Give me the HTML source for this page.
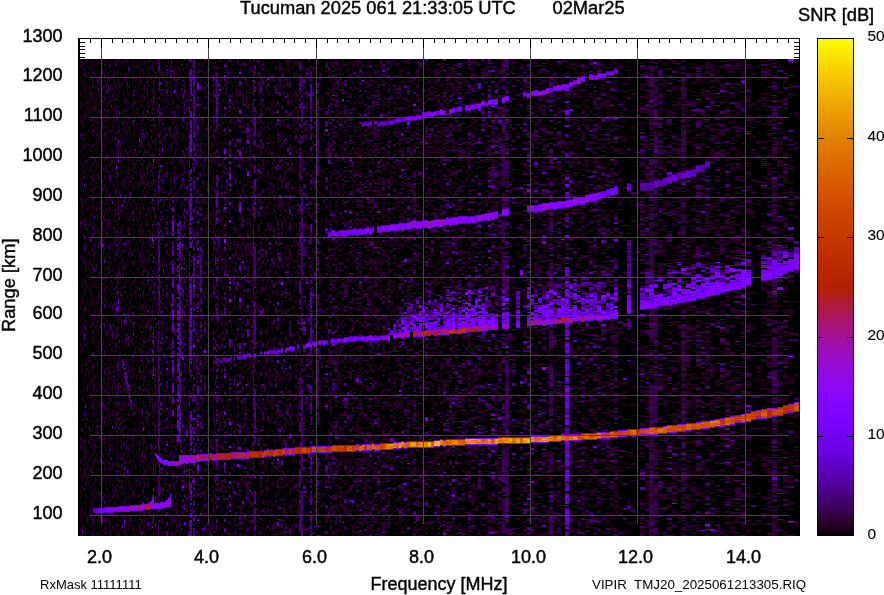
<!DOCTYPE html>
<html><head><meta charset="utf-8"><title>Ionogram</title>
<style>
html,body{margin:0;padding:0;background:#fff;width:884px;height:595px;overflow:hidden}
svg{display:block}
text{font-family:'Liberation Sans', Arial, Helvetica, sans-serif;fill:#000;stroke:#000;stroke-width:0.3px}
.t{font-size:18px;stroke-width:0.45px}
.b{font-size:18.3px;stroke-width:0.4px}
.s{font-size:13.5px;white-space:pre;stroke-width:0}
.c{font-size:15.5px;stroke-width:0.1px}
</style></head><body>
<svg width="884" height="595" viewBox="0 0 884 595" shape-rendering="crispEdges">
<rect x="78" y="59" width="722" height="477" fill="#000"/>
<g fill="none"><path stroke="#1f0018" stroke-width="1" d="M78.5 67v2m0 2v3m0 2v1m0 22v5m0 10v1m0 18v3m0 18v1m0 15v2m0 28v2m0 6v1m0 93v2m0 5v2m0 29v3m0 27v1m0 4v3m0 7v3m0 30v3m0 2v2m0 6v2m0 6v1m0 18v3m0 36v2m0 18v4M79.5 73v1m0 7v5m0 29v3m0 15v3m0 2v2m0 13v3m0 23v1m0 10v2m0 4v3m0 5v2m0 10v3m0 7v1m0 4v1m0 31v4m0 19v1m0 11v2m0 57v2m0 3v3m0 7v1m0 6v2m0 15v6m0 46v1m0 3v2m0 3v1m0 6v1m0 7v3m0 13v2m0 36v5m0 4v1M80.5 64v4m0 8v5m0 26v1m0 6v4m0 5v1m0 9v1m0 27v4m0 10v1m0 2v3m0 4v1m0 43v4m0 4v1m0 28v2m0 30v1m0 3v7m0 7v3m0 15v1m0 22v3m0 11v1m0 17v4m0 44v1m0 30v1m0 22v9m0 12v6m0 10v3M81.5 65v2m0 13v4m0 14v2m0 40v4m0 19v3m0 7v2m0 11v6m0 1v2m0 12v3m0 45v2m0 14v1m0 21v3m0 12v1m0 3v2m0 4v3m0 4v3m0 37v3m0 1v1m0 19v1m0 13v1m0 20v1m0 3v4m0 26v3m0 13v2m0 5v1m0 1v4m0 3v3m0 3v1m0 15v1m0 4v1M82.5 69v2m0 10v3m0 5v4m0 3v2m0 14v1m0 2v1m0 3v2m0 6v1m0 35v4m0 2v5m0 28v9m0 2v2m0 13v2m0 4v3m0 18v2m0 13v1m0 12v1m0 17v2m0 20v1m0 18v4m0 2v4m0 8v1m0 8v1m0 12v2m0 13v2m0 1v2m0 15v4m0 28v2m0 16v3m0 6v2m0 7v4m0 14v1m0 3v3m0 4v3m0 4v2M83.5 60v1m0 9v2m0 5v3m0 7v3m0 6v3m0 4v2m0 8v2m0 6v1m0 33v2m0 8v1m0 28v1m0 7v6m0 5v2m0 7v2m0 34v2m0 17v4m0 13v3m0 14v3m0 1v5m0 43v1m0 26v1m0 61v1m0 11v1m0 22v2m0 27v1M84.5 61v2m0 23v6m0 18v2m0 46v1m0 56v1m0 5v3m0 8v3m0 17v3m0 18v1m0 8v1m0 24v4m0 1v1m0 66v4m0 75v2m0 14v3m0 55v2M85.5 72v2m0 7v1m0 43v2m0 15v2m0 86v2m0 15v4m0 31v3m0 25v2m0 3v1m0 9v3m0 5v5m0 12v3m0 7v1m0 5v4m0 1v3m0 2v1m0 12v1m0 7v2m0 11v10m0 11v3m0 20v2m0 18v2m0 23v1m0 29v2M86.5 67v1m0 16v1m0 1v4m0 9v4m0 4v5m0 23v2m0 33v1m0 3v3m0 8v2m0 3v2m0 16v1m0 10v3m0 21v2m0 14v4m0 2v4m0 10v2m0 4v3m0 1v3m0 9v3m0 4v3m0 10v4m0 15v2m0 2v3m0 6v1m0 10v2m0 2v3m0 18v2m0 2v1m0 17v1m0 4v3m0 33v3m0 25v1m0 2v3m0 42v3M87.5 95v3m0 2v2m0 5v1m0 54v1m0 14v3m0 6v2m0 11v1m0 8v3m0 31v1m0 22v3m0 6v2m0 22v3m0 46v2m0 47v3m0 27v2m0 1v2m0 27v2m0 5v3m0 6v1m0 2v2m0 17v7m0 14v2M88.5 72v3m0 23v2m0 15v2m0 27v2m0 25v2m0 23v3m0 5v3m0 9v1m0 8v2m0 23v3m0 25v1m0 25v3m0 2v3m0 33v1m0 14v3m0 15v2m0 24v1m0 25v1m0 20v3m0 5v5m0 1v3m0 17v1m0 3v1m0 29v1m0 4v1m0 6v4M89.5 65v3m0 15v2m0 4v2m0 36v3m0 19v2m0 24v2m0 5v3m0 4v4m0 25v2m0 13v1m0 5v4m0 46v3m0 4v1m0 10v1m0 5v1m0 22v1m0 12v3m0 6v2m0 4v1m0 6v5m0 17v2m0 11v4m0 2v5m0 20v5m0 2v1m0 10v2m0 51v4m0 3v1m0 6v3m0 7v1m0 2v1M90.5 66v6m0 4v2m0 9v2m0 7v3m0 5v1m0 10v1m0 9v2m0 12v1m0 4v1m0 24v3m0 4v1m0 13v2m0 14v1m0 6v2m0 5v8m0 26v1m0 8v1m0 15v1m0 4v8m0 53v2m0 4v2m0 5v3m0 21v2m0 4v2m0 6v3m0 4v2m0 22v1m0 10v3m0 6v2m0 19v2m0 24v7m0 3v3m0 7v2m0 19v1M91.5 78v3m0 2v7m0 6v2m0 8v2m0 1v2m0 2v1m0 5v1m0 13v1m0 80v2m0 6v1m0 28v1m0 9v5m0 4v3m0 6v2m0 3v1m0 12v5m0 2v1m0 2v2m0 10v1m0 11v1m0 20v2m0 6v3m0 4v2m0 2v2m0 19v1m0 7v1m0 18v1m0 4v1m0 7v2m0 19v8m0 5v2m0 36v2M92.5 63v2m0 6v2m0 8v4m0 4v2m0 3v3m0 2v2m0 10v1m0 8v1m0 5v1m0 8v2m0 18v4m0 2v6m0 10v2m0 17v2m0 3v4m0 1v2m0 2v3m0 10v4m0 17v2m0 23v3m0 5v2m0 3v1m0 2v3m0 1v1m0 3v3m0 16v4m0 8v4m0 2v1m0 3v1m0 1v2m0 29v2m0 7v4m0 1v10m0 7v2m0 4v2m0 70v2m0 14v5m0 9v2m0 20v2M93.5 74v1m0 9v2m0 8v1m0 12v2m0 1v4m0 4v3m0 32v3m0 18v1m0 46v2m0 4v1m0 6v2m0 7v2m0 2v2m0 9v3m0 100v1m0 19v4m0 34v3m0 19v3m0 7v2m0 15v3m0 4v1m0 11v2m0 4v2m0 12v1m0 5v1m0 21v1M94.5 93v2m0 11v5m0 5v4m0 23v3m0 8v1m0 20v4m0 29v1m0 5v1m0 8v2m0 1v7m0 15v1m0 13v1m0 1v2m0 1v1m0 14v2m0 12v2m0 15v3m0 8v4m0 35v4m0 9v4m0 4v2m0 12v3m0 10v3m0 3v2m0 8v1m0 22v3m0 11v1m0 2v2m0 19v1m0 1v1m0 1v2m0 2v2m0 18v1m0 3v1m0 7v3M95.5 64v1m0 24v1m0 14v3m0 11v3m0 5v3m0 3v2m0 15v2m0 21v2m0 15v1m0 19v1m0 5v1m0 23v2m0 17v1m0 28v1m0 17v2m0 2v2m0 2v1m0 6v2m0 22v1m0 17v3m0 10v2m0 15v2m0 17v1m0 10v2m0 11v3m0 29v2m0 16v7m0 3v4m0 18v1m0 17v1M96.5 81v1m0 35v7m0 5v2m0 1v2m0 6v4m0 19v4m0 118v3m0 24v2m0 10v1m0 5v1m0 15v2m0 8v1m0 16v2m0 14v3m0 5v3m0 9v2m0 8v2m0 3v7m0 3v1m0 5v1m0 17v3m0 28v1m0 7v3m0 2v1m0 17v1M97.5 59v2m0 3v2m0 4v5m0 8v5m0 1v3m0 3v4m0 9v4m0 9v4m0 25v3m0 2v1m0 30v2m0 18v3m0 25v2m0 2v1m0 14v1m0 3v8m0 14v1m0 21v1m0 11v4m0 4v1m0 12v1m0 38v4m0 3v2m0 11v3m0 8v3m0 2v3m0 42v3m0 16v1m0 4v1m0 10v4m0 6v4m0 1v2m0 11v3m0 3v4M98.5 60v4m0 10v5m0 12v3m0 9v2m0 3v3m0 5v2m0 1v1m0 1v1m0 10v5m0 20v2m0 1v2m0 3v2m0 5v3m0 12v1m0 5v2m0 17v3m0 22v1m0 5v2m0 1v3m0 4v2m0 11v1m0 17v1m0 2v1m0 14v2m0 13v2m0 4v1m0 6v2m0 8v5m0 23v2m0 5v3m0 7v2m0 14v2m0 2v3m0 12v1m0 14v2m0 1v1m0 4v1m0 5v4m0 38v3m0 3v1m0 15v3M99.5 79v4m0 24v1m0 18v1m0 9v3m0 31v1m0 11v3m0 13v2m0 6v4m0 28v1m0 8v2m0 6v1m0 15v1m0 4v1m0 52v2m0 4v2m0 5v1m0 60v2m0 3v2m0 1v2m0 3v5m0 23v4m0 8v1m0 18v2m0 17v1m0 31v2M100.5 78v3m0 2v4m0 9v2m0 2v4m0 14v2m0 8v2m0 3v2m0 3v3m0 26v1m0 32v4m0 12v4m0 18v3m0 3v1m0 12v1m0 6v1m0 18v1m0 2v1m0 8v3m0 9v3m0 1v2m0 24v1m0 2v3m0 25v1m0 7v2m0 3v3m0 13v2m0 1v1m0 6v3m0 3v2m0 9v2m0 12v1m0 14v1m0 29v2m0 44v3m0 2v2M101.5 71v3m0 13v3m0 5v4m0 18v3m0 1v1m0 9v4m0 4v2m0 50v4m0 37v1m0 10v2m0 13v2m0 15v4m0 9v1m0 35v2m0 7v1m0 8v3m0 2v1m0 9v2m0 4v2m0 13v1m0 3v2m0 1v3m0 22v5m0 15v1m0 2v3m0 9v2m0 24v2m0 11v2m0 1v1m0 19v1m0 11v1m0 13v2M102.5 60v4m0 2v1m0 13v2m0 4v2m0 40v3m0 17v2m0 47v1m0 10v3m0 25v2m0 48v3m0 3v1m0 20v2m0 8v2m0 17v1m0 17v2m0 3v1m0 33v1m0 7v2m0 54v2m0 15v1m0 12v1M103.5 94v2m0 5v4m0 7v1m0 8v1m0 1v4m0 7v1m0 7v3m0 5v2m0 5v4m0 5v2m0 13v1m0 61v3m0 10v3m0 2v2m0 2v2m0 20v2m0 7v1m0 65v1m0 4v2m0 1v1m0 10v2m0 42v2m0 58v2m0 4v2m0 20v1m0 7v1m0 11v1M104.5 59v4m0 17v2m0 18v2m0 1v1m0 2v2m0 3v3m0 5v4m0 16v1m0 10v2m0 9v2m0 5v1m0 17v4m0 13v1m0 12v1m0 7v7m0 9v3m0 20v2m0 3v4m0 1v2m0 20v4m0 17v4m0 7v3m0 16v2m0 15v1m0 13v4m0 26v4m0 4v4m0 23v6m0 23v3m0 3v2m0 11v1m0 26v1M105.5 59v4m0 13v4m0 5v2m0 2v1m0 1v2m0 4v2m0 23v2m0 23v3m0 3v3m0 19v4m0 1v1m0 3v1m0 13v3m0 7v2m0 34v4m0 3v1m0 40v2m0 57v1m0 10v4m0 2v6m0 9v5m0 2v3m0 3v1m0 12v2m0 1v1m0 17v4m0 25v4m0 3v4m0 14v2m0 3v2m0 3v2m0 7v1m0 23v3M106.5 103v2m0 4v6m0 43v1m0 1v1m0 4v3m0 5v1m0 16v2m0 2v1m0 4v3m0 10v3m0 11v1m0 7v2m0 63v4m0 3v1m0 3v3m0 11v1m0 13v2m0 1v2m0 4v2m0 6v4m0 6v1m0 21v6m0 15v4m0 10v1m0 15v2m0 9v2m0 27v3m0 22v2m0 23v2m0 4v2M107.5 65v3m0 7v1m0 13v2m0 12v1m0 11v3m0 20v3m0 5v2m0 4v4m0 7v5m0 2v3m0 16v5m0 5v7m0 20v2m0 3v2m0 28v2m0 7v3m0 12v2m0 5v2m0 10v2m0 3v3m0 4v3m0 7v1m0 4v3m0 6v2m0 10v3m0 27v4m0 3v1m0 5v2m0 27v2m0 29v1m0 2v1m0 4v1m0 3v1m0 7v2m0 14v1m0 3v1m0 4v1m0 3v3m0 6v2m0 16v2M108.5 76v2m0 5v4m0 15v3m0 4v2m0 1v2m0 4v2m0 10v2m0 17v1m0 3v2m0 21v4m0 1v2m0 17v2m0 5v2m0 12v4m0 3v3m0 24v2m0 11v6m0 27v2m0 2v3m0 12v1m0 12v2m0 9v2m0 11v6m0 3v1m0 9v3m0 4v3m0 24v1m0 4v3m0 12v1m0 3v4m0 3v2m0 2v2m0 16v4m0 5v4m0 3v3m0 13v2m0 2v2m0 12v1m0 4v3m0 2v3m0 7v2M109.5 68v4m0 23v4m0 25v1m0 4v4m0 48v2m0 45v1m0 18v1m0 1v1m0 6v1m0 4v3m0 27v1m0 9v2m0 3v3m0 1v4m0 22v2m0 16v4m0 7v1m0 7v1m0 18v1m0 11v2m0 13v2m0 4v2m0 12v1m0 38v3m0 37v1m0 9v8M110.5 61v1m0 16v2m0 24v1m0 36v1m0 1v2m0 36v2m0 6v1m0 2v4m0 13v3m0 7v1m0 1v9m0 4v3m0 7v3m0 4v3m0 7v6m0 4v1m0 4v1m0 9v1m0 33v2m0 8v4m0 10v2m0 4v2m0 11v1m0 8v6m0 19v2m0 13v2m0 8v2m0 38v1m0 3v1m0 14v1m0 4v2M111.5 128v1m0 1v2m0 16v7m0 7v4m0 6v1m0 58v5m0 17v1m0 15v2m0 12v1m0 1v3m0 13v3m0 6v2m0 7v1m0 5v2m0 21v4m0 5v1m0 16v4m0 3v1m0 16v1m0 24v2m0 5v2m0 4v1m0 6v1m0 19v3m0 6v1m0 61v2M112.5 63v2m0 9v3m0 7v1m0 30v2m0 5v3m0 1v2m0 41v3m0 24v3m0 9v3m0 32v3m0 2v4m0 13v4m0 12v2m0 9v1m0 29v2m0 23v4m0 4v3m0 8v2m0 2v4m0 28v2m0 5v1m0 27v3m0 2v9m0 47v1m0 2v1m0 4v1m0 10v2M113.5 75v4m0 5v1m0 11v6m0 9v2m0 9v1m0 7v2m0 3v1m0 13v2m0 43v1m0 23v1m0 6v1m0 4v2m0 10v1m0 14v1m0 7v1m0 22v2m0 43v3m0 3v2m0 14v2m0 10v2m0 27v3m0 28v3m0 2v2m0 5v1m0 22v3m0 4v2m0 6v1m0 20v1m0 16v2m0 15v1M114.5 59v1m0 10v1m0 4v3m0 10v3m0 2v3m0 2v2m0 7v2m0 2v2m0 9v3m0 3v2m0 1v2m0 5v2m0 15v3m0 8v3m0 2v3m0 1v1m0 12v2m0 13v2m0 7v6m0 5v4m0 6v1m0 10v4m0 3v3m0 8v1m0 43v3m0 3v3m0 28v1m0 2v2m0 8v1m0 3v4m0 6v3m0 4v2m0 3v5m0 32v2m0 10v1m0 6v2m0 24v2m0 5v1m0 18v2m0 21v1m0 20v2M115.5 82v2m0 11v1m0 14v4m0 11v2m0 41v3m0 18v1m0 3v3m0 14v1m0 1v1m0 28v2m0 2v2m0 6v2m0 17v2m0 17v1m0 18v3m0 2v1m0 6v1m0 2v2m0 6v2m0 18v1m0 29v1m0 2v2m0 18v1m0 5v5m0 2v2m0 3v3m0 16v1m0 27v1m0 6v4m0 15v2m0 14v4m0 4v2M116.5 99v3m0 4v4m0 78v2m0 3v3m0 7v2m0 9v3m0 6v1m0 10v3m0 2v2m0 15v2m0 2v2m0 14v1m0 11v2m0 11v1m0 48v1m0 15v2m0 15v3m0 29v2m0 3v2m0 5v1m0 4v1m0 18v4m0 61v2m0 5v7m0 3v2M117.5 59v3m0 17v2m0 24v1m0 5v1m0 26v3m0 22v2m0 18v4m0 2v2m0 3v3m0 6v2m0 19v2m0 12v2m0 38v3m0 3v1m0 30v1m0 16v1m0 1v2m0 32v3m0 11v2m0 18v3m0 6v1m0 6v4m0 17v3m0 4v1m0 2v1m0 5v7m0 7v3m0 6v1m0 11v3m0 2v2m0 16v2m0 5v1M118.5 70v2m0 21v1m0 2v2m0 13v5m0 22v2m0 34v1m0 27v3m0 14v5m0 60v1m0 4v4m0 22v1m0 10v1m0 12v3m0 5v1m0 60v3m0 8v1m0 13v2m0 42v2m0 19v3m0 2v4m0 13v1m0 12v3M119.5 62v1m0 5v2m0 12v3m0 15v4m0 18v2m0 17v3m0 5v2m0 16v1m0 5v2m0 8v2m0 5v1m0 13v3m0 5v2m0 13v2m0 15v2m0 10v2m0 7v2m0 3v3m0 10v1m0 3v4m0 5v5m0 1v2m0 3v1m0 3v2m0 43v2m0 11v2m0 6v2m0 22v2m0 20v1m0 8v2m0 79v3m0 17v2M120.5 65v1m0 6v4m0 28v2m0 28v4m0 3v5m0 1v3m0 14v2m0 38v3m0 2v5m0 24v4m0 3v3m0 31v2m0 11v2m0 14v3m0 10v3m0 27v8m0 11v4m0 10v5m0 3v2m0 8v2m0 1v4m0 5v5m0 12v2m0 1v3m0 2v1m0 4v4m0 6v2m0 23v3m0 2v4m0 10v2m0 21v1M121.5 68v1m0 2v2m0 13v3m0 30v3m0 9v2m0 28v2m0 21v2m0 5v5m0 30v4m0 24v2m0 33v1m0 7v4m0 12v4m0 1v1m0 16v2m0 5v2m0 7v2m0 7v3m0 21v1m0 25v5m0 2v1m0 14v1m0 51v1m0 4v2m0 4v1m0 5v5m0 10v4m0 13v3M122.5 124v2m0 10v3m0 9v3m0 5v2m0 12v2m0 6v2m0 11v2m0 19v4m0 11v1m0 22v3m0 5v2m0 2v2m0 2v2m0 1v2m0 28v1m0 5v5m0 18v1m0 36v1m0 9v5m0 3v1m0 59v2m0 8v2m0 25v6m0 26v1m0 17v3M123.5 61v3m0 15v2m0 15v1m0 15v2m0 6v1m0 31v1m0 2v5m0 24v4m0 6v1m0 7v1m0 25v1m0 18v2m0 45v1m0 5v1m0 19v1m0 8v3m0 16v2m0 21v1m0 7v3m0 60v2m0 10v3m0 13v3m0 12v4m0 28v4M124.5 101v4m0 22v3m0 27v3m0 25v3m0 58v3m0 44v1m0 30v1m0 3v2m0 13v4m0 39v1m0 9v2m0 7v4m0 9v2m0 21v2m0 48v4m0 28v3M125.5 59v3m0 5v3m0 2v2m0 6v3m0 18v4m0 1v2m0 7v1m0 5v4m0 13v1m0 15v1m0 14v1m0 1v2m0 21v3m0 10v1m0 6v2m0 16v1m0 6v2m0 3v2m0 14v3m0 17v3m0 9v1m0 3v1m0 6v7m0 2v5m0 3v1m0 9v3m0 5v4m0 3v4m0 3v3m0 5v3m0 12v1m0 14v3m0 13v3m0 5v2m0 23v1m0 24v3m0 3v1m0 5v3m0 3v7m0 3v2m0 7v4m0 24v2M126.5 72v1m0 1v2m0 14v2m0 24v2m0 10v3m0 17v3m0 8v3m0 22v1m0 20v3m0 8v5m0 44v2m0 12v4m0 4v1m0 4v2m0 15v2m0 33v3m0 27v1m0 22v1m0 7v2m0 55v2m0 12v2m0 4v2m0 5v2m0 12v2m0 18v3M127.5 61v3m0 6v1m0 52v1m0 9v4m0 2v1m0 15v2m0 8v3m0 1v6m0 26v2m0 1v3m0 6v10m0 12v2m0 18v1m0 11v1m0 30v1m0 11v3m0 27v2m0 23v1m0 8v2m0 8v1m0 5v2m0 21v2m0 20v1m0 17v2m0 10v1m0 8v2m0 21v3m0 16v2m0 7v2m0 3v3M128.5 79v1m0 13v3m0 4v2m0 14v2m0 6v1m0 2v4m0 6v3m0 12v4m0 2v3m0 3v3m0 17v4m0 11v1m0 27v3m0 24v2m0 6v1m0 43v5m0 72v1m0 7v2m0 8v1m0 30v3m0 2v2m0 5v4m0 5v3m0 25v2m0 2v2m0 15v2m0 8v2m0 6v5m0 4v3M129.5 62v1m0 4v3m0 2v1m0 30v3m0 15v5m0 11v1m0 2v3m0 17v2m0 13v8m0 2v2m0 7v2m0 24v2m0 8v3m0 9v1m0 4v1m0 8v4m0 17v3m0 5v1m0 15v3m0 46v2m0 3v1m0 3v4m0 22v2m0 30v4m0 12v1m0 1v2m0 23v3m0 6v2m0 7v2m0 5v1m0 12v2m0 20v3m0 1v2M130.5 113v1m0 1v3m0 21v2m0 8v4m0 14v1m0 2v1m0 4v2m0 42v1m0 30v5m0 16v1m0 39v2m0 10v3m0 5v4m0 2v4m0 30v2m0 1v3m0 10v3m0 6v1m0 1v1m0 15v3m0 19v2m0 38v1m0 7v3m0 6v3m0 19v1m0 9v4M131.5 63v4m0 10v3m0 26v3m0 28v1m0 22v3m0 30v1m0 6v4m0 24v2m0 31v3m0 23v3m0 1v1m0 6v3m0 13v2m0 7v1m0 6v2m0 6v3m0 14v2m0 8v3m0 2v2m0 1v1m0 2v3m0 7v3m0 5v2m0 5v1m0 13v1m0 5v2m0 8v1m0 2v5m0 7v1m0 11v2m0 5v2m0 4v2m0 23v1m0 7v1m0 6v2m0 10v1M132.5 64v3m0 2v3m0 22v3m0 26v3m0 15v2m0 3v6m0 12v1m0 10v7m0 3v4m0 18v3m0 1v1m0 4v1m0 9v2m0 24v1m0 6v1m0 7v1m0 16v1m0 9v4m0 21v2m0 17v6m0 27v1m0 2v2m0 8v1m0 3v2m0 3v5m0 1v2m0 7v4m0 11v1m0 4v2m0 3v4m0 29v3m0 6v3m0 9v1m0 14v1m0 17v2M133.5 109v1m0 15v2m0 5v1m0 5v2m0 23v4m0 22v4m0 14v2m0 5v1m0 16v2m0 2v2m0 6v1m0 8v2m0 82v2m0 64v5m0 9v1m0 1v4m0 30v5m0 4v2m0 31v4M134.5 71v1m0 5v2m0 18v1m0 3v3m0 11v2m0 8v10m0 15v2m0 7v1m0 3v5m0 4v1m0 4v1m0 5v3m0 13v2m0 17v4m0 17v3m0 9v1m0 12v2m0 8v2m0 6v3m0 7v2m0 19v2m0 4v6m0 26v4m0 2v4m0 6v1m0 9v1m0 4v1m0 3v3m0 2v2m0 10v2m0 25v4m0 4v1m0 8v1m0 8v1m0 2v4m0 4v1m0 8v3m0 2v1m0 7v2m0 7v1m0 29v5M135.5 66v2m0 23v4m0 9v3m0 11v4m0 12v3m0 9v2m0 8v3m0 7v1m0 4v3m0 14v2m0 13v2m0 4v1m0 2v1m0 37v2m0 5v2m0 7v2m0 23v1m0 1v1m0 2v2m0 2v1m0 28v2m0 5v1m0 4v2m0 16v2m0 21v2m0 4v2m0 4v2m0 1v2m0 6v4m0 5v3m0 4v3m0 1v1m0 2v1m0 25v2m0 7v3m0 9v3m0 1v3m0 7v1m0 21v1m0 6v1m0 9v1m0 5v1M136.5 59v2m0 4v3m0 8v1m0 24v4m0 7v1m0 24v2m0 2v3m0 7v3m0 3v3m0 2v2m0 11v1m0 28v3m0 11v3m0 13v1m0 51v7m0 1v1m0 8v1m0 1v4m0 8v2m0 34v2m0 4v1m0 3v3m0 6v4m0 31v4m0 32v2m0 30v1m0 3v2m0 2v1M137.5 64v2m0 14v1m0 5v3m0 4v1m0 6v2m0 3v4m0 4v3m0 7v3m0 24v3m0 7v1m0 2v1m0 15v1m0 1v1m0 5v3m0 2v1m0 1v3m0 5v4m0 55v1m0 7v3m0 13v2m0 25v4m0 7v2m0 18v1m0 8v2m0 23v1m0 12v6m0 8v2m0 3v5m0 3v1m0 4v3m0 2v2m0 60v1M138.5 67v2m0 1v2m0 10v1m0 17v2m0 13v3m0 3v1m0 7v2m0 10v2m0 2v3m0 8v1m0 38v1m0 11v2m0 2v2m0 4v4m0 2v2m0 4v3m0 2v3m0 8v2m0 6v2m0 38v3m0 19v4m0 5v3m0 10v1m0 3v4m0 2v3m0 21v4m0 2v1m0 13v4m0 15v3m0 10v4m0 25v2m0 3v3m0 11v1m0 12v4m0 3v3m0 2v2m0 26v2M139.5 84v2m0 28v2m0 93v2m0 7v2m0 14v3m0 2v2m0 60v1m0 50v4m0 4v2m0 36v2m0 32v1m0 14v2m0 62v1m0 4v1m0 14v2M140.5 68v3m0 3v1m0 4v2m0 19v3m0 22v5m0 10v1m0 36v1m0 2v5m0 12v2m0 4v2m0 5v2m0 2v3m0 5v3m0 12v2m0 1v2m0 4v1m0 3v2m0 19v2m0 25v2m0 14v3m0 1v2m0 6v2m0 18v3m0 27v1m0 12v2m0 3v4m0 3v2m0 2v2m0 15v4m0 4v2m0 38v3m0 2v3m0 6v2m0 26v1m0 9v7m0 5v1M141.5 64v6m0 3v1m0 18v1m0 7v4m0 43v4m0 9v1m0 21v1m0 6v2m0 3v5m0 13v2m0 5v7m0 2v1m0 2v2m0 16v2m0 5v2m0 2v3m0 1v3m0 7v2m0 31v2m0 7v4m0 3v1m0 19v4m0 6v1m0 23v1m0 53v6m0 12v1m0 5v1m0 37v2m0 3v3m0 17v2m0 4v3M142.5 69v2m0 33v1m0 6v5m0 3v4m0 4v3m0 25v4m0 5v2m0 3v2m0 3v2m0 15v2m0 10v3m0 21v2m0 7v2m0 1v4m0 9v2m0 5v1m0 12v2m0 5v2m0 6v1m0 17v1m0 7v1m0 17v2m0 2v4m0 32v2m0 3v1m0 18v1m0 23v3m0 1v1m0 51v3m0 7v1m0 4v4m0 5v3m0 18v1m0 13v2M143.5 70v1m0 2v2m0 9v1m0 11v1m0 5v2m0 2v4m0 5v2m0 4v1m0 42v3m0 26v4m0 2v2m0 27v3m0 3v2m0 38v1m0 3v1m0 27v3m0 3v5m0 29v2m0 1v3m0 14v4m0 33v2m0 40v4m0 2v5m0 2v1m0 2v1m0 19v2m0 9v1m0 4v2m0 26v2M144.5 59v6m0 25v2m0 23v3m0 7v2m0 16v1m0 5v8m0 15v4m0 2v4m0 12v2m0 5v2m0 12v2m0 37v3m0 2v1m0 6v1m0 11v3m0 5v3m0 5v3m0 7v2m0 4v9m0 5v1m0 11v3m0 12v4m0 6v2m0 9v1m0 21v2m0 14v2m0 12v1m0 1v5m0 8v5m0 14v3m0 13v3m0 5v2m0 11v1m0 14v1m0 5v2m0 13v5M145.5 64v2m0 10v1m0 13v4m0 121v1m0 5v4m0 10v4m0 4v2m0 15v2m0 5v1m0 19v1m0 9v2m0 14v2m0 7v1m0 6v2m0 2v2m0 7v1m0 13v1m0 26v2m0 4v1m0 6v3m0 45v3m0 6v1m0 4v2m0 5v3m0 14v1m0 1v1m0 9v5m0 11v1m0 16v4M146.5 81v3m0 7v3m0 21v1m0 15v3m0 40v2m0 2v2m0 3v3m0 4v3m0 1v4m0 10v2m0 10v2m0 2v2m0 3v3m0 2v2m0 36v1m0 3v2m0 24v3m0 4v2m0 3v1m0 7v3m0 17v1m0 20v2m0 22v2m0 15v2m0 14v4m0 18v1m0 2v1m0 11v4m0 11v2m0 2v1m0 37v1m0 3v5m0 3v2m0 2v1M147.5 61v1m0 3v6m0 2v2m0 1v3m0 25v2m0 41v1m0 6v3m0 1v1m0 5v2m0 4v1m0 15v2m0 31v2m0 5v1m0 13v2m0 4v4m0 82v1m0 4v1m0 19v3m0 12v2m0 15v2m0 67v6m0 2v4m0 4v1m0 6v1m0 20v2M148.5 97v4m0 6v4m0 32v3m0 5v4m0 9v5m0 17v1m0 22v3m0 11v2m0 37v2m0 29v3m0 24v1m0 25v3m0 21v1m0 20v2m0 1v1m0 1v1m0 16v2m0 3v3m0 3v1m0 21v1m0 10v1m0 8v4m0 29v2m0 9v1m0 7v3m0 5v2M149.5 84v3m0 15v2m0 55v3m0 37v1m0 11v4m0 22v1m0 27v1m0 2v4m0 3v5m0 3v1m0 9v1m0 15v3m0 21v3m0 18v1m0 3v2m0 10v7m0 2v1m0 9v4m0 68v2m0 10v8m0 9v1m0 2v1m0 16v1m0 18v2M152.5 75v1m0 4v2m0 20v2m0 3v4m0 4v5m0 8v4m0 2v4m0 13v2m0 1v1m0 6v1m0 3v4m0 14v2m0 19v2m0 21v2m0 3v1m0 20v1m0 36v2m0 14v4m0 3v3m0 17v3m0 11v2m0 66v3m0 11v1m0 22v2m0 55v1m0 14v2M153.5 62v2m0 3v2m0 19v3m0 48v3m0 30v3m0 9v4m0 5v2m0 8v1m0 9v1m0 37v2m0 53v2m0 15v2m0 79v1m0 4v3m0 38v4m0 16v2m0 20v2M154.5 63v1m0 7v2m0 5v1m0 16v6m0 2v1m0 19v2m0 7v2m0 27v1m0 18v2m0 23v3m0 10v1m0 12v3m0 4v3m0 7v3m0 53v3m0 36v4m0 4v1m0 7v1m0 12v4m0 26v3m0 8v1m0 29v1m0 15v3m0 10v1m0 4v4m0 1v1m0 7v4m0 4v3m0 8v4m0 5v1m0 9v3m0 2v2M155.5 112v2m0 48v2m0 49v2m0 3v6m0 9v2m0 42v4m0 51v4m0 33v4m0 3v1m0 14v2m0 25v1m0 75v2M156.5 74v3m0 4v1m0 16v1m0 5v4m0 3v2m0 7v2m0 5v2m0 1v3m0 14v1m0 10v1m0 72v1m0 11v2m0 7v4m0 8v1m0 8v4m0 16v2m0 40v2m0 26v3m0 1v2m0 7v2m0 11v4m0 4v4m0 10v1m0 27v5m0 15v1m0 19v4m0 4v5m0 4v1m0 15v4m0 15v4M157.5 65v1m0 6v2m0 1v1m0 15v1m0 9v2m0 21v1m0 6v2m0 10v4m0 10v2m0 7v4m0 7v2m0 27v2m0 7v1m0 2v4m0 6v3m0 4v2m0 4v1m0 1v3m0 14v1m0 8v2m0 1v1m0 17v2m0 7v3m0 3v1m0 3v1m0 4v1m0 3v1m0 3v2m0 3v2m0 13v4m0 3v3m0 4v1m0 4v3m0 37v4m0 16v2m0 25v6m0 20v3m0 16v1m0 7v1m0 11v2m0 8v1m0 4v3M158.5 64v1m0 11v1m0 20v1m0 38v5m0 12v2m0 7v2m0 9v1m0 7v1m0 25v1m0 6v3m0 89v1m0 17v1m0 175v3M159.5 118v1m0 2v1m0 1v4m0 40v3m0 19v2m0 3v2m0 5v2m0 14v2m0 2v1m0 67v2m0 70v4m0 42v2m0 53v2m0 34v1m0 29v1M162.5 87v3m0 3v4m0 11v1m0 4v1m0 5v4m0 6v1m0 6v2m0 5v3m0 8v3m0 7v2m0 5v6m0 6v3m0 8v2m0 79v2m0 12v4m0 16v3m0 7v1m0 1v2m0 17v2m0 6v1m0 5v1m0 7v2m0 3v3m0 10v2m0 14v1m0 13v1m0 16v1m0 1v1m0 105v1M163.5 83v1m0 11v2m0 5v1m0 33v5m0 6v1m0 4v1m0 6v1m0 1v1m0 3v1m0 14v4m0 3v1m0 13v1m0 5v1m0 7v2m0 9v2m0 5v1m0 2v4m0 9v1m0 25v1m0 5v2m0 13v4m0 6v2m0 7v1m0 3v7m0 12v2m0 21v1m0 22v1m0 12v4m0 11v2m0 5v3m0 4v5m0 11v3m0 24v2M164.5 68v2m0 10v4m0 9v2m0 37v3m0 32v2m0 4v1m0 20v2m0 6v1m0 9v5m0 2v2m0 7v1m0 35v2m0 5v1m0 11v2m0 3v4m0 3v4m0 16v5m0 25v1m0 6v1m0 38v2m0 12v3m0 18v4m0 8v1m0 12v3m0 12v3m0 2v1m0 12v1m0 1v2m0 7v1m0 28v1M165.5 66v2m0 2v3m0 7v4m0 40v1m0 11v3m0 8v2m0 3v2m0 11v5m0 49v7m0 7v4m0 18v1m0 8v2m0 10v3m0 12v6m0 6v2m0 18v3m0 5v1m0 7v2m0 32v8m0 5v1m0 8v2m0 1v5m0 14v2m0 9v1m0 2v4m0 1v2m0 32v2m0 10v1m0 30v1m0 8v1M168.5 67v2m0 4v1m0 15v2m0 3v2m0 32v4m0 6v1m0 20v1m0 9v1m0 61v5m0 9v1m0 7v3m0 18v6m0 13v2m0 2v4m0 1v2m0 24v1m0 37v3m0 4v1m0 11v1m0 6v3m0 5v3m0 20v2m0 3v4m0 5v3m0 43v2m0 3v4m0 5v1m0 34v3M169.5 85v3m0 2v3m0 42v3m0 9v1m0 10v4m0 9v3m0 5v2m0 1v1m0 16v6m0 57v3m0 3v1m0 3v1m0 6v3m0 6v3m0 8v3m0 26v1m0 32v3m0 5v3m0 27v4m0 4v2m0 17v3m0 9v1m0 29v2m0 26v1m0 26v2m0 8v2M170.5 86v3m0 4v3m0 8v2m0 5v4m0 6v2m0 22v2m0 12v2m0 17v2m0 7v4m0 29v2m0 9v3m0 7v2m0 9v1m0 2v4m0 9v2m0 3v2m0 2v1m0 6v3m0 18v4m0 20v2m0 7v3m0 4v2m0 9v2m0 2v3m0 26v3m0 6v3m0 3v4m0 13v1m0 9v2m0 5v1m0 12v2m0 35v1m0 21v3m0 14v1M171.5 63v1m0 7v1m0 7v2m0 4v3m0 9v2m0 10v8m0 18v4m0 16v3m0 14v2m0 1v1m0 6v2m0 12v1m0 16v1m0 4v1m0 3v3m0 22v2m0 5v3m0 8v1m0 28v4m0 37v3m0 34v3m0 12v2m0 8v3m0 5v3m0 3v1m0 2v2m0 3v3m0 22v2m0 47v2m0 33v2M174.5 59v1m0 4v1m0 13v3m0 50v4m0 10v1m0 10v2m0 10v3m0 13v3m0 20v6m0 8v1m0 1v4m0 9v2m0 8v2m0 40v2m0 8v2m0 7v1m0 7v3m0 40v2m0 39v3m0 14v2m0 5v2m0 1v2m0 54v1m0 5v1m0 36v1M175.5 75v2m0 20v2m0 20v2m0 6v3m0 1v1m0 24v1m0 4v1m0 4v4m0 15v1m0 6v2m0 17v3m0 27v1m0 2v2m0 23v4m0 1v2m0 26v2m0 6v5m0 19v1m0 24v1m0 13v1m0 4v1m0 11v3m0 15v3m0 27v4m0 11v2m0 26v1m0 1v1m0 4v1m0 12v3m0 4v3m0 8v2m0 9v4m0 1v1M176.5 61v3m0 4v5m0 30v3m0 1v2m0 9v3m0 37v2m0 15v1m0 14v4m0 4v1m0 16v1m0 19v2m0 11v4m0 7v1m0 4v2m0 9v4m0 5v3m0 1v3m0 18v5m0 13v3m0 10v4m0 17v2m0 13v4m0 24v3m0 9v3m0 15v5m0 39v1m0 13v3m0 1v2m0 7v4m0 9v7m0 4v4M179.5 76v4m0 12v3m0 10v3m0 11v2m0 29v3m0 6v1m0 2v4m0 9v6m0 14v1m0 2v1m0 18v1m0 13v3m0 24v4m0 1v1m0 102v3m0 33v2m0 75v2m0 4v3m0 22v2m0 1v4m0 13v3m0 1v2M180.5 69v4m0 15v2m0 1v4m0 12v1m0 14v3m0 8v2m0 22v1m0 1v4m0 6v4m0 67v2m0 24v4m0 51v2m0 43v3m0 16v1m0 22v2m0 35v4m0 22v1m0 12v1m0 21v1m0 13v4M181.5 89v3m0 5v4m0 2v1m0 44v2m0 13v3m0 38v3m0 1v1m0 16v1m0 14v2m0 27v3m0 62v3m0 33v1m0 26v1m0 4v2m0 29v1m0 5v1m0 1v1m0 2v4m0 32v3m0 19v1m0 1v2m0 3v2m0 2v3m0 1v3m0 3v1M184.5 78v5m0 51v2m0 9v2m0 19v1m0 48v1m0 44v3m0 1v1m0 7v2m0 36v1m0 19v1m0 18v2m0 40v1m0 1v4m0 1v2m0 4v7m0 1v2m0 1v1m0 1v2m0 60v3m0 8v3M185.5 65v5m0 1v4m0 2v6m0 4v2m0 3v2m0 22v2m0 18v6m0 1v2m0 2v2m0 3v3m0 3v4m0 28v4m0 4v2m0 16v2m0 4v1m0 37v6m0 3v1m0 10v1m0 4v7m0 12v2m0 8v3m0 6v2m0 9v2m0 9v2m0 20v2m0 4v2m0 8v1m0 53v3m0 37v4m0 8v3m0 11v2m0 4v4m0 6v2m0 4v2M188.5 59v1m0 34v4m0 3v2m0 4v4m0 27v2m0 41v1m0 4v2m0 1v3m0 17v1m0 2v4m0 8v3m0 4v3m0 39v2m0 2v4m0 9v3m0 1v2m0 4v2m0 1v3m0 6v2m0 9v2m0 28v3m0 13v3m0 18v5m0 14v4m0 6v2m0 13v2m0 13v2m0 24v2m0 16v3m0 5v1m0 2v1M189.5 101v2m0 20v1m0 86v3m0 23v2m0 69v3m0 69v6m0 1v2m0 1v1m0 7v1m0 11v4m0 28v4m0 1v4m0 3v2m0 13v1m0 37v1m0 6v2M192.5 62v3m0 7v2m0 1v1m0 53v2m0 31v2m0 3v1m0 29v1m0 27v2m0 12v1m0 7v1m0 12v3m0 16v1m0 8v4m0 7v1m0 3v3m0 1v2m0 13v1m0 3v1m0 15v4m0 28v1m0 17v2m0 7v3m0 129v3M195.5 72v3m0 31v2m0 3v2m0 8v1m0 5v1m0 32v2m0 21v1m0 4v2m0 1v1m0 5v2m0 28v6m0 1v2m0 15v1m0 12v1m0 8v3m0 13v1m0 2v3m0 7v1m0 3v4m0 12v2m0 17v1m0 26v7m0 10v2m0 11v3m0 9v4m0 2v2m0 5v4m0 2v1m0 13v1m0 5v1m0 15v3m0 5v2m0 12v8m0 23v1m0 2v3M196.5 63v1m0 10v1m0 3v3m0 5v4m0 3v1m0 31v1m0 26v2m0 12v2m0 40v2m0 7v4m0 25v2m0 5v2m0 27v4m0 9v3m0 29v2m0 16v2m0 3v3m0 23v3m0 45v2m0 41v1m0 22v3m0 17v1m0 11v3m0 2v2M199.5 71v2m0 3v2m0 9v3m0 29v2m0 10v3m0 6v1m0 5v3m0 5v2m0 2v2m0 9v1m0 9v2m0 8v2m0 4v2m0 2v6m0 1v1m0 28v4m0 6v3m0 17v2m0 1v5m0 2v4m0 53v1m0 3v1m0 5v4m0 2v2m0 7v4m0 17v1m0 2v1m0 1v1m0 3v3m0 3v2m0 3v2m0 5v6m0 4v1m0 10v5m0 2v3m0 8v3m0 6v2m0 11v2m0 3v3m0 6v2m0 33v2m0 2v2m0 1v3M202.5 96v2m0 3v2m0 21v4m0 23v1m0 30v1m0 2v2m0 6v1m0 20v3m0 6v3m0 4v2m0 3v2m0 23v1m0 28v2m0 3v2m0 6v1m0 4v3m0 37v2m0 6v1m0 2v1m0 5v4m0 2v2m0 9v3m0 16v2m0 9v3m0 19v3m0 30v2m0 33v4m0 5v3M203.5 61v2m0 18v8m0 11v7m0 10v2m0 32v1m0 19v3m0 2v2m0 20v2m0 1v1m0 16v3m0 1v1m0 12v2m0 12v1m0 9v1m0 3v5m0 2v4m0 33v4m0 9v4m0 3v1m0 4v2m0 8v2m0 7v2m0 14v3m0 4v5m0 19v1m0 26v4m0 5v1m0 11v4m0 14v2m0 3v3m0 3v3m0 12v1m0 18v2m0 15v3M206.5 59v4m0 8v6m0 1v1m0 9v1m0 5v5m0 4v6m0 43v2m0 3v3m0 11v4m0 5v4m0 7v6m0 6v1m0 21v2m0 3v1m0 10v3m0 18v4m0 2v1m0 5v3m0 8v4m0 16v1m0 7v4m0 13v2m0 16v2m0 8v2m0 1v2m0 13v2m0 22v1m0 13v2m0 68v1m0 2v2m0 1v2m0 13v4m0 11v3m0 10v3M209.5 61v4m0 3v4m0 15v1m0 5v1m0 26v1m0 8v3m0 5v3m0 7v1m0 9v5m0 5v2m0 3v1m0 16v1m0 25v2m0 11v4m0 22v2m0 10v2m0 22v1m0 3v4m0 1v1m0 14v3m0 26v1m0 31v1m0 8v2m0 27v1m0 3v1m0 8v2m0 23v3m0 19v1m0 3v3m0 6v1m0 31v4m0 10v2M212.5 67v1m0 31v1m0 16v2m0 38v1m0 8v2m0 4v2m0 14v1m0 15v3m0 18v4m0 43v2m0 15v1m0 26v1m0 16v3m0 3v4m0 1v3m0 5v2m0 47v2m0 1v2m0 26v2m0 12v2m0 6v1m0 9v4m0 4v1m0 5v2m0 18v1m0 13v1M215.5 73v2m0 25v3m0 12v2m0 29v3m0 31v1m0 13v2m0 2v2m0 4v1m0 20v1m0 21v4m0 30v1m0 27v1m0 20v3m0 25v2m0 30v2m0 21v1m0 8v2m0 40v2M218.5 86v2m0 19v3m0 2v1m0 34v3m0 16v3m0 2v2m0 1v2m0 16v3m0 7v6m0 37v3m0 1v4m0 1v5m0 3v1m0 3v1m0 21v2m0 3v3m0 11v4m0 11v1m0 14v3m0 60v2m0 9v1m0 12v1m0 36v2m0 5v1m0 16v5m0 15v3m0 26v1M223.5 101v1m0 3v1m0 5v2m0 48v3m0 26v1m0 24v1m0 2v2m0 24v2m0 2v1m0 2v3m0 2v4m0 12v2m0 18v1m0 4v4m0 13v4m0 2v2m0 10v1m0 16v1m0 11v2m0 11v3m0 17v2m0 4v1m0 14v2m0 24v5m0 41v1m0 3v2m0 9v1m0 14v1m0 2v4m0 4v1M226.5 84v4m0 31v1m0 23v2m0 3v6m0 24v2m0 26v6m0 3v3m0 3v2m0 1v2m0 5v2m0 10v2m0 4v3m0 9v1m0 18v3m0 3v3m0 1v3m0 5v3m0 24v2m0 19v2m0 31v4m0 7v1m0 25v1m0 2v2m0 9v3m0 15v3m0 9v1m0 17v2m0 6v4m0 12v1m0 14v2M231.5 59v5m0 5v3m0 5v4m0 16v3m0 12v1m0 16v2m0 4v2m0 4v3m0 21v2m0 4v3m0 13v2m0 27v3m0 9v3m0 16v4m0 3v5m0 46v2m0 4v3m0 14v3m0 38v1m0 51v4m0 7v2m0 2v3m0 7v1m0 20v2m0 27v1m0 16v2m0 6v1M234.5 126v2m0 14v2m0 3v4m0 66v1m0 5v2m0 14v2m0 2v2m0 22v4m0 6v1m0 12v2m0 9v4m0 12v1m0 8v1m0 8v2m0 25v2m0 6v1m0 14v3m0 2v2m0 29v4m0 44v3m0 2v1M241.5 65v2m0 7v3m0 37v2m0 11v2m0 11v4m0 15v1m0 9v3m0 1v5m0 17v4m0 2v2m0 2v1m0 13v2m0 60v1m0 78v3m0 23v1m0 21v8m0 31v3m0 27v1m0 13v1M246.5 60v3m0 4v1m0 16v1m0 18v1m0 9v3m0 6v2m0 12v2m0 4v2m0 4v2m0 8v3m0 3v2m0 25v4m0 26v3m0 17v2m0 15v4m0 6v2m0 2v3m0 14v3m0 19v3m0 7v2m0 3v3m0 47v2m0 11v7m0 10v3m0 13v2m0 27v1m0 14v1m0 6v2m0 1v3m0 2v2m0 30v2m0 10v2M253.5 87v2m0 31v1m0 8v5m0 50v2m0 19v1m0 146v1m0 67v1m0 3v1m0 65v1m0 31v2m0 7v1M264.5 62v1m0 1v2m0 3v2m0 12v1m0 11v2m0 5v4m0 14v3m0 67v1m0 6v4m0 7v2m0 3v4m0 33v2m0 14v2m0 18v2m0 2v4m0 16v3m0 5v2m0 8v1m0 26v2m0 10v3m0 17v1m0 17v2m0 10v2m0 46v2m0 2v1m0 2v1m0 10v2m0 26v3m0 5v1m0 14v2M799.5 72v3m0 8v2m0 16v2m0 16v1m0 30v1m0 76v2m0 1v1m0 78v1m0 10v1m0 7v2m0 9v3m0 13v1m0 9v2m0 59v2m0 8v1m0 10v2m0 39v2m0 28v1"/>
<path stroke="#1f0018" stroke-width="2" d="M151 59v2m0 21v2m0 5v3m0 1v1m0 7v2m0 9v3m0 4v3m0 10v1m0 5v4m0 3v3m0 32v7m0 8v3m0 9v4m0 2v1m0 2v4m0 12v6m0 9v1m0 19v3m0 7v5m0 5v3m0 8v4m0 7v2m0 1v2m0 4v3m0 2v3m0 4v8m0 2v2m0 11v4m0 4v3m0 5v2m0 2v2m0 11v1m0 1v2m0 39v1m0 3v3m0 7v1m0 5v2m0 8v3m0 6v2m0 23v2m0 16v7m0 8v5m0 3v2M161 61v2m0 6v3m0 20v3m0 45v1m0 7v6m0 2v3m0 1v3m0 25v3m0 11v1m0 15v1m0 1v2m0 4v3m0 7v3m0 8v1m0 28v1m0 4v1m0 12v3m0 8v3m0 44v1m0 17v2m0 9v2m0 44v5m0 5v4m0 37v2m0 39v2m0 4v2M167 75v1m0 7v4m0 6v3m0 2v5m0 2v2m0 32v1m0 8v3m0 18v3m0 37v1m0 1v1m0 3v3m0 17v1m0 17v3m0 8v4m0 1v1m0 36v6m0 4v1m0 5v2m0 46v3m0 12v1m0 3v2m0 5v2m0 8v2m0 7v1m0 53v1m0 13v3m0 21v2M173 72v1m0 4v4m0 11v2m0 9v1m0 12v4m0 1v4m0 35v4m0 4v1m0 151v1m0 15v3m0 15v1m0 23v2m0 54v3m0 8v2m0 11v2m0 10v3m0 4v5m0 6v1m0 16v7m0 3v2m0 8v3m0 7v1M178 65v4m0 14v1m0 3v1m0 1v2m0 5v1m0 13v1m0 1v1m0 14v1m0 3v2m0 3v1m0 13v1m0 12v2m0 18v1m0 5v2m0 4v7m0 11v1m0 17v1m0 15v1m0 8v2m0 10v2m0 23v2m0 12v3m0 10v1m0 35v2m0 30v2m0 7v1m0 4v3m0 37v1m0 12v2m0 9v1m0 2v1m0 6v2m0 17v1m0 10v1m0 20v4M183 59v3m0 1v3m0 25v2m0 8v4m0 1v4m0 6v1m0 8v2m0 13v1m0 19v1m0 3v4m0 27v3m0 13v3m0 1v3m0 22v1m0 10v2m0 27v4m0 14v2m0 14v3m0 5v2m0 38v1m0 34v1m0 4v2m0 20v1m0 26v4m0 12v4m0 38v1m0 5v4m0 16v1M187 74v2m0 10v1m0 4v2m0 16v3m0 12v3m0 23v1m0 2v2m0 4v1m0 1v5m0 7v2m0 18v2m0 29v2m0 23v2m0 1v2m0 12v3m0 33v5m0 11v1m0 11v2m0 23v4m0 6v3m0 4v3m0 7v1m0 13v3m0 2v3m0 12v5m0 14v3m0 11v3m0 24v3m0 5v4m0 6v1m0 21v7m0 3v2M191 106v4m0 7v1m0 39v2m0 22v2m0 51v2m0 20v2m0 102v1m0 5v1m0 4v3m0 4v3m0 5v1m0 59v2m0 15v2m0 46v2m0 4v3M194 173v3m0 3v1m0 32v1m0 22v1m0 76v2m0 98v2m0 10v2m0 17v1m0 24v3m0 19v1m0 17v2M198 134v2m0 7v1m0 22v2m0 4v3m0 50v3m0 110v1m0 3v3m0 22v1m0 31v2m0 3v3m0 15v2m0 9v4m0 1v1m0 7v2m0 3v2m0 80v3M201 157v2m0 4v1m0 8v2m0 12v2m0 2v1m0 8v4m0 4v1m0 96v1m0 7v3m0 16v4m0 9v2m0 36v2m0 19v2m0 16v1m0 6v3m0 5v1m0 35v1m0 34v3m0 1v2m0 22v1M205 84v1m0 26v1m0 16v3m0 13v3m0 15v3m0 8v3m0 12v2m0 6v1m0 128v1m0 7v3m0 9v4m0 32v1m0 12v4m0 9v1m0 10v2m0 4v1m0 17v3m0 34v1m0 2v1m0 9v4m0 1v2m0 30v3M208 66v3m0 8v3m0 11v3m0 22v3m0 6v4m0 3v1m0 32v5m0 11v3m0 27v2m0 22v2m0 3v4m0 10v1m0 7v1m0 2v1m0 15v2m0 8v4m0 2v1m0 8v4m0 9v3m0 3v1m0 1v1m0 17v2m0 8v2m0 7v1m0 13v2m0 10v3m0 5v5m0 7v3m0 8v1m0 1v3m0 1v1m0 23v3m0 14v2m0 13v1m0 22v4m0 3v3m0 19v1M211 59v4m0 12v3m0 16v3m0 37v4m0 1v1m0 19v3m0 5v2m0 3v6m0 7v5m0 7v1m0 1v1m0 12v2m0 5v2m0 39v4m0 10v1m0 9v3m0 21v2m0 2v2m0 18v3m0 62v1m0 2v2m0 14v2m0 13v3m0 61v1m0 1v3m0 13v2m0 4v1m0 5v4m0 1v3M214 59v2m0 35v2m0 20v1m0 4v4m0 55v1m0 22v1m0 3v4m0 4v2m0 38v1m0 3v2m0 12v1m0 3v2m0 2v2m0 3v4m0 20v2m0 8v2m0 4v1m0 5v1m0 9v2m0 9v4m0 29v2m0 1v4m0 14v4m0 2v2m0 6v2m0 4v1m0 6v2m0 46v1m0 7v3m0 1v4m0 5v3m0 4v3m0 9v3M217 129v4m0 9v3m0 2v3m0 29v1m0 7v3m0 25v2m0 7v1m0 20v1m0 5v3m0 75v2m0 74v3M220 59v3m0 5v3m0 17v2m0 20v1m0 18v2m0 2v3m0 27v1m0 38v1m0 14v4m0 11v1m0 2v1m0 2v2m0 2v2m0 7v1m0 11v1m0 57v1m0 52v1m0 12v1m0 9v2m0 8v2m0 1v4m0 2v4m0 9v2m0 6v1m0 14v1m0 30v4m0 10v2m0 26v8M222 61v1m0 6v1m0 9v2m0 30v1m0 5v2m0 1v2m0 25v7m0 2v2m0 4v5m0 5v2m0 1v4m0 10v1m0 7v1m0 8v3m0 9v2m0 4v4m0 8v2m0 13v2m0 8v7m0 2v5m0 6v3m0 3v2m0 11v1m0 2v3m0 5v2m0 18v5m0 3v6m0 33v2m0 5v3m0 21v5m0 9v1m0 5v2m0 15v1m0 2v3m0 14v4m0 13v6m0 17v4m0 2v2m0 19v4M225 93v3m0 23v1m0 13v1m0 3v3m0 2v2m0 46v1m0 75v4m0 16v1m0 50v1m0 50v4m0 41v2m0 43v1m0 7v2m0 1v1m0 7v2m0 15v1M228 73v1m0 7v3m0 13v1m0 31v2m0 18v2m0 28v2m0 16v2m0 26v2m0 12v3m0 23v1m0 3v4m0 20v2m0 4v4m0 11v4m0 6v1m0 18v3m0 3v1m0 4v3m0 34v1m0 12v7m0 2v2m0 13v1m0 10v3m0 39v1m0 21v3M230 81v3m0 14v1m0 15v4m0 20v2m0 127v1m0 16v2m0 4v2m0 10v2m0 14v1m0 148v3m0 17v3M233 59v3m0 2v2m0 3v3m0 11v1m0 1v2m0 14v2m0 8v3m0 7v2m0 24v1m0 7v1m0 16v2m0 9v4m0 13v2m0 1v2m0 1v3m0 7v3m0 19v1m0 9v2m0 4v4m0 2v4m0 3v6m0 3v4m0 1v2m0 8v1m0 19v2m0 19v2m0 8v1m0 72v4m0 2v3m0 3v1m0 17v1m0 2v3m0 14v5m0 11v2m0 6v4m0 3v2m0 5v2m0 2v2m0 6v2m0 1v2M236 80v2m0 4v6m0 3v2m0 5v1m0 5v4m0 3v2m0 4v3m0 16v5m0 6v4m0 9v1m0 20v1m0 7v2m0 1v3m0 27v1m0 15v4m0 19v1m0 13v1m0 2v1m0 7v1m0 4v3m0 11v2m0 41v2m0 19v8m0 3v1m0 2v3m0 6v4m0 10v1m0 16v1m0 1v2m0 3v4m0 10v2m0 9v1m0 7v1m0 3v1m0 8v4m0 35v2M238 63v2m0 9v1m0 2v2m0 6v2m0 72v3m0 73v2m0 35v1m0 36v1m0 5v1m0 29v4m0 5v1m0 19v3m0 4v2m0 29v3m0 83v3m0 4v2m0 5v1M240 62v2m0 21v2m0 59v4m0 6v1m0 2v5m0 60v2m0 12v1m0 15v2m0 6v3m0 10v2m0 10v3m0 3v3m0 13v3m0 23v1m0 27v1m0 29v3m0 48v3m0 20v1m0 34v1m0 7v3m0 21v2M243 59v1m0 17v2m0 16v3m0 3v1m0 19v4m0 8v1m0 15v3m0 33v3m0 27v3m0 18v4m0 12v5m0 33v2m0 2v5m0 4v2m0 6v2m0 17v2m0 19v1m0 10v1m0 6v3m0 9v4m0 4v2m0 5v3m0 2v2m0 14v1m0 6v1m0 9v1m0 41v1m0 4v2m0 21v1m0 7v3m0 13v2M245 95v2m0 13v2m0 2v4m0 25v1m0 15v3m0 9v1m0 4v2m0 5v4m0 9v1m0 3v1m0 36v4m0 67v3m0 22v2m0 15v4m0 8v4m0 53v1m0 2v3m0 6v1m0 10v2m0 4v4m0 24v1m0 20v2m0 1v2m0 17v2M248 70v3m0 6v2m0 5v1m0 51v1m0 28v1m0 12v2m0 1v1m0 6v2m0 20v1m0 5v3m0 8v6m0 10v4m0 11v4m0 7v1m0 6v2m0 37v2m0 21v2m0 2v2m0 44v2m0 39v3m0 1v2m0 44v1m0 13v3m0 19v2m0 16v1M250 70v1m0 3v2m0 7v1m0 6v4m0 3v2m0 11v3m0 15v2m0 4v4m0 23v1m0 6v4m0 13v5m0 2v3m0 9v1m0 3v1m0 10v4m0 20v2m0 13v7m0 11v2m0 2v1m0 15v3m0 13v3m0 4v1m0 15v2m0 3v1m0 3v3m0 2v2m0 8v3m0 1v2m0 2v2m0 7v4m0 51v1m0 13v2m0 2v1m0 8v2m0 2v3m0 35v1m0 1v7m0 13v4m0 1v2m0 4v1M252 70v2m0 2v1m0 2v1m0 1v1m0 5v6m0 1v2m0 5v1m0 2v5m0 23v2m0 13v2m0 6v2m0 9v1m0 2v1m0 15v1m0 1v2m0 4v3m0 7v3m0 5v4m0 11v1m0 3v5m0 10v1m0 12v1m0 2v2m0 5v2m0 3v2m0 1v2m0 2v2m0 2v1m0 14v1m0 20v4m0 8v7m0 8v1m0 14v6m0 12v1m0 26v2m0 15v2m0 38v2m0 35v1m0 15v3m0 8v2M255 61v1m0 27v1m0 4v1m0 26v1m0 23v3m0 4v2m0 64v3m0 56v1m0 13v6m0 1v4m0 38v1m0 18v1m0 84v3m0 23v3m0 5v1m0 28v1m0 23v3M257 66v1m0 2v1m0 3v2m0 2v2m0 3v2m0 2v3m0 16v2m0 2v2m0 6v2m0 2v2m0 29v3m0 30v2m0 1v2m0 4v1m0 2v1m0 4v1m0 8v3m0 45v4m0 9v2m0 4v2m0 2v4m0 4v4m0 10v1m0 5v2m0 10v4m0 20v3m0 3v1m0 18v2m0 1v3m0 12v4m0 15v1m0 61v4m0 18v4m0 4v1m0 19v1m0 1v1M259 59v1m0 5v2m0 8v2m0 7v2m0 4v3m0 37v3m0 23v2m0 14v1m0 1v3m0 42v1m0 8v2m0 38v2m0 5v1m0 4v1m0 24v2m0 32v4m0 63v2m0 10v5m0 36v3m0 36v2m0 12v2m0 7v2m0 4v4M261 63v4m0 7v1m0 6v2m0 25v1m0 3v1m0 9v1m0 3v3m0 18v1m0 12v1m0 6v2m0 1v2m0 4v3m0 8v1m0 26v2m0 3v5m0 19v4m0 15v4m0 1v1m0 6v3m0 9v5m0 12v2m0 42v1m0 47v3m0 35v4m0 21v3m0 11v2m0 5v4m0 6v2m0 1v2m0 16v3m0 21v2M263 61v3m0 8v2m0 4v2m0 31v2m0 15v2m0 2v2m0 4v2m0 17v3m0 15v1m0 3v1m0 16v2m0 4v1m0 29v1m0 11v1m0 3v1m0 22v3m0 4v2m0 27v2m0 22v2m0 41v1m0 28v2m0 32v2m0 40v1m0 20v1m0 23v1m0 1v1M266 59v1m0 8v3m0 14v2m0 89v1m0 3v2m0 17v1m0 6v9m0 39v1m0 2v3m0 13v6m0 3v2m0 2v2m0 17v1m0 38v2m0 16v3m0 9v2m0 19v1m0 1v4m0 3v2m0 22v1m0 3v2m0 9v2m0 1v1m0 10v2m0 3v1m0 1v8m0 27v3m0 9v1m0 5v2m0 9v2M268 62v2m0 8v2m0 16v4m0 1v2m0 26v1m0 1v4m0 7v4m0 12v2m0 6v3m0 12v3m0 5v1m0 5v1m0 8v2m0 8v1m0 19v3m0 22v2m0 38v3m0 3v1m0 9v3m0 6v2m0 6v2m0 1v4m0 12v3m0 19v1m0 6v4m0 4v2m0 8v2m0 6v6m0 1v2m0 11v3m0 4v1m0 9v1m0 9v2m0 7v5m0 10v1m0 3v1m0 4v5m0 5v2m0 4v1m0 6v3m0 2v1m0 1v2m0 1v1M270 72v3m0 3v3m0 9v1m0 19v3m0 9v2m0 13v4m0 24v1m0 1v1m0 9v2m0 8v2m0 5v2m0 2v1m0 12v2m0 5v1m0 6v3m0 4v2m0 45v1m0 6v3m0 5v3m0 23v1m0 17v3m0 15v2m0 10v4m0 1v2m0 1v2m0 1v4m0 3v2m0 11v5m0 23v4m0 5v1m0 21v2m0 40v4m0 9v2m0 2v1m0 3v3m0 4v3M272 62v3m0 14v3m0 18v2m0 2v1m0 5v7m0 2v1m0 3v1m0 18v2m0 1v2m0 20v4m0 4v3m0 44v1m0 2v2m0 1v2m0 16v1m0 5v2m0 8v5m0 2v2m0 19v1m0 11v1m0 14v3m0 4v8m0 7v6m0 12v4m0 5v2m0 3v1m0 2v4m0 28v1m0 6v4m0 13v2m0 26v2m0 8v5m0 10v2m0 17v5m0 7v4m0 5v2M274 67v1m0 9v2m0 21v4m0 37v4m0 10v3m0 8v2m0 20v4m0 12v1m0 3v4m0 15v3m0 16v2m0 9v2m0 2v1m0 2v3m0 24v4m0 8v1m0 14v2m0 23v5m0 16v2m0 7v4m0 34v1m0 5v1m0 3v3m0 10v2m0 10v2m0 23v1m0 7v1m0 24v3m0 13v3m0 7v2M276 104v3m0 3v2m0 62v4m0 26v1m0 14v3m0 14v2m0 12v2m0 12v3m0 24v4m0 25v2m0 14v1m0 24v2m0 4v2m0 5v3m0 36v3m0 10v2m0 7v1m0 3v2m0 33v3m0 6v4m0 7v3m0 28v3M278 183v2m0 13v3m0 6v2m0 26v3m0 18v1m0 7v2m0 1v1m0 9v3m0 9v7m0 14v2m0 2v4m0 3v3m0 19v3m0 27v2m0 14v4m0 5v3m0 3v1m0 2v1m0 4v3m0 43v1m0 11v3m0 18v5m0 30v5m0 3v2M280 59v1m0 1v2m0 2v1m0 4v1m0 6v1m0 3v1m0 8v3m0 22v1m0 36v1m0 6v1m0 38v4m0 8v2m0 6v2m0 44v1m0 29v1m0 26v4m0 14v1m0 13v1m0 22v3m0 35v4m0 14v2m0 4v1m0 1v2m0 28v2m0 10v2m0 3v3M282 112v1m0 6v2m0 12v1m0 32v1m0 16v1m0 11v2m0 1v3m0 4v2m0 1v1m0 3v4m0 2v1m0 14v1m0 1v2m0 20v4m0 1v4m0 19v3m0 7v3m0 2v6m0 70v5m0 19v3m0 12v3m0 8v2m0 10v3m0 39v3m0 3v2m0 23v3m0 17v4M284 69v2m0 2v3m0 3v2m0 19v1m0 11v1m0 6v6m0 10v3m0 7v1m0 27v6m0 1v2m0 15v1m0 9v6m0 7v4m0 37v4m0 1v1m0 23v2m0 17v2m0 4v4m0 26v4m0 18v1m0 35v3m0 2v2m0 4v4m0 6v3m0 3v4m0 4v2m0 5v1m0 10v4m0 13v5m0 1v2m0 5v3m0 6v2m0 6v1m0 7v4m0 5v2M286 62v2m0 3v2m0 11v7m0 28v2m0 8v2m0 8v1m0 39v8m0 36v2m0 11v5m0 7v7m0 8v4m0 18v6m0 46v4m0 51v4m0 11v4m0 4v1m0 10v6m0 28v2m0 19v4m0 3v4m0 3v2m0 21v1m0 18v3M288 66v5m0 10v3m0 12v2m0 13v2m0 8v1m0 18v2m0 26v2m0 16v6m0 14v1m0 9v2m0 8v2m0 10v2m0 6v3m0 2v2m0 4v4m0 9v1m0 3v4m0 62v3m0 2v1m0 8v3m0 21v3m0 11v2m0 4v1m0 22v2m0 6v2m0 8v2m0 62v4m0 2v1m0 16v2m0 7v1M290 66v1m0 8v1m0 60v2m0 17v1m0 26v2m0 7v2m0 29v1m0 9v1m0 2v1m0 13v1m0 6v4m0 1v4m0 26v2m0 2v1m0 3v2m0 12v2m0 25v1m0 10v1m0 11v3m0 7v3m0 4v2m0 42v2m0 21v1m0 33v2m0 5v3m0 17v1M292 67v2m0 5v1m0 6v2m0 10v1m0 7v3m0 5v2m0 4v4m0 20v1m0 8v3m0 5v1m0 3v3m0 6v1m0 2v1m0 5v2m0 5v2m0 3v1m0 14v3m0 8v3m0 14v2m0 24v2m0 36v1m0 1v2m0 4v4m0 7v1m0 14v3m0 17v3m0 21v3m0 27v1m0 8v3m0 12v2m0 3v5m0 16v2m0 4v1m0 3v1m0 6v1m0 4v3m0 24v4m0 2v5m0 9v3M294 59v1m0 2v6m0 8v2m0 15v4m0 13v2m0 9v2m0 1v3m0 4v2m0 2v2m0 8v3m0 6v4m0 9v6m0 8v2m0 2v4m0 1v2m0 3v3m0 8v2m0 4v1m0 28v6m0 12v3m0 1v4m0 4v2m0 15v4m0 3v2m0 9v1m0 9v1m0 7v2m0 16v1m0 10v2m0 5v1m0 10v4m0 19v3m0 2v3m0 2v3m0 6v3m0 7v1m0 20v1m0 10v1m0 2v5m0 13v1m0 1v2m0 2v4m0 13v3m0 4v1m0 15v3M296 63v3m0 7v4m0 2v2m0 14v4m0 6v2m0 5v4m0 11v4m0 2v3m0 3v2m0 5v3m0 2v3m0 5v2m0 5v1m0 16v1m0 2v4m0 20v1m0 11v7m0 11v7m0 7v3m0 19v4m0 4v4m0 8v1m0 2v4m0 9v1m0 28v2m0 23v5m0 7v3m0 2v2m0 7v4m0 8v2m0 8v1m0 6v2m0 11v1m0 20v3m0 3v2m0 37v3m0 4v1m0 3v2M298 61v5m0 8v1m0 4v2m0 2v3m0 3v2m0 4v3m0 8v1m0 4v4m0 7v3m0 24v5m0 18v4m0 4v3m0 72v3m0 2v1m0 2v2m0 17v2m0 16v1m0 13v3m0 62v3m0 5v5m0 2v2m0 12v1m0 2v7m0 7v2m0 40v1m0 3v2m0 14v3m0 18v3M300 69v2m0 66v3m0 64v1m0 65v1m0 78v2m0 13v3m0 49v3m0 15v3m0 19v4m0 15v1M302 61v3m0 60v5m0 12v2m0 12v3m0 20v4m0 19v1m0 92v3m0 8v3m0 4v1m0 12v1m0 1v1m0 12v5m0 30v4m0 75v1m0 23v1M307 65v1m0 2v3m0 6v1m0 29v4m0 14v1m0 8v3m0 18v2m0 7v1m0 6v1m0 12v1m0 4v1m0 2v2m0 23v2m0 9v3m0 1v2m0 19v4m0 4v2m0 13v1m0 18v1m0 10v3m0 5v1m0 14v1m0 2v1m0 25v1m0 40v3m0 26v4m0 6v1m0 58v2m0 32v2M309 76v1m0 8v1m0 15v1m0 50v2m0 4v3m0 13v1m0 18v3m0 10v2m0 38v1m0 20v5m0 10v6m0 6v1m0 18v1m0 10v1m0 27v2m0 7v1m0 21v1m0 7v3m0 11v4m0 6v3m0 54v1m0 2v3m0 2v1m0 13v1m0 24v1M311 69v2m0 6v2m0 51v4m0 22v2m0 9v1m0 2v2m0 21v2m0 17v1m0 42v4m0 2v3m0 15v1m0 10v2m0 108v1m0 34v1m0 4v1M313 68v4m0 27v1m0 2v8m0 9v3m0 6v1m0 5v4m0 5v2m0 3v3m0 11v2m0 7v3m0 2v2m0 12v1m0 5v2m0 12v1m0 2v5m0 10v2m0 18v2m0 7v6m0 7v7m0 2v5m0 4v2m0 7v2m0 11v4m0 1v2m0 2v2m0 8v1m0 16v2m0 5v4m0 17v5m0 18v4m0 4v4m0 7v2m0 14v1m0 3v3m0 30v1m0 37v3m0 4v9M315 63v1m0 9v2m0 28v2m0 4v3m0 14v2m0 2v2m0 3v3m0 8v1m0 2v1m0 23v4m0 6v1m0 11v2m0 32v3m0 16v2m0 1v2m0 24v1m0 18v3m0 23v3m0 9v3m0 11v2m0 27v3m0 11v8m0 24v2m0 2v1m0 10v2m0 14v2m0 28v1m0 3v1m0 12v2m0 11v3M320 95v2m0 29v2m0 3v2m0 43v2m0 6v3m0 37v3m0 49v4m0 7v1m0 15v2m0 7v3m0 70v2m0 17v1m0 48v2m0 6v4m0 16v2M322 61v1m0 5v5m0 22v1m0 41v2m0 1v1m0 67v3m0 9v4m0 67v2m0 12v1m0 21v1m0 2v1m0 47v3m0 42v1m0 57v2m0 12v2m0 5v1M324 101v3m0 12v3m0 11v1m0 8v1m0 29v4m0 11v1m0 10v2m0 58v2m0 18v4m0 44v1m0 45v1m0 104v3m0 19v1M329 72v4m0 16v1m0 9v1m0 5v2m0 61v1m0 25v1m0 21v4m0 15v1m0 7v3m0 13v7m0 7v1m0 10v3m0 16v5m0 23v3m0 6v4m0 44v4m0 22v1m0 26v1m0 12v4m0 1v1m0 4v2m0 41v2M331 63v3m0 3v2m0 5v1m0 3v3m0 14v2m0 7v1m0 9v2m0 56v3m0 4v1m0 2v1m0 2v1m0 49v1m0 2v2m0 17v1m0 9v2m0 1v1m0 4v1m0 12v1m0 2v1m0 5v2m0 2v2m0 2v1m0 4v2m0 21v1m0 17v1m0 4v2m0 1v3m0 30v1m0 10v2m0 1v1m0 4v2m0 8v1m0 3v1m0 2v1m0 8v2m0 25v1m0 12v1m0 19v1m0 14v2m0 8v1M336 81v1m0 6v1m0 24v3m0 14v3m0 10v1m0 12v3m0 18v5m0 16v1m0 5v1m0 2v1m0 7v3m0 4v2m0 17v1m0 6v2m0 1v1m0 9v1m0 3v2m0 2v1m0 9v3m0 2v1m0 3v2m0 5v2m0 3v1m0 1v1m0 7v3m0 9v1m0 6v1m0 5v3m0 13v1m0 2v1m0 47v1m0 11v1m0 8v2m0 10v1m0 28v4m0 24v3m0 6v1m0 1v2m0 19v1m0 3v1M338 62v1m0 23v4m0 2v2m0 6v6m0 3v4m0 1v2m0 2v2m0 2v2m0 2v1m0 9v2m0 6v2m0 12v1m0 2v2m0 8v1m0 4v3m0 2v1m0 2v2m0 1v1m0 4v2m0 7v1m0 9v1m0 10v1m0 6v2m0 7v3m0 8v3m0 2v1m0 4v1m0 7v1m0 25v2m0 12v1m0 10v1m0 6v1m0 8v1m0 13v2m0 4v1m0 2v4m0 2v2m0 5v6m0 5v5m0 9v1m0 1v1m0 21v2m0 4v1m0 7v4m0 5v1m0 9v2m0 16v4m0 4v1m0 5v3m0 21v3m0 6v1m0 8v1m0 3v2m0 2v1M343 66v1m0 4v2m0 1v1m0 6v2m0 14v1m0 4v1m0 4v1m0 9v2m0 5v1m0 6v1m0 14v1m0 3v2m0 18v2m0 11v1m0 1v2m0 1v1m0 7v4m0 37v1m0 23v3m0 1v1m0 8v1m0 14v6m0 13v2m0 3v1m0 19v1m0 15v2m0 8v1m0 7v1m0 8v1m0 15v2m0 11v1m0 6v4m0 2v1m0 2v1m0 3v1m0 4v2m0 4v1m0 2v2m0 12v1m0 4v1m0 17v1m0 3v2m0 12v1m0 1v2m0 2v2m0 1v7m0 15v1m0 5v1m0 2v2M348 62v3m0 2v1m0 2v3m0 16v2m0 4v3m0 22v2m0 7v1m0 31v2m0 51v1m0 11v2m0 12v1m0 1v1m0 14v3m0 6v1m0 15v3m0 9v3m0 17v1m0 4v1m0 41v1m0 14v1m0 9v1m0 17v1m0 3v1m0 13v1m0 6v1m0 12v1m0 16v1m0 2v1m0 4v4m0 9v2m0 18v2m0 10v1m0 3v1m0 11v1M353 70v1m0 2v2m0 3v1m0 10v1m0 14v2m0 4v1m0 6v1m0 17v2m0 29v2m0 1v3m0 6v4m0 4v1m0 3v2m0 8v2m0 1v1m0 3v1m0 11v2m0 17v1m0 14v4m0 2v1m0 1v1m0 1v2m0 11v3m0 12v2m0 13v2m0 6v4m0 4v1m0 1v4m0 14v3m0 4v2m0 1v2m0 5v1m0 1v3m0 5v3m0 5v1m0 3v1m0 1v1m0 4v2m0 4v1m0 8v2m0 12v1m0 4v1m0 12v1m0 16v3m0 41v2m0 7v1m0 1v2m0 19v3m0 4v1M355 63v1m0 21v2m0 9v1m0 4v1m0 1v1m0 18v1m0 5v1m0 3v2m0 6v3m0 6v2m0 1v1m0 6v1m0 8v1m0 1v5m0 16v1m0 5v3m0 10v5m0 1v3m0 4v1m0 16v2m0 6v4m0 4v2m0 3v3m0 12v6m0 8v1m0 16v1m0 26v2m0 6v1m0 5v2m0 3v1m0 4v1m0 8v1m0 5v2m0 2v1m0 1v1m0 9v2m0 2v1m0 5v2m0 32v2m0 1v3m0 20v2m0 23v2m0 1v2m0 8v1m0 16v2m0 7v6m0 2v1M363 64v1m0 7v2m0 25v1m0 1v3m0 11v1m0 3v1m0 12v3m0 5v3m0 3v5m0 3v2m0 2v2m0 2v1m0 6v1m0 2v1m0 27v3m0 16v2m0 1v1m0 2v3m0 12v1m0 17v2m0 22v1m0 3v1m0 3v3m0 1v3m0 9v2m0 5v2m0 9v1m0 20v1m0 3v1m0 5v2m0 2v1m0 7v2m0 2v3m0 2v1m0 6v1m0 6v1m0 16v4m0 28v1m0 3v1m0 10v1m0 2v3m0 1v2m0 30v2m0 17v1m0 5v3m0 11v1M368 66v2m0 4v2m0 2v1m0 7v1m0 13v2m0 15v2m0 13v1m0 7v1m0 3v1m0 2v7m0 4v1m0 7v2m0 1v3m0 11v1m0 14v1m0 9v5m0 24v1m0 2v1m0 10v3m0 3v1m0 16v2m0 5v2m0 8v2m0 4v2m0 17v3m0 1v1m0 13v2m0 15v1m0 9v2m0 25v2m0 12v1m0 6v2m0 18v1m0 3v2m0 3v4m0 16v1m0 5v5m0 28v1m0 5v1m0 10v3m0 2v1m0 3v3m0 4v1m0 5v2M373 74v1m0 7v1m0 25v3m0 1v2m0 1v1m0 4v1m0 4v3m0 2v1m0 9v1m0 6v1m0 3v2m0 4v2m0 5v1m0 10v5m0 22v1m0 3v1m0 4v1m0 3v1m0 4v1m0 3v1m0 10v1m0 2v2m0 5v2m0 3v2m0 2v2m0 9v3m0 6v1m0 9v1m0 13v1m0 2v1m0 1v5m0 2v1m0 2v2m0 4v2m0 2v4m0 6v3m0 22v3m0 11v2m0 3v2m0 1v2m0 26v1m0 17v1m0 10v2m0 3v1m0 8v3m0 13v2m0 3v2m0 5v3m0 11v1m0 6v3m0 9v1m0 1v1m0 6v1m0 5v1M381 93v2m0 25v1m0 7v1m0 7v2m0 4v1m0 34v2m0 2v1m0 2v1m0 5v1m0 7v1m0 19v4m0 3v1m0 9v2m0 2v1m0 5v3m0 1v1m0 13v2m0 6v2m0 2v4m0 7v1m0 4v1m0 2v1m0 1v1m0 1v1m0 10v1m0 13v3m0 18v1m0 18v4m0 4v1m0 16v1m0 5v1m0 3v1m0 18v1m0 4v2m0 32v1m0 12v2m0 3v3m0 4v5m0 4v1m0 1v2m0 1v1m0 11v2m0 13v2m0 5v2M389 60v1m0 26v1m0 16v5m0 4v4m0 8v2m0 6v1m0 4v1m0 14v2m0 1v2m0 2v1m0 14v1m0 29v1m0 10v1m0 1v2m0 3v1m0 29v1m0 32v3m0 3v1m0 9v2m0 1v2m0 12v3m0 3v2m0 4v1m0 20v3m0 1v1m0 1v1m0 1v1m0 2v1m0 18v1m0 5v1m0 5v1m0 9v3m0 29v1m0 3v1m0 9v1m0 26v3m0 41v1m0 3v1m0 5v2M400 63v1m0 3v1m0 7v3m0 4v1m0 10v1m0 1v1m0 5v1m0 1v1m0 8v1m0 18v1m0 1v2m0 9v1m0 3v1m0 5v1m0 27v1m0 2v1m0 13v3m0 3v2m0 3v2m0 25v2m0 6v1m0 3v2m0 16v1m0 72v2m0 26v2m0 14v3m0 9v1m0 24v3m0 2v2m0 1v1m0 8v1m0 10v1m0 40v2m0 4v1m0 8v2m0 7v2m0 11v2"/>
<path stroke="#1f0018" stroke-width="3" d="M304.5 67v1m0 43v3m0 11v2m0 6v2m0 17v1m0 8v2m0 9v1m0 43v2m0 23v2m0 28v2m0 4v3m0 20v3m0 15v4m0 2v1m0 41v3m0 10v1m0 2v2m0 4v4m0 24v3m0 23v1m0 58v4m0 7v2m0 7v1m0 6v8M317.5 61v3m0 3v4m0 6v1m0 33v2m0 66v2m0 8v2m0 31v1m0 2v8m0 16v2m0 20v1m0 2v3m0 28v5m0 7v1m0 2v2m0 34v4m0 82v4m0 9v3m0 2v2m0 11v3m0 21v4m0 7v4M326.5 87v1m0 6v1m0 59v3m0 50v2m0 8v4m0 1v1m0 36v2m0 7v1m0 51v2m0 4v3m0 6v2m0 24v2m0 7v1m0 110v1m0 19v1m0 6v3M333.5 60v1m0 3v4m0 11v1m0 3v5m0 15v2m0 7v2m0 16v1m0 2v1m0 1v1m0 4v1m0 7v1m0 6v2m0 6v2m0 5v1m0 1v3m0 9v2m0 5v2m0 5v1m0 12v3m0 2v3m0 18v1m0 2v3m0 13v1m0 1v2m0 3v1m0 7v1m0 2v1m0 15v2m0 15v1m0 3v1m0 1v1m0 12v2m0 5v3m0 9v3m0 21v3m0 6v2m0 12v5m0 24v3m0 4v1m0 25v3m0 8v1m0 3v4m0 8v4m0 14v2m0 9v1m0 9v1m0 13v2M340.5 71v1m0 1v2m0 7v2m0 1v1m0 1v1m0 3v1m0 14v3m0 6v1m0 2v2m0 8v3m0 6v3m0 7v3m0 4v2m0 20v2m0 13v2m0 23v1m0 20v1m0 5v4m0 3v1m0 3v1m0 17v1m0 6v2m0 4v3m0 21v1m0 12v2m0 1v2m0 24v2m0 19v4m0 1v2m0 4v3m0 7v2m0 6v1m0 5v1m0 4v1m0 4v2m0 7v1m0 6v5m0 3v3m0 13v1m0 2v2m0 3v1m0 1v3m0 7v2m0 3v1m0 16v5m0 1v2m0 6v2m0 3v3m0 4v1m0 4v2M345.5 90v2m0 5v1m0 21v2m0 2v1m0 3v1m0 13v1m0 2v1m0 5v3m0 3v1m0 1v2m0 31v2m0 10v3m0 14v3m0 6v1m0 12v1m0 1v1m0 14v1m0 12v2m0 14v1m0 4v2m0 16v1m0 11v1m0 41v3m0 3v1m0 13v2m0 56v1m0 8v1m0 1v2m0 2v1m0 1v3m0 7v1m0 4v1m0 4v1m0 2v2m0 5v1M350.5 79v1m0 8v2m0 2v1m0 10v1m0 5v3m0 3v1m0 1v2m0 15v2m0 2v2m0 11v1m0 1v2m0 10v2m0 2v2m0 2v1m0 11v1m0 19v1m0 4v1m0 37v2m0 3v1m0 9v1m0 15v1m0 20v1m0 2v1m0 5v1m0 15v1m0 6v4m0 9v2m0 3v1m0 2v2m0 1v1m0 1v2m0 3v1m0 2v1m0 17v1m0 18v3m0 8v1m0 2v5m0 10v2m0 24v3m0 1v3m0 1v5m0 7v1m0 34v1m0 5v2m0 3v2m0 2v1M357.5 59v2m0 2v3m0 7v1m0 3v1m0 3v1m0 5v1m0 14v1m0 2v1m0 49v2m0 8v1m0 1v1m0 1v2m0 1v2m0 4v2m0 4v2m0 20v2m0 4v1m0 9v2m0 2v3m0 7v1m0 2v2m0 1v1m0 25v1m0 2v1m0 4v1m0 1v2m0 43v1m0 1v1m0 20v1m0 1v2m0 7v1m0 25v2m0 14v1m0 23v1m0 1v1m0 1v2m0 5v1m0 6v1m0 1v1m0 7v1m0 3v1m0 13v2m0 2v3m0 5v2m0 4v1m0 1v1m0 5v1m0 2v1m0 4v2m0 15v2M360.5 78v2m0 7v1m0 9v1m0 18v1m0 3v1m0 4v3m0 2v2m0 7v1m0 1v1m0 2v2m0 4v3m0 5v1m0 1v2m0 3v1m0 2v2m0 3v1m0 3v1m0 5v3m0 1v4m0 10v1m0 8v2m0 7v4m0 15v4m0 1v3m0 3v1m0 3v2m0 4v2m0 5v2m0 5v2m0 14v1m0 3v2m0 15v2m0 6v1m0 3v1m0 7v2m0 9v1m0 3v2m0 7v2m0 11v2m0 3v1m0 34v1m0 10v3m0 7v4m0 21v3m0 6v4m0 6v1m0 5v1m0 3v1m0 6v1m0 9v2m0 6v2m0 7v3m0 14v2M365.5 65v2m0 12v1m0 6v1m0 23v2m0 16v1m0 12v3m0 20v1m0 28v2m0 3v1m0 21v1m0 15v1m0 3v3m0 12v2m0 7v1m0 25v2m0 4v2m0 11v2m0 5v2m0 1v2m0 36v1m0 28v3m0 19v1m0 7v1m0 4v1m0 15v2m0 3v2m0 11v5m0 1v2m0 13v1m0 4v9m0 4v3m0 6v2m0 2v1m0 12v1m0 14v1M370.5 67v1m0 6v2m0 4v2m0 2v1m0 3v1m0 2v2m0 1v2m0 11v1m0 23v1m0 2v1m0 8v3m0 10v2m0 11v1m0 30v1m0 21v2m0 16v1m0 8v2m0 7v2m0 2v1m0 22v1m0 2v1m0 5v2m0 13v2m0 4v3m0 5v3m0 4v3m0 33v2m0 1v3m0 3v1m0 18v2m0 1v1m0 2v1m0 6v2m0 8v2m0 1v3m0 3v2m0 6v4m0 2v2m0 1v1m0 16v2m0 1v2m0 1v2m0 2v1m0 18v1m0 1v2m0 2v2m0 3v1m0 4v3m0 14v1m0 3v2M375.5 61v1m0 14v2m0 2v1m0 10v2m0 20v1m0 4v1m0 7v1m0 24v2m0 11v1m0 5v3m0 6v3m0 4v2m0 4v1m0 1v1m0 16v1m0 14v1m0 4v2m0 7v2m0 2v1m0 12v4m0 3v1m0 5v1m0 2v3m0 1v2m0 11v1m0 6v1m0 10v5m0 7v1m0 7v2m0 36v1m0 4v2m0 7v2m0 4v2m0 8v1m0 24v1m0 15v1m0 16v4m0 6v1m0 3v1m0 2v1m0 29v1m0 6v3m0 12v1m0 7v1M378.5 63v1m0 9v3m0 3v1m0 2v1m0 1v3m0 2v2m0 6v2m0 1v2m0 29v1m0 2v3m0 11v3m0 6v1m0 13v2m0 3v1m0 1v3m0 6v1m0 11v1m0 2v1m0 15v2m0 3v3m0 7v1m0 3v1m0 5v1m0 5v1m0 7v4m0 6v3m0 19v1m0 1v4m0 27v2m0 1v1m0 1v4m0 4v1m0 10v3m0 20v1m0 19v1m0 8v1m0 2v3m0 9v1m0 6v2m0 5v1m0 2v1m0 5v1m0 1v2m0 24v2m0 23v2m0 17v3M383.5 66v4m0 10v1m0 1v1m0 5v1m0 8v2m0 4v1m0 16v1m0 12v1m0 26v1m0 7v1m0 1v1m0 9v1m0 9v1m0 2v3m0 1v1m0 4v3m0 10v1m0 1v1m0 2v1m0 2v1m0 8v3m0 14v1m0 1v2m0 5v4m0 9v1m0 2v6m0 5v2m0 33v1m0 10v2m0 13v4m0 1v1m0 2v3m0 2v3m0 1v2m0 18v2m0 12v2m0 9v2m0 5v3m0 4v1m0 2v2m0 12v3m0 15v2m0 1v1m0 1v3m0 9v1m0 2v1m0 3v2m0 23v1m0 26v2M386.5 61v3m0 6v4m0 13v1m0 10v1m0 1v1m0 4v2m0 6v4m0 10v1m0 5v3m0 8v1m0 6v4m0 6v1m0 5v2m0 1v1m0 8v2m0 12v3m0 14v2m0 3v2m0 6v2m0 10v1m0 6v2m0 7v2m0 21v1m0 8v1m0 3v2m0 2v2m0 2v1m0 1v2m0 14v1m0 2v2m0 3v2m0 1v1m0 1v5m0 3v1m0 17v1m0 4v3m0 1v2m0 23v1m0 1v2m0 3v2m0 29v2m0 24v1m0 1v2m0 3v1m0 2v2m0 9v3m0 15v2m0 2v1m0 6v1m0 7v1m0 1v1m0 3v1m0 7v1m0 1v3m0 4v2M391.5 65v2m0 13v2m0 6v1m0 6v1m0 17v2m0 1v2m0 34v2m0 11v3m0 3v3m0 5v3m0 1v3m0 29v1m0 20v1m0 3v2m0 1v2m0 1v1m0 10v1m0 11v1m0 3v1m0 5v3m0 4v1m0 3v3m0 3v1m0 3v1m0 2v3m0 3v1m0 2v2m0 29v2m0 2v2m0 3v1m0 29v1m0 3v1m0 9v2m0 3v2m0 1v3m0 10v1m0 7v1m0 6v1m0 8v2m0 14v1m0 3v1m0 8v2m0 4v1m0 11v2m0 1v1m0 4v2m0 10v2m0 3v2m0 3v2m0 3v1M394.5 62v3m0 10v3m0 11v2m0 1v1m0 4v1m0 3v3m0 4v4m0 16v1m0 2v1m0 27v1m0 11v3m0 5v2m0 6v2m0 14v3m0 12v2m0 3v1m0 12v1m0 3v1m0 15v4m0 9v1m0 2v3m0 2v1m0 3v3m0 5v2m0 16v7m0 9v1m0 22v1m0 30v2m0 5v4m0 3v2m0 4v1m0 3v4m0 3v1m0 7v3m0 8v1m0 10v1m0 21v3m0 3v4m0 7v2m0 4v1m0 3v1m0 11v1m0 5v3m0 7v1m0 7v2m0 3v1M397.5 81v1m0 4v1m0 3v1m0 2v2m0 33v2m0 19v2m0 12v3m0 6v1m0 7v2m0 9v4m0 7v2m0 6v1m0 33v2m0 32v1m0 4v1m0 1v1m0 9v3m0 12v1m0 2v2m0 27v1m0 2v2m0 6v2m0 1v4m0 4v1m0 12v1m0 22v1m0 9v1m0 11v1m0 2v1m0 6v1m0 25v1m0 12v4m0 4v2m0 4v2m0 8v1m0 1v1m0 25v2m0 8v2M402.5 70v1m0 3v2m0 23v1m0 2v2m0 4v2m0 21v1m0 5v2m0 3v1m0 9v2m0 2v2m0 2v3m0 3v1m0 5v1m0 5v1m0 13v1m0 4v4m0 2v1m0 3v1m0 1v1m0 7v2m0 1v1m0 22v2m0 15v1m0 1v2m0 4v2m0 19v3m0 1v1m0 7v2m0 6v3m0 13v1m0 14v2m0 11v1m0 3v1m0 7v2m0 5v3m0 1v3m0 3v1m0 6v2m0 9v5m0 6v2m0 7v2m0 14v1m0 11v1m0 18v2m0 10v1m0 5v1m0 3v1m0 1v3m0 1v4m0 18v4m0 6v1M405.5 77v2m0 2v1m0 7v1m0 9v2m0 8v1m0 32v1m0 20v3m0 13v2m0 3v1m0 24v3m0 22v3m0 38v1m0 30v1m0 2v1m0 4v1m0 28v1m0 24v1m0 1v1m0 17v2m0 1v1m0 37v1m0 9v3m0 18v2m0 6v1m0 16v2m0 18v3m0 2v1m0 8v1m0 3v1m0 2v1m0 4v2M408.5 61v1m0 7v2m0 8v4m0 16v1m0 54v2m0 7v1m0 4v2m0 19v4m0 11v2m0 8v1m0 22v1m0 20v1m0 10v2m0 3v3m0 2v1m0 7v2m0 2v1m0 4v1m0 55v1m0 12v3m0 2v1m0 8v2m0 16v1m0 2v1m0 5v3m0 19v1m0 1v1m0 5v2m0 16v2m0 1v1m0 42v1m0 1v2m0 7v1m0 7v3M411.5 59v2m0 20v3m0 2v1m0 3v1m0 2v1m0 10v2m0 8v1m0 20v1m0 4v1m0 3v1m0 1v2m0 2v2m0 12v1m0 21v1m0 6v1m0 3v4m0 7v3m0 3v3m0 12v1m0 7v2m0 10v1m0 7v4m0 1v1m0 4v1m0 2v1m0 3v2m0 1v1m0 6v1m0 1v2m0 1v1m0 3v1m0 65v2m0 6v2m0 3v1m0 22v1m0 6v4m0 8v1m0 23v3m0 9v1m0 1v3m0 16v1m0 1v5m0 6v1m0 11v2m0 35v1M414.5 59v1m0 19v1m0 29v1m0 1v4m0 7v2m0 8v4m0 7v3m0 1v2m0 10v2m0 4v1m0 11v1m0 7v2m0 3v1m0 15v1m0 4v1m0 17v1m0 2v1m0 10v2m0 5v3m0 3v2m0 11v1m0 4v1m0 10v1m0 16v1m0 20v1m0 20v2m0 5v3m0 19v4m0 13v1m0 6v3m0 16v1m0 6v1m0 1v1m0 6v1m0 6v2m0 14v2m0 4v1m0 4v2m0 3v3m0 17v6m0 22v1m0 11v1M417.5 72v3m0 21v1m0 1v1m0 9v2m0 10v1m0 6v3m0 31v1m0 3v1m0 12v2m0 33v1m0 16v2m0 44v1m0 3v2m0 15v1m0 25v2m0 18v3m0 8v2m0 1v3m0 14v1m0 37v5m0 8v1m0 13v1m0 20v1m0 12v1m0 17v1m0 1v1m0 6v1m0 11v4m0 8v1m0 6v2m0 2v1M420.5 61v2m0 3v2m0 6v2m0 16v1m0 13v1m0 22v1m0 17v1m0 8v2m0 2v1m0 3v1m0 1v1m0 4v1m0 34v1m0 9v3m0 13v1m0 1v1m0 17v3m0 8v1m0 5v1m0 14v1m0 2v2m0 9v4m0 38v4m0 2v1m0 6v2m0 12v1m0 2v1m0 9v2m0 8v1m0 27v2m0 32v1m0 1v2m0 7v1m0 6v1m0 11v2m0 4v1m0 28v3m0 3v1m0 3v2m0 6v1M423.5 81v1m0 14v1m0 10v2m0 26v2m0 2v4m0 9v2m0 3v1m0 12v1m0 14v3m0 15v1m0 6v2m0 3v1m0 2v2m0 8v1m0 2v1m0 7v2m0 8v1m0 8v1m0 2v1m0 3v1m0 1v1m0 4v2m0 2v1m0 17v1m0 18v2m0 24v1m0 2v2m0 6v2m0 12v1m0 12v1m0 2v1m0 1v3m0 2v4m0 5v2m0 10v1m0 2v1m0 8v1m0 4v2m0 8v1m0 4v1m0 15v2m0 1v1m0 7v2m0 9v1m0 2v2m0 9v4m0 15v1m0 1v2m0 11v1M426.5 63v2m0 3v3m0 15v1m0 24v1m0 13v2m0 10v3m0 5v3m0 9v1m0 17v2m0 3v1m0 6v3m0 8v2m0 5v1m0 7v4m0 21v1m0 29v2m0 24v1m0 2v3m0 12v1m0 35v1m0 18v3m0 19v1m0 3v2m0 2v4m0 7v1m0 16v1m0 9v3m0 12v1m0 18v6m0 4v1m0 9v5m0 5v2m0 22v2m0 3v2M429.5 64v1m0 2v1m0 2v1m0 9v2m0 6v3m0 1v4m0 9v2m0 16v2m0 13v2m0 2v1m0 2v1m0 4v2m0 4v1m0 4v1m0 20v1m0 1v2m0 3v1m0 4v2m0 3v2m0 2v2m0 3v2m0 21v1m0 9v2m0 11v2m0 19v3m0 5v1m0 21v1m0 31v1m0 13v2m0 2v1m0 2v1m0 5v1m0 4v1m0 3v2m0 25v1m0 17v2m0 13v1m0 23v1m0 7v3m0 10v1m0 6v3m0 5v3m0 9v1m0 11v1m0 6v2m0 1v1M432.5 59v2m0 1v1m0 6v1m0 1v3m0 5v1m0 6v1m0 6v2m0 16v1m0 8v3m0 4v1m0 5v3m0 6v2m0 2v4m0 24v2m0 29v3m0 9v1m0 11v1m0 1v1m0 1v1m0 20v2m0 5v1m0 3v3m0 11v3m0 1v1m0 3v2m0 5v1m0 8v1m0 1v1m0 33v1m0 5v1m0 6v3m0 14v1m0 8v1m0 5v1m0 11v1m0 1v2m0 1v2m0 2v1m0 7v1m0 10v3m0 21v1m0 8v1m0 4v2m0 1v2m0 1v1m0 6v2m0 1v2m0 16v2m0 2v1m0 4v1m0 5v1m0 14v2M435.5 68v2m0 5v2m0 3v2m0 15v2m0 2v1m0 2v1m0 3v1m0 9v1m0 5v1m0 12v2m0 6v2m0 2v1m0 6v2m0 25v1m0 22v1m0 1v2m0 4v1m0 2v2m0 8v1m0 4v1m0 9v2m0 3v1m0 5v1m0 6v1m0 2v2m0 2v3m0 3v1m0 7v6m0 6v3m0 10v1m0 4v1m0 24v2m0 2v1m0 8v1m0 8v2m0 15v1m0 1v2m0 6v1m0 1v1m0 15v3m0 4v1m0 22v1m0 2v3m0 11v1m0 1v2m0 2v2m0 5v1m0 3v3m0 21v2m0 8v1m0 8v1m0 23v2M438.5 77v2m0 19v1m0 7v1m0 15v2m0 12v3m0 1v3m0 7v1m0 10v2m0 7v2m0 13v1m0 11v2m0 2v1m0 7v1m0 29v1m0 5v2m0 2v2m0 10v1m0 1v1m0 1v1m0 3v2m0 6v2m0 32v1m0 14v1m0 45v1m0 6v3m0 4v2m0 5v2m0 2v2m0 20v1m0 4v1m0 3v3m0 18v7m0 9v3m0 3v2m0 2v2m0 1v1m0 5v1m0 18v1m0 4v4m0 11v1m0 1v1M441.5 68v1m0 6v2m0 4v1m0 1v1m0 1v4m0 7v3m0 16v1m0 7v3m0 1v2m0 2v6m0 12v4m0 2v1m0 4v2m0 20v1m0 1v5m0 1v1m0 2v2m0 12v6m0 5v1m0 13v1m0 9v2m0 1v1m0 1v1m0 6v2m0 4v3m0 3v3m0 4v3m0 14v2m0 44v2m0 8v2m0 2v3m0 9v4m0 7v2m0 5v2m0 4v1m0 1v3m0 3v1m0 1v1m0 13v2m0 1v1m0 4v1m0 2v2m0 37v1m0 2v1m0 3v4m0 2v1m0 4v1m0 4v1m0 10v2m0 2v2m0 11v2m0 5v3m0 2v1M444.5 64v1m0 37v1m0 2v1m0 12v1m0 5v1m0 6v4m0 7v2m0 2v2m0 3v3m0 4v1m0 7v2m0 14v2m0 11v1m0 5v2m0 7v1m0 4v1m0 24v2m0 6v2m0 10v2m0 2v1m0 2v3m0 20v4m0 9v2m0 1v1m0 30v1m0 1v1m0 2v1m0 1v2m0 11v1m0 6v1m0 7v1m0 15v2m0 31v2m0 14v3m0 10v3m0 1v6m0 5v2m0 6v2m0 23v1m0 8v2m0 6v2m0 3v3m0 6v1M447.5 72v3m0 12v3m0 14v2m0 5v1m0 4v1m0 9v3m0 32v1m0 8v2m0 13v1m0 9v2m0 6v1m0 3v1m0 5v1m0 34v2m0 1v3m0 10v1m0 19v1m0 22v2m0 26v1m0 4v1m0 12v3m0 7v3m0 6v2m0 8v1m0 17v3m0 43v1m0 7v2m0 9v2m0 18v1m0 5v1m0 4v2m0 29v2m0 2v1m0 3v1M450.5 61v1m0 1v1m0 6v1m0 2v4m0 2v1m0 17v1m0 19v2m0 11v1m0 1v1m0 5v1m0 2v1m0 5v1m0 22v1m0 6v2m0 8v6m0 9v2m0 13v1m0 9v2m0 2v1m0 5v1m0 11v3m0 4v2m0 22v5m0 11v1m0 8v1m0 8v1m0 19v1m0 12v1m0 2v1m0 13v1m0 18v1m0 12v1m0 7v1m0 19v1m0 7v1m0 5v1m0 11v1m0 2v3m0 13v2m0 17v2m0 3v3m0 4v2m0 2v2m0 3v2m0 5v1m0 4v5m0 2v2m0 3v2M453.5 64v4m0 7v2m0 6v2m0 5v2m0 14v1m0 17v2m0 3v2m0 18v1m0 7v2m0 11v1m0 10v3m0 1v1m0 5v1m0 3v3m0 3v1m0 52v2m0 4v1m0 15v3m0 7v1m0 55v3m0 1v1m0 3v1m0 16v1m0 2v1m0 7v1m0 12v4m0 5v2m0 10v3m0 15v3m0 2v2m0 38v2m0 12v1m0 8v1m0 24v1m0 10v1M456.5 63v2m0 16v3m0 4v1m0 3v2m0 18v1m0 2v3m0 23v4m0 9v2m0 20v3m0 4v2m0 2v2m0 3v2m0 8v1m0 6v1m0 2v1m0 14v2m0 1v1m0 1v2m0 4v1m0 10v1m0 8v1m0 12v3m0 2v1m0 4v2m0 5v1m0 8v2m0 41v2m0 11v2m0 3v1m0 11v1m0 3v3m0 8v3m0 6v1m0 2v2m0 7v2m0 3v2m0 1v2m0 2v1m0 15v1m0 2v1m0 9v1m0 8v4m0 5v1m0 3v3m0 1v6m0 2v1m0 11v1m0 3v1m0 2v2m0 3v2m0 19v1m0 5v3M463.5 71v1m0 6v2m0 1v3m0 10v3m0 12v1m0 9v1m0 40v1m0 4v3m0 13v2m0 23v2m0 18v3m0 22v3m0 5v1m0 5v2m0 1v2m0 27v1m0 1v1m0 33v2m0 3v2m0 1v1m0 25v1m0 14v2m0 19v2m0 20v5m0 21v3m0 15v3m0 17v2m0 9v2m0 6v2m0 4v3m0 8v1m0 2v1m0 1v3M466.5 60v2m0 11v2m0 7v2m0 5v5m0 20v1m0 3v1m0 14v1m0 8v4m0 2v1m0 3v1m0 5v3m0 7v5m0 4v4m0 14v1m0 29v1m0 3v2m0 20v3m0 2v1m0 5v3m0 9v1m0 7v2m0 54v2m0 15v2m0 4v3m0 6v3m0 3v4m0 10v4m0 18v1m0 8v1m0 23v1m0 6v2m0 7v3m0 7v1m0 20v2m0 5v1m0 8v2m0 13v1m0 9v2M469.5 73v1m0 2v1m0 6v1m0 13v1m0 20v1m0 7v1m0 3v1m0 13v1m0 4v2m0 5v6m0 12v4m0 7v1m0 38v3m0 2v2m0 20v5m0 5v2m0 2v3m0 20v1m0 17v1m0 4v1m0 10v1m0 10v1m0 2v1m0 1v1m0 12v3m0 2v2m0 15v2m0 2v1m0 9v2m0 1v1m0 13v1m0 9v1m0 3v2m0 5v1m0 19v1m0 8v2m0 4v3m0 7v2m0 9v3m0 9v2m0 5v2m0 8v2m0 3v1M476.5 59v6m0 7v1m0 1v3m0 2v3m0 8v2m0 19v2m0 6v1m0 7v3m0 23v3m0 9v1m0 2v2m0 15v1m0 4v1m0 4v1m0 9v1m0 21v2m0 37v1m0 10v1m0 15v1m0 15v2m0 41v1m0 1v1m0 21v2m0 26v1m0 3v2m0 1v1m0 19v3m0 15v1m0 1v2m0 36v1m0 4v1m0 2v1m0 10v1m0 1v3m0 16v1m0 4v1M479.5 119v1m0 19v1m0 74v1m0 32v1m0 3v2m0 7v1m0 10v1m0 13v2m0 59v1m0 9v1m0 27v2m0 6v1m0 6v2m0 3v1m0 3v1m0 22v1m0 44v2m0 24v1m0 12v1m0 14v3M486.5 66v1m0 5v2m0 15v2m0 22v1m0 2v1m0 8v1m0 15v3m0 5v1m0 4v1m0 19v1m0 3v1m0 1v1m0 16v6m0 31v2m0 6v1m0 5v2m0 11v2m0 4v3m0 38v1m0 30v2m0 3v1m0 1v3m0 7v1m0 5v1m0 2v1m0 2v1m0 44v2m0 4v2m0 5v2m0 7v2m0 8v1m0 2v1m0 8v1m0 3v3m0 20v2m0 8v1m0 11v2m0 7v1m0 3v3m0 12v2M489.5 74v1m0 2v2m0 9v1m0 4v1m0 20v1m0 19v1m0 11v1m0 4v1m0 22v1m0 16v5m0 5v1m0 25v3m0 1v1m0 1v1m0 13v1m0 22v1m0 3v1m0 3v2m0 50v1m0 6v1m0 3v2m0 15v1m0 3v4m0 10v2m0 2v1m0 8v1m0 20v1m0 8v1m0 38v3m0 3v1m0 1v3m0 4v1m0 7v2m0 2v1m0 1v1m0 8v3m0 5v2m0 3v2m0 7v3m0 5v1M496.5 72v2m0 10v1m0 4v1m0 15v1m0 11v2m0 16v3m0 30v1m0 12v1m0 9v2m0 15v2m0 36v1m0 35v2m0 9v2m0 5v1m0 7v2m0 20v2m0 2v2m0 8v1m0 7v1m0 5v1m0 4v1m0 5v4m0 10v3m0 12v2m0 3v2m0 8v1m0 2v2m0 36v1m0 10v2m0 11v1m0 35v2m0 10v1m0 6v3M503.5 112v1m0 62v2m0 6v1m0 47v1m0 75v1m0 2v2m0 46v1m0 138v1m0 9v1m0 27v1M510.5 105v2m0 12v1m0 15v1m0 5v1m0 20v3m0 35v1m0 14v1m0 15v1m0 11v1m0 38v1m0 19v4m0 23v1m0 8v3m0 28v2m0 11v1m0 32v1m0 28v3m0 16v1m0 22v1m0 3v2m0 10v2m0 18v1M521.5 63v2m0 18v1m0 16v1m0 6v1m0 7v3m0 35v1m0 121v2m0 26v2m0 52v1m0 40v3m0 10v2m0 3v1m0 71v1m0 45v1M532.5 59v1m0 6v1m0 5v2m0 2v2m0 33v1m0 21v1m0 5v3m0 1v1m0 3v2m0 6v2m0 8v2m0 19v2m0 2v1m0 6v1m0 25v4m0 3v3m0 30v2m0 5v1m0 9v1m0 2v1m0 9v1m0 3v2m0 29v1m0 14v1m0 1v2m0 6v2m0 5v1m0 8v1m0 2v2m0 3v4m0 2v1m0 10v2m0 2v1m0 1v2m0 5v1m0 1v3m0 4v3m0 13v1m0 30v5m0 5v1m0 5v2m0 7v4m0 3v5m0 4v3m0 6v1m0 4v1m0 13v1M547.5 74v3m0 18v5m0 3v1m0 29v3m0 10v2m0 3v8m0 3v1m0 2v1m0 11v3m0 8v2m0 6v2m0 14v3m0 2v2m0 4v3m0 1v2m0 9v2m0 2v1m0 1v8m0 5v2m0 9v2m0 7v1m0 8v3m0 10v1m0 31v1m0 6v1m0 14v3m0 10v1m0 8v3m0 5v2m0 1v1m0 5v2m0 13v2m0 1v1m0 48v1m0 1v2m0 6v2m0 2v1m0 2v1m0 8v1m0 36v1m0 3v3m0 6v1"/>
<path stroke="#1f0018" stroke-width="4" d="M460 78v1m0 15v2m0 7v1m0 24v4m0 6v3m0 11v3m0 4v1m0 6v1m0 12v1m0 1v2m0 2v1m0 1v1m0 4v1m0 5v1m0 26v1m0 13v4m0 6v2m0 16v1m0 6v1m0 23v1m0 35v1m0 22v1m0 16v1m0 14v1m0 3v2m0 15v1m0 26v1m0 10v3m0 1v1m0 13v2m0 17v1m0 22v2m0 13v4M473 59v3m0 5v5m0 13v3m0 7v1m0 26v4m0 1v2m0 3v2m0 3v1m0 43v1m0 9v1m0 3v1m0 10v1m0 2v5m0 9v1m0 4v1m0 6v2m0 13v1m0 2v1m0 1v2m0 2v2m0 5v3m0 1v2m0 11v1m0 1v1m0 30v1m0 17v2m0 2v2m0 15v1m0 8v1m0 6v1m0 4v1m0 9v8m0 23v1m0 3v2m0 1v1m0 23v1m0 1v5m0 1v1m0 9v1m0 16v1m0 2v3m0 1v1m0 8v1m0 4v1m0 5v1m0 3v3m0 2v3m0 6v2M483 61v2m0 5v2m0 27v2m0 12v1m0 5v1m0 29v1m0 13v1m0 5v1m0 12v1m0 2v1m0 9v1m0 8v1m0 6v1m0 66v1m0 4v1m0 1v2m0 1v2m0 4v1m0 6v1m0 35v2m0 8v2m0 10v1m0 43v3m0 4v1m0 9v3m0 10v1m0 1v1m0 2v1m0 11v2m0 3v1m0 17v1m0 8v1m0 35v1m0 12v2M493 91v1m0 3v3m0 7v1m0 16v2m0 5v1m0 3v3m0 6v3m0 9v1m0 2v3m0 28v3m0 3v2m0 4v3m0 7v2m0 15v1m0 3v1m0 9v3m0 11v1m0 4v1m0 41v1m0 45v2m0 5v1m0 13v1m0 6v2m0 11v3m0 14v1m0 11v1m0 8v1m0 27v1m0 15v1m0 24v1m0 1v3m0 3v1m0 4v3m0 10v2m0 1v1m0 4v1M500 62v1m0 5v1m0 11v3m0 6v1m0 3v1m0 7v1m0 8v2m0 2v3m0 6v2m0 9v1m0 23v2m0 14v3m0 3v4m0 11v1m0 1v1m0 2v6m0 23v1m0 4v1m0 4v1m0 4v2m0 3v4m0 4v1m0 8v5m0 1v1m0 6v1m0 1v5m0 2v3m0 9v3m0 7v1m0 12v2m0 3v3m0 8v1m0 23v3m0 1v4m0 17v1m0 12v1m0 12v3m0 10v1m0 4v3m0 11v1m0 14v3m0 3v2m0 1v2m0 9v2m0 7v2m0 14v1m0 20v4M507 77v1m0 40v1m0 7v2m0 18v2m0 35v1m0 10v3m0 37v2m0 10v1m0 28v1m0 14v3M514 78v1m0 10v2m0 88v2m0 22v1m0 68v1m0 7v3m0 3v1m0 72v2m0 12v4m0 54v1m0 1v1m0 42v1m0 34v1M518 96v1m0 7v1m0 7v2m0 17v1m0 1v2m0 47v1m0 6v1m0 6v2m0 4v3m0 1v1m0 5v3m0 29v2m0 5v3m0 1v2m0 72v1m0 27v1m0 36v4m0 3v1m0 8v2m0 6v1m0 17v1m0 22v2m0 8v2m0 12v2m0 1v2m0 4v1m0 13v3m0 8v2m0 14v3M525 68v1m0 2v1m0 1v1m0 11v3m0 1v1m0 7v3m0 17v2m0 2v1m0 6v1m0 50v3m0 6v1m0 9v2m0 4v1m0 15v1m0 8v4m0 30v1m0 8v1m0 8v1m0 16v1m0 21v1m0 7v2m0 1v2m0 1v1m0 10v1m0 7v1m0 11v1m0 9v2m0 29v3m0 9v2m0 5v1m0 31v2m0 18v1m0 7v2m0 34v1m0 4v1m0 3v3m0 1v1M529 78v2m0 9v1m0 12v3m0 9v2m0 27v2m0 23v1m0 23v2m0 3v2m0 31v1m0 23v1m0 103v1m0 87v2m0 6v1m0 9v3m0 12v1m0 3v1m0 2v1m0 2v3m0 11v2m0 13v1m0 4v1M536 59v2m0 4v1m0 16v1m0 4v1m0 1v1m0 20v2m0 21v2m0 12v2m0 9v1m0 1v2m0 17v2m0 2v1m0 32v1m0 24v2m0 13v3m0 3v1m0 3v4m0 12v5m0 2v1m0 22v1m0 15v5m0 15v2m0 1v3m0 10v3m0 7v1m0 23v1m0 4v2m0 8v5m0 10v1m0 14v2m0 15v1m0 3v3m0 13v3m0 8v2m0 10v1m0 26v1M540 60v1m0 26v1m0 1v1m0 11v2m0 1v3m0 2v3m0 7v1m0 2v1m0 33v1m0 12v1m0 16v1m0 5v3m0 3v1m0 13v2m0 2v1m0 12v3m0 13v3m0 17v2m0 14v2m0 21v1m0 10v1m0 13v1m0 6v1m0 20v1m0 7v1m0 92v1m0 11v2m0 12v1m0 8v2m0 4v1m0 12v2m0 6v3m0 3v2M544 65v4m0 12v2m0 4v1m0 8v3m0 5v1m0 6v2m0 3v1m0 7v3m0 6v2m0 9v1m0 14v1m0 7v2m0 5v1m0 22v1m0 4v1m0 8v2m0 12v1m0 11v1m0 2v1m0 4v3m0 2v1m0 3v1m0 1v2m0 1v1m0 6v2m0 4v1m0 6v1m0 9v1m0 13v1m0 27v2m0 17v1m0 8v1m0 53v2m0 3v1m0 8v2m0 19v1m0 11v1m0 4v1m0 6v1m0 5v1m0 16v2m0 13v1m0 13v1M551 64v2m0 5v1m0 8v2m0 29v1m0 13v1m0 41v3m0 5v1m0 2v1m0 1v1m0 20v1m0 19v1m0 27v2m0 10v2m0 96v1m0 116v1m0 29v1M555 76v1m0 2v2m0 1v2m0 1v1m0 8v3m0 7v2m0 4v1m0 42v1m0 2v1m0 21v3m0 9v2m0 47v2m0 13v2m0 7v1m0 1v1m0 16v2m0 11v1m0 14v1m0 20v1m0 4v3m0 3v1m0 18v2m0 24v1m0 10v1m0 6v4m0 1v1m0 2v2m0 4v1m0 55v2m0 44v1m0 3v2m0 4v1m0 1v2M559 82v1m0 11v2m0 14v3m0 4v2m0 3v1m0 12v7m0 4v3m0 6v1m0 8v4m0 22v1m0 5v3m0 14v1m0 2v3m0 12v1m0 6v3m0 7v3m0 3v1m0 21v1m0 13v1m0 49v1m0 10v1m0 2v2m0 2v3m0 2v1m0 2v2m0 2v2m0 2v1m0 9v1m0 10v3m0 7v1m0 4v1m0 19v1m0 23v1m0 7v2m0 5v1m0 8v1m0 3v1m0 4v1m0 16v2M563 75v1m0 2v1m0 4v1m0 12v1m0 46v2m0 1v2m0 21v1m0 8v2m0 6v4m0 5v4m0 12v2m0 9v1m0 14v1m0 2v3m0 15v2m0 2v2m0 10v1m0 1v2m0 15v1m0 3v1m0 25v3m0 5v1m0 1v3m0 5v3m0 1v3m0 9v1m0 9v1m0 6v1m0 10v2m0 1v1m0 6v3m0 3v1m0 12v1m0 10v2m0 1v3m0 17v1m0 15v1m0 11v1m0 31v3m0 5v1m0 4v1m0 1v3M567 107v1m0 8v2m0 24v3m0 28v1m0 6v2m0 26v1m0 71v1m0 55v1m0 170v1M571 62v1m0 25v1m0 3v2m0 3v1m0 30v1m0 3v1m0 6v1m0 4v2m0 63v1m0 1v1m0 6v1m0 4v1m0 5v1m0 14v1m0 30v1m0 2v1m0 25v1m0 3v1m0 22v1m0 12v1m0 1v4m0 5v3m0 38v1m0 5v2m0 6v1m0 1v1m0 2v1m0 4v3m0 1v2m0 7v1m0 11v2m0 3v4m0 17v1m0 2v1m0 5v3m0 5v2m0 6v1m0 14v4m0 3v1m0 2v2M575 67v3m0 1v2m0 21v4m0 16v2m0 3v2m0 2v1m0 7v3m0 3v2m0 3v1m0 1v1m0 2v2m0 35v2m0 4v1m0 32v1m0 6v1m0 5v2m0 6v1m0 8v3m0 1v1m0 6v3m0 10v2m0 3v1m0 4v2m0 40v2m0 19v1m0 8v1m0 8v1m0 4v1m0 3v2m0 19v4m0 4v1m0 14v2m0 6v1m0 22v1m0 2v2m0 6v2m0 1v2m0 7v2m0 9v1m0 3v2m0 3v1m0 3v2m0 4v1m0 9v2m0 1v1m0 9v3M579 59v1m0 2v1m0 10v5m0 14v2m0 1v1m0 17v1m0 21v1m0 5v2m0 2v2m0 9v2m0 14v2m0 9v2m0 2v2m0 6v1m0 13v3m0 1v1m0 3v2m0 2v2m0 13v2m0 35v1m0 3v1m0 28v3m0 16v3m0 26v1m0 6v1m0 47v3m0 10v1m0 18v2m0 19v3m0 12v2m0 3v1m0 20v3m0 14v1m0 8v3M583 67v2m0 5v2m0 15v1m0 4v1m0 4v1m0 2v1m0 4v3m0 12v1m0 8v1m0 2v1m0 10v1m0 15v3m0 3v1m0 10v1m0 14v2m0 8v1m0 3v1m0 2v1m0 2v1m0 2v4m0 5v3m0 3v4m0 26v1m0 3v1m0 12v1m0 8v1m0 43v2m0 5v4m0 3v3m0 3v1m0 7v3m0 11v3m0 10v3m0 2v1m0 21v1m0 9v2m0 38v2m0 5v2m0 7v1m0 30v3M587 65v3m0 19v1m0 11v3m0 3v3m0 2v1m0 3v1m0 4v2m0 2v2m0 2v2m0 12v3m0 2v1m0 14v6m0 2v2m0 5v1m0 7v1m0 1v5m0 23v1m0 10v1m0 12v1m0 9v1m0 17v1m0 5v2m0 17v2m0 28v1m0 5v2m0 10v4m0 7v2m0 1v3m0 4v4m0 6v1m0 3v3m0 16v1m0 7v1m0 8v2m0 6v2m0 5v5m0 14v1m0 1v4m0 7v2m0 5v1m0 24v2m0 8v1m0 3v3m0 6v4m0 4v1M591 112v1m0 4v1m0 1v2m0 22v1m0 17v1m0 8v3m0 2v1m0 9v1m0 21v3m0 10v2m0 36v3m0 15v2m0 28v1m0 60v1m0 9v1m0 11v1m0 2v2m0 10v1m0 8v2m0 8v1m0 35v2m0 4v1m0 4v1m0 2v1m0 4v4m0 8v2m0 6v2m0 24v1m0 2v1M595 65v5m0 11v1m0 25v1m0 12v1m0 10v3m0 4v1m0 8v2m0 3v3m0 3v3m0 4v3m0 17v2m0 2v1m0 2v1m0 15v1m0 6v1m0 11v2m0 20v2m0 27v2m0 46v1m0 1v1m0 7v2m0 16v1m0 2v2m0 6v2m0 7v1m0 3v1m0 11v1m0 8v3m0 2v1m0 9v2m0 14v1m0 14v1m0 42v1m0 1v2m0 2v1m0 9v4m0 14v1m0 9v1M599 67v3m0 17v1m0 15v3m0 17v2m0 6v1m0 16v2m0 5v1m0 6v1m0 1v2m0 3v2m0 11v1m0 4v5m0 8v2m0 7v1m0 4v1m0 1v1m0 2v2m0 2v1m0 11v1m0 17v1m0 15v6m0 2v2m0 13v1m0 3v1m0 28v2m0 10v2m0 5v1m0 7v2m0 3v2m0 22v4m0 13v1m0 2v3m0 2v2m0 20v1m0 11v2m0 11v1m0 15v1m0 2v1m0 5v2m0 3v3m0 9v2m0 2v2m0 2v2m0 8v1m0 4v3M608 67v2m0 10v2m0 13v1m0 10v3m0 4v3m0 1v1m0 3v3m0 5v2m0 7v1m0 3v2m0 9v1m0 10v2m0 33v2m0 16v4m0 3v2m0 8v2m0 2v2m0 6v2m0 17v2m0 9v2m0 1v2m0 5v1m0 2v1m0 57v2m0 5v1m0 18v1m0 1v1m0 6v6m0 10v3m0 1v1m0 12v2m0 29v1m0 3v3m0 5v2m0 1v2m0 4v4m0 3v2m0 4v2m0 10v1m0 15v1m0 4v1m0 8v2m0 8v2M612 60v1m0 36v2m0 7v1m0 34v2m0 27v1m0 9v2m0 5v1m0 46v1m0 8v3m0 17v2m0 3v2m0 6v1m0 6v1m0 37v3m0 5v4m0 7v1m0 1v1m0 7v3m0 14v3m0 4v2m0 6v1m0 7v5m0 6v1m0 12v3m0 11v1m0 10v1m0 9v1m0 2v1m0 12v2m0 1v3m0 13v2m0 14v1m0 2v2m0 7v2m0 11v2m0 4v1m0 3v1M616 64v1m0 15v2m0 6v1m0 8v1m0 12v1m0 31v2m0 14v1m0 2v2m0 9v1m0 7v1m0 28v1m0 2v2m0 21v4m0 2v1m0 8v2m0 11v1m0 13v1m0 42v2m0 21v1m0 3v3m0 5v1m0 9v3m0 2v2m0 23v2m0 19v1m0 31v1m0 19v1m0 1v3m0 13v3m0 1v1m0 1v3m0 1v2m0 9v2m0 1v3M625 82v3m0 11v1m0 22v3m0 12v1m0 3v2m0 5v1m0 7v2m0 41v1m0 42v2m0 22v1m0 44v1m0 17v1m0 55v4m0 4v3m0 11v2m0 36v1m0 19v1m0 12v1m0 29v1M629 61v2m0 15v3m0 2v1m0 6v2m0 106v1m0 140v3m0 32v1m0 61v3m0 15v3m0 43v3M638 72v3m0 31v1m0 1v2m0 13v1m0 52v1m0 14v1m0 15v1m0 16v3m0 32v2m0 21v1m0 25v1m0 34v1m0 62v1m0 48v2M647 66v2m0 6v1m0 5v3m0 8v1m0 4v3m0 7v3m0 10v1m0 23v2m0 4v1m0 19v5m0 18v1m0 1v1m0 8v1m0 2v4m0 8v1m0 13v1m0 1v2m0 5v2m0 2v3m0 35v3m0 23v1m0 7v1m0 9v1m0 17v3m0 2v3m0 8v5m0 11v2m0 16v2m0 1v1m0 1v5m0 2v1m0 4v1m0 6v2m0 1v1m0 19v1m0 25v1m0 7v1m0 6v5m0 1v1m0 4v3m0 1v2m0 2v3m0 10v2m0 15v1M656 148v1m0 18v4m0 3v1m0 13v1m0 33v1m0 31v1m0 8v1m0 1v2m0 14v1m0 1v1m0 76v2m0 20v1m0 27v1m0 14v2m0 17v3m0 13v1m0 23v1m0 36v3m0 1v2M665 62v3m0 16v3m0 2v1m0 8v2m0 8v2m0 1v1m0 7v1m0 5v1m0 6v2m0 12v1m0 2v1m0 5v2m0 4v2m0 6v1m0 4v3m0 13v1m0 12v10m0 8v1m0 1v1m0 10v1m0 3v2m0 14v1m0 2v3m0 6v1m0 10v2m0 17v1m0 13v1m0 29v2m0 8v3m0 13v2m0 6v2m0 2v1m0 7v2m0 1v2m0 4v2m0 5v5m0 3v1m0 30v2m0 1v1m0 6v1m0 12v4m0 2v5m0 2v1m0 5v1m0 14v2m0 2v1m0 27v1M679 64v1m0 2v1m0 4v1m0 13v3m0 9v2m0 2v3m0 2v2m0 18v1m0 16v2m0 8v5m0 9v1m0 1v1m0 9v4m0 5v3m0 1v1m0 18v5m0 33v4m0 1v2m0 13v2m0 1v1m0 9v2m0 6v1m0 12v3m0 11v1m0 2v2m0 9v2m0 13v1m0 7v2m0 1v5m0 12v1m0 6v2m0 3v2m0 5v1m0 3v1m0 4v1m0 7v3m0 8v1m0 24v2m0 3v2m0 11v4m0 1v1m0 3v2m0 7v1m0 5v1m0 15v1m0 5v3m0 3v1m0 4v1M703 61v1m0 32v3m0 21v1m0 1v3m0 2v1m0 15v1m0 1v1m0 29v2m0 10v4m0 3v2m0 7v1m0 6v1m0 30v1m0 4v1m0 37v1m0 22v3m0 15v1m0 4v1m0 7v2m0 4v2m0 28v1m0 7v1m0 8v1m0 2v2m0 36v3m0 20v1m0 13v1m0 5v1m0 3v3m0 9v1m0 2v5m0 17v6"/>
<path stroke="#1f0018" stroke-width="5" d="M603.5 64v4m0 16v4m0 10v2m0 1v2m0 3v2m0 15v1m0 5v1m0 13v2m0 24v1m0 1v2m0 7v1m0 4v3m0 18v1m0 10v1m0 17v4m0 4v3m0 3v1m0 19v2m0 5v1m0 27v1m0 23v1m0 19v3m0 10v1m0 15v1m0 6v3m0 5v1m0 7v1m0 2v2m0 14v3m0 9v1m0 21v2m0 7v2m0 23v2m0 4v2m0 6v1m0 12v2m0 5v1m0 9v3M620.5 64v1m0 1v3m0 33v1m0 9v2m0 24v1m0 9v1m0 1v2m0 18v1m0 7v2m0 2v1m0 21v2m0 78v3m0 10v2m0 9v3m0 2v1m0 17v4m0 24v1m0 22v3m0 9v2m0 2v1m0 26v1m0 3v1m0 9v1m0 26v1m0 10v2m0 2v2m0 14v2m0 8v2M633.5 97v1m0 28v3m0 8v2m0 8v2m0 24v2m0 20v1m0 4v2m0 3v1m0 3v1m0 6v1m0 12v1m0 9v2m0 17v3m0 15v1m0 4v2m0 9v2m0 31v1m0 31v2m0 3v1m0 10v1m0 12v1m0 17v2m0 9v1m0 3v1m0 87v1m0 16v1M642.5 68v2m0 13v1m0 1v5m0 13v1m0 2v2m0 2v3m0 4v1m0 4v2m0 15v2m0 6v2m0 17v1m0 7v1m0 28v1m0 1v3m0 4v2m0 6v2m0 13v1m0 34v2m0 10v2m0 35v1m0 3v1m0 5v7m0 10v1m0 2v3m0 2v3m0 11v1m0 16v1m0 4v2m0 23v2m0 26v1m0 33v1m0 22v3m0 5v2m0 3v3m0 3v2m0 3v1m0 7v2M651.5 59v3m0 42v2m0 3v1m0 7v1m0 7v2m0 19v2m0 3v1m0 79v1m0 1v1m0 34v1m0 81v3m0 15v1m0 6v3m0 5v2M660.5 60v2m0 39v1m0 1v1m0 3v2m0 2v2m0 9v1m0 3v1m0 4v2m0 4v1m0 18v1m0 1v2m0 3v4m0 9v2m0 23v1m0 3v1m0 14v2m0 6v3m0 22v2m0 30v2m0 21v2m0 4v1m0 7v1m0 5v1m0 14v2m0 8v1m0 26v4m0 6v2m0 7v1m0 4v1m0 11v1m0 22v2m0 5v1m0 4v2m0 9v1m0 5v2m0 17v2m0 7v1m0 1v1m0 8v1m0 21v1m0 1v3M669.5 75v1m0 13v1m0 4v1m0 15v1m0 1v1m0 3v1m0 7v1m0 5v3m0 11v2m0 14v1m0 49v2m0 1v2m0 17v2m0 10v1m0 29v1m0 13v1m0 26v3m0 13v3m0 40v3m0 13v1m0 1v1m0 7v2m0 15v1m0 19v3m0 1v5m0 21v1m0 49v1m0 8v1M674.5 62v1m0 7v1m0 4v1m0 3v1m0 10v2m0 9v1m0 3v2m0 2v1m0 3v1m0 2v2m0 16v1m0 3v1m0 12v1m0 1v1m0 5v4m0 3v1m0 6v1m0 8v1m0 2v1m0 11v3m0 5v1m0 2v2m0 5v1m0 1v4m0 2v4m0 19v3m0 5v2m0 1v1m0 2v2m0 24v1m0 35v1m0 1v1m0 10v1m0 15v2m0 2v2m0 8v1m0 5v2m0 11v2m0 3v3m0 25v1m0 3v2m0 11v1m0 5v1m0 14v2m0 2v1m0 3v2m0 1v4m0 2v1m0 1v2m0 6v4m0 1v2m0 7v1m0 10v1m0 1v1m0 2v5m0 6v3m0 8v2M683.5 82v1m0 16v3m0 4v2m0 4v1m0 5v1m0 68v1m0 8v2m0 9v4m0 16v1m0 33v2m0 3v1m0 8v1m0 27v3m0 2v2m0 67v1m0 82v2m0 70v2M688.5 81v1m0 7v2m0 15v1m0 3v1m0 1v1m0 3v1m0 1v1m0 7v1m0 6v1m0 3v1m0 3v2m0 19v2m0 4v1m0 13v1m0 6v3m0 14v1m0 8v1m0 22v2m0 1v2m0 7v2m0 2v1m0 7v2m0 1v1m0 3v3m0 8v4m0 18v7m0 5v1m0 9v2m0 4v4m0 13v2m0 5v1m0 1v1m0 17v2m0 4v2m0 5v2m0 1v4m0 12v2m0 1v1m0 12v1m0 8v5m0 5v3m0 5v1m0 4v3m0 3v3m0 3v4m0 6v3m0 5v4m0 1v1m0 4v2m0 2v3m0 1v2m0 3v4m0 11v2m0 5v3m0 3v1M693.5 63v2m0 8v2m0 8v1m0 7v2m0 2v1m0 4v1m0 8v1m0 13v2m0 6v1m0 10v1m0 12v3m0 8v3m0 8v3m0 2v1m0 3v2m0 7v2m0 5v1m0 5v1m0 9v1m0 1v2m0 3v2m0 1v1m0 1v1m0 3v4m0 1v3m0 8v1m0 2v2m0 2v2m0 30v1m0 15v1m0 3v1m0 3v2m0 1v1m0 9v2m0 11v2m0 8v1m0 1v1m0 5v1m0 9v1m0 5v2m0 9v2m0 1v3m0 3v1m0 4v1m0 1v3m0 1v1m0 3v1m0 7v1m0 5v1m0 16v2m0 8v3m0 4v2m0 3v1m0 5v1m0 3v4m0 7v2m0 1v2m0 4v2m0 6v1m0 3v2m0 1v1m0 10v2m0 1v2m0 3v2m0 2v1M698.5 66v2m0 12v3m0 18v2m0 8v2m0 4v2m0 1v2m0 11v2m0 8v2m0 4v1m0 5v1m0 17v1m0 1v3m0 1v1m0 4v1m0 9v1m0 2v2m0 15v3m0 8v2m0 8v2m0 20v2m0 56v1m0 3v1m0 3v1m0 9v2m0 1v3m0 6v2m0 4v2m0 1v2m0 10v1m0 10v2m0 7v2m0 5v3m0 1v1m0 4v3m0 15v2m0 9v1m0 5v1m0 7v2m0 5v2m0 11v2m0 7v1m0 12v2m0 1v4m0 7v1m0 22v2M707.5 59v1m0 6v1m0 9v2m0 3v2m0 10v5m0 1v2m0 26v2m0 9v2m0 6v1m0 7v1m0 3v3m0 7v1m0 6v1m0 7v3m0 3v1m0 1v1m0 8v2m0 8v2m0 4v2m0 1v2m0 8v4m0 12v1m0 10v1m0 5v1m0 34v1m0 1v3m0 10v1m0 1v2m0 17v1m0 10v3m0 4v2m0 5v1m0 2v3m0 8v1m0 4v1m0 5v1m0 30v1m0 19v3m0 10v1m0 1v2m0 16v1m0 1v2m0 1v1m0 6v1m0 1v2m0 7v2m0 16v2m0 4v2m0 18v2M712.5 60v1m0 4v1m0 2v4m0 5v1m0 14v3m0 9v2m0 2v1m0 18v1m0 15v1m0 8v3m0 3v1m0 2v1m0 25v3m0 13v2m0 2v3m0 11v1m0 7v1m0 7v3m0 7v2m0 2v1m0 2v3m0 5v1m0 35v1m0 3v1m0 15v1m0 13v1m0 3v1m0 18v2m0 2v1m0 13v2m0 1v2m0 15v1m0 14v3m0 3v1m0 13v1m0 22v2m0 3v2m0 2v1m0 6v1m0 9v1m0 2v2m0 10v1m0 21v1m0 7v2m0 4v1m0 3v1m0 2v1M717.5 66v1m0 3v3m0 15v1m0 7v2m0 3v1m0 4v1m0 7v1m0 2v1m0 12v1m0 1v1m0 1v1m0 1v3m0 7v2m0 12v1m0 16v1m0 21v3m0 4v1m0 2v2m0 3v1m0 9v1m0 2v2m0 1v3m0 7v2m0 13v1m0 67v1m0 9v1m0 36v1m0 9v5m0 13v2m0 15v1m0 2v1m0 11v1m0 4v1m0 35v1m0 2v1m0 11v2m0 22v1m0 2v1m0 1v3m0 16v2M722.5 75v1m0 1v2m0 8v3m0 2v1m0 2v2m0 2v1m0 3v1m0 6v1m0 4v1m0 2v2m0 14v2m0 20v1m0 11v1m0 18v1m0 14v1m0 12v1m0 18v2m0 1v3m0 6v1m0 12v1m0 4v1m0 6v1m0 29v3m0 7v3m0 7v2m0 7v3m0 10v2m0 24v1m0 8v2m0 18v2m0 12v1m0 16v2m0 1v1m0 69v1m0 14v1m0 1v1m0 8v1m0 5v1M727.5 70v3m0 17v2m0 7v3m0 10v2m0 4v1m0 4v1m0 22v1m0 11v3m0 9v1m0 26v2m0 21v1m0 3v2m0 5v3m0 7v3m0 13v3m0 34v2m0 10v1m0 19v3m0 18v1m0 4v2m0 1v1m0 6v2m0 3v1m0 2v2m0 8v2m0 1v2m0 9v2m0 4v4m0 1v1m0 6v3m0 18v1m0 7v1m0 6v2m0 8v1m0 17v1m0 16v1m0 4v3m0 2v1m0 4v1m0 10v1m0 3v2m0 6v1m0 2v2M732.5 67v4m0 4v1m0 7v2m0 9v3m0 18v3m0 15v1m0 3v3m0 8v2m0 13v2m0 4v1m0 13v1m0 4v1m0 7v1m0 4v1m0 1v1m0 7v1m0 9v2m0 1v2m0 3v2m0 4v1m0 3v2m0 1v2m0 6v1m0 1v1m0 2v2m0 4v1m0 5v1m0 27v3m0 13v2m0 4v1m0 37v1m0 4v1m0 9v2m0 5v1m0 5v1m0 7v2m0 32v1m0 9v3m0 7v1m0 4v1m0 3v1m0 9v2m0 7v3m0 2v3m0 2v1m0 6v1m0 11v2m0 1v2m0 15v2m0 3v4M743.5 61v4m0 3v1m0 1v2m0 12v1m0 2v2m0 7v2m0 2v2m0 2v1m0 47v1m0 2v1m0 6v1m0 6v1m0 43v1m0 6v4m0 3v1m0 8v2m0 3v1m0 6v1m0 7v1m0 41v1m0 3v2m0 15v1m0 8v1m0 1v2m0 15v1m0 18v2m0 21v1m0 4v1m0 3v1m0 1v1m0 36v3m0 4v2m0 10v1m0 23v1m0 29v3m0 2v2m0 9v3M748.5 65v2m0 15v1m0 4v1m0 4v1m0 2v1m0 1v2m0 5v4m0 7v4m0 7v1m0 28v1m0 4v1m0 10v4m0 2v1m0 9v1m0 1v2m0 14v1m0 11v1m0 7v1m0 15v5m0 10v1m0 14v1m0 14v2m0 5v2m0 4v1m0 6v1m0 5v2m0 1v2m0 38v1m0 3v1m0 6v1m0 3v1m0 1v1m0 9v1m0 2v2m0 17v1m0 6v1m0 29v1m0 7v2m0 3v1m0 2v2m0 2v1m0 5v1m0 16v1m0 6v6m0 6v3m0 5v1m0 2v1m0 9v1m0 5v3M753.5 135v3m0 14v2m0 3v1m0 31v1m0 13v1m0 7v3m0 53v2m0 2v2m0 19v2m0 29v1m0 78v1m0 32v2m0 23v1m0 62v3M758.5 66v2m0 11v1m0 19v2m0 8v1m0 5v2m0 6v1m0 29v1m0 13v1m0 12v1m0 22v2m0 30v2m0 10v3m0 25v1m0 95v2m0 5v1m0 9v2m0 33v1m0 4v2m0 24v2m0 21v1m0 52v2M769.5 59v1m0 15v1m0 17v3m0 4v1m0 4v1m0 3v2m0 13v2m0 4v1m0 9v2m0 13v1m0 14v4m0 8v2m0 18v1m0 21v3m0 3v2m0 1v1m0 18v1m0 31v2m0 4v2m0 1v3m0 4v2m0 11v3m0 14v2m0 2v2m0 5v3m0 5v2m0 1v1m0 3v1m0 1v5m0 1v2m0 1v1m0 10v2m0 1v2m0 7v2m0 5v1m0 2v1m0 29v1m0 11v1m0 13v2m0 3v2m0 5v2m0 9v2m0 26v2m0 2v2m0 19v1M774.5 77v2m0 20v2m0 37v3m0 19v1m0 15v1m0 2v2m0 3v1m0 2v2m0 3v1m0 14v2m0 9v1m0 85v1m0 6v2m0 117v3m0 18v1m0 11v2m0 41v1m0 13v3M785.5 68v1m0 11v1m0 2v1m0 5v2m0 16v2m0 2v1m0 3v1m0 1v2m0 12v1m0 22v5m0 8v1m0 5v2m0 1v2m0 5v1m0 6v1m0 26v1m0 1v4m0 7v1m0 7v1m0 1v1m0 3v1m0 1v1m0 2v1m0 24v1m0 10v8m0 3v1m0 5v1m0 7v3m0 6v1m0 12v1m0 1v3m0 4v2m0 3v2m0 24v1m0 1v1m0 7v2m0 5v1m0 8v4m0 27v2m0 20v4m0 7v2m0 1v1m0 4v1m0 10v2m0 8v1m0 5v1m0 14v2m0 5v3m0 10v2M796.5 68v1m0 26v1m0 19v2m0 25v2m0 48v1m0 109v1m0 38v1m0 25v1m0 46v3m0 15v1m0 3v3m0 10v2m0 3v2m0 3v2m0 63v3"/>
<path stroke="#1f0018" stroke-width="6" d="M738 91v1m0 5v1m0 10v1m0 3v1m0 1v2m0 18v4m0 10v1m0 1v1m0 16v2m0 30v3m0 2v2m0 2v1m0 4v2m0 9v2m0 9v1m0 12v1m0 48v1m0 7v1m0 6v6m0 3v1m0 28v1m0 29v1m0 5v3m0 4v1m0 4v1m0 8v3m0 22v1m0 4v1m0 1v1m0 3v1m0 1v1m0 6v1m0 17v4m0 22v3m0 4v1m0 3v1m0 8v2M764 60v2m0 1v1m0 4v3m0 7v2m0 3v1m0 9v2m0 9v3m0 8v1m0 7v2m0 17v1m0 21v1m0 2v1m0 8v2m0 20v1m0 14v2m0 7v2m0 6v1m0 12v2m0 15v1m0 3v1m0 25v1m0 13v1m0 4v4m0 2v3m0 17v1m0 2v4m0 14v1m0 22v2m0 2v3m0 3v1m0 4v1m0 2v2m0 7v2m0 39v1m0 5v1m0 1v3m0 12v1m0 27v2m0 5v1m0 2v2m0 14v1M780 67v1m0 31v3m0 17v1m0 1v2m0 6v1m0 13v2m0 2v3m0 1v2m0 11v1m0 1v1m0 7v2m0 7v1m0 12v4m0 5v2m0 6v1m0 8v1m0 5v5m0 9v1m0 12v1m0 35v1m0 3v1m0 9v2m0 22v2m0 29v1m0 19v2m0 8v1m0 7v1m0 3v1m0 13v2m0 16v1m0 3v2m0 1v4m0 5v1m0 4v1m0 4v2m0 10v3m0 25v1m0 4v1m0 14v2M791 63v1m0 4v1m0 15v1m0 1v1m0 10v1m0 15v1m0 34v2m0 10v1m0 5v3m0 13v2m0 10v2m0 8v1m0 10v1m0 100v2m0 10v1m0 18v1m0 14v2m0 13v7m0 6v3m0 29v2m0 14v2m0 1v2m0 20v1m0 16v2"/>
<path stroke="#280028" stroke-width="1" d="M78.5 98v1m0 10v2m0 11v1m0 21v3m0 13v2m0 52v2m0 102v2m0 28v2m0 58v4m0 21v2m0 47v3m0 9v1m0 6v1m0 29v1M79.5 68v2m0 1v2m0 57v2m0 48v3m0 55v3m0 7v3m0 4v4m0 17v2m0 70v4m0 2v2m0 14v1m0 49v1m0 33v2m0 37v1m0 16v3m0 21v1M80.5 71v2m0 13v1m0 32v3m0 29v2m0 63v2m0 2v3m0 33v4m0 70v4m0 8v2m0 5v4m0 91v2m0 24v2m0 36v4M81.5 108v1m0 126v1m0 49v2m0 111v2m0 44v4m0 9v1m0 46v2M82.5 134v2m0 19v1m0 11v2m0 8v5m0 16v4m0 14v2m0 2v1m0 36v3m0 24v4m0 42v4m0 31v4m0 1v4m0 63v3m0 34v2m0 2v2m0 39v1m0 4v5m0 5v2M83.5 72v1m0 52v2m0 10v4m0 59v2m0 17v1m0 126v2m0 2v2m0 93v1m0 82v3m0 1v4M84.5 103v2m0 28v3m0 4v1m0 3v3m0 20v2m0 147v1m0 66v3m0 33v2m0 25v3M85.5 71v1m0 17v1m0 1v2m0 80v2m0 7v2m0 20v2m0 35v3m0 12v2m0 5v1m0 3v4m0 50v1m0 52v2m0 4v1m0 55v1m0 10v2m0 20v1m0 30v3m0 3v1m0 24v5M86.5 114v4m0 39v4m0 22v2m0 11v3m0 113v1m0 21v2m0 22v1m0 92v1m0 3v2m0 4v2m0 12v3m0 38v3M87.5 63v5m0 229v1m0 70v1m0 10v1m0 43v1m0 26v3m0 9v3m0 10v2m0 2v3M88.5 59v2m0 47v3m0 18v3m0 29v3m0 103v1m0 21v1m0 184v4m0 5v2M89.5 68v3m0 14v4m0 2v4m0 6v3m0 63v3m0 105v3m0 5v2m0 80v2m0 18v1m0 33v3m0 38v1m0 19v3m0 23v2M90.5 62v2m0 56v2m0 23v2m0 3v2m0 12v3m0 21v2m0 43v2m0 25v2m0 129v2m0 1v1m0 42v1m0 19v2m0 13v1m0 7v1m0 6v2m0 27v3M91.5 155v4m0 17v3m0 75v3m0 45v1m0 17v1m0 57v4m0 23v2m0 27v2m0 36v1m0 54v1M92.5 62v1m0 2v3m0 29v1m0 27v1m0 4v5m0 38v1m0 15v2m0 2v3m0 9v1m0 9v2m0 19v3m0 4v1m0 4v1m0 24v2m0 17v1m0 5v8m0 14v4m0 5v1m0 8v4m0 4v1m0 53v3m0 59v3m0 49v3M93.5 76v3m0 2v1m0 4v2m0 46v3m0 25v3m0 50v2m0 2v1m0 3v1m0 18v1m0 111v2m0 3v2m0 7v1m0 16v7m0 10v1m0 50v4m0 10v1m0 27v1m0 19v2M94.5 120v4m0 33v2m0 11v1m0 15v4m0 55v3m0 1v2m0 2v1m0 12v1m0 9v2m0 6v3m0 19v1m0 2v4m0 4v4m0 46v1m0 25v2m0 10v4m0 5v3m0 16v3m0 46v3m0 37v1M95.5 85v4m0 2v1m0 9v3m0 77v4m0 67v3m0 101v4m0 85v2m0 2v4m0 71v1M96.5 87v2m0 9v4m0 3v3m0 26v2m0 15v2m0 22v1m0 6v2m0 22v1m0 1v3m0 16v2m0 130v3m0 73v2m0 16v1M97.5 115v4m0 27v4m0 23v3m0 18v4m0 18v4m0 6v1m0 4v2m0 11v4m0 1v1m0 24v2m0 41v2m0 3v3m0 6v1m0 19v3m0 18v1m0 46v3m0 31v1m0 15v2m0 8v2m0 2v1m0 51v1M98.5 79v1m0 59v2m0 61v3m0 24v5m0 62v3m0 17v1m0 50v1m0 3v1m0 31v2m0 24v1m0 57v2M99.5 91v2m0 32v1m0 68v1m0 2v1m0 30v3m0 41v4m0 35v1m0 8v3m0 16v1m0 11v3m0 152v2m0 25v2M100.5 95v1m0 29v3m0 2v3m0 37v1m0 8v1m0 16v2m0 10v2m0 25v3m0 7v2m0 7v3m0 1v6m0 79v2m0 33v3m0 5v2m0 15v4m0 78v1m0 7v3m0 24v4M101.5 59v1m0 18v1m0 49v2m0 43v2m0 35v3m0 3v1m0 14v1m0 5v3m0 39v3m0 9v4m0 12v3m0 8v2m0 20v2m0 85v3m0 25v3m0 10v2m0 3v1m0 48v6m0 7v1M102.5 90v1m0 25v2m0 1v3m0 28v1m0 14v2m0 112v1m0 16v2m0 4v1m0 5v1m0 120v2m0 5v2m0 76v2m0 14v2M103.5 105v2m0 62v2m0 22v2m0 45v1m0 5v2m0 19v1m0 15v2m0 14v4m0 20v1m0 64v1m0 9v2m0 11v3m0 42v2m0 35v2m0 24v2M104.5 72v3m0 10v3m0 7v2m0 17v3m0 14v4m0 5v1m0 2v5m0 10v3m0 8v2m0 4v2m0 3v1m0 2v3m0 18v2m0 5v2m0 2v1m0 15v1m0 15v4m0 32v2m0 5v3m0 39v1m0 37v2m0 16v6m0 10v3m0 97v4m0 10v1m0 7v3M105.5 80v5m0 5v1m0 34v4m0 7v2m0 5v2m0 11v2m0 32v5m0 20v1m0 17v1m0 7v3m0 22v4m0 8v1m0 1v2m0 31v1m0 79v1m0 43v2m0 8v4m0 35v3m0 12v2m0 16v3M106.5 87v2m0 6v2m0 18v1m0 10v3m0 3v1m0 6v2m0 13v4m0 78v2m0 37v4m0 38v4m0 43v1m0 18v3m0 10v1m0 122v4M107.5 93v1m0 7v2m0 1v6m0 8v4m0 64v3m0 26v5m0 48v2m0 4v1m0 54v2m0 17v4m0 50v2m0 3v4m0 30v1m0 46v2M108.5 61v1m0 20v1m0 28v1m0 24v2m0 3v2m0 17v2m0 48v2m0 7v2m0 152v3m0 3v4m0 7v1m0 1v7m0 3v3m0 6v2m0 1v1m0 6v4m0 63v1m0 4v2m0 2v1m0 7v2M109.5 75v1m0 90v1m0 4v2m0 13v2m0 29v4m0 1v2m0 135v2m0 41v2m0 43v3m0 4v1m0 46v1M110.5 62v5m0 24v1m0 4v1m0 20v3m0 44v2m0 41v2m0 24v1m0 6v4m0 80v2m0 12v3m0 11v4m0 8v2m0 21v2m0 11v1m0 9v2m0 2v2m0 24v2m0 2v3m0 10v2m0 40v3m0 4v1m0 6v4m0 1v2m0 15v1M111.5 77v2m0 5v1m0 22v2m0 29v1m0 20v3m0 38v1m0 2v1m0 41v1m0 1v2m0 106v2m0 9v2m0 31v2m0 14v1m0 4v2m0 22v1m0 82v4M112.5 88v3m0 3v1m0 11v3m0 27v1m0 2v3m0 8v3m0 4v2m0 8v2m0 135v1m0 24v3m0 53v4m0 2v3m0 35v1m0 36v2m0 17v2m0 9v2m0 16v3m0 10v1M113.5 79v3m0 31v3m0 23v2m0 12v4m0 12v2m0 3v1m0 5v3m0 12v2m0 42v2m0 6v2m0 33v2m0 13v1m0 5v6m0 4v1m0 51v2m0 48v3m0 13v1m0 21v2m0 25v3m0 11v4m0 27v2M114.5 60v5m0 38v4m0 2v2m0 7v1m0 110v1m0 75v1m0 9v2m0 62v3m0 33v1m0 2v1m0 31v2m0 49v4m0 23v2M115.5 64v2m0 18v1m0 5v3m0 11v4m0 35v4m0 50v1m0 6v2m0 3v1m0 1v1m0 1v2m0 11v1m0 117v3m0 3v3m0 4v2m0 29v1m0 21v2m0 22v4m0 25v2m0 38v2m0 12v1m0 7v1M116.5 72v1m0 77v4m0 6v3m0 16v5m0 16v3m0 10v1m0 4v3m0 16v2m0 63v1m0 8v3m0 12v3m0 5v1m0 10v1m0 1v3m0 9v3m0 24v1m0 24v2m0 1v1m0 47v3m0 14v2M117.5 63v4m0 2v4m0 23v4m0 1v2m0 65v3m0 9v3m0 57v2m0 39v2m0 11v2m0 7v4m0 5v3m0 4v4m0 29v1m0 8v2m0 14v3m0 29v2m0 31v1m0 34v1m0 1v3m0 35v1M118.5 83v3m0 19v4m0 14v1m0 23v4m0 2v2m0 2v3m0 24v1m0 15v2m0 3v2m0 20v1m0 4v1m0 3v4m0 6v3m0 1v3m0 13v2m0 25v2m0 17v3m0 3v2m0 64v2m0 6v2m0 3v1m0 52v4m0 25v1m0 15v3M119.5 90v2m0 18v2m0 12v4m0 32v1m0 4v2m0 43v1m0 30v3m0 34v3m0 23v3m0 9v4m0 7v1m0 15v1m0 2v3m0 2v5m0 40v3m0 7v3m0 35v1m0 21v1m0 27v1m0 17v1m0 22v1M120.5 85v4m0 32v1m0 7v1m0 22v1m0 78v2m0 29v2m0 9v4m0 14v1m0 13v3m0 82v2m0 30v3m0 15v1m0 17v2m0 10v3m0 1v1m0 53v2M121.5 60v3m0 65v1m0 41v3m0 26v2m0 22v3m0 11v2m0 8v3m0 18v3m0 50v2m0 17v1m0 12v4m0 9v1m0 62v2m0 6v4m0 8v2m0 6v6m0 5v2m0 23v1m0 21v1m0 6v1M122.5 64v1m0 33v1m0 43v1m0 82v2m0 16v2m0 52v2m0 16v1m0 13v3m0 30v2m0 16v1m0 9v3m0 8v2m0 1v5m0 6v3m0 37v1m0 1v3m0 4v3m0 48v4M123.5 89v2m0 1v4m0 12v4m0 66v2m0 1v1m0 27v2m0 16v1m0 47v2m0 32v2m0 23v1m0 41v3m0 4v1m0 5v2m0 28v3m0 8v2m0 69v4M124.5 78v4m0 16v3m0 8v3m0 2v2m0 25v3m0 35v2m0 22v1m0 32v3m0 59v1m0 62v3m0 36v5m0 30v3m0 35v1m0 27v2m0 1v2m0 20v4M125.5 110v2m0 5v4m0 52v1m0 3v1m0 8v4m0 7v1m0 81v1m0 54v4m0 11v2m0 6v2m0 93v3m0 7v2m0 56v4m0 7v3M126.5 62v2m0 16v4m0 17v3m0 6v1m0 7v1m0 15v1m0 43v2m0 48v1m0 8v1m0 5v3m0 4v2m0 39v1m0 33v2m0 8v2m0 20v4m0 9v1m0 21v2m0 39v2m0 80v1M127.5 88v2m0 2v3m0 92v2m0 14v1m0 30v1m0 8v1m0 2v1m0 11v3m0 34v3m0 22v2m0 11v3m0 22v1m0 50v2m0 7v2m0 20v2m0 36v2m0 16v1m0 24v3M128.5 59v1m0 1v1m0 2v2m0 7v2m0 16v2m0 14v3m0 52v2m0 26v1m0 4v3m0 2v2m0 28v3m0 1v2m0 8v2m0 15v1m0 29v1m0 19v2m0 16v3m0 49v1m0 48v1m0 64v4m0 29v1M129.5 77v2m0 49v4m0 40v3m0 22v4m0 92v3m0 12v3m0 12v2m0 11v2m0 72v2m0 22v1m0 20v1M130.5 135v2m0 47v1m0 6v1m0 11v4m0 94v1m0 15v1m0 41v2m0 56v3m0 39v4M131.5 111v1m0 2v1m0 130v1m0 6v4m0 27v4m0 8v3m0 61v3m0 91v1m0 6v1m0 30v1m0 8v1M132.5 83v2m0 29v2m0 5v2m0 29v3m0 7v2m0 4v2m0 35v2m0 17v2m0 13v2m0 19v3m0 43v2m0 54v2m0 5v2m0 1v2m0 2v4m0 23v5m0 36v3M133.5 71v2m0 13v3m0 44v5m0 16v1m0 12v3m0 17v2m0 84v2m0 40v2m0 33v2m0 10v1m0 5v4m0 2v3m0 7v2m0 52v8m0 14v1m0 50v3M134.5 61v3m0 3v2m0 43v2m0 133v4m0 28v3m0 51v2m0 70v4m0 13v1m0 45v2m0 15v2m0 4v1M135.5 80v3m0 34v1m0 21v4m0 20v3m0 16v2m0 18v1m0 33v1m0 12v1m0 5v2m0 3v3m0 13v4m0 5v2m0 34v4m0 25v3m0 31v2m0 4v4m0 5v2m0 11v2m0 15v2m0 63v2m0 23v3m0 11v1M136.5 123v2m0 46v4m0 32v3m0 6v2m0 42v2m0 78v2m0 34v3m0 21v4m0 27v2m0 18v4m0 11v2m0 5v1M137.5 81v2m0 6v4m0 16v4m0 48v1m0 20v2m0 36v3m0 25v4m0 24v1m0 4v2m0 4v4m0 116v1m0 25v2m0 7v3m0 89v2M138.5 83v4m0 70v1m0 195v1m0 2v2m0 57v3m0 97v1m0 7v1m0 6v2M139.5 106v1m0 37v2m0 27v2m0 23v2m0 12v1m0 28v2m0 85v4m0 53v1m0 47v4M140.5 75v4m0 44v2m0 6v4m0 6v2m0 3v2m0 22v7m0 19v1m0 34v4m0 4v1m0 130v3m0 67v1m0 15v4m0 18v1m0 21v3m0 11v1m0 15v4M141.5 84v2m0 2v2m0 39v6m0 8v4m0 4v1m0 6v2m0 39v3m0 8v2m0 34v2m0 38v3m0 15v3m0 17v3m0 37v2m0 7v4m0 8v3m0 49v3m0 62v1m0 8v2M142.5 89v2m0 3v4m0 35v3m0 7v4m0 16v1m0 3v2m0 3v2m0 2v2m0 2v4m0 25v1m0 13v1m0 19v4m0 11v1m0 7v2m0 6v2m0 6v1m0 23v4m0 12v1m0 30v1m0 2v8m0 3v1m0 40v2m0 4v3m0 5v1m0 31v3m0 37v2m0 7v1M143.5 71v2m0 2v5m0 7v3m0 39v2m0 22v2m0 14v2m0 5v2m0 63v4m0 8v4m0 8v2m0 8v1m0 5v5m0 13v1m0 10v1m0 8v4m0 3v2m0 14v2m0 35v1m0 9v4m0 13v2m0 31v5m0 49v1m0 23v1m0 3v4m0 6v4M144.5 65v2m0 79v1m0 39v1m0 59v2m0 1v1m0 17v2m0 15v2m0 102v3m0 30v1m0 48v4m0 50v3M145.5 61v3m0 4v4m0 58v2m0 28v1m0 10v1m0 4v2m0 6v1m0 8v4m0 2v2m0 2v2m0 13v3m0 78v2m0 65v1m0 38v1m0 26v1m0 42v3m0 7v2m0 31v1m0 6v1M146.5 156v1m0 81v2m0 19v2m0 45v2m0 57v2m0 3v3m0 16v2m0 28v1m0 63v2m0 50v1M147.5 91v3m0 6v4m0 2v4m0 12v2m0 66v3m0 3v1m0 37v1m0 2v2m0 3v2m0 14v1m0 12v3m0 4v3m0 34v1m0 24v2m0 8v1m0 46v1m0 34v3m0 42v4M148.5 85v2m0 25v3m0 91v3m0 49v4m0 4v1m0 5v2m0 10v1m0 33v2m0 32v1m0 1v2m0 33v2m0 6v1m0 66v2m0 15v5M149.5 93v3m0 17v3m0 69v2m0 28v2m0 42v3m0 25v2m0 47v3m0 21v2m0 18v3m0 15v1m0 6v2m0 56v4M152.5 61v1m0 27v4m0 108v3m0 2v2m0 74v1m0 34v4m0 45v3m0 1v2m0 50v1m0 35v1m0 13v3m0 56v1M153.5 130v3m0 20v1m0 1v1m0 141v3m0 21v2m0 22v6m0 9v2m0 1v4m0 6v1m0 31v4m0 40v1m0 9v2m0 48v2m0 16v1M154.5 86v1m0 1v2m0 2v2m0 7v1m0 92v1m0 13v7m0 21v2m0 35v2m0 59v3m0 30v1m0 8v1m0 10v2m0 21v3m0 15v4m0 16v1M155.5 153v2m0 25v2m0 11v3m0 3v2m0 219v6m0 4v1m0 42v1m0 58v3M156.5 60v5m0 69v3m0 11v4m0 8v3m0 28v3m0 1v2m0 26v3m0 77v2m0 17v4m0 5v2m0 119v1m0 9v3m0 10v3M157.5 66v1m0 23v1m0 21v2m0 108v2m0 55v1m0 59v3m0 26v7m0 23v1m0 6v2m0 4v3m0 9v3m0 9v4m0 15v1m0 42v3M158.5 98v1m0 221v1m0 23v1m0 102v2m0 74v3M159.5 127v3m0 3v2m0 45v1m0 10v3m0 115v3m0 203v3m0 11v1M162.5 59v2m0 85v2m0 3v1m0 7v1m0 48v2m0 53v4m0 45v2m0 11v2m0 2v3m0 13v2m0 10v2m0 18v3m0 7v1m0 13v4m0 38v3m0 2v1m0 5v4m0 14v1m0 46v5m0 8v2M163.5 89v2m0 8v2m0 25v2m0 60v3m0 8v2m0 40v1m0 60v2m0 51v3m0 4v3m0 68v4m0 2v3m0 26v1m0 39v1M164.5 79v1m0 32v1m0 15v4m0 8v3m0 42v1m0 15v1m0 70v3m0 29v3m0 14v4m0 46v1m0 26v3m0 7v2m0 10v2m0 26v1m0 73v1m0 5v1M165.5 90v3m0 24v3m0 29v3m0 10v1m0 46v2m0 68v1m0 55v4m0 55v1m0 15v3m0 17v1m0 38v1m0 10v1m0 2v2m0 27v1m0 4v1M168.5 61v2m0 16v1m0 18v3m0 15v2m0 81v1m0 73v1m0 38v2m0 32v2m0 16v2m0 8v2m0 7v1m0 146v2M169.5 69v4m0 58v4m0 33v1m0 155v1m0 17v1m0 8v1m0 84v2m0 72v4m0 3v3M170.5 63v4m0 60v2m0 14v2m0 20v1m0 82v2m0 11v4m0 37v3m0 14v3m0 30v4m0 16v2m0 34v3m0 11v1m0 14v1m0 7v3m0 21v3m0 17v1m0 27v4m0 1v3m0 10v1M171.5 66v3m0 12v3m0 4v2m0 3v4m0 2v2m0 3v2m0 38v1m0 18v1m0 46v3m0 28v2m0 8v3m0 16v2m0 70v2m0 16v1m0 19v5m0 54v4m0 3v1m0 87v1M174.5 89v1m0 15v2m0 12v2m0 14v4m0 23v1m0 11v3m0 10v1m0 4v4m0 36v2m0 19v4m0 43v5m0 74v2m0 1v2m0 18v4m0 39v2m0 27v3m0 7v1m0 29v2m0 1v2M175.5 78v4m0 29v2m0 12v2m0 8v1m0 18v2m0 30v3m0 10v2m0 17v4m0 16v3m0 7v1m0 10v1m0 62v3m0 74v1m0 46v2m0 42v1m0 2v2m0 9v4m0 6v3M176.5 79v5m0 8v5m0 18v1m0 9v1m0 4v4m0 5v2m0 10v2m0 2v1m0 13v1m0 14v1m0 38v2m0 92v6m0 7v3m0 37v1m0 9v4m0 18v2m0 7v1m0 31v3m0 33v4m0 15v2m0 1v4m0 20v2M179.5 83v2m0 12v4m0 72v1m0 296v1m0 26v1m0 1v1M180.5 132v1m0 66v1m0 6v1m0 10v1m0 39v1m0 61v2m0 50v3m0 79v2m0 28v1m0 27v2M181.5 151v1m0 2v3m0 2v4m0 7v2m0 29v3m0 3v1m0 16v1m0 14v1m0 15v2m0 6v4m0 5v3m0 18v3m0 95v4m0 3v1m0 35v1m0 5v1m0 11v3m0 69v2M184.5 67v1m0 29v1m0 3v3m0 12v1m0 35v1m0 14v1m0 1v1m0 9v1m0 25v3m0 37v2m0 27v1m0 17v2m0 22v2m0 18v3m0 26v3m0 24v1m0 23v1m0 65v3m0 45v3M185.5 102v1m0 27v1m0 66v1m0 35v1m0 12v1m0 1v4m0 47v3m0 28v1m0 1v2m0 57v4m0 121v2M188.5 81v1m0 7v3m0 12v3m0 8v3m0 28v2m0 4v4m0 36v2m0 44v1m0 77v1m0 11v3m0 7v4m0 53v1m0 7v2m0 12v2m0 3v1m0 40v2m0 9v1m0 7v4m0 11v4m0 30v1M189.5 104v2m0 6v3m0 19v2m0 164v2m0 3v2m0 5v1m0 93v3m0 7v1m0 79v2m0 3v2m0 4v2M192.5 66v5m0 78v2m0 65v1m0 139v3m0 39v1m0 21v2M195.5 59v1m0 40v5m0 27v2m0 3v2m0 10v1m0 28v1m0 5v4m0 70v1m0 27v3m0 40v2m0 27v2m0 70v4m0 20v1m0 20v1m0 59v1M196.5 94v1m0 14v2m0 39v2m0 12v2m0 31v1m0 14v5m0 25v2m0 13v2m0 97v2m0 28v3m0 4v7m0 7v4m0 37v2m0 30v4m0 9v1M199.5 62v4m0 3v1m0 36v1m0 31v2m0 80v3m0 77v4m0 10v2m0 4v3m0 23v2m0 65v2m0 3v2m0 23v1m0 24v3m0 3v3m0 11v3m0 26v2m0 13v3M202.5 65v2m0 3v4m0 12v3m0 41v3m0 10v1m0 30v2m0 42v2m0 17v1m0 16v4m0 7v2m0 3v3m0 3v6m0 14v2m0 26v3m0 57v1m0 10v3m0 110v2m0 6v2m0 4v1m0 12v1M203.5 72v5m0 39v1m0 5v3m0 15v1m0 18v2m0 13v1m0 25v1m0 27v2m0 20v2m0 78v2m0 33v2m0 33v4m0 8v3m0 28v3m0 26v1m0 5v7m0 20v4m0 9v2m0 3v3m0 8v2M206.5 89v2m0 23v2m0 8v2m0 13v1m0 3v3m0 2v1m0 35v3m0 34v2m0 29v1m0 3v1m0 72v1m0 63v4m0 36v2m0 13v4m0 40v1m0 30v2M209.5 82v3m0 9v1m0 16v1m0 20v2m0 7v2m0 5v2m0 42v1m0 4v2m0 124v3m0 27v2m0 7v1m0 18v2m0 3v2m0 34v4m0 15v3M212.5 65v2m0 14v1m0 3v2m0 59v1m0 13v4m0 17v2m0 5v1m0 80v2m0 2v2m0 10v3m0 9v2m0 168v2m0 15v2m0 6v2m0 34v3M215.5 84v1m0 24v3m0 19v2m0 84v4m0 5v2m0 5v1m0 38v2m0 15v1m0 24v3m0 53v1m0 67v4m0 35v3m0 8v4m0 16v1m0 5v1M218.5 99v1m0 37v2m0 24v3m0 14v2m0 5v1m0 21v1m0 43v1m0 36v3m0 7v7m0 4v2m0 7v2m0 2v3m0 36v2m0 2v4m0 4v3m0 5v6m0 25v3m0 1v1m0 7v1m0 16v1m0 7v2m0 29v1m0 7v2M223.5 119v1m0 25v2m0 3v3m0 11v3m0 2v2m0 9v1m0 11v2m0 8v2m0 3v2m0 75v2m0 18v3m0 20v2m0 4v1m0 4v2m0 13v2m0 28v4m0 24v4m0 15v1m0 33v3m0 30v4m0 30v1M226.5 60v2m0 3v2m0 12v4m0 25v2m0 2v2m0 27v2m0 41v5m0 2v2m0 7v1m0 22v1m0 81v2m0 12v1m0 81v2m0 3v1m0 26v2m0 62v3m0 4v2m0 13v1M231.5 73v1m0 7v2m0 5v3m0 9v3m0 77v3m0 44v1m0 95v5m0 6v1m0 31v1m0 3v1m0 54v7m0 32v3m0 39v2M234.5 123v3m0 2v2m0 36v2m0 3v4m0 81v3m0 36v2m0 8v1m0 39v3m0 27v2m0 105v2m0 3v2M241.5 64v1m0 14v4m0 3v2m0 3v2m0 18v1m0 48v1m0 63v3m0 16v1m0 4v6m0 28v4m0 47v4m0 45v1m0 4v2m0 61v2m0 22v1m0 58v2M246.5 63v2m0 24v3m0 14v2m0 17v1m0 2v1m0 23v3m0 15v2m0 12v3m0 8v2m0 27v2m0 5v3m0 15v2m0 67v1m0 10v2m0 30v4m0 51v4m0 5v1m0 3v4m0 9v1m0 4v1m0 17v1m0 23v2m0 1v2m0 39v1M253.5 112v1m0 68v1m0 6v3m0 89v4m0 65v1m0 88v1m0 21v1M264.5 150v2m0 82v2m0 29v1m0 8v1m0 4v1m0 8v2m0 67v2m0 6v2m0 15v5m0 2v3m0 21v2m0 28v4M799.5 256v1m0 27v1m0 21v2m0 68v1m0 56v2m0 11v1m0 79v2"/>
<path stroke="#280028" stroke-width="2" d="M151 68v1m0 7v4m0 44v2m0 3v3m0 4v1m0 19v1m0 6v2m0 37v2m0 34v3m0 5v1m0 3v1m0 34v2m0 34v1m0 22v1m0 3v3m0 20v2m0 24v3m0 1v2m0 8v3m0 38v3m0 15v1M161 72v3m0 14v2m0 9v1m0 7v2m0 9v3m0 5v1m0 10v2m0 14v1m0 80v1m0 8v1m0 40v3m0 28v1m0 40v4m0 60v4m0 52v1m0 36v3m0 10v2M167 66v1m0 14v1m0 25v1m0 54v3m0 10v3m0 13v1m0 31v2m0 2v2m0 49v2m0 6v4m0 6v2m0 29v5m0 85v1m0 6v1m0 3v1m0 21v3m0 72v1M173 74v1m0 24v4m0 31v4m0 20v2m0 59v1m0 86v3m0 130v4m0 8v3m0 6v1m0 22v3m0 28v1M178 148v2m0 6v2m0 20v1m0 266v2m0 66v2m0 9v3M183 85v2m0 46v3m0 37v3m0 5v4m0 124v3m0 18v3m0 52v1m0 1v3m0 11v1m0 69v2m0 3v4m0 33v2M187 64v2m0 2v1m0 29v1m0 61v1m0 17v2m0 40v2m0 49v3m0 70v1m0 15v2m0 42v1m0 21v4m0 75v3m0 2v2M191 66v1m0 28v4m0 48v1m0 327v2M194 156v2m0 3v4m0 28v3m0 106v2m0 13v2m0 38v1m0 3v1m0 2v2m0 125v2m0 22v3m0 2v2M198 63v3m0 3v3m0 10v1m0 23v2m0 14v1m0 16v1m0 16v3m0 112v1m0 6v1m0 37v4m0 14v4m0 9v1m0 6v1m0 3v2m0 11v2m0 12v1m0 64v1m0 37v1M201 97v1m0 21v1m0 22v4m0 18v2m0 67v2m0 136v1m0 6v2m0 73v1m0 32v3m0 7v2m0 29v2M205 82v2m0 12v2m0 35v3m0 17v3m0 41v3m0 20v2m0 3v1m0 36v3m0 27v1m0 27v5m0 31v4m0 4v2m0 2v2m0 20v4m0 96v2M208 69v2m0 50v2m0 6v1m0 5v4m0 45v4m0 13v4m0 20v1m0 7v1m0 18v2m0 9v2m0 33v2m0 16v2m0 8v1m0 4v4m0 30v4m0 7v1m0 16v3m0 11v1m0 29v2m0 10v2m0 54v1m0 22v3M211 73v2m0 25v3m0 17v2m0 3v6m0 22v4m0 57v3m0 4v4m0 6v2m0 44v2m0 16v2m0 21v4m0 7v2m0 21v1m0 15v4m0 33v3m0 36v3m0 5v1m0 16v4m0 34v1M214 65v4m0 5v3m0 13v2m0 9v1m0 50v4m0 2v1m0 4v1m0 25v2m0 33v1m0 6v4m0 25v1m0 33v3m0 34v3m0 32v2m0 27v4m0 18v2m0 11v1m0 38v1m0 4v4m0 11v3m0 16v4M217 124v1m0 104v3m0 18v1m0 31v2m0 6v2m0 27v2m0 1v2m0 22v5m0 6v1m0 34v4m0 104v4m0 24v3M220 85v2m0 5v2m0 29v3m0 83v2m0 9v3m0 22v3m0 30v4m0 17v1m0 11v1m0 43v4m0 39v2m0 13v2m0 7v6m0 9v2m0 7v2m0 20v3m0 17v4m0 30v1M222 80v1m0 20v1m0 12v2m0 8v2m0 16v2m0 41v3m0 42v3m0 62v4m0 19v1m0 3v4m0 43v4m0 3v1m0 83v2M225 134v2m0 50v2m0 3v1m0 7v1m0 23v2m0 1v3m0 14v2m0 20v1m0 16v1m0 9v1m0 33v1m0 7v3m0 1v2m0 121v2M228 59v2m0 10v1m0 29v2m0 23v2m0 15v2m0 6v2m0 8v2m0 29v2m0 5v2m0 41v2m0 10v2m0 41v2m0 21v2m0 12v1m0 39v3m0 41v1m0 30v1m0 72v2M230 103v3m0 64v3m0 40v1m0 22v4m0 2v2m0 2v4m0 114v2m0 25v3m0 6v2m0 7v2m0 49v2m0 59v4m0 10v1M233 103v3m0 32v3m0 103v2m0 62v2m0 24v1m0 4v3m0 77v2m0 22v2m0 40v4m0 43v2M236 99v3m0 31v1m0 31v2m0 11v3m0 47v5m0 15v4m0 86v3m0 22v4m0 4v1m0 152v1m0 8v2M238 60v3m0 12v2m0 13v3m0 1v3m0 9v3m0 9v2m0 37v2m0 32v3m0 10v2m0 35v2m0 3v3m0 26v2m0 10v2m0 16v3m0 113v3m0 67v4m0 12v1M240 68v4m0 46v2m0 30v1m0 93v2m0 1v2m0 7v3m0 6v1m0 30v1m0 26v1m0 25v1m0 39v2m0 36v3m0 21v1m0 22v1m0 7v4m0 9v1m0 24v2M243 94v1m0 7v4m0 12v2m0 10v3m0 55v3m0 1v1m0 6v3m0 20v2m0 3v1m0 14v2m0 19v2m0 50v3m0 11v1m0 10v4m0 4v3m0 170v4M245 68v2m0 72v1m0 77v1m0 23v7m0 1v1m0 38v1m0 3v1m0 33v3m0 67v2m0 11v1m0 25v4m0 24v2m0 3v2m0 6v1m0 1v4m0 48v2M248 63v3m0 51v3m0 3v3m0 6v2m0 43v3m0 42v2m0 11v1m0 18v2m0 21v1m0 64v2m0 14v1m0 9v3m0 91v2m0 23v4m0 20v3m0 5v3m0 12v1M250 104v2m0 24v4m0 11v4m0 7v2m0 4v5m0 8v3m0 3v2m0 40v4m0 20v2m0 4v2m0 40v1m0 9v3m0 21v3m0 33v2m0 20v3m0 7v2m0 5v1m0 27v1m0 32v2m0 14v3m0 1v3m0 27v2m0 3v2M252 63v2m0 15v2m0 28v2m0 6v2m0 8v2m0 45v1m0 24v1m0 3v4m0 5v3m0 26v1m0 5v4m0 31v2m0 11v1m0 3v4m0 13v1m0 5v1m0 24v4m0 24v1m0 10v2m0 35v4m0 5v4m0 9v2m0 1v2m0 23v2m0 6v2m0 44v2M255 74v1m0 126v1m0 40v3m0 37v3m0 75v2m0 1v3m0 5v2m0 86v1m0 6v2m0 55v1M257 59v3m0 49v2m0 20v3m0 74v1m0 52v3m0 8v4m0 18v2m0 47v1m0 7v1m0 19v1m0 11v3m0 32v2m0 9v3m0 5v1m0 68v3m0 14v2M259 86v4m0 32v2m0 24v1m0 10v1m0 8v2m0 3v1m0 14v1m0 18v2m0 27v1m0 12v3m0 24v2m0 36v3m0 38v2m0 16v1m0 3v3m0 18v2m0 8v2m0 3v1m0 22v4m0 35v2m0 5v1m0 50v2M261 75v2m0 2v2m0 2v3m0 23v3m0 22v3m0 14v3m0 38v4m0 2v1m0 34v1m0 57v3m0 11v3m0 20v2m0 7v1m0 8v1m0 37v7m0 2v2m0 14v3m0 49v4m0 21v2m0 3v1m0 2v2m0 34v4M263 67v4m0 30v1m0 20v2m0 23v2m0 11v1m0 3v3m0 4v2m0 16v1m0 16v2m0 30v2m0 50v2m0 81v1m0 14v1m0 2v1m0 8v3m0 23v2m0 61v4m0 27v1M266 79v3m0 56v2m0 9v2m0 112v3m0 3v4m0 15v2m0 56v2m0 7v3m0 10v1m0 4v1m0 13v4m0 17v3m0 20v1m0 53v3m0 6v1m0 13v2m0 13v2M268 71v1m0 10v3m0 61v3m0 5v2m0 15v4m0 13v1m0 1v1m0 14v3m0 30v2m0 12v1m0 18v5m0 1v4m0 36v1m0 4v1m0 18v4m0 13v5m0 6v3m0 72v1m0 31v4m0 8v2M270 83v1m0 8v1m0 9v2m0 30v2m0 5v3m0 6v3m0 29v2m0 17v4m0 18v2m0 39v2m0 4v2m0 74v2m0 10v1m0 16v1m0 2v1m0 130v2M272 132v1m0 40v2m0 8v2m0 17v1m0 10v2m0 59v1m0 9v1m0 76v2m0 35v3m0 3v2m0 16v1m0 62v1m0 23v2m0 21v1M274 59v2m0 13v3m0 20v1m0 13v2m0 46v2m0 3v1m0 12v3m0 4v4m0 4v1m0 12v2m0 8v1m0 16v3m0 4v1m0 60v1m0 36v4m0 15v1m0 23v1m0 14v2m0 42v2m0 18v3m0 5v2m0 45v1m0 19v1M276 195v1m0 16v2m0 14v1m0 12v2m0 1v1m0 32v2m0 3v3m0 42v3m0 25v1m0 13v2m0 39v3M278 65v2m0 6v1m0 5v2m0 8v1m0 14v2m0 23v2m0 1v2m0 7v2m0 10v1m0 16v1m0 7v2m0 8v2m0 29v2m0 7v2m0 2v1m0 9v1m0 6v2m0 29v3m0 41v3m0 11v2m0 36v2m0 4v1m0 19v2m0 25v1m0 34v3m0 6v1m0 7v3M280 63v2m0 58v3m0 8v4m0 13v1m0 22v1m0 2v5m0 20v4m0 26v2m0 3v1m0 16v2m0 123v1m0 31v2m0 8v2m0 11v1m0 42v3m0 44v4m0 3v3M282 67v4m0 34v2m0 6v2m0 48v3m0 13v4m0 38v2m0 3v4m0 2v1m0 1v1m0 7v1m0 49v1m0 101v2m0 46v3m0 11v5m0 29v1m0 16v2M284 59v1m0 83v2m0 10v3m0 13v2m0 31v2m0 10v4m0 33v1m0 13v1m0 24v2m0 25v2m0 51v2m0 19v2m0 2v2m0 19v2m0 65v1m0 18v1m0 27v1M286 69v2m0 85v1m0 5v2m0 2v2m0 2v4m0 9v2m0 3v3m0 79v2m0 3v2m0 18v2m0 66v1m0 53v3m0 63v1M288 62v4m0 19v1m0 12v4m0 68v2m0 5v1m0 18v2m0 5v3m0 58v2m0 1v1m0 41v3m0 46v2m0 1v1m0 43v1m0 31v2m0 39v1m0 2v1m0 33v1m0 13v4M290 59v3m0 9v3m0 7v1m0 20v2m0 39v4m0 59v3m0 14v3m0 24v2m0 46v1m0 25v2m0 3v2m0 4v2m0 39v4m0 11v8m0 11v1m0 80v3m0 6v1M292 95v3m0 14v2m0 51v4m0 15v1m0 89v2m0 38v2m0 18v4m0 18v4m0 48v1m0 2v1m0 9v5m0 49v2m0 51v6M294 72v2m0 25v2m0 136v4m0 38v2m0 26v2m0 25v2m0 4v2m0 144v3m0 16v1M296 60v3m0 44v4m0 10v3m0 25v2m0 108v3m0 8v3m0 46v2m0 37v2m0 14v2m0 11v2m0 17v1m0 61v2M298 73v1m0 41v2m0 12v3m0 8v2m0 24v1m0 41v6m0 19v2m0 15v4m0 7v2m0 68v4m0 83v4m0 64v1m0 3v1m0 13v2m0 11v1m0 6v1M300 108v2m0 50v2m0 30v4m0 47v1m0 54v2m0 59v2m0 132v2M302 153v1m0 10v3m0 9v1m0 18v3m0 84v2m0 8v2m0 23v2m0 2v1m0 4v1m0 45v1m0 106v3M307 95v4m0 3v4m0 47v2m0 7v2m0 9v3m0 23v2m0 7v2m0 1v2m0 10v5m0 126v3m0 51v4m0 8v2m0 14v2m0 20v4m0 17v4m0 8v1m0 41v1M309 173v1m0 5v2m0 31v4m0 154v1m0 54v3m0 14v2m0 37v1m0 29v2M311 158v3m0 47v1m0 55v2m0 166v2M313 141v2m0 37v4m0 14v1m0 28v1m0 22v3m0 10v2m0 27v2m0 2v1m0 51v1m0 10v3m0 8v3m0 19v3m0 8v1m0 49v1m0 51v2M315 89v1m0 75v4m0 1v3m0 11v2m0 2v2m0 14v2m0 2v1m0 29v4m0 8v1m0 33v2m0 24v2m0 25v1m0 12v1m0 22v1m0 6v4m0 17v1m0 28v1m0 40v4m0 3v2m0 31v1m0 20v2M320 80v1m0 70v2m0 39v3m0 56v3m0 6v2m0 11v3m0 6v3m0 20v1m0 84v1m0 35v2m0 37v2m0 2v2m0 22v1m0 3v2M322 98v4m0 5v3m0 71v1m0 117v2m0 34v4m0 23v3m0 15v3m0 26v1m0 47v2m0 46v2M324 253v2m0 36v4m0 36v1m0 24v2m0 60v1m0 26v1m0 12v3m0 41v3M329 98v1m0 12v2m0 2v1m0 3v3m0 18v1m0 16v3m0 69v2m0 8v2m0 14v4m0 36v4m0 50v4m0 5v3m0 2v1m0 17v2m0 4v4m0 9v2m0 20v2m0 11v6m0 24v2m0 15v1m0 46v2M331 74v1m0 21v1m0 42v1m0 4v1m0 6v2m0 42v1m0 6v1m0 1v1m0 5v2m0 8v1m0 4v1m0 27v3m0 2v1m0 1v1m0 17v2m0 9v1m0 35v2m0 2v4m0 18v1m0 15v1m0 7v1m0 27v1m0 38v2m0 13v2m0 28v2m0 13v2m0 18v1m0 2v1M336 59v3m0 6v3m0 8v2m0 1v1m0 2v1m0 3v1m0 36v1m0 55v2m0 7v2m0 8v3m0 16v2m0 16v2m0 6v2m0 10v1m0 8v2m0 5v2m0 40v2m0 12v1m0 16v3m0 5v2m0 2v3m0 3v3m0 10v3m0 2v2m0 6v2m0 6v2m0 32v2m0 23v3m0 2v1m0 8v1m0 11v2m0 9v3m0 13v1m0 20v2M338 64v2m0 17v3m0 31v1m0 15v2m0 21v2m0 2v1m0 21v2m0 2v1m0 1v2m0 9v1m0 108v1m0 14v2m0 10v2m0 13v2m0 3v2m0 22v2m0 6v2m0 7v1m0 3v3m0 27v1m0 6v3m0 55v1m0 18v1m0 14v1M343 59v2m0 1v1m0 1v2m0 7v1m0 13v6m0 32v1m0 7v1m0 14v1m0 4v1m0 6v1m0 23v1m0 2v1m0 5v3m0 20v3m0 22v2m0 5v1m0 9v1m0 12v1m0 10v2m0 2v2m0 29v1m0 2v2m0 9v2m0 27v2m0 13v1m0 26v3m0 23v2m0 2v2m0 1v1m0 16v1m0 11v1m0 2v1m0 30v2M348 107v1m0 7v1m0 1v1m0 29v1m0 5v2m0 99v1m0 14v2m0 4v2m0 83v1m0 10v2m0 22v1m0 10v2m0 36v1m0 8v1m0 6v1m0 13v1m0 15v4m0 15v1m0 1v1M353 61v6m0 5v1m0 8v3m0 6v1m0 24v1m0 68v2m0 6v4m0 13v1m0 13v2m0 18v1m0 2v2m0 2v2m0 5v1m0 9v1m0 32v1m0 1v1m0 5v1m0 84v1m0 2v1m0 5v1m0 6v2m0 7v1m0 46v5m0 9v2M355 64v1m0 18v1m0 3v1m0 19v3m0 14v1m0 4v3m0 12v2m0 7v1m0 26v1m0 1v3m0 5v1m0 11v1m0 17v3m0 16v1m0 43v1m0 77v1m0 8v2m0 6v1m0 1v2m0 80v2m0 18v1m0 26v2m0 21v1M363 94v1m0 22v1m0 69v1m0 54v2m0 25v1m0 30v1m0 30v1m0 49v2m0 1v3m0 25v3m0 1v2m0 19v2m0 12v3m0 9v2m0 2v1m0 7v1m0 2v1m0 26v2m0 6v2m0 10v1M368 87v1m0 17v3m0 26v1m0 18v3m0 16v1m0 3v1m0 6v3m0 5v1m0 5v1m0 2v2m0 17v1m0 1v1m0 3v1m0 8v1m0 6v2m0 11v1m0 19v1m0 1v1m0 10v2m0 4v2m0 46v1m0 2v2m0 5v1m0 12v2m0 7v1m0 11v1m0 10v2m0 4v1m0 82v2m0 20v2m0 17v2m0 4v1M373 69v1m0 24v2m0 9v3m0 8v2m0 10v2m0 1v1m0 1v2m0 4v1m0 6v1m0 15v2m0 16v2m0 34v3m0 40v2m0 1v3m0 13v1m0 7v1m0 10v1m0 17v2m0 14v2m0 10v1m0 4v2m0 2v1m0 3v1m0 12v3m0 11v1m0 35v1m0 1v1m0 5v1m0 12v2m0 32v2m0 29v2m0 18v2M381 77v1m0 21v1m0 12v2m0 24v1m0 27v2m0 3v2m0 7v1m0 63v1m0 3v1m0 12v2m0 2v1m0 7v2m0 5v2m0 26v1m0 44v2m0 25v1m0 3v1m0 56v2m0 11v2m0 11v2m0 2v2m0 5v1m0 17v2m0 2v2m0 17v1m0 14v2M389 88v2m0 37v1m0 3v1m0 23v1m0 2v2m0 2v3m0 1v1m0 6v1m0 4v2m0 37v1m0 22v2m0 8v1m0 20v3m0 5v5m0 9v3m0 71v2m0 20v1m0 11v1m0 21v1m0 2v1m0 7v2m0 2v2m0 11v2m0 3v2m0 1v2m0 4v2m0 27v1m0 32v1M400 71v3m0 40v2m0 9v1m0 14v2m0 8v1m0 16v2m0 15v1m0 4v1m0 27v1m0 1v2m0 10v2m0 11v1m0 2v1m0 21v1m0 8v2m0 82v3m0 5v2m0 30v3m0 12v1m0 23v1m0 12v1m0 33v2m0 7v1m0 21v1m0 5v1"/>
<path stroke="#280028" stroke-width="3" d="M304.5 68v1m0 23v3m0 13v1m0 18v5m0 74v3m0 19v1m0 17v2m0 77v2m0 26v4m0 7v2m0 21v1m0 46v1m0 3v4M317.5 59v2m0 3v1m0 51v2m0 88v1m0 27v2m0 87v2m0 98v2M326.5 89v1m0 44v2m0 97v1m0 65v3m0 13v1m0 29v1m0 39v2m0 47v2m0 22v2m0 59v4M333.5 125v2m0 2v1m0 12v1m0 1v2m0 69v1m0 3v2m0 27v2m0 23v1m0 1v1m0 5v1m0 76v1m0 1v2m0 2v1m0 33v1m0 26v1m0 3v1m0 33v2m0 31v1m0 9v3m0 2v2m0 19v2M340.5 67v3m0 8v1m0 5v1m0 26v3m0 7v2m0 48v1m0 1v3m0 20v1m0 39v1m0 18v1m0 25v1m0 2v1m0 7v2m0 9v2m0 19v1m0 20v2m0 1v3m0 2v3m0 23v2m0 1v1m0 31v2m0 11v3m0 8v1m0 23v3m0 28v2m0 9v1M345.5 81v2m0 51v1m0 12v2m0 12v2m0 13v2m0 28v1m0 5v2m0 9v1m0 37v1m0 14v1m0 1v1m0 2v1m0 7v2m0 27v1m0 5v2m0 9v1m0 21v3m0 18v1m0 15v3m0 14v2m0 53v1m0 15v1m0 8v2m0 13v8m0 12v2M350.5 62v1m0 30v2m0 41v1m0 24v2m0 13v2m0 41v2m0 3v1m0 3v1m0 8v3m0 15v2m0 19v2m0 30v1m0 3v2m0 3v5m0 6v2m0 25v1m0 12v1m0 2v2m0 14v1m0 2v2m0 21v1m0 26v3m0 10v2m0 19v4m0 12v1m0 7v2m0 9v3M357.5 66v1m0 32v2m0 46v3m0 3v2m0 2v1m0 41v2m0 3v1m0 8v1m0 6v1m0 3v1m0 24v1m0 11v3m0 1v1m0 19v1m0 3v1m0 1v1m0 16v3m0 7v2m0 38v5m0 19v1m0 23v4m0 8v1m0 5v1m0 1v1m0 3v2m0 1v1m0 24v2m0 1v5m0 18v2m0 22v1m0 4v1m0 8v1m0 9v1M360.5 60v1m0 11v2m0 1v2m0 5v1m0 23v1m0 10v1m0 10v1m0 5v3m0 19v2m0 4v1m0 11v1m0 20v1m0 11v1m0 4v1m0 10v1m0 18v1m0 65v2m0 13v3m0 25v1m0 1v1m0 3v2m0 15v2m0 3v1m0 3v2m0 6v1m0 10v1m0 24v1m0 8v2m0 28v1m0 1v1m0 2v1m0 29v1m0 2v1m0 27v1m0 2v1M365.5 72v1m0 3v1m0 53v2m0 4v2m0 20v1m0 17v1m0 5v2m0 6v2m0 26v1m0 5v2m0 17v1m0 16v3m0 5v1m0 38v2m0 17v3m0 13v1m0 7v1m0 19v2m0 13v1m0 47v2m0 32v2m0 3v3m0 23v2m0 5v2m0 4v3m0 8v1M370.5 63v3m0 10v3m0 30v1m0 9v2m0 5v2m0 26v2m0 33v2m0 8v1m0 15v1m0 5v1m0 35v1m0 42v5m0 41v1m0 5v4m0 7v2m0 14v1m0 8v1m0 12v1m0 8v2m0 7v1m0 12v2m0 31v1m0 20v3m0 13v1m0 16v1m0 4v2m0 4v1M375.5 70v2m0 45v1m0 20v1m0 5v3m0 1v1m0 18v1m0 17v1m0 13v1m0 15v1m0 7v1m0 43v3m0 9v5m0 23v1m0 14v4m0 1v1m0 24v1m0 12v1m0 31v2m0 3v1m0 2v2m0 31v2m0 12v2m0 15v2m0 12v2m0 33v2M378.5 64v1m0 30v2m0 5v1m0 102v1m0 1v3m0 7v1m0 17v2m0 2v1m0 1v2m0 2v1m0 2v1m0 23v1m0 8v1m0 86v1m0 7v1m0 9v1m0 18v1m0 8v1m0 2v2m0 4v4m0 31v2m0 10v1m0 7v1m0 12v1m0 36v4m0 1v2M383.5 81v1m0 22v2m0 2v1m0 17v2m0 1v2m0 21v1m0 11v3m0 6v1m0 10v3m0 12v1m0 5v1m0 10v1m0 33v1m0 63v1m0 13v3m0 9v1m0 4v1m0 4v1m0 1v2m0 16v1m0 6v1m0 16v1m0 25v1m0 7v1m0 9v1m0 3v1m0 49v5m0 18v3m0 1v1m0 2v3M386.5 83v1m0 36v1m0 24v1m0 35v1m0 50v1m0 3v1m0 8v1m0 15v1m0 27v2m0 8v2m0 17v3m0 46v1m0 34v2m0 34v3m0 15v1m0 1v1m0 15v2m0 1v3m0 1v2m0 2v1m0 2v1m0 22v3M391.5 73v1m0 66v2m0 40v1m0 25v2m0 3v1m0 19v1m0 36v2m0 29v2m0 14v3m0 31v1m0 22v1m0 36v1m0 3v2m0 47v3m0 28v1m0 19v1M394.5 59v2m0 46v1m0 25v3m0 15v1m0 14v3m0 25v2m0 21v1m0 67v2m0 1v1m0 29v1m0 21v1m0 1v1m0 4v1m0 24v2m0 5v1m0 14v3m0 16v1m0 40v1m0 2v3m0 5v1m0 67v1M397.5 63v1m0 33v2m0 5v1m0 3v2m0 25v1m0 6v2m0 76v1m0 13v2m0 2v4m0 6v1m0 3v1m0 11v3m0 20v1m0 4v1m0 14v2m0 29v1m0 26v1m0 5v3m0 4v1m0 17v2m0 3v1m0 2v4m0 25v2m0 30v1m0 4v1m0 16v1m0 11v2M402.5 60v2m0 7v1m0 28v1m0 11v1m0 16v2m0 10v2m0 40v2m0 10v1m0 1v1m0 26v1m0 8v1m0 3v4m0 48v1m0 165v1m0 36v1m0 17v3m0 20v3M405.5 61v3m0 4v1m0 39v1m0 7v1m0 10v1m0 7v1m0 1v4m0 13v2m0 6v1m0 5v1m0 14v1m0 21v1m0 34v1m0 3v1m0 13v1m0 5v1m0 45v1m0 36v2m0 63v1m0 65v1M408.5 59v2m0 24v1m0 7v2m0 5v3m0 2v2m0 4v2m0 8v1m0 15v1m0 22v2m0 21v4m0 6v1m0 21v1m0 5v1m0 8v1m0 2v1m0 2v1m0 10v1m0 9v1m0 1v1m0 30v1m0 2v3m0 2v2m0 37v1m0 7v1m0 27v1m0 29v2m0 22v1m0 4v2m0 14v1m0 15v1m0 4v2m0 3v3m0 1v2m0 2v2m0 10v1m0 4v1M411.5 77v2m0 1v1m0 10v1m0 5v2m0 1v1m0 33v1m0 2v1m0 19v1m0 16v1m0 12v3m0 1v2m0 41v3m0 11v1m0 19v2m0 42v1m0 35v3m0 4v4m0 2v1m0 4v1m0 2v1m0 10v2m0 17v2m0 23v2m0 25v1m0 12v1m0 3v1m0 24v2m0 19v2M414.5 61v2m0 17v1m0 12v1m0 37v1m0 4v2m0 15v1m0 59v1m0 44v3m0 26v1m0 13v1m0 1v2m0 38v1m0 12v2m0 11v1m0 7v1m0 3v1m0 6v1m0 11v3m0 5v2m0 14v1m0 3v1m0 39v3m0 10v1m0 45v2M417.5 76v1m0 7v3m0 13v2m0 4v2m0 15v2m0 32v1m0 15v3m0 21v2m0 5v3m0 3v1m0 3v2m0 3v2m0 8v1m0 7v1m0 15v1m0 5v3m0 21v2m0 23v1m0 3v1m0 25v1m0 33v2m0 13v1m0 33v1m0 5v1m0 7v2m0 31v1m0 1v1m0 10v1m0 14v2m0 3v3m0 26v1M420.5 79v2m0 18v2m0 1v1m0 2v1m0 28v1m0 16v3m0 29v1m0 10v1m0 49v1m0 1v3m0 12v1m0 48v1m0 38v2m0 9v1m0 10v1m0 12v2m0 5v1m0 31v3m0 13v2M423.5 65v1m0 36v3m0 16v2m0 15v1m0 5v1m0 9v2m0 18v4m0 35v2m0 42v1m0 35v1m0 28v1m0 2v1m0 1v2m0 85v1m0 56v2m0 12v3m0 2v2m0 11v2m0 30v1M426.5 79v1m0 3v1m0 13v1m0 2v1m0 26v4m0 9v2m0 2v1m0 4v4m0 25v1m0 15v3m0 9v1m0 25v2m0 9v2m0 28v1m0 4v1m0 8v1m0 8v1m0 41v1m0 8v1m0 11v3m0 19v3m0 3v1m0 7v2m0 51v2m0 16v1m0 9v1m0 24v1m0 13v1m0 16v2M429.5 128v3m0 12v1m0 2v2m0 29v2m0 11v4m0 53v2m0 16v2m0 6v2m0 7v1m0 59v2m0 4v1m0 7v2m0 13v2m0 2v1m0 12v1m0 28v1m0 5v1m0 44v1m0 37v2M432.5 98v3m0 30v1m0 20v1m0 10v2m0 18v1m0 16v2m0 30v1m0 107v1m0 34v3m0 7v2m0 3v1m0 46v3m0 31v2m0 7v2m0 46v1M435.5 70v4m0 14v1m0 45v3m0 4v2m0 7v3m0 5v1m0 15v2m0 1v6m0 6v3m0 43v1m0 19v1m0 16v1m0 5v3m0 26v2m0 37v3m0 11v3m0 39v1m0 28v1m0 19v1m0 3v1m0 2v3m0 1v1m0 20v2m0 29v2M438.5 59v1m0 9v2m0 2v2m0 19v1m0 4v1m0 7v1m0 17v1m0 21v3m0 2v1m0 1v1m0 26v1m0 31v1m0 17v2m0 2v1m0 73v2m0 25v1m0 5v4m0 6v1m0 23v1m0 7v1m0 72v2m0 10v2m0 12v1m0 5v1m0 6v1m0 7v2m0 10v2M441.5 63v2m0 6v1m0 31v2m0 25v1m0 25v3m0 3v1m0 7v1m0 1v1m0 22v1m0 2v2m0 56v1m0 19v4m0 2v1m0 29v1m0 64v1m0 24v2m0 8v1m0 38v2m0 18v1m0 7v1m0 28v1M444.5 60v1m0 28v2m0 39v1m0 4v1m0 3v2m0 3v1m0 109v2m0 16v5m0 5v2m0 62v2m0 7v1m0 23v4m0 2v3m0 11v2m0 52v1m0 8v3m0 15v2m0 3v1m0 28v1m0 2v1M447.5 64v1m0 2v1m0 10v1m0 4v2m0 33v1m0 27v1m0 2v2m0 7v2m0 51v1m0 28v1m0 6v1m0 37v1m0 24v1m0 3v2m0 43v1m0 6v1m0 4v1m0 19v3m0 16v2m0 3v1m0 21v2m0 42v2m0 18v1m0 4v3M450.5 67v3m0 13v2m0 5v1m0 59v1m0 20v2m0 73v3m0 18v1m0 1v2m0 35v1m0 30v4m0 1v1m0 14v3m0 14v3m0 20v1m0 4v1m0 6v1m0 5v3m0 5v1m0 6v2m0 16v2m0 2v1m0 45v2m0 3v1m0 3v2m0 6v1m0 14v2m0 3v1M453.5 72v2m0 40v1m0 13v1m0 17v3m0 64v2m0 10v2m0 2v3m0 4v1m0 26v3m0 5v1m0 8v2m0 29v1m0 36v1m0 2v2m0 9v1m0 1v3m0 10v1m0 17v1m0 3v1m0 17v3m0 30v2m0 2v2m0 37v1m0 31v2m0 8v1M456.5 87v1m0 1v2m0 8v1m0 13v1m0 34v2m0 58v1m0 2v1m0 31v2m0 3v1m0 18v1m0 17v1m0 20v1m0 3v1m0 17v1m0 20v1m0 5v2m0 8v1m0 72v1m0 41v1m0 2v1m0 3v1m0 4v1m0 9v2m0 7v2m0 2v2m0 10v3M463.5 77v1m0 20v2m0 13v1m0 3v1m0 11v2m0 7v1m0 46v3m0 47v3m0 12v1m0 6v2m0 8v1m0 28v1m0 62v2m0 16v2m0 1v1m0 13v5m0 15v1m0 72v1m0 9v3m0 17v1m0 15v3M466.5 80v1m0 3v2m0 29v3m0 9v1m0 27v2m0 52v2m0 34v1m0 15v1m0 23v2m0 78v1m0 64v2m0 14v2m0 24v1M469.5 81v1m0 5v3m0 13v2m0 26v2m0 4v1m0 9v2m0 13v2m0 34v1m0 9v1m0 1v2m0 19v1m0 36v1m0 72v7m0 22v3m0 2v2m0 1v1m0 3v1m0 12v1m0 2v4m0 5v1m0 9v1m0 6v1m0 21v1m0 2v3m0 12v1m0 7v1m0 5v1m0 12v1m0 15v1m0 4v1m0 7v1m0 14v1M476.5 65v1m0 36v1m0 17v3m0 11v1m0 6v1m0 15v1m0 3v2m0 38v2m0 21v1m0 20v3m0 39v1m0 45v1m0 2v1m0 25v1m0 3v1m0 1v1m0 11v1m0 24v3m0 17v1m0 20v1m0 8v1m0 18v1m0 18v1m0 12v2m0 10v1M479.5 75v1m0 86v2m0 66v2m0 16v1m0 26v1m0 4v1m0 13v1m0 53v1m0 14v2m0 3v2m0 33v1m0 6v2m0 33v1m0 29v1m0 5v4m0 11v1m0 6v1m0 12v1m0 2v1m0 2v1M486.5 67v2m0 8v2m0 21v2m0 20v3m0 10v2m0 11v1m0 1v2m0 19v1m0 18v2m0 13v2m0 3v2m0 14v1m0 16v1m0 28v2m0 10v3m0 8v1m0 77v2m0 7v3m0 10v1m0 13v3m0 104v3M489.5 97v3m0 7v1m0 27v2m0 3v1m0 4v1m0 9v1m0 4v1m0 8v1m0 5v1m0 3v1m0 2v2m0 40v1m0 5v1m0 5v1m0 30v3m0 7v1m0 33v1m0 95v3m0 27v1m0 33v2m0 3v1m0 15v2m0 9v1m0 24v3m0 4v1M496.5 60v1m0 7v2m0 6v2m0 56v1m0 45v1m0 4v2m0 14v1m0 3v2m0 26v4m0 17v3m0 9v2m0 13v1m0 8v1m0 49v1m0 18v2m0 12v2m0 11v4m0 1v2m0 18v1m0 7v1m0 5v2m0 19v1m0 3v2m0 3v1m0 4v2m0 10v1m0 22v2m0 33v1M503.5 68v1m0 4v1m0 93v1m0 28v1m0 22v1m0 10v1m0 32v2m0 29v1m0 74v2m0 47v3m0 27v2m0 22v4M510.5 71v2m0 6v2m0 21v1m0 17v2m0 22v2m0 60v1m0 19v2m0 105v2m0 1v2m0 12v1m0 4v2m0 63v3m0 30v1m0 77v1m0 3v1M521.5 75v3m0 70v1m0 53v2m0 51v1m0 34v3m0 34v2m0 80v2m0 35v1m0 16v2m0 17v1m0 4v1m0 21v2m0 22v1M532.5 96v1m0 4v2m0 31v5m0 3v1m0 10v2m0 4v1m0 21v1m0 7v1m0 1v1m0 3v2m0 4v1m0 10v3m0 21v2m0 11v1m0 21v1m0 35v2m0 10v1m0 17v3m0 12v1m0 37v2m0 7v1m0 5v2m0 17v4m0 48v1m0 15v3m0 6v3m0 10v1m0 16v1M547.5 59v3m0 15v1m0 28v3m0 28v1m0 1v1m0 26v1m0 16v2m0 44v2m0 12v1m0 34v1m0 78v2m0 9v2m0 11v2m0 19v2m0 7v1m0 12v1m0 8v3m0 16v3m0 1v2m0 14v1m0 4v1m0 8v1m0 23v6m0 3v3m0 10v3"/>
<path stroke="#280028" stroke-width="4" d="M460 81v1m0 2v1m0 38v2m0 2v1m0 9v1m0 10v2m0 7v1m0 2v1m0 28v1m0 16v2m0 81v2m0 5v1m0 5v1m0 3v1m0 72v1m0 18v2m0 4v4m0 23v1m0 4v1M473 77v3m0 19v3m0 56v2m0 5v1m0 7v1m0 8v1m0 2v1m0 3v2m0 5v4m0 14v1m0 17v1m0 8v3m0 13v1m0 22v2m0 7v1m0 82v1m0 7v2m0 12v2m0 4v2m0 43v3m0 1v1m0 5v1m0 11v3m0 3v1m0 18v1m0 4v2m0 3v2m0 5v1m0 21v1M483 72v3m0 24v1m0 8v1m0 1v1m0 14v2m0 25v2m0 19v1m0 24v1m0 43v3m0 21v2m0 79v1m0 16v1m0 6v2m0 39v2m0 12v3m0 6v1m0 50v4m0 16v1m0 5v2M493 66v2m0 43v1m0 5v2m0 33v1m0 7v2m0 2v3m0 12v2m0 11v1m0 6v1m0 6v1m0 1v1m0 26v3m0 20v2m0 31v1m0 15v1m0 25v1m0 4v1m0 19v1m0 2v1m0 22v1m0 20v1m0 39v4m0 3v1m0 26v2m0 3v1m0 21v1m0 1v1m0 4v2m0 5v2m0 5v2M500 69v3m0 6v1m0 8v2m0 51v1m0 43v2m0 30v1m0 29v1m0 68v2m0 2v3m0 18v1m0 7v1m0 13v1m0 8v1m0 9v3m0 2v2m0 8v1m0 12v2m0 17v2m0 5v2m0 35v1m0 7v1m0 3v3m0 16v2m0 12v3m0 12v1M507 67v1m0 21v3m0 22v2m0 29v1m0 13v2m0 8v2m0 5v3m0 49v1m0 29v2m0 24v1m0 44v2m0 4v2m0 6v2m0 16v3m0 16v1m0 65v2m0 31v1m0 35v1M514 139v2m0 36v1m0 87v1m0 21v3m0 4v1m0 55v1m0 133v1M518 351v1m0 3v2m0 28v1m0 34v1m0 69v1M525 75v1m0 43v2m0 31v1m0 9v2m0 2v1m0 4v2m0 20v2m0 5v1m0 13v2m0 1v1m0 18v3m0 15v1m0 1v1m0 28v1m0 15v2m0 12v1m0 10v2m0 7v3m0 5v2m0 11v1m0 9v3m0 5v1m0 45v3m0 31v2m0 25v2m0 5v2m0 45v1M529 85v3m0 2v2m0 6v2m0 58v2m0 9v3m0 61v3m0 3v1m0 60v3m0 28v1m0 58v1m0 6v1m0 36v3m0 35v2m0 60v1M536 62v2m0 2v1m0 8v1m0 10v1m0 9v2m0 5v1m0 11v3m0 11v2m0 7v4m0 27v1m0 6v2m0 14v1m0 36v4m0 4v2m0 24v3m0 4v1m0 1v2m0 18v2m0 53v1m0 6v3m0 1v1m0 11v2m0 33v2m0 18v1m0 24v2m0 7v1m0 1v1m0 31v2m0 2v1m0 6v2m0 2v1m0 2v2m0 10v5M540 70v2m0 6v2m0 16v2m0 9v2m0 19v2m0 12v2m0 97v1m0 13v4m0 9v2m0 18v1m0 74v2m0 2v2m0 15v1m0 31v1m0 11v1m0 33v1m0 11v1m0 3v1M544 84v1m0 68v1m0 11v2m0 2v3m0 23v2m0 88v1m0 77v3m0 59v2m0 5v2m0 41v1m0 37v1m0 19v3M551 133v2m0 23v1m0 27v2m0 49v3m0 5v3m0 77v1m0 22v1m0 4v1m0 10v2m0 13v3m0 44v1m0 1v1m0 16v1m0 18v2m0 12v2m0 25v1m0 17v3m0 9v1M555 123v1m0 21v1m0 16v2m0 25v1m0 9v2m0 18v1m0 1v1m0 1v3m0 10v1m0 4v1m0 5v1m0 87v1m0 36v2m0 1v2m0 3v2m0 9v3m0 7v1m0 7v1m0 12v1m0 39v1m0 41v1m0 30v1M559 63v2m0 16v1m0 27v1m0 6v1m0 46v1m0 4v2m0 21v1m0 36v3m0 5v2m0 3v1m0 16v1m0 20v2m0 92v1m0 1v1m0 7v1m0 5v2m0 9v1m0 17v2m0 28v2m0 5v1m0 27v1m0 11v2m0 3v3m0 15v3m0 3v1M563 59v3m0 12v1m0 2v1m0 2v1m0 59v1m0 12v1m0 29v2m0 33v2m0 4v2m0 34v2m0 8v1m0 8v1m0 68v2m0 41v2m0 1v1m0 7v1m0 48v2m0 10v1m0 34v1m0 4v1m0 18v1M567 60v2m0 4v1m0 26v1m0 1v2m0 8v2m0 1v1m0 28v1m0 36v2m0 33v2m0 5v1m0 60v2m0 49v1M571 78v4m0 19v1m0 54v2m0 4v2m0 10v1m0 12v4m0 33v1m0 10v1m0 4v1m0 76v1m0 8v1m0 14v1m0 10v3m0 18v1m0 52v1m0 40v2m0 24v1m0 34v1m0 1v2M575 63v2m0 20v3m0 2v2m0 13v1m0 16v1m0 30v2m0 6v2m0 1v1m0 30v3m0 12v2m0 26v1m0 37v1m0 60v2m0 10v1m0 1v2m0 21v1m0 32v2m0 9v1m0 8v1m0 15v2m0 5v1m0 46v2m0 7v2m0 3v2m0 18v1m0 3v1M579 65v2m0 23v1m0 5v2m0 22v1m0 4v3m0 1v2m0 30v1m0 7v1m0 38v1m0 39v2m0 8v3m0 3v2m0 80v1m0 2v1m0 104v1m0 5v1m0 9v1m0 21v2m0 3v1m0 11v1m0 9v1m0 1v3M583 73v1m0 42v1m0 8v1m0 5v2m0 1v1m0 2v2m0 14v2m0 3v1m0 23v1m0 23v1m0 30v3m0 51v1m0 18v2m0 10v1m0 4v2m0 1v1m0 39v2m0 6v1m0 7v1m0 18v1m0 45v2m0 37v2m0 8v1m0 1v3m0 26v2M587 68v1m0 10v1m0 49v2m0 13v1m0 14v2m0 16v1m0 5v1m0 10v1m0 29v1m0 8v1m0 5v3m0 13v3m0 29v1m0 38v1m0 39v3m0 25v1m0 5v1m0 53v2m0 10v1m0 3v2m0 10v1m0 2v1m0 36v3m0 1v2M591 72v1m0 10v2m0 8v2m0 115v2m0 18v2m0 32v1m0 20v1m0 52v1m0 12v2m0 22v2m0 7v1m0 12v1m0 51v2m0 11v2m0 10v1m0 19v2M595 72v1m0 13v1m0 3v1m0 8v3m0 1v3m0 2v2m0 25v1m0 25v1m0 19v1m0 21v2m0 16v1m0 26v1m0 9v1m0 14v1m0 51v1m0 49v3m0 2v2m0 6v1m0 9v1m0 12v3m0 3v3m0 28v1m0 3v1m0 22v3m0 14v1m0 2v1m0 37v1M599 62v1m0 9v1m0 16v1m0 16v4m0 16v3m0 10v2m0 16v2m0 2v1m0 45v1m0 20v1m0 7v2m0 28v1m0 12v1m0 18v2m0 22v2m0 12v1m0 2v2m0 23v1m0 5v1m0 5v1m0 2v2m0 27v3m0 11v3m0 25v1m0 8v3m0 3v1m0 14v2m0 28v3m0 9v2m0 6v2M608 97v1m0 5v2m0 26v3m0 9v1m0 42v1m0 27v2m0 27v1m0 3v1m0 24v2m0 6v3m0 45v1m0 2v1m0 25v1m0 11v2m0 21v1m0 1v1m0 14v1m0 1v3m0 12v1m0 16v2m0 10v2m0 7v1m0 48v2m0 5v1m0 2v1M612 59v1m0 3v2m0 2v1m0 18v1m0 8v2m0 7v1m0 11v1m0 12v3m0 14v2m0 13v1m0 12v3m0 22v1m0 10v2m0 27v1m0 6v2m0 33v2m0 10v1m0 30v3m0 8v1m0 2v2m0 7v2m0 4v5m0 21v2m0 18v2m0 9v2m0 38v1m0 44v1m0 2v2m0 2v1m0 14v2m0 9v1M616 62v2m0 12v2m0 6v1m0 2v1m0 13v1m0 49v1m0 31v1m0 11v1m0 20v1m0 13v1m0 30v2m0 9v1m0 8v1m0 27v1m0 22v2m0 4v2m0 23v1m0 11v1m0 1v1m0 3v1m0 18v3m0 12v1m0 14v1m0 18v1m0 3v2m0 8v1m0 2v2m0 27v1m0 5v1m0 3v2m0 6v1m0 4v1m0 9v3m0 4v1M625 108v3m0 29v2m0 51v1m0 203v2m0 30v1m0 100v1M629 116v2m0 107v1m0 277v3m0 26v1M638 77v1m0 83v1m0 4v1m0 25v2m0 72v1m0 106v3m0 29v1m0 41v2m0 18v1m0 15v1M647 72v1m0 10v3m0 3v2m0 3v1m0 42v1m0 8v1m0 1v1m0 15v1m0 40v1m0 33v1m0 11v1m0 103v3m0 21v1m0 12v3m0 26v1m0 15v2m0 24v1m0 7v2m0 7v1m0 7v1m0 1v1m0 17v2m0 12v1m0 4v1M656 89v3m0 13v2m0 2v1m0 20v5m0 36v1m0 35v3m0 3v1m0 9v1m0 11v3m0 33v1m0 22v1m0 2v1m0 41v1m0 7v1m0 3v2m0 25v2m0 11v3m0 1v1m0 18v1m0 46v2m0 5v1m0 24v1m0 12v1m0 9v1M665 69v1m0 5v1m0 4v1m0 3v1m0 8v1m0 74v3m0 15v1m0 41v2m0 11v1m0 2v1m0 5v1m0 13v1m0 13v1m0 51v1m0 10v2m0 42v1m0 24v1m0 76v1m0 6v1m0 39v1M679 73v1m0 27v1m0 18v1m0 31v2m0 9v1m0 5v1m0 17v2m0 8v4m0 6v1m0 12v1m0 24v4m0 10v2m0 32v1m0 34v1m0 15v1m0 56v2m0 7v1m0 6v1m0 19v2m0 20v2m0 29v2m0 22v1m0 3v1m0 2v1M703 66v1m0 9v2m0 34v4m0 13v1m0 2v3m0 2v1m0 11v1m0 25v1m0 18v2m0 9v2m0 10v1m0 5v1m0 1v1m0 6v1m0 3v1m0 8v2m0 9v2m0 17v2m0 25v2m0 27v3m0 6v1m0 36v1m0 23v3m0 9v3m0 52v3"/>
<path stroke="#280028" stroke-width="5" d="M603.5 81v1m0 21v3m0 72v1m0 5v1m0 17v2m0 9v1m0 47v1m0 29v1m0 90v1m0 41v2m0 18v1m0 14v1m0 1v1m0 7v1m0 10v2m0 37v1M620.5 73v1m0 41v2m0 9v1m0 9v2m0 14v2m0 26v1m0 4v1m0 12v1m0 2v3m0 28v2m0 2v1m0 54v1m0 124v2m0 38v2m0 12v1m0 42v3M633.5 89v1m0 3v2m0 15v1m0 108v1m0 43v1m0 39v1m0 34v1m0 25v1m0 147v1m0 9v2M642.5 63v1m0 10v3m0 7v1m0 12v1m0 17v1m0 10v1m0 17v2m0 9v3m0 3v3m0 34v2m0 2v1m0 5v3m0 4v2m0 15v2m0 13v2m0 5v2m0 66v1m0 25v1m0 4v1m0 15v3m0 4v1m0 15v1m0 51v2m0 1v2m0 3v2m0 2v1m0 12v3m0 56v3m0 4v1M651.5 62v1m0 12v3m0 19v2m0 4v1m0 14v1m0 30v1m0 17v3m0 5v2m0 18v1m0 13v2m0 105v2m0 2v3m0 17v3m0 14v3m0 5v2m0 5v3m0 19v1m0 3v1m0 15v2m0 2v2m0 21v1m0 8v3m0 7v1m0 1v4m0 6v1m0 25v2m0 8v1m0 18v3M660.5 79v1m0 8v1m0 11v1m0 38v2m0 16v1m0 16v2m0 18v2m0 27v1m0 16v3m0 7v3m0 12v1m0 1v2m0 1v3m0 18v2m0 22v3m0 6v2m0 31v1m0 19v3m0 4v1m0 13v1m0 4v1m0 14v2m0 6v1m0 28v3m0 36v2m0 12v1m0 3v1M669.5 59v2m0 7v1m0 46v1m0 19v1m0 1v1m0 23v1m0 29v3m0 8v4m0 11v1m0 13v1m0 33v2m0 39v1m0 2v1m0 8v2m0 47v2m0 46v1m0 32v2m0 23v3m0 22v1m0 7v2m0 14v2M674.5 60v2m0 24v3m0 34v1m0 19v1m0 12v1m0 53v2m0 50v1m0 15v1m0 44v1m0 6v1m0 29v2m0 5v4m0 25v1m0 5v1m0 10v3m0 3v2m0 15v1m0 10v2m0 21v2m0 4v3m0 15v1m0 3v3m0 9v1M683.5 83v4m0 3v1m0 5v2m0 13v1m0 15v4m0 5v2m0 8v1m0 2v1m0 2v2m0 9v2m0 33v3m0 20v1m0 7v2m0 2v1m0 5v2m0 11v1m0 5v1m0 17v2m0 8v3m0 54v2m0 5v2m0 2v1m0 7v3m0 1v1m0 3v2m0 6v3m0 2v1m0 12v1m0 4v2m0 5v1m0 7v1m0 6v1m0 9v2m0 1v1m0 10v2m0 2v2m0 28v2m0 7v1m0 3v1m0 3v2m0 2v2m0 11v1m0 1v2m0 4v1m0 1v1m0 4v1M688.5 73v1m0 37v1m0 7v2m0 4v1m0 4v2m0 23v1m0 41v2m0 22v2m0 43v1m0 42v1m0 16v3m0 17v1m0 17v3m0 16v2m0 9v2m0 4v3m0 9v2m0 4v1m0 32v1m0 18v1m0 3v1m0 4v1m0 16v2m0 7v2M693.5 75v1m0 29v2m0 7v2m0 28v2m0 59v1m0 3v2m0 8v1m0 18v1m0 35v1m0 54v2m0 4v2m0 6v1m0 35v1m0 50v1m0 10v2m0 11v1m0 3v1m0 28v3m0 42v2m0 1v1M698.5 69v2m0 6v1m0 74v3m0 25v1m0 18v1m0 5v1m0 24v2m0 47v1m0 33v1m0 33v1m0 8v2m0 47v2m0 9v2m0 16v1m0 8v2m0 25v2m0 5v1m0 21v1m0 13v1m0 12v1m0 1v1M707.5 62v4m0 1v2m0 3v2m0 16v1m0 29v2m0 50v1m0 17v1m0 3v1m0 10v1m0 1v2m0 5v2m0 2v1m0 2v3m0 2v1m0 1v1m0 34v2m0 20v1m0 23v3m0 10v2m0 6v1m0 6v2m0 1v3m0 7v1m0 2v3m0 3v2m0 9v2m0 6v3m0 32v1m0 1v1m0 4v1m0 16v4m0 30v1m0 13v2m0 24v1M712.5 64v1m0 8v1m0 6v1m0 5v2m0 10v2m0 24v1m0 3v4m0 18v2m0 53v2m0 9v1m0 5v1m0 3v3m0 29v1m0 105v3m0 1v2m0 5v1m0 19v2m0 3v1m0 1v3m0 27v1m0 26v1m0 23v1m0 23v1m0 7v1M717.5 79v3m0 33v1m0 13v1m0 37v1m0 8v1m0 2v1m0 25v1m0 13v3m0 20v2m0 4v1m0 5v1m0 65v1m0 13v1m0 13v1m0 36v1m0 6v1m0 7v1m0 33v1m0 10v2m0 15v2m0 26v1m0 17v1m0 2v1m0 9v1M722.5 65v3m0 16v3m0 15v1m0 29v1m0 16v3m0 17v1m0 3v1m0 54v1m0 16v1m0 64v1m0 12v1m0 11v1m0 6v1m0 8v2m0 2v1m0 36v2m0 6v2m0 32v3m0 6v2m0 24v3m0 7v1m0 9v3m0 38v1M727.5 66v3m0 13v1m0 24v1m0 55v1m0 15v1m0 7v1m0 2v1m0 3v2m0 3v1m0 26v1m0 17v1m0 31v1m0 3v3m0 10v1m0 3v1m0 1v2m0 16v1m0 13v1m0 10v1m0 11v1m0 21v1m0 9v3m0 38v1m0 14v3m0 2v1m0 29v3m0 12v1m0 18v2m0 2v1m0 5v2M732.5 59v2m0 10v2m0 37v1m0 11v1m0 3v1m0 20v1m0 2v1m0 7v1m0 48v1m0 19v2m0 29v1m0 42v1m0 6v3m0 41v3m0 30v6m0 15v1m0 4v1m0 45v2m0 7v1m0 34v1m0 10v1m0 2v2m0 9v1m0 4v2M743.5 76v1m0 79v2m0 21v3m0 68v3m0 8v1m0 31v1m0 16v1m0 11v3m0 29v3m0 4v3m0 10v2m0 7v2m0 42v4m0 24v1m0 36v1m0 7v1m0 23v2M748.5 59v1m0 7v2m0 27v1m0 2v3m0 17v1m0 14v1m0 31v1m0 30v2m0 9v2m0 2v2m0 18v1m0 34v1m0 1v1m0 28v1m0 4v1m0 20v4m0 53v1m0 5v1m0 3v2m0 19v1m0 17v1m0 4v1m0 61v1m0 22v1m0 8v1M753.5 73v2m0 28v2m0 13v3m0 224v2m0 2v1m0 146v1M758.5 101v1m0 31v1m0 7v3m0 37v2m0 17v1m0 53v1m0 7v3m0 12v1m0 37v1m0 50v3m0 11v1m0 142v1M769.5 64v1m0 9v1m0 11v2m0 27v1m0 4v3m0 33v1m0 6v2m0 3v1m0 9v1m0 9v1m0 6v1m0 9v3m0 4v2m0 23v2m0 63v1m0 17v2m0 22v2m0 5v1m0 14v1m0 6v3m0 12v2m0 2v1m0 8v1m0 33v2m0 44v1m0 8v1m0 3v1M774.5 83v1m0 5v1m0 25v2m0 2v2m0 5v1m0 14v2m0 12v5m0 11v2m0 8v1m0 1v1m0 59v1m0 55v4m0 2v2m0 6v2m0 5v1m0 22v1m0 4v1m0 13v2m0 24v2m0 9v2m0 24v2m0 18v1m0 37v1m0 2v2m0 5v1m0 13v1m0 6v1m0 14v1m0 1v5M785.5 74v1m0 3v2m0 18v1m0 10v1m0 58v1m0 1v1m0 7v2m0 12v2m0 15v1m0 13v3m0 13v1m0 5v1m0 32v1m0 45v1m0 34v3m0 13v3m0 25v1m0 19v1m0 7v1m0 39v2m0 3v4m0 10v1m0 43v2M796.5 112v2m0 102v2m0 71v1m0 11v1m0 72v2m0 41v1m0 52v1m0 50v3"/>
<path stroke="#280028" stroke-width="6" d="M738 60v1m0 2v2m0 89v1m0 11v1m0 9v5m0 7v1m0 22v2m0 25v1m0 4v1m0 3v1m0 4v2m0 18v2m0 44v1m0 25v1m0 24v1m0 7v2m0 26v2m0 41v1m0 13v2m0 3v2m0 18v2m0 4v2m0 7v1m0 9v2m0 4v1m0 2v2m0 9v2m0 1v1M764 74v3m0 20v2m0 1v1m0 2v1m0 43v2m0 6v1m0 37v2m0 43v2m0 41v3m0 3v2m0 33v1m0 11v1m0 7v1m0 2v3m0 11v3m0 26v1m0 38v3m0 6v1m0 2v1m0 20v1m0 3v3m0 29v2m0 15v2m0 1v2M780 64v1m0 26v2m0 9v1m0 25v1m0 31v4m0 12v1m0 60v1m0 3v1m0 11v1m0 80v1m0 1v3m0 6v2m0 5v3m0 27v6m0 9v1m0 1v2m0 19v2m0 37v1m0 7v1M791 169v1m0 21v2m0 16v2m0 23v1m0 5v2m0 9v1m0 28v3m0 18v1m0 3v1m0 3v3m0 20v3m0 11v1m0 46v1m0 22v1m0 13v1m0 25v1m0 4v2m0 2v1m0 16v1m0 19v3"/>
<path stroke="#31003b" stroke-width="1" d="M78.5 108v1m0 195v1m0 6v3m0 54v1m0 29v3m0 54v1m0 13v3m0 30v1m0 27v1M79.5 67v1m0 2v1m0 5v2m0 24v3m0 16v1m0 86v2m0 49v2m0 20v2m0 2v1m0 103v1m0 17v2m0 87v2m0 17v1m0 5v5M80.5 93v2m0 7v1m0 3v1m0 79v2m0 15v1m0 19v4m0 117v2m0 100v3m0 11v4m0 12v1M81.5 103v4m0 41v3m0 128v3M82.5 146v2m0 10v1m0 24v2m0 64v2m0 46v4m0 23v1m0 74v1m0 21v1m0 18v3M83.5 262v2m0 45v2M84.5 83v3m0 31v2m0 44v2m0 53v3m0 40v3m0 12v1m0 3v2m0 7v2m0 24v1m0 3v3m0 52v3m0 23v2m0 3v1m0 45v1m0 19v3m0 38v2M85.5 112v3m0 22v2m0 87v4m0 44v1m0 6v1m0 5v2m0 74v3m0 43v1m0 42v2m0 22v3m0 15v4m0 9v3M86.5 75v4m0 85v1m0 37v3m0 19v2m0 37v2m0 4v3m0 142v2M87.5 132v2m0 17v2m0 8v1m0 91v1m0 29v2m0 98v9m0 142v1M88.5 106v2m0 263v3m0 66v4M89.5 111v3m0 3v3m0 20v3m0 14v3m0 10v1m0 52v3m0 26v3m0 13v3m0 29v3m0 3v1m0 60v3m0 16v3m0 54v1m0 82v2M90.5 92v1m0 220v2m0 10v3m0 67v1m0 32v4m0 38v2M91.5 108v1m0 41v2m0 18v1m0 68v3m0 34v1m0 11v1m0 5v2m0 26v4m0 81v2m0 77v1m0 25v4M92.5 61v1m0 11v1m0 24v1m0 7v2m0 11v1m0 54v3m0 2v2m0 1v2m0 7v2m0 15v2m0 54v4m0 49v3m0 12v2m0 8v2m0 20v3m0 13v1m0 10v1m0 14v2m0 3v4m0 8v4m0 10v4m0 5v3m0 41v2m0 11v2m0 3v3m0 12v3M93.5 133v1m0 92v1m0 24v3m0 8v1m0 13v2m0 52v3m0 3v2m0 19v1m0 22v1m0 25v4m0 39v2m0 12v4M94.5 128v3m0 94v1m0 42v2m0 46v1m0 69v2m0 50v1m0 87v1M95.5 107v3m0 49v3m0 44v1m0 36v1m0 27v1m0 46v1m0 30v1m0 127v5M96.5 189v1m0 74v4m0 33v2m0 22v2M97.5 67v1m0 10v1m0 33v3m0 13v3m0 176v3m0 32v1m0 45v2m0 42v4m0 38v3m0 43v3M98.5 122v2m0 53v2m0 66v1m0 75v2m0 27v2m0 39v1m0 33v4m0 39v2m0 28v2M99.5 76v3m0 16v1m0 14v3m0 196v2m0 1v4m0 30v1m0 136v2M100.5 61v3m0 46v4m0 2v2m0 102v1m0 20v3m0 28v1m0 37v1m0 27v2m0 44v2m0 40v2M101.5 151v2m0 4v4m0 18v2m0 84v2m0 23v1m0 12v2m0 117v2m0 25v1M102.5 74v1m0 26v2m0 35v1m0 12v1m0 28v1m0 40v2m0 15v3m0 48v2m0 76v4m0 29v4m0 11v1m0 27v1m0 37v3m0 32v1m0 4v3M103.5 86v2m0 8v2m0 42v2m0 68v2m0 43v1m0 22v2m0 34v3m0 7v1m0 16v4m0 33v3m0 21v3M104.5 76v2m0 59v2m0 74v2m0 2v4m0 67v2m0 36v1m0 25v6m0 10v1m0 14v1m0 83v3m0 24v2m0 33v4M105.5 116v3m0 13v2m0 24v2m0 53v1m0 5v2m0 17v1m0 18v2m0 43v2m0 29v2m0 39v2m0 25v2m0 4v2m0 32v2m0 83v1M106.5 76v2m0 12v3m0 26v2m0 87v4m0 74v2m0 33v1m0 10v4m0 23v1M107.5 72v3m0 17v1m0 17v3m0 108v2m0 43v2m0 23v1m0 11v1m0 63v3m0 81v4m0 62v2M108.5 88v4m0 63v4m0 35v3m0 28v3m0 102v2m0 128v3M109.5 92v3m0 7v2m0 5v2m0 9v1m0 4v1m0 36v4m0 11v2m0 15v3m0 69v4m0 64v2m0 3v2m0 30v2m0 14v1m0 9v1m0 10v2m0 6v3m0 16v4m0 16v1m0 38v1m0 18v2m0 9v2M110.5 72v1m0 58v3m0 8v1m0 53v1m0 2v2m0 88v3m0 13v2m0 125v3m0 32v4m0 2v3m0 1v2m0 43v4M111.5 71v1m0 143v2m0 45v1m0 29v2m0 40v2m0 53v1m0 124v2M112.5 95v2m0 40v1m0 23v2m0 56v1m0 49v3m0 35v3m0 69v2m0 30v5m0 44v1m0 2v3m0 2v1m0 57v1m0 2v2M113.5 85v1m0 34v2m0 4v1m0 56v2m0 52v1m0 88v4m0 27v4m0 3v1m0 10v4m0 24v2m0 5v3m0 1v1m0 112v1M114.5 71v3m0 8v3m0 52v1m0 23v1m0 22v4m0 3v2m0 65v3m0 32v2m0 7v2m0 181v2m0 6v4m0 15v1M115.5 85v3m0 20v1m0 27v1m0 34v3m0 2v3m0 11v3m0 27v3m0 8v2m0 6v2m0 17v3m0 124v1m0 41v3m0 103v1M116.5 81v1m0 3v3m0 28v2m0 25v4m0 7v6m0 88v3m0 28v2m0 22v1m0 66v1m0 8v1m0 12v3m0 10v2m0 10v2m0 14v1m0 54v4m0 13v2M117.5 94v2m0 19v2m0 30v3m0 68v2m0 35v2m0 2v1m0 7v2m0 14v1m0 12v2m0 9v2m0 54v2m0 11v1m0 36v3m0 14v2m0 21v2m0 7v3m0 47v1M118.5 73v3m0 3v2m0 39v2m0 21v1m0 51v1m0 72v4m0 1v2m0 22v2m0 5v2m0 4v2m0 9v2m0 19v1m0 18v3m0 1v3m0 43v3m0 6v2m0 43v1m0 4v4m0 44v2M119.5 129v2m0 60v4m0 24v1m0 202v1m0 39v4m0 20v3M120.5 153v4m0 40v2m0 18v2M121.5 65v2m0 44v4m0 62v1m0 53v3m0 5v2m0 1v1m0 34v1m0 10v1m0 52v1m0 6v1m0 59v2m0 31v3m0 36v4m0 7v2m0 27v2M122.5 62v2m0 57v3m0 4v1m0 10v2m0 6v1m0 25v1m0 54v1m0 31v2m0 165v3M123.5 74v1m0 40v1m0 14v3m0 32v3m0 37v1m0 79v3m0 25v2m0 10v1m0 46v1m0 31v2m0 3v2m0 57v2m0 22v2M124.5 151v1m0 19v2m0 43v2m0 39v2m0 4v2m0 26v2m0 6v1m0 40v3m0 10v2m0 65v2m0 95v3m0 11v1M125.5 65v1m0 11v3m0 54v2m0 65v2m0 9v2m0 189v1m0 9v1m0 65v3m0 15v4M126.5 98v3m0 10v1m0 12v3m0 11v3m0 23v1m0 11v2m0 36v1m0 18v1m0 6v3m0 74v3m0 117v2m0 16v5m0 45v1m0 22v2M127.5 85v3m0 44v1m0 104v1M128.5 118v1m0 53v2m0 3v2m0 19v1m0 143v2m0 22v2m0 34v4m0 57v2m0 10v1m0 28v1m0 20v1M129.5 116v4m0 6v2m0 23v1m0 15v3m0 128v3m0 16v4m0 53v4m0 95v4m0 3v2m0 34v3M130.5 127v1m0 19v2m0 28v1m0 2v3m0 15v2m0 47v3m0 52v2m0 16v2m0 5v4m0 39v1m0 20v3m0 63v1M131.5 138v2m0 178v3m0 213v2M132.5 219v3m0 90v2m0 1v2m0 4v3M133.5 59v2m0 5v2m0 5v4m0 1v1m0 19v2m0 17v2m0 36v6m0 9v3m0 2v1m0 53v2m0 74v3m0 9v2m0 7v5m0 1v1m0 5v1m0 4v1m0 19v1m0 43v1m0 41v3m0 73v7m0 3v1M134.5 315v3m0 110v2M135.5 85v4m0 11v4m0 9v2m0 52v2m0 61v1m0 116v3m0 116v2M136.5 77v3m0 28v2m0 17v2m0 25v3m0 3v2m0 139v1m0 179v2m0 45v1M137.5 185v2m0 291v4M138.5 268v2M139.5 207v2m0 17v1m0 4v2m0 75v2m0 6v3m0 18v1m0 188v5M140.5 81v2m0 52v4m0 4v3m0 59v2m0 45v2m0 27v2m0 22v3m0 69v3m0 40v2m0 20v4m0 36v2m0 27v1m0 6v2M141.5 76v5m0 148v2m0 129v2m0 9v2m0 19v4m0 57v2m0 19v1m0 60v1M142.5 62v2m0 191v1m0 4v4m0 164v3m0 18v5m0 6v3m0 15v2M143.5 64v1m0 45v4m0 20v3m0 8v1m0 9v1m0 25v1m0 9v2m0 4v2m0 70v5m0 16v7m0 7v2m0 25v1m0 12v2m0 24v3m0 4v2m0 34v1m0 22v3m0 5v1m0 4v1m0 15v4m0 17v4m0 20v2M144.5 84v3m0 9v4m0 8v2m0 14v1m0 57v1m0 4v2m0 7v3m0 10v1m0 59v3m0 11v1m0 39v1m0 53v4m0 56v2m0 10v1m0 34v1m0 35v2M145.5 104v2m0 7v1m0 34v3m0 15v2m0 158v3m0 10v1m0 7v1m0 55v1m0 2v2m0 4v2m0 12v1m0 23v3m0 15v4m0 6v2M146.5 261v2m0 6v3m0 22v2m0 59v4m0 53v1M147.5 79v2m0 37v2m0 12v1m0 17v4m0 3v1m0 24v4m0 35v3m0 9v1m0 126v3m0 58v3m0 7v1m0 50v3M148.5 74v2m0 5v1m0 22v2m0 74v4m0 46v2m0 89v6m0 81v1m0 22v3m0 61v1m0 5v2M149.5 73v1m0 32v2m0 8v5m0 23v5m0 17v1m0 43v1m0 21v4m0 36v2m0 15v3m0 36v1m0 10v2m0 54v1m0 17v1M152.5 64v1m0 36v1m0 2v3m0 72v1m0 55v1m0 10v2m0 33v1m0 34v1m0 19v3m0 10v1m0 2v2m0 35v1m0 12v7m0 32v1m0 76v3M153.5 84v4m0 12v2m0 7v2m0 32v1m0 35v2m0 52v6m0 27v2m0 35v1m0 50v1m0 7v1m0 5v1m0 22v4m0 28v4m0 45v1m0 4v2m0 40v2m0 8v1m0 5v1M154.5 80v3m0 11v1m0 7v1m0 92v2m0 86v4m0 11v4m0 82v1m0 22v1m0 8v1m0 37v1M155.5 93v2m0 14v2m0 18v1m0 11v3m0 98v1m0 111v3m0 78v3m0 6v1m0 57v1m0 13v2M157.5 108v4m0 119v1m0 123v1M158.5 61v2m0 44v2m0 24v2m0 30v1m0 8v2m0 16v2m0 2v1m0 20v2m0 6v5m0 13v2m0 12v2m0 31v1m0 5v1m0 14v1m0 9v1m0 11v4m0 17v2m0 7v2m0 13v1m0 3v1m0 24v5m0 3v3m0 16v1m0 27v4m0 12v4m0 15v3m0 19v4M159.5 73v3m0 46v1m0 25v2m0 13v4m0 14v1m0 62v1m0 35v1m0 26v2m0 45v3m0 10v2m0 3v1m0 16v2m0 47v7m0 7v3m0 18v5m0 2v2M162.5 72v3m0 2v3m0 34v5m0 71v1m0 26v4m0 19v1m0 16v4m0 1v1m0 30v1m0 4v2m0 23v2m0 17v1m0 51v1m0 12v3m0 32v1m0 30v2m0 7v1m0 25v3m0 1v2m0 3v2M163.5 71v1m0 2v4m0 124v4m0 84v2m0 2v2m0 20v3m0 24v3m0 7v2m0 28v1m0 24v4m0 79v3M164.5 98v3m0 6v4m0 2v2m0 74v2m0 69v1m0 78v3m0 7v1m0 128v1m0 4v1M165.5 64v2m0 7v2m0 101v1m0 3v1m0 46v4m0 101v2m0 51v1m0 4v3m0 28v2m0 71v2M168.5 60v1m0 120v1m0 48v1m0 61v1m0 44v1m0 74v2m0 7v2m0 90v3M169.5 83v2m0 30v1m0 10v1m0 91v1m0 128v1m0 6v3m0 8v1m0 11v2m0 7v2m0 8v2m0 23v1M170.5 67v1m0 9v1m0 22v1m0 33v2m0 25v3m0 11v1m0 21v3m0 3v4m0 59v1m0 3v3m0 5v3m0 8v3m0 20v7m0 93v3m0 66v1M171.5 65v1m0 11v2m0 109v4m0 39v1m0 75v1m0 55v2m0 24v1m0 4v1m0 42v2m0 4v1m0 6v3m0 46v1M174.5 74v2m0 33v4m0 27v4m0 23v1m0 4v2m0 22v3m0 60v1m0 14v2m0 11v1m0 2v2m0 33v4m0 38v3m0 1v2m0 110v1m0 1v3m0 18v1m0 12v1M175.5 68v2m0 15v4m0 1v4m0 42v1m0 125v1m0 1v3m0 11v1m0 56v2m0 42v2m0 43v4m0 6v1m0 13v3m0 1v1m0 36v1m0 5v1M176.5 74v2m0 9v2m0 39v4m0 46v2m0 21v3m0 95v1m0 74v2m0 51v2M179.5 95v2m0 63v2m0 355v2M180.5 173v4m0 55v1m0 234v1m0 10v1m0 45v4m0 3v3M181.5 94v2m0 88v2m0 44v1m0 48v1m0 9v1m0 55v3m0 4v3m0 49v2m0 58v1m0 30v2m0 15v1M184.5 73v1m0 84v1m0 9v1m0 15v5m0 8v1m0 26v1m0 22v3m0 49v1m0 14v2m0 15v2m0 44v1m0 24v2m0 24v1m0 36v2m0 1v3m0 14v3m0 27v2M185.5 89v1M188.5 179v2m0 19v3m0 7v2m0 15v2m0 25v2m0 50v4m0 11v2m0 29v1m0 43v4m0 115v2M189.5 163v2m0 21v2m0 29v3m0 36v3m0 35v1m0 20v4m0 72v3m0 2v1m0 4v1m0 15v2m0 45v2m0 49v4M192.5 103v2m0 79v3m0 4v1m0 4v1m0 35v1m0 43v1m0 56v2m0 4v3m0 52v4m0 32v2m0 43v4m0 17v1m0 13v4M195.5 61v4m0 11v3m0 34v1m0 36v2m0 28v3m0 7v1m0 42v1m0 119v2m0 146v1M196.5 91v2m0 30v2m0 6v2m0 11v3m0 10v1m0 19v4m0 10v3m0 99v2m0 21v3m0 3v4m0 8v3m0 26v4m0 7v2m0 3v4m0 20v4m0 15v2m0 2v2m0 2v2m0 15v1m0 22v1m0 3v1m0 19v2m0 19v3M199.5 82v2m0 20v1m0 16v1m0 72v1m0 121v2m0 54v3M202.5 63v2m0 20v1m0 3v1m0 26v3m0 3v2m0 15v1m0 24v4m0 15v1m0 15v4m0 23v4m0 14v2m0 94v2m0 7v3m0 16v2m0 4v1m0 23v2m0 19v3m0 55v3M203.5 89v3m0 43v2m0 31v3m0 14v2m0 105v3m0 22v2m0 100v2m0 70v4M206.5 102v1m0 25v3m0 77v2m0 3v6m0 8v3m0 1v4m0 71v2m0 52v1m0 14v1m0 33v3m0 19v2m0 2v3m0 65v1m0 10v1m0 16v2M209.5 92v1m0 50v1m0 40v1m0 5v2m0 154v1m0 146v3m0 38v1M212.5 75v4m0 14v2m0 20v1m0 31v1m0 29v2m0 15v1m0 101v1m0 53v1m0 41v3m0 54v1m0 59v2M215.5 83v1m0 43v2m0 11v3m0 7v4m0 33v1m0 25v4m0 4v4m0 29v2m0 40v2m0 6v3m0 10v3m0 69v1m0 21v1m0 12v4m0 17v2m0 20v2m0 14v1m0 8v3m0 6v3m0 13v1M218.5 102v1m0 21v2m0 28v1m0 36v1m0 18v4m0 21v1m0 23v3m0 5v1m0 10v2m0 16v4m0 46v2m0 91v3m0 2v4m0 15v5m0 1v1m0 60v1M223.5 67v1m0 1v1m0 101v1m0 26v1m0 11v2m0 5v1m0 9v1m0 6v3m0 100v1m0 8v3m0 14v3m0 51v3m0 40v2m0 23v2m0 7v3m0 18v2M226.5 62v3m0 2v4m0 2v1m0 16v5m0 37v2m0 67v2m0 31v3m0 27v6m0 31v3m0 18v3m0 6v3m0 40v1m0 3v1m0 58v2m0 52v1M231.5 152v1m0 2v3m0 25v3m0 112v4m0 111v1m0 84v2M234.5 105v4m0 36v2m0 8v1m0 4v1m0 46v3m0 44v2m0 22v1m0 98v1m0 47v1m0 39v2m0 48v2m0 3v2m0 9v3M241.5 109v2m0 18v2m0 91v2m0 54v3m0 29v4m0 15v1m0 29v1m0 8v1m0 140v2M246.5 79v2m0 15v7m0 35v4m0 56v2m0 1v1m0 17v1m0 33v3m0 49v2m0 64v2m0 14v1m0 25v3m0 8v1m0 14v2m0 21v1m0 17v1m0 28v2m0 13v1M253.5 78v2m0 2v3m0 52v1m0 7v1m0 12v2m0 101v1m0 1v1m0 8v3m0 23v4m0 105v3m0 19v2m0 77v2m0 8v2M264.5 75v3m0 298v2m0 30v1m0 10v2m0 54v1m0 27v2M799.5 89v1m0 139v1m0 66v2m0 79v1"/>
<path stroke="#31003b" stroke-width="2" d="M151 99v2m0 36v1m0 16v2m0 88v2m0 7v3m0 55v1m0 45v1m0 89v2m0 18v1M161 131v3m0 7v3m0 34v2m0 59v1m0 60v3m0 45v3m0 62v2m0 71v7M167 72v3m0 58v1m0 76v1m0 18v1m0 20v3m0 32v1m0 62v2m0 90v4m0 11v2m0 32v2m0 23v2M173 111v2m0 15v1m0 14v1m0 28v2m0 41v1m0 208v4m0 89v4m0 11v3M178 78v2m0 25v4m0 24v2m0 80v2m0 298v2m0 14v1M183 151v2m0 8v3m0 50v1m0 10v4m0 20v1m0 5v3m0 9v1m0 9v3m0 9v1m0 30v1m0 23v5m0 3v5m0 22v3m0 27v2m0 2v1m0 70v2m0 2v3m0 20v2M187 122v2m0 3v3m0 79v3m0 35v2m0 16v1m0 10v2m0 16v3m0 2v3m0 17v2m0 16v1m0 21v1m0 25v1m0 67v2m0 42v4m0 30v2M191 260v2m0 43v1m0 87v3m0 54v1m0 14v1M194 85v3m0 5v2m0 14v1m0 7v1m0 12v1m0 35v1m0 9v3m0 75v2m0 1v1m0 34v1m0 3v2m0 6v3m0 45v1m0 13v4m0 59v3m0 13v4m0 22v3M198 98v3m0 2v1m0 40v3m0 1v4m0 36v5m0 5v1m0 33v4m0 37v1m0 12v4m0 76v1m0 26v2m0 13v3m0 20v2m0 39v4m0 17v3m0 7v2m0 13v2M201 71v1m0 7v3m0 57v1m0 6v2m0 6v3m0 17v2m0 184v3m0 80v2m0 6v1M205 59v1m0 105v1m0 34v4m0 13v3m0 41v1m0 22v1m0 47v1m0 43v3m0 5v3m0 80v4m0 41v3m0 3v1m0 6v3M208 59v1m0 153v1m0 3v1m0 58v2m0 22v2m0 21v2m0 11v2m0 84v1m0 5v2m0 40v1m0 11v1m0 3v3m0 21v1m0 11v3M211 200v1m0 68v3m0 167v4m0 4v1m0 67v3M214 83v4m0 5v4m0 23v4m0 7v3m0 4v3m0 19v2m0 124v3m0 72v1m0 2v1m0 4v3m0 48v3m0 46v1m0 9v3m0 34v1M217 170v2m0 75v3m0 18v3m0 13v3m0 29v1m0 94v3m0 82v3m0 27v1M220 73v1m0 104v1m0 32v1m0 43v3m0 102v1m0 2v1m0 80v1m0 30v2M222 267v2m0 43v4m0 28v4m0 50v3m0 1v1m0 43v2m0 40v4m0 18v1M225 77v2m0 87v3m0 40v4m0 36v3m0 5v4m0 18v2m0 85v1m0 25v1m0 15v1m0 82v2M228 74v3m0 95v3m0 98v4m0 9v2m0 111v2m0 97v2m0 6v3m0 23v3M230 266v1m0 4v2m0 38v2m0 83v1m0 21v4m0 79v3m0 29v2M233 93v4m0 183v1m0 63v3M236 125v1m0 55v3m0 68v4m0 6v2m0 51v1m0 38v2m0 37v3m0 132v1m0 3v1M238 203v1m0 2v2m0 24v1m0 10v3m0 73v2m0 12v2m0 70v4m0 20v3m0 7v4m0 42v3m0 36v2M240 64v2m0 24v3m0 20v1m0 11v3m0 10v1m0 2v2m0 37v4m0 10v1m0 17v3m0 14v1m0 6v2m0 46v3m0 15v7m0 52v1m0 97v1m0 46v4m0 13v2m0 3v2M243 89v1m0 8v1m0 26v3m0 63v1m0 16v1m0 76v3m0 13v2m0 33v2m0 14v3m0 12v1m0 31v2m0 22v1m0 1v4m0 14v1m0 15v2m0 16v1m0 27v2M245 62v4m0 61v3m0 151v1m0 43v1m0 40v1m0 110v2m0 56v1M248 104v5m0 30v1m0 30v2m0 35v4m0 4v1m0 41v1m0 8v3m0 39v5m0 6v2m0 30v2m0 27v6m0 48v1m0 26v1m0 9v6m0 5v4M250 59v3m0 4v4m0 1v2m0 76v4m0 6v2m0 48v2m0 39v3m0 28v1m0 8v1m0 56v2m0 111v2m0 6v2m0 7v2M252 135v2m0 28v2m0 77v1m0 35v2m0 29v3m0 57v4m0 93v1m0 7v3m0 23v4m0 7v2m0 5v1m0 1v2M255 116v1m0 22v2m0 19v1m0 201v1m0 5v3m0 153v2M257 145v3m0 1v1m0 19v2m0 2v1m0 5v2m0 63v2m0 60v3m0 8v1m0 9v3m0 32v1m0 40v3m0 22v2m0 74v1M259 93v2m0 38v4m0 7v4m0 6v2m0 8v3m0 11v1m0 14v4m0 2v4m0 11v3m0 7v4m0 2v2m0 168v2m0 28v1m0 83v3m0 15v1M261 67v1m0 30v7m0 12v1m0 28v1m0 55v2m0 43v4m0 2v4m0 9v1m0 83v1m0 20v3m0 29v1m0 33v3m0 75v1m0 2v1M263 83v2m0 30v1m0 45v3m0 27v2m0 30v1m0 30v3m0 4v3m0 16v2m0 5v3m0 26v2m0 49v2m0 17v2m0 18v1m0 7v7m0 24v1m0 56v2M266 87v3m0 18v2m0 17v1m0 101v2m0 7v2m0 15v2m0 52v1m0 20v3m0 25v4m0 83v1m0 34v1m0 7v2m0 22v2M268 107v3m0 103v1m0 9v4m0 33v2m0 44v2m0 20v1m0 109v1m0 70v1M270 108v2m0 18v2m0 54v1m0 7v2m0 75v1m0 19v1m0 93v3m0 34v4M272 76v3m0 26v2m0 41v1m0 13v2m0 26v3m0 87v3m0 8v2m0 29v2m0 59v3m0 21v2m0 73v1m0 28v1m0 14v3M274 80v2m0 153v2m0 67v2m0 42v2m0 18v2m0 93v1m0 1v2m0 16v1m0 51v1M276 84v5m0 182v3m0 33v2m0 47v1m0 14v2m0 5v3m0 38v4m0 99v1M278 121v4m0 12v3m0 8v1m0 6v2m0 47v2m0 32v2m0 4v2m0 12v2m0 115v1m0 48v1m0 5v1m0 2v1m0 45v2m0 25v3M280 66v4m0 12v7m0 57v2m0 8v3m0 7v3m0 37v2m0 6v2m0 18v1m0 17v2m0 2v1m0 52v3m0 28v4m0 47v2m0 7v3m0 6v2m0 51v1m0 2v3m0 52v1M282 143v3m0 55v4m0 19v2m0 55v1m0 9v1m0 20v4m0 16v2m0 94v3m0 17v1m0 21v3m0 25v2m0 19v3M284 93v2m0 44v4m0 36v1m0 174v2m0 9v2m0 11v2m0 60v5m0 26v2m0 26v2m0 6v4m0 17v4m0 1v2M286 60v2m0 30v2m0 30v1m0 21v1m0 106v1m0 2v3m0 55v1m0 23v3m0 16v2m0 16v2m0 33v1m0 28v2m0 52v1m0 15v1m0 13v3M288 60v2m0 32v2m0 17v4m0 7v2m0 1v1m0 19v2m0 4v1m0 8v4m0 17v3m0 80v1m0 26v1m0 1v1m0 34v1m0 79v3m0 57v2m0 12v2M290 82v2m0 2v2m0 4v1m0 35v1m0 5v2m0 11v3m0 8v3m0 6v4m0 31v2m0 48v4m0 23v2m0 39v4m0 92v3m0 68v1m0 6v1m0 34v1M292 60v1m0 53v1m0 10v1m0 37v2m0 80v2m0 10v2m0 153v1m0 67v2M294 118v3m0 146v2m0 171v4M296 91v4m0 5v2m0 98v1m0 14v1m0 22v1m0 113v6m0 5v3m0 10v2m0 7v2m0 9v4m0 15v2m0 98v3M298 110v1m0 16v2m0 13v1m0 13v2m0 85v2m0 20v2m0 5v3m0 64v2m0 8v3m0 123v3m0 4v4m0 25v3M300 78v3m0 10v2m0 5v1m0 60v1m0 8v3m0 14v4m0 22v3m0 11v1m0 4v4m0 3v1m0 31v1m0 54v1m0 11v3m0 34v2m0 9v2m0 9v1m0 100v4m0 7v1m0 1v4M302 131v2m0 5v3m0 26v2m0 23v3m0 19v5m0 48v2m0 5v5m0 9v2m0 26v1m0 14v1m0 54v4m0 27v1m0 4v1m0 4v3m0 32v2m0 35v4M307 90v2m0 31v1m0 3v4m0 28v1m0 12v1m0 18v1m0 55v2m0 38v2m0 27v3m0 40v2m0 13v3m0 92v1m0 22v2m0 2v1m0 31v3M309 67v4m0 2v1m0 134v2m0 26v2m0 17v3m0 6v1m0 97v4m0 18v2m0 1v4m0 140v1M311 187v3m0 11v4m0 10v4m0 141v2m0 6v2m0 123v3M313 84v2m0 24v1m0 22v1m0 20v2m0 112v2m0 17v1m0 2v1m0 41v7m0 159v2M315 67v2m0 14v2m0 101v2m0 15v1m0 19v1m0 12v2m0 15v2m0 2v1m0 36v2m0 22v2m0 165v1m0 9v3m0 5v2m0 4v2M320 73v7m0 89v2m0 70v4m0 35v2m0 44v4m0 58v2m0 135v2m0 7v2M324 105v1m0 34v1m0 59v3m0 107v4m0 72v1m0 106v2m0 36v3M329 93v2m0 27v1m0 11v2m0 8v3m0 35v1m0 66v3m0 19v1m0 43v3m0 43v2m0 3v2m0 62v3m0 12v1m0 32v4m0 13v1m0 18v4M331 104v2m0 2v2m0 12v1m0 5v2m0 7v2m0 14v2m0 17v1m0 12v1m0 4v2m0 14v1m0 5v2m0 43v1m0 22v2m0 6v1m0 5v3m0 19v1m0 3v1m0 12v1m0 4v1m0 7v1m0 7v1m0 1v1m0 14v1m0 27v2m0 1v1m0 21v2m0 30v1m0 10v2m0 3v1m0 33v1m0 2v2M336 63v2m0 9v2m0 2v1m0 15v3m0 4v4m0 5v1m0 5v2m0 17v3m0 31v1m0 23v1m0 11v2m0 3v1m0 29v1m0 18v1m0 4v1m0 11v1m0 1v1m0 6v1m0 15v1m0 24v1m0 11v1m0 13v2m0 18v1m0 13v2m0 13v1m0 15v2m0 2v1m0 5v2m0 7v1m0 15v1m0 15v1M338 113v1m0 6v2m0 57v1m0 29v1m0 62v2m0 35v2m0 8v3m0 54v2m0 12v1m0 30v2m0 36v2m0 4v2m0 8v1m0 39v2M343 101v1m0 9v1m0 14v2m0 26v4m0 32v1m0 9v2m0 96v3m0 3v1m0 40v3m0 14v1m0 7v1m0 27v1m0 35v1m0 58v1M348 75v3m0 40v1m0 6v2m0 53v2m0 13v2m0 3v2m0 20v2m0 36v1m0 16v5m0 4v1m0 4v1m0 13v2m0 91v2m0 72v2m0 5v1m0 40v1M353 108v2m0 2v1m0 34v3m0 13v1m0 1v1m0 23v1m0 22v2m0 67v1m0 11v1m0 26v1m0 9v1m0 66v2m0 12v1m0 27v1m0 16v1m0 27v4m0 38v2M355 102v1m0 23v2m0 48v2m0 3v1m0 44v1m0 32v2m0 30v1m0 29v2m0 24v1m0 8v1m0 54v1m0 17v2m0 64v2m0 8v1M363 65v2m0 51v1m0 72v3m0 2v1m0 8v3m0 10v1m0 60v1m0 29v1m0 36v2m0 10v1m0 36v1m0 36v1m0 1v1m0 25v1m0 26v2m0 33v3M368 62v1m0 19v2m0 1v1m0 6v1m0 3v2m0 29v2m0 10v3m0 20v1m0 14v1m0 2v1m0 8v2m0 23v1m0 5v1m0 5v1m0 18v2m0 15v3m0 10v1m0 23v4m0 23v1m0 34v1m0 9v2m0 15v1m0 16v2m0 74v1m0 34v1M373 77v1m0 2v1m0 22v2m0 54v1m0 1v1m0 28v2m0 6v2m0 3v1m0 4v3m0 8v1m0 27v2m0 3v2m0 92v2m0 36v2m0 12v1m0 24v3m0 51v2m0 3v1m0 28v1m0 12v1M381 59v5m0 2v1m0 7v1m0 1v1m0 7v1m0 13v1m0 6v2m0 10v1m0 25v1m0 2v1m0 12v3m0 31v3m0 7v1m0 7v1m0 1v2m0 28v1m0 45v2m0 28v1m0 76v1M389 63v2m0 19v2m0 33v1m0 20v1m0 10v2m0 27v2m0 6v1m0 13v1m0 7v3m0 7v2m0 13v2m0 7v1m0 11v4m0 1v5m0 3v1m0 27v3m0 22v3m0 17v2m0 7v1m0 5v1m0 20v2m0 17v2m0 32v1m0 55v1m0 15v1m0 14v2M400 86v3m0 7v2m0 34v1m0 5v2m0 24v2m0 50v1m0 42v1m0 50v2m0 30v2m0 35v1m0 57v1m0 20v1m0 28v1m0 21v1m0 11v1"/>
<path stroke="#31003b" stroke-width="3" d="M304.5 138v3m0 95v1m0 11v2m0 13v4m0 9v1m0 6v1m0 15v1m0 5v1m0 44v1m0 18v2m0 31v3m0 23v2m0 29v3m0 9v1m0 53v2M317.5 78v1m0 14v1m0 3v1m0 4v1m0 2v2m0 11v2m0 10v10m0 21v2m0 1v2m0 25v1m0 19v2m0 20v1m0 22v4m0 1v2m0 24v2m0 33v1m0 31v2m0 17v4m0 5v5m0 3v2m0 1v3m0 70v3m0 7v1m0 14v3m0 8v1M326.5 62v2m0 7v1m0 35v2m0 17v1m0 21v5m0 15v1m0 95v2m0 7v2m0 33v2m0 2v1m0 12v1m0 40v2m0 10v4m0 11v2m0 12v3m0 62v1m0 4v1m0 2v1m0 1v1m0 6v1m0 17v1m0 6v5M333.5 88v2m0 8v3m0 35v1m0 13v1m0 103v2m0 8v2m0 14v1m0 3v1m0 1v2m0 1v1m0 18v1m0 3v1m0 37v3m0 14v1m0 12v2m0 48v2m0 21v1m0 19v2m0 22v2m0 6v1m0 7v2M340.5 89v2m0 54v1m0 51v1m0 14v3m0 34v1m0 12v3m0 26v1m0 162v1m0 24v1m0 7v2m0 2v2m0 3v2M345.5 64v2m0 26v2m0 11v3m0 4v3m0 6v2m0 47v2m0 12v1m0 39v3m0 39v2m0 16v3m0 19v2m0 36v1m0 8v1m0 23v1m0 24v3m0 8v2m0 5v1m0 5v2m0 40v2m0 29v1m0 29v1M350.5 74v4m0 9v1m0 8v2m0 25v1m0 2v1m0 64v3m0 4v1m0 75v1m0 5v1m0 76v1m0 15v6m0 20v1m0 15v2m0 14v1m0 53v3m0 17v1m0 8v3M357.5 61v2m0 12v2m0 11v1m0 36v1m0 1v1m0 8v1m0 15v1m0 9v1m0 11v2m0 15v1m0 22v2m0 2v2m0 46v2m0 5v1m0 23v3m0 3v1m0 72v1m0 34v1m0 9v1m0 15v1m0 30v1m0 3v1m0 32v2m0 19v2m0 5v1M360.5 83v2m0 10v2m0 4v1m0 1v1m0 9v3m0 47v1m0 8v1m0 2v1m0 6v1m0 17v1m0 1v1m0 44v1m0 7v2m0 6v2m0 10v1m0 8v5m0 13v2m0 1v2m0 20v1m0 19v2m0 32v1m0 11v1m0 5v2m0 11v3m0 17v2m0 24v2m0 7v1m0 6v1m0 10v1m0 28v2m0 5v3M365.5 82v1m0 10v1m0 19v1m0 38v1m0 24v1m0 18v1m0 29v1m0 51v3m0 37v1m0 2v2m0 37v1m0 17v2m0 17v2m0 19v1m0 8v1m0 32v1m0 14v1m0 17v1m0 27v1M370.5 85v1m0 19v1m0 57v1m0 10v2m0 10v2m0 14v1m0 4v1m0 3v2m0 13v2m0 8v1m0 23v2m0 6v2m0 16v1m0 3v1m0 8v1m0 11v2m0 37v2m0 4v3m0 18v2m0 8v1m0 18v1m0 32v1m0 13v2m0 54v2m0 10v1m0 6v1M375.5 65v2m0 15v1m0 21v1m0 26v2m0 2v3m0 5v1m0 38v2m0 11v1m0 6v3m0 43v2m0 1v1m0 9v3m0 2v1m0 17v3m0 5v4m0 18v1m0 33v1m0 5v1m0 57v4m0 60v3m0 14v2m0 10v1m0 14v3M378.5 76v1m0 16v2m0 12v2m0 20v1m0 9v1m0 3v1m0 21v2m0 27v2m0 82v2m0 15v2m0 13v2m0 9v1m0 20v1m0 91v2m0 6v1m0 9v1m0 31v2m0 25v3M383.5 101v1m0 54v1m0 24v3m0 23v2m0 32v1m0 83v2m0 15v1m0 26v1m0 36v1m0 23v5m0 15v2m0 73v5m0 5v1M386.5 75v2m0 143v1m0 34v2m0 3v1m0 45v1m0 18v1m0 78v1m0 28v2m0 29v2m0 39v2m0 12v1M391.5 78v2m0 16v3m0 77v2m0 34v1m0 18v1m0 177v2m0 18v3m0 20v2m0 4v1M394.5 84v3m0 25v2m0 18v1m0 56v3m0 15v3m0 21v3m0 8v1m0 19v2m0 51v1m0 32v4m0 54v1m0 42v2m0 60v1M397.5 64v2m0 9v2m0 11v2m0 2v1m0 34v1m0 69v2m0 7v1m0 50v1m0 16v2m0 30v1m0 10v1m0 76v1m0 54v1m0 58v3m0 11v1M402.5 71v1m0 9v2m0 8v1m0 23v1m0 32v1m0 1v2m0 11v1m0 10v2m0 1v1m0 7v1m0 29v2m0 2v1m0 25v2m0 30v4m0 11v1m0 74v1m0 11v3m0 16v1m0 18v1m0 6v1m0 36v3m0 64v1M405.5 59v1m0 38v1m0 31v2m0 41v1m0 38v1m0 28v1m0 28v1m0 1v1m0 23v1m0 41v2m0 15v1m0 13v1m0 5v1m0 37v3m0 9v1m0 5v1m0 24v1m0 19v2m0 4v1m0 6v3m0 8v2M408.5 62v2m0 10v1m0 11v5m0 40v2m0 5v1m0 2v2m0 4v1m0 91v2m0 45v1m0 13v1m0 3v1m0 1v1m0 46v1m0 4v2m0 11v1m0 22v1m0 6v2m0 6v4m0 4v2m0 3v3m0 6v1m0 6v1m0 21v1m0 31v2m0 10v1m0 3v3M411.5 127v1m0 24v3m0 8v1m0 12v1m0 7v2m0 15v2m0 17v1m0 60v2m0 12v2m0 4v3m0 114v1m0 53v1m0 43v1M414.5 103v1m0 48v1m0 22v2m0 3v1m0 2v1m0 3v1m0 4v1m0 7v5m0 3v3m0 62v1m0 25v2m0 21v1m0 16v3m0 29v2m0 11v1m0 4v1m0 4v1m0 17v3m0 2v5m0 5v1m0 8v2m0 15v1m0 20v2m0 39v2m0 13v1M417.5 87v1m0 6v2m0 17v2m0 18v2m0 8v1m0 27v1m0 11v1m0 50v1m0 12v1m0 6v3m0 48v3m0 3v1m0 51v1m0 5v3m0 23v2m0 7v1m0 27v2m0 15v2m0 28v2m0 7v3m0 13v2m0 23v1M420.5 68v1m0 61v1m0 4v1m0 8v1m0 35v1m0 29v2m0 50v1m0 4v1m0 28v1m0 65v1m0 65v2m0 44v2m0 18v2m0 6v2m0 1v2M423.5 89v1m0 1v1m0 26v1m0 151v1m0 69v2m0 57v1m0 110v1m0 18v1M426.5 95v2m0 39v1m0 18v1m0 6v2m0 2v1m0 26v1m0 10v1m0 29v2m0 1v1m0 1v1m0 11v2m0 3v1m0 8v2m0 13v2m0 10v1m0 51v3m0 8v3m0 8v1m0 9v1m0 15v1m0 28v2m0 28v1m0 42v1m0 1v1m0 14v1M429.5 75v1m0 6v1m0 8v1m0 60v1m0 35v1m0 69v3m0 121v1m0 6v1m0 41v2m0 1v1m0 5v1m0 81v2M432.5 61v1m0 25v1m0 4v1m0 103v2m0 15v2m0 28v1m0 7v2m0 29v1m0 6v2m0 13v1m0 103v2m0 5v1m0 1v2m0 1v1m0 39v2m0 59v2M435.5 74v1m0 16v2m0 2v2m0 28v2m0 13v1m0 29v1m0 41v2m0 14v1m0 112v3m0 8v1m0 19v3m0 1v1m0 38v1m0 7v1m0 10v1m0 39v1m0 18v3m0 9v2m0 13v1M438.5 63v3m0 6v1m0 6v3m0 18v3m0 61v2m0 14v1m0 15v1m0 41v1m0 99v2m0 48v2m0 1v2m0 125v2m0 1v2m0 5v2m0 2v2M441.5 66v1m0 17v1m0 20v2m0 10v2m0 86v2m0 74v1m0 84v2m0 33v1m0 14v1m0 36v2m0 19v2m0 8v3m0 37v3M444.5 92v1m0 7v2m0 7v1m0 17v2m0 27v1m0 17v3m0 19v5m0 8v1m0 1v1m0 26v1m0 3v2m0 1v2m0 3v1m0 12v1m0 1v2m0 40v3m0 48v2m0 30v2m0 9v1m0 23v2m0 3v2m0 58v2m0 38v3M447.5 77v1m0 13v2m0 5v2m0 29v2m0 9v2m0 34v1m0 2v1m0 1v2m0 7v1m0 10v1m0 34v1m0 9v1m0 3v1m0 3v1m0 4v3m0 39v1m0 56v1m0 1v2m0 18v2m0 66v2m0 2v2m0 50v1m0 5v1M450.5 82v1m0 31v3m0 9v2m0 3v1m0 27v3m0 12v2m0 3v2m0 77v2m0 4v1m0 13v2m0 29v1m0 60v1m0 10v1m0 16v4m0 8v1m0 36v1m0 16v1M453.5 85v4m0 4v3m0 11v1m0 18v1m0 8v1m0 3v2m0 31v3m0 13v1m0 56v2m0 43v1m0 9v1m0 46v1m0 24v2m0 46v3m0 51v1m0 12v2m0 10v2m0 28v1M456.5 73v2m0 3v1m0 41v2m0 35v1m0 17v1m0 15v1m0 18v1m0 2v2m0 45v4m0 25v1m0 4v2m0 40v3m0 18v1m0 45v3m0 15v1m0 11v1m0 14v2m0 58v1M463.5 65v1m0 77v1m0 7v3m0 2v2m0 33v1m0 8v1m0 61v2m0 9v2m0 19v1m0 41v2m0 7v2m0 5v1m0 56v3m0 19v1m0 45v3m0 2v2m0 23v1M466.5 111v2m0 34v1m0 123v1m0 39v1m0 35v3m0 10v1m0 27v2m0 58v1m0 31v1M469.5 62v1m0 21v1m0 27v2m0 11v1m0 39v1m0 2v1m0 21v2m0 1v2m0 8v1m0 29v1m0 14v1m0 32v2m0 49v1m0 4v1m0 45v3m0 19v1m0 14v2m0 8v1m0 61v1m0 29v1m0 3v3m0 1v1M476.5 84v2m0 189v1m0 2v3m0 86v1m0 6v2m0 2v2m0 11v3m0 22v3m0 11v1m0 19v1m0 3v1m0 1v3m0 29v1m0 10v1M479.5 63v2m0 60v1m0 53v2m0 22v1m0 5v3m0 12v1m0 28v1m0 43v1m0 41v1m0 15v1m0 18v2m0 1v1m0 24v1m0 9v1m0 3v2m0 19v1m0 8v1m0 6v1m0 20v1m0 3v1M486.5 81v3m0 77v1m0 41v2m0 27v2m0 4v1m0 53v1m0 61v1m0 8v2m0 40v3m0 63v1M489.5 62v1m0 9v2m0 1v1m0 32v2m0 16v1m0 14v1m0 2v1m0 7v3m0 12v2m0 3v2m0 2v1m0 20v2m0 53v1m0 5v1m0 12v1m0 8v3m0 3v5m0 5v2m0 12v1m0 48v3m0 9v1m0 26v1m0 7v1m0 48v1m0 5v1m0 49v3m0 7v2m0 4v1m0 3v1M496.5 85v3m0 18v3m0 4v2m0 25v1m0 16v1m0 8v2m0 25v1m0 16v1m0 13v1m0 3v3m0 17v2m0 25v1m0 3v2m0 3v3m0 31v1m0 26v2m0 6v1m0 10v1m0 32v1m0 10v1m0 1v1m0 3v2m0 2v1m0 1v2m0 11v2m0 12v2m0 15v1m0 3v1m0 36v1m0 7v1m0 9v1m0 7v2M503.5 61v3m0 1v1m0 6v1m0 7v2m0 3v1m0 1v2m0 6v2m0 11v1m0 11v1m0 2v1m0 12v2m0 5v2m0 1v1m0 6v2m0 2v3m0 3v2m0 3v3m0 2v1m0 3v6m0 21v1m0 1v1m0 13v2m0 13v1m0 11v1m0 3v5m0 2v2m0 5v3m0 1v3m0 2v1m0 5v2m0 4v2m0 50v1m0 6v2m0 8v1m0 12v1m0 14v1m0 14v1m0 23v2m0 7v2m0 11v1m0 2v1m0 5v4m0 1v1m0 5v1m0 2v1m0 14v1m0 18v5m0 6v3m0 4v1M510.5 127v1m0 61v1m0 1v2m0 24v1m0 28v1m0 149v3m0 33v1M521.5 66v3m0 24v2m0 9v3m0 47v1m0 8v1m0 63v3m0 6v1m0 19v2m0 6v1m0 158v1m0 12v1m0 11v2m0 6v2m0 10v2m0 24v2M532.5 74v2m0 30v3m0 36v1m0 26v2m0 9v2m0 7v2m0 21v2m0 16v1m0 4v1m0 88v1m0 2v1m0 37v1m0 15v1m0 4v1m0 14v1m0 23v3m0 19v3m0 15v2m0 14v1m0 15v1m0 8v4m0 4v1m0 1v1M547.5 63v1m0 6v1m0 10v1m0 33v1m0 28v2m0 21v2m0 63v1m0 27v1m0 20v1m0 2v2m0 85v2m0 47v1m0 45v1m0 64v1"/>
<path stroke="#31003b" stroke-width="4" d="M460 79v1m0 2v2m0 2v2m0 8v1m0 16v2m0 32v1m0 7v2m0 29v1m0 1v1m0 1v2m0 10v1m0 25v2m0 5v4m0 7v1m0 4v4m0 14v2m0 11v3m0 81v1m0 3v1m0 24v3m0 64v2m0 18v3m0 12v2m0 17v2m0 15v1M473 73v4m0 11v3m0 11v2m0 14v2m0 23v3m0 55v3m0 80v1m0 48v1m0 17v3m0 55v3m0 11v1m0 36v2m0 34v1m0 3v2M483 70v1m0 4v1m0 47v2m0 35v1m0 40v1m0 54v2m0 75v1m0 4v1m0 54v1M493 114v2m0 15v2m0 20v1m0 14v2m0 5v2m0 6v3m0 21v1m0 46v1m0 6v1m0 9v1m0 2v2m0 20v2m0 7v2m0 1v2m0 88v3m0 22v2m0 9v2m0 28v2m0 26v1M500 59v1m0 12v2m0 3v1m0 19v1m0 14v2m0 4v1m0 14v1m0 7v4m0 18v3m0 4v1m0 1v2m0 59v1m0 13v2m0 15v2m0 40v1m0 4v1m0 10v1m0 30v2m0 11v1m0 26v1m0 3v3m0 30v2m0 42v1m0 22v4m0 6v3m0 12v2M507 64v1m0 17v1m0 4v1m0 5v1m0 54v5m0 2v1m0 5v1m0 11v1m0 7v2m0 1v4m0 9v1m0 4v5m0 9v1m0 8v1m0 36v3m0 91v1m0 12v1m0 5v5m0 1v1m0 1v2m0 2v1m0 3v2m0 2v2m0 1v2m0 5v2m0 4v2m0 8v1m0 4v2m0 5v1m0 11v1m0 2v3m0 3v5m0 2v2m0 2v2m0 8v4m0 4v4m0 8v1m0 2v1m0 8v2m0 14v1m0 9v2M514 60v1m0 1v2m0 3v1m0 9v1m0 20v2m0 9v1m0 18v2m0 58v2m0 22v1m0 20v1m0 4v1m0 39v1m0 32v1m0 3v2m0 6v2m0 13v2m0 14v2m0 2v1m0 4v3m0 6v1m0 53v1m0 30v2m0 45v1m0 23v2m0 2v2M518 76v2m0 16v2m0 91v2m0 38v2m0 80v1m0 40v1m0 71v2m0 2v1m0 71v1m0 4v1m0 24v1M525 59v2m0 21v1m0 1v1m0 5v2m0 42v1m0 29v2m0 29v1m0 45v1m0 24v2m0 7v1m0 4v1m0 13v2m0 14v1m0 13v1m0 23v1m0 20v1m0 13v1m0 14v3m0 10v1m0 1v1m0 10v1m0 4v1m0 4v1m0 1v1m0 41v2m0 10v2m0 10v2m0 18v1M529 74v1m0 32v3m0 1v1m0 23v3m0 18v2m0 15v2m0 56v2m0 28v2m0 18v2m0 57v3m0 2v1m0 18v2m0 63v2m0 43v2m0 32v3M536 79v1m0 43v2m0 11v1m0 28v2m0 26v1m0 39v1m0 15v5m0 34v1m0 70v1m0 7v1m0 11v2m0 30v1m0 15v1m0 18v1m0 27v1m0 8v2m0 49v1M540 72v1m0 25v3m0 19v2m0 43v1m0 48v1m0 24v2m0 26v1m0 2v3m0 5v2m0 9v1m0 40v1m0 51v2m0 3v2m0 10v1m0 6v2m0 15v1m0 7v1m0 29v1m0 34v2m0 5v1m0 30v2M544 59v1m0 49v2m0 28v2m0 4v2m0 1v1m0 13v2m0 20v2m0 6v3m0 35v1m0 7v2m0 38v1m0 7v2m0 4v1m0 35v3m0 6v2m0 7v2m0 61v1m0 43v4m0 11v1m0 24v1m0 21v3m0 2v2M551 93v2m0 7v1m0 2v2m0 24v2m0 22v1m0 7v1m0 47v1m0 5v4m0 3v2m0 8v1m0 24v2m0 3v1m0 7v1m0 4v1m0 2v1m0 5v3m0 9v1m0 32v2m0 8v1m0 8v1m0 3v1m0 5v1m0 6v1m0 6v1m0 17v1m0 2v1m0 1v1m0 6v1m0 1v2m0 17v1m0 26v8m0 6v3m0 52v2M555 99v2m0 15v1m0 11v1m0 37v2m0 96v1m0 59v4m0 19v1m0 105v1m0 44v2m0 12v2m0 8v1m0 9v1M559 83v1m0 24v1m0 34v3m0 24v1m0 11v1m0 29v1m0 29v2m0 11v3m0 77v1m0 3v1m0 67v1m0 16v3m0 15v1m0 25v1m0 1v1m0 20v1m0 6v1m0 7v1m0 7v3m0 10v6M563 90v2m0 20v1m0 28v2m0 7v3m0 2v1m0 17v1m0 6v2m0 174v1m0 75v2m0 9v2m0 45v1M567 148v1m0 83v1m0 4v2m0 8v3m0 3v2m0 163v1M571 59v1m0 7v1m0 23v1m0 49v2m0 22v1m0 25v1m0 2v3m0 15v1m0 35v1m0 8v3m0 16v1m0 22v1m0 45v1m0 4v1m0 42v1m0 10v2m0 37v2M575 191v1m0 20v3m0 58v1m0 57v2m0 53v1m0 8v3m0 32v3m0 8v2m0 53v1M579 105v1m0 9v1m0 66v1m0 45v1m0 28v1m0 9v1m0 16v1m0 8v1m0 28v3m0 5v2m0 15v2m0 18v1m0 5v2m0 12v3m0 33v1m0 19v1m0 4v2m0 22v1m0 6v2m0 26v2M583 72v1m0 16v2m0 21v2m0 4v1m0 2v1m0 17v2m0 72v1m0 2v2m0 37v3m0 28v1m0 65v1m0 3v3m0 6v1m0 51v2m0 21v2m0 4v1m0 16v2m0 31v3m0 9v1M587 59v1m0 24v2m0 29v1m0 9v2m0 44v1m0 19v1m0 60v1m0 21v1m0 59v1m0 44v3m0 38v1m0 77v1m0 20v1m0 10v2M591 111v1m0 23v1m0 5v2m0 5v3m0 42v1m0 47v2m0 3v2m0 4v1m0 10v1m0 7v1m0 54v3m0 5v2m0 55v1m0 6v4m0 6v3m0 4v1m0 13v2m0 35v1m0 25v1m0 12v1M595 64v1m0 32v1m0 16v1m0 14v2m0 5v2m0 4v2m0 26v1m0 16v2m0 16v1m0 10v1m0 22v3m0 2v1m0 15v1m0 11v1m0 61v1m0 8v3m0 10v1m0 46v1m0 5v1m0 19v1m0 28v1m0 2v1m0 9v2m0 16v1m0 28v2m0 1v1m0 5v2m0 5v1M599 59v1m0 56v1m0 12v1m0 42v1m0 5v2m0 6v1m0 37v2m0 3v3m0 1v1m0 13v1m0 19v1m0 26v2m0 78v1m0 69v2m0 24v1m0 20v1M608 100v1m0 7v1m0 29v2m0 39v1m0 4v2m0 34v2m0 7v3m0 24v2m0 9v2m0 2v1m0 5v1m0 51v2m0 17v1m0 73v2m0 6v1m0 8v2m0 1v1m0 9v1m0 24v1m0 8v1m0 12v1M612 118v1m0 5v1m0 14v1m0 20v1m0 7v1m0 4v1m0 11v1m0 46v2m0 65v1m0 1v1m0 18v1m0 6v2m0 58v3m0 97v2m0 16v1m0 8v1M616 59v1m0 7v2m0 29v2m0 28v2m0 6v1m0 22v2m0 2v2m0 8v3m0 38v1m0 16v1m0 28v1m0 4v1m0 60v3m0 11v3m0 7v5m0 23v3m0 4v3m0 10v2m0 50v2m0 9v2m0 10v2m0 4v1m0 4v1m0 6v1m0 8v1M625 91v1m0 23v1m0 71v2m0 83v2M629 98v2m0 48v3m0 52v1m0 29v1m0 43v1m0 174v1m0 62v1m0 7v1M638 115v3m0 7v1m0 122v1m0 91v1m0 26v2m0 17v1m0 28v1M647 68v1m0 6v1m0 26v1m0 9v1m0 5v1m0 39v1m0 17v2m0 17v1m0 18v1m0 6v1m0 7v1m0 8v1m0 22v1m0 8v2m0 7v1m0 12v2m0 29v2m0 9v1m0 37v1m0 17v2m0 24v2m0 9v1m0 38v1m0 14v2m0 37v2m0 2v1M656 62v2m0 2v3m0 9v4m0 4v3m0 3v1m0 3v3m0 1v1m0 2v1m0 21v2m0 8v2m0 5v3m0 11v2m0 7v2m0 33v1m0 5v1m0 7v3m0 4v1m0 2v3m0 5v2m0 40v2m0 17v1m0 19v8m0 4v3m0 8v1m0 19v1m0 2v1m0 2v2m0 8v2m0 3v1m0 2v1m0 2v1m0 1v1m0 3v2m0 8v7m0 2v2m0 1v1m0 3v3m0 32v4m0 9v2m0 7v1m0 1v5m0 7v1m0 5v1m0 1v1m0 3v4m0 7v4m0 1v2m0 18v1M665 150v2m0 73v2m0 87v1m0 31v1m0 31v2m0 24v1m0 30v2m0 60v2M679 139v2m0 7v4m0 56v1m0 23v3m0 90v3m0 29v1m0 57v2m0 63v2M703 73v1m0 17v3m0 25v1m0 24v1m0 44v1m0 38v3m0 68v1m0 11v2m0 46v1m0 13v2m0 7v2m0 6v1m0 15v1m0 27v1m0 9v1m0 19v1m0 66v1"/>
<path stroke="#31003b" stroke-width="5" d="M603.5 78v2m0 8v1m0 3v2m0 24v1m0 19v2m0 6v1m0 4v1m0 15v2m0 49v2m0 7v4m0 21v2m0 11v2m0 10v1m0 27v3m0 23v4m0 4v2m0 23v2m0 21v1m0 24v1m0 26v2m0 19v1M620.5 209v1m0 10v2m0 54v2m0 27v1m0 22v1M633.5 180v1m0 72v1m0 23v1m0 31v3m0 21v1m0 129v2m0 15v1M642.5 96v1m0 46v1m0 7v3m0 4v1m0 12v1m0 25v1m0 32v2m0 11v2m0 11v1m0 3v1m0 2v1m0 35v1m0 16v1m0 46v2m0 15v1m0 18v2m0 22v3m0 9v1m0 87v1M651.5 65v1m0 3v3m0 20v5m0 2v1m0 10v3m0 1v2m0 3v2m0 6v3m0 7v1m0 6v1m0 9v1m0 15v1m0 6v2m0 15v1m0 12v2m0 25v2m0 4v1m0 5v3m0 1v1m0 1v2m0 1v6m0 2v5m0 41v3m0 6v1m0 13v1m0 4v3m0 48v3m0 6v1m0 3v1m0 2v2m0 5v1m0 1v1m0 3v1m0 20v2m0 2v1m0 1v1m0 3v2m0 4v1m0 4v1m0 1v1m0 8v1m0 2v1m0 9v11m0 2v2m0 2v5m0 7v1m0 3v3m0 6v1m0 8v2M660.5 73v1m0 10v1m0 9v4m0 35v3m0 9v1m0 3v3m0 15v2m0 4v1m0 70v4m0 15v2m0 10v3m0 11v1m0 3v1m0 70v2m0 111v1m0 31v1M669.5 69v1m0 6v2m0 33v1m0 50v1m0 12v1m0 84v1m0 32v1m0 13v2m0 13v1m0 22v4m0 11v1m0 17v1m0 16v2m0 97v1m0 10v1m0 9v1m0 11v2M674.5 63v1m0 40v1m0 7v1m0 35v3m0 12v3m0 21v1m0 2v2m0 9v1m0 10v3m0 51v2m0 8v1m0 29v1m0 14v1m0 113v1m0 26v1m0 29v2M683.5 60v2m0 5v3m0 2v2m0 7v1m0 9v1m0 16v2m0 3v3m0 6v1m0 18v3m0 10v7m0 4v1m0 2v1m0 1v1m0 20v1m0 22v4m0 2v1m0 13v2m0 1v1m0 72v2m0 6v1m0 8v3m0 7v1m0 2v1m0 4v5m0 15v1m0 8v3m0 8v1m0 1v1m0 3v5m0 1v2m0 4v1m0 1v1m0 3v2m0 3v2m0 1v1m0 1v2m0 11v1m0 2v1m0 1v2m0 3v1m0 15v1m0 5v1m0 15v1m0 10v1m0 14v3m0 2v1m0 8v1m0 6v2m0 5v1M688.5 101v2m0 2v1m0 93v1m0 45v3m0 11v1m0 61v1m0 7v1m0 9v3m0 15v5m0 41v2m0 16v1m0 82v1M693.5 67v1m0 14v1m0 19v3m0 33v1m0 116v2m0 15v1m0 55v1m0 48v1m0 18v1m0 93v1m0 23v1m0 4v1M698.5 73v2m0 4v1m0 46v2m0 17v2m0 41v2m0 20v2m0 34v3m0 1v3m0 55v1m0 2v2m0 7v2m0 3v3m0 3v2m0 11v1m0 8v1m0 9v3m0 30v1m0 2v1m0 58v1m0 4v2m0 2v2m0 25v1m0 16v2m0 8v1m0 8v2M707.5 71v1m0 43v1m0 9v2m0 20v1m0 64v1m0 12v1m0 51v1m0 48v2m0 36v1m0 4v1m0 15v2m0 1v1m0 7v1m0 7v1m0 54v2m0 35v2m0 35v1M712.5 66v1m0 14v1m0 28v1m0 24v1m0 1v4m0 8v1m0 6v2m0 4v2m0 110v1m0 39v1m0 32v3m0 21v1m0 22v1m0 36v1m0 8v2m0 51v1m0 5v1m0 12v2M717.5 78v1m0 44v2m0 29v3m0 1v2m0 20v2m0 10v1m0 10v1m0 47v1m0 26v2m0 117v1m0 13v1m0 42v1m0 40v1m0 28v3M722.5 59v1m0 41v1m0 22v3m0 2v3m0 1v1m0 8v1m0 10v3m0 43v3m0 23v3m0 12v1m0 3v1m0 2v2m0 1v4m0 9v1m0 40v1m0 69v3m0 20v1m0 40v2m0 5v1m0 16v2m0 68v1M727.5 60v2m0 30v1m0 23v1m0 11v3m0 21v1m0 12v1m0 9v1m0 5v1m0 21v1m0 8v1m0 1v1m0 4v1m0 1v3m0 27v1m0 3v2m0 39v1m0 28v1m0 3v2m0 2v1m0 7v1m0 6v3m0 21v3m0 7v1m0 10v1m0 12v1m0 89v1m0 4v2M732.5 65v2m0 25v2m0 73v2m0 28v1m0 34v1m0 4v2m0 33v2m0 51v3m0 37v1m0 27v1m0 4v1m0 14v1m0 27v4m0 53v2M743.5 72v1m0 4v2m0 64v1m0 32v1m0 10v1m0 14v1m0 25v3m0 3v1m0 18v3m0 76v2m0 23v1m0 34v2m0 10v1m0 63v2m0 2v2m0 25v1M748.5 64v1m0 14v1m0 40v1m0 81v1m0 8v1m0 23v3m0 73v1m0 44v3m0 15v3m0 7v1m0 51v2m0 1v1m0 47v1m0 21v1M753.5 127v1m0 21v2m0 65v1m0 48v1m0 47v1m0 14v1m0 129v1m0 15v1M758.5 342v2m0 8v1m0 42v3m0 122v2M769.5 60v1m0 8v2m0 62v3m0 14v1m0 23v1m0 26v1m0 13v1m0 29v1m0 3v3m0 44v2m0 12v2m0 7v1m0 35v1m0 39v1m0 53v1m0 21v3m0 23v2m0 3v1m0 3v1m0 2v1m0 23v2M774.5 59v2m0 4v3m0 8v1m0 5v1m0 14v1m0 9v1m0 4v1m0 36v5m0 28v1m0 3v1m0 3v1m0 7v4m0 2v3m0 6v2m0 1v2m0 1v1m0 8v2m0 8v4m0 6v2m0 29v2m0 2v3m0 2v3m0 1v1m0 2v3m0 12v1m0 10v3m0 4v1m0 1v3m0 8v2m0 1v3m0 2v5m0 1v1m0 1v5m0 2v3m0 4v1m0 2v2m0 5v3m0 1v3m0 4v1m0 12v1m0 23v1m0 6v1m0 17v2m0 1v1m0 4v1m0 2v3m0 5v2m0 5v1m0 28v2m0 12v5M785.5 81v1m0 17v2m0 52v1m0 64v1m0 139v1m0 3v2m0 116v1m0 5v2m0 4v2M796.5 333v2"/>
<path stroke="#31003b" stroke-width="6" d="M738 65v2m0 1v1m0 14v2m0 4v1m0 12v6m0 18v3m0 34v2m0 22v1m0 18v1m0 32v3m0 19v2m0 28v2m0 79v1m0 29v1m0 32v2m0 37v1m0 14v4M764 141v1m0 19v1m0 63v2m0 20v3m0 68v1m0 139v1m0 4v1M780 77v2m0 27v1m0 9v3m0 13v1m0 5v1m0 2v2m0 22v1m0 11v1m0 23v1m0 17v2m0 25v1m0 75v1m0 3v3m0 28v1m0 61v1m0 29v1m0 7v1M791 93v2m0 44v2m0 47v1m0 13v2m0 4v1m0 103v1m0 41v2m0 119v2m0 32v1"/>
<path stroke="#3a0052" stroke-width="1" d="M78.5 64v2m0 31v1m0 29v1m0 54v1m0 1v1m0 42v3m0 9v2m0 35v3m0 165v2m0 46v2m0 10v1m0 4v2M79.5 221v2m0 259v4m0 45v1M80.5 198v2m0 121v1m0 116v3m0 78v2m0 14v1M81.5 211v3m0 156v1M82.5 62v3m0 56v4m0 135v1m0 67v2m0 98v4M83.5 189v3m0 146v4m0 185v1M84.5 67v3m0 55v1m0 21v2m0 89v1m0 4v4m0 45v2m0 30v3m0 63v1m0 50v4m0 4v2m0 18v2M85.5 95v2m0 2v1m0 60v3m0 36v4m0 34v2m0 89v2m0 8v2m0 3v4m0 39v1m0 36v2m0 15v2M86.5 161v1m0 225v2M87.5 102v2m0 291v1m0 22v3m0 95v1m0 2v4M89.5 100v1m0 160v3M90.5 93v3m0 99v2m0 10v1m0 7v1m0 228v1m0 64v4M91.5 92v2m0 95v2m0 101v2m0 101v3m0 70v4m0 31v1M92.5 79v2m0 4v3m0 56v4m0 215v1m0 5v3m0 160v4M93.5 179v1m0 172v2m0 11v3m0 26v2m0 19v2M94.5 72v2m0 26v1m0 153v4m0 186v3m0 53v1m0 20v1M95.5 326v3m0 48v1M96.5 514v1M97.5 80v3m0 51v1m0 93v1m0 10v1m0 16v1m0 150v2M98.5 80v4m0 2v1m0 88v2m0 64v1m0 38v1m0 12v3m0 135v4M99.5 492v2M100.5 457v5M101.5 61v2m0 52v2m0 68v3m0 32v1m0 113v1m0 44v3M102.5 70v4m0 14v2m0 9v2m0 34v1m0 8v2m0 41v4m0 10v2m0 28v3m0 49v1m0 134v3m0 57v2m0 37v4M103.5 168v1m0 46v5m0 4v1m0 4v2m0 20v3M104.5 64v2m0 31v3m0 77v1m0 172v2m0 87v2m0 22v3m0 4v1m0 48v2M105.5 65v2m0 35v1m0 82v1m0 145v2m0 22v1M106.5 83v4m0 6v1m0 74v4m0 47v2M107.5 224v2m0 152v1m0 13v3M108.5 367v4M109.5 64v4m0 177v2m0 8v1m0 1v1m0 86v2m0 47v2m0 3v3m0 82v2m0 37v1M110.5 86v4m0 130v1m0 37v1m0 131v1m0 65v1M111.5 280v3m0 188v1M112.5 305v2m0 28v4M113.5 87v2m0 137v4m0 93v3m0 24v2m0 19v1M114.5 228v1m0 12v2M115.5 235v4m0 38v3m0 24v2m0 116v2m0 62v2m0 1v3M116.5 63v3m0 9v1m0 43v2m0 69v3m0 18v1m0 40v3m0 59v1m0 2v2m0 16v4m0 7v1m0 48v3m0 15v1m0 11v2M117.5 117v3m0 51v2m0 14v1m0 3v2m0 16v2m0 64v3m0 7v1m0 41v3m0 6v2m0 99v1m0 6v2m0 19v3m0 25v2m0 29v3m0 7v2M118.5 59v2m0 70v3m0 17v2m0 20v1m0 38v3m0 34v1m0 31v3m0 15v1m0 33v3m0 22v1m0 14v2m0 15v2m0 25v2m0 23v1m0 88v2M119.5 85v3m0 5v1m0 18v4m0 157v2m0 108v3m0 8v2m0 28v2m0 54v3M121.5 82v4m0 77v2m0 24v1m0 40v1m0 14v1m0 19v1m0 20v2m0 37v2m0 94v2m0 8v1m0 16v1m0 14v2m0 20v1M122.5 276v2M123.5 121v4m0 86v1m0 12v1m0 10v1m0 29v4m0 4v2m0 20v1m0 162v3m0 12v2M124.5 59v3m0 94v1m0 13v1m0 29v3m0 46v3m0 14v4m0 112v3m0 68v2m0 77v2M125.5 167v2m0 114v1M126.5 76v4m0 77v2m0 38v1m0 123v4m0 8v2m0 26v2m0 27v2m0 78v4m0 60v2M127.5 59v2m0 20v4m0 30v1m0 36v3m0 119v1m0 38v2m0 121v2M128.5 156v1m0 12v1m0 63v1m0 6v3m0 9v2m0 82v4m0 73v3m0 32v3M129.5 228v2m0 56v2M130.5 212v1m0 2v2m0 270v2m0 35v1M131.5 292v2m0 47v2M132.5 104v3m0 105v4m0 38v1m0 183v3M133.5 90v6m0 5v4m0 81v1m0 23v2m0 5v4m0 16v3m0 152v2M134.5 120v1m0 291v2m0 120v2M135.5 292v1m0 14v1m0 60v2m0 64v1M136.5 336v2M139.5 63v2m0 262v1m0 167v2m0 20v3M140.5 254v4m0 100v3m0 14v1m0 27v1m0 56v2m0 2v2M141.5 104v4m0 32v3m0 40v1m0 55v1m0 280v3M142.5 116v3m0 132v1m0 99v2m0 177v4M143.5 69v1m0 49v2m0 39v2m0 20v3m0 21v4m0 4v1m0 124v3m0 22v2m0 17v3m0 15v2m0 19v3m0 48v3m0 7v1m0 28v1M144.5 87v3m0 43v5m0 119v2m0 82v3m0 62v1m0 74v1m0 29v3M145.5 151v2m0 124v1m0 132v1M146.5 213v3m0 109v3M147.5 71v2m0 21v2m0 46v3m0 24v1m0 54v2m0 24v3m0 99v1m0 32v1m0 34v1m0 69v2m0 6v2m0 1v1M148.5 309v4m0 26v2m0 170v3M149.5 162v4m0 64v2m0 6v6m0 10v3m0 17v1m0 30v4m0 41v3m0 31v1m0 14v4m0 30v1m0 2v2m0 89v2M152.5 65v2m0 46v2m0 26v2m0 12v3m0 16v2m0 48v3m0 6v2m0 35v2m0 38v3m0 64v3m0 18v2m0 23v2m0 36v2M153.5 69v3m0 8v2m0 20v2m0 30v1m0 19v1m0 26v3m0 36v2m0 22v1m0 9v2m0 6v1m0 10v1m0 19v4m0 20v2m0 37v4m0 57v2m0 2v2m0 21v2m0 86v3M154.5 65v1m0 9v1m0 112v4m0 65v2m0 33v2M155.5 130v1m0 93v2m0 36v2m0 93v2m0 15v2m0 91v2m0 45v1M157.5 254v1M158.5 59v2m0 2v1m0 5v3m0 33v2m0 4v1m0 6v2m0 23v1m0 35v2m0 23v2m0 33v4m0 12v2m0 3v1m0 5v2m0 3v1m0 5v2m0 18v3m0 7v4m0 1v4m0 21v2m0 3v2m0 6v1m0 7v1m0 12v1m0 3v2m0 9v1m0 3v2m0 6v3m0 1v2m0 8v3m0 6v2m0 9v2m0 1v3m0 44v3m0 9v3m0 12v3m0 14v2M159.5 59v4m0 6v4m0 16v3m0 18v3m0 6v2m0 26v1m0 24v3m0 62v3m0 22v2m0 1v1m0 2v2m0 11v3m0 2v3m0 14v4m0 14v1m0 28v2m0 13v1m0 3v1m0 1v1m0 3v4m0 18v6m0 14v6m0 3v7m0 2v3m0 12v2m0 20v1m0 14v3m0 19v3m0 10v1M162.5 104v1m0 48v1m0 27v2m0 33v1m0 86v1m0 10v3m0 10v2m0 3v4m0 38v2m0 35v1m0 22v1m0 58v3m0 4v2M163.5 62v1m0 9v1m0 237v2m0 220v1M164.5 136v1m0 37v3m0 14v3m0 5v2m0 194v2m0 34v1M165.5 84v3m0 157v4m0 52v1m0 146v5M168.5 193v3m0 44v1m0 225v1M169.5 81v2m0 46v2m0 327v1M170.5 129v2m0 49v1m0 2v2m0 159v1m0 2v3m0 28v3m0 14v3m0 17v2m0 6v2m0 29v3m0 27v2M171.5 145v2m0 1v3m0 29v2m0 15v1m0 64v3m0 45v4M174.5 81v1m0 3v2m0 61v2m0 30v4m0 22v1m0 13v1m0 1v1m0 87v2m0 142v4m0 15v1m0 29v1M175.5 150v4m0 26v2m0 103v2m0 83v1m0 163v1M176.5 98v1m0 44v2m0 33v2m0 3v1m0 55v2m0 26v3m0 9v1m0 28v1m0 40v1m0 72v1m0 43v3m0 40v5M179.5 262v1m0 19v4m0 207v4M180.5 224v1m0 13v2m0 23v3m0 16v2m0 15v2m0 12v1m0 15v1m0 1v2m0 4v1m0 32v1m0 3v2m0 36v2m0 15v1m0 3v4m0 37v2M181.5 63v1m0 69v1m0 7v1m0 253v2m0 15v1m0 72v6M184.5 86v2m0 20v4m0 5v2m0 46v1m0 59v1m0 56v1m0 28v2m0 65v3m0 65v2m0 58v1M185.5 369v1m0 35v1M188.5 122v2m0 8v2m0 229v1m0 63v1M189.5 120v1m0 38v2m0 37v3m0 39v2m0 2v4m0 17v3m0 11v3m0 116v3m0 51v1m0 67v1m0 3v2M192.5 65v1m0 13v1m0 26v1m0 33v4m0 14v1m0 7v1m0 129v1m0 49v1m0 40v3m0 46v2m0 29v1m0 2v4m0 33v3M195.5 152v4m0 228v1m0 130v2M196.5 118v3m0 5v2m0 82v2m0 22v3m0 67v2m0 2v1m0 119v2m0 4v1m0 27v1m0 68v2M199.5 207v3m0 72v2m0 55v3m0 26v3M202.5 119v3m0 30v2m0 40v1m0 58v1m0 28v1m0 34v2m0 15v2m0 74v1m0 18v1m0 62v3M206.5 529v2M209.5 261v3m0 75v1m0 78v4m0 53v2m0 12v2m0 33v2M212.5 134v1m0 7v4m0 33v1m0 29v1m0 3v2m0 138v3m0 86v1m0 78v3M215.5 97v1m0 31v1m0 26v2m0 31v5m0 2v2m0 2v4m0 37v4m0 6v1m0 4v1m0 29v3m0 71v1m0 2v1m0 16v3m0 14v2M218.5 66v1m0 29v2m0 120v1m0 10v1m0 14v1m0 3v1m0 109v1m0 37v4m0 4v1m0 55v1m0 43v1M223.5 130v2m0 27v2m0 48v1m0 77v2m0 112v1m0 44v4m0 74v1M226.5 168v3m0 62v1m0 109v1m0 146v1m0 20v4m0 15v2M231.5 140v1m0 147v2m0 67v1m0 2v1m0 1v1m0 4v2m0 46v2m0 17v2M234.5 121v2m0 156v2m0 3v2m0 20v2m0 98v1m0 27v1m0 11v2m0 45v2m0 30v2M241.5 139v1m0 63v2m0 1v3m0 18v2m0 15v1m0 10v2m0 4v2m0 8v4m0 52v2m0 27v1m0 144v1m0 26v1m0 6v1M246.5 124v1m0 6v3m0 112v3m0 109v1m0 50v2m0 38v2m0 32v4m0 16v2m0 24v4M253.5 72v3m0 14v2m0 8v3m0 5v2m0 15v1m0 57v2m0 9v1m0 9v2m0 16v2m0 7v1m0 7v2m0 16v3m0 3v1m0 1v1m0 5v2m0 3v2m0 29v2m0 4v6m0 1v1m0 4v4m0 7v4m0 1v4m0 9v1m0 5v1m0 3v2m0 19v2m0 5v3m0 10v1m0 26v4m0 10v6m0 10v1m0 4v4m0 4v1m0 35v3M264.5 127v2m0 259v1m0 121v1M799.5 500v1"/>
<path stroke="#3a0052" stroke-width="2" d="M151 170v2m0 272v3M161 169v3m0 39v2m0 16v3m0 115v1m0 24v2m0 80v1m0 12v4m0 1v1M167 89v3m0 42v2m0 36v3m0 23v2m0 31v4m0 9v2m0 24v1m0 21v4m0 90v3m0 37v2M173 473v4M183 93v6m0 38v1m0 12v1m0 53v1m0 63v2m0 15v1m0 9v2m0 15v1m0 11v2m0 16v2m0 122v1m0 13v2m0 23v4M187 107v2m0 38v3m0 22v1m0 24v3m0 88v1M191 75v2m0 51v2m0 25v2M194 64v1m0 7v3m0 2v1m0 10v3m0 19v3m0 10v5m0 1v1m0 24v2m0 105v2m0 10v2m0 3v2m0 10v1m0 7v1m0 10v2m0 9v4m0 12v2m0 4v3m0 14v1m0 2v1m0 31v1m0 56v1m0 25v2m0 15v3m0 13v3M198 201v3m0 16v2m0 43v3m0 6v4m0 4v1m0 12v2m0 11v1m0 47v1m0 80v1m0 15v1m0 10v1m0 19v2m0 45v2M201 83v1m0 65v3m0 56v2m0 18v3m0 26v1m0 2v3m0 4v1m0 5v1m0 5v1m0 5v3m0 10v3m0 14v2m0 4v4m0 10v4m0 56v4m0 25v4m0 64v1M205 72v1m0 85v4m0 134v3m0 28v1m0 54v2m0 115v1m0 4v3M208 344v1m0 6v3M214 116v1m0 129v4m0 96v4M217 67v1m0 7v2m0 9v4m0 3v2m0 1v1m0 7v3m0 14v3m0 56v3m0 24v1m0 4v3m0 2v1m0 40v2m0 5v3m0 13v1m0 21v3m0 35v1m0 9v1m0 3v2m0 3v1m0 3v2m0 32v3m0 22v1m0 12v1m0 4v4m0 1v3m0 1v3m0 7v1m0 4v1m0 2v2m0 13v3m0 3v2m0 15v3M220 164v2m0 67v1m0 101v2m0 10v3M222 77v1m0 7v1m0 106v4m0 58v1m0 3v2m0 102v1m0 117v2M225 64v1m0 19v2m0 27v4m0 37v1m0 17v2m0 31v1m0 28v4m0 32v3m0 34v1m0 59v2m0 42v1m0 57v2m0 8v4M228 72v1m0 5v1m0 166v1m0 240v1M230 94v4m0 12v2m0 44v2m0 155v2m0 4v4m0 23v2m0 13v1m0 110v4m0 30v1M236 93v2m0 50v2m0 122v3m0 14v4m0 32v1M238 102v1m0 62v2m0 23v1m0 152v2m0 46v3m0 3v4m0 14v2m0 18v1M240 94v2m0 24v3m0 72v2m0 37v2m0 61v1m0 76v4m0 3v1m0 107v3m0 30v1M243 63v3m0 82v1m0 8v4m0 57v4m0 2v3m0 41v1m0 64v3m0 23v1m0 16v3m0 86v2M245 78v2m0 21v1m0 174v1m0 2v2m0 30v1m0 3v2m0 84v2m0 10v2m0 10v2M248 115v1m0 10v2m0 6v4m0 105v2m0 24v2m0 17v5m0 31v1m0 167v2m0 4v3m0 26v4M252 120v3m0 130v3m0 29v1m0 39v3m0 74v1m0 40v2m0 47v3m0 26v1M255 68v3m0 9v4m0 15v2m0 10v1m0 23v2m0 6v1m0 24v3m0 19v2m0 2v1m0 4v2m0 8v7m0 38v3m0 3v2m0 6v2m0 8v3m0 25v3m0 8v3m0 26v3m0 9v1m0 20v1m0 4v2m0 5v2m0 6v2m0 9v2m0 6v6m0 1v1m0 14v4m0 65v2m0 3v2m0 5v2m0 7v1m0 3v2M257 342v2M259 82v2m0 32v4m0 91v3m0 38v2m0 55v3m0 19v1m0 131v1m0 33v1M261 77v2m0 7v2m0 43v2m0 15v1m0 93v1m0 131v2m0 71v4m0 33v2M263 64v2m0 14v2m0 12v1m0 48v4m0 21v1m0 115v1m0 28v3m0 82v2m0 29v2m0 31v2m0 37v1m0 7v3M266 299v1M268 142v1m0 133v1m0 117v4m0 18v4m0 15v2M270 76v1m0 151v2M272 121v1m0 30v3M274 86v2m0 108v4m0 30v2m0 52v2m0 34v4m0 200v5M276 67v2m0 54v3m0 91v1m0 91v4m0 72v3m0 16v2m0 36v1m0 57v3m0 20v1m0 9v2M278 77v1m0 24v2m0 64v2m0 27v1m0 24v4m0 7v2m0 92v3m0 18v1m0 23v1m0 21v1m0 13v4m0 44v2m0 11v1m0 15v2m0 30v1M280 120v2m0 38v3m0 12v2m0 61v1m0 42v3m0 151v3M282 107v2m0 37v1m0 12v3m0 24v2m0 35v1m0 42v1m0 12v2m0 62v3m0 18v2m0 158v3M284 85v2m0 213v1m0 69v2M286 209v2m0 77v2m0 21v3m0 23v1m0 49v1m0 53v3m0 83v2M288 102v3m0 77v1m0 88v3m0 41v2m0 56v2m0 16v1m0 7v2m0 6v3M290 84v2m0 15v1m0 11v3m0 110v4m0 63v2m0 14v1m0 21v3m0 69v4m0 99v2m0 20v1M292 196v2m0 21v1m0 174v2M296 281v3m0 200v4M298 94v1m0 22v3m0 157v1m0 42v4m0 58v2M300 62v3m0 21v2m0 22v1m0 6v2m0 24v1m0 3v4m0 11v6m0 6v1m0 14v1m0 7v1m0 9v4m0 3v1m0 11v2m0 1v1m0 9v1m0 9v2m0 14v4m0 37v1m0 10v2m0 67v7m0 1v1m0 7v1m0 1v4m0 35v2m0 15v1m0 2v3m0 10v5m0 5v2m0 15v4m0 12v1m0 13v1M302 83v1m0 6v1m0 4v1m0 11v4m0 48v4m0 7v1m0 6v1m0 11v2m0 16v1m0 4v2m0 14v6m0 16v3m0 2v2m0 2v4m0 6v3m0 41v3m0 42v6m0 4v4m0 20v1m0 3v3m0 4v2m0 6v6m0 2v2m0 2v2m0 12v4m0 14v2m0 11v3m0 4v3m0 16v2m0 2v1m0 10v6m0 1v1M307 92v3m0 16v1m0 9v1m0 15v1m0 57v4m0 79v4m0 102v3m0 15v2M309 59v2m0 166v2m0 71v2m0 36v4m0 34v1m0 90v2M311 66v2m0 3v1m0 37v6m0 32v1m0 26v3m0 55v4m0 53v1m0 6v2m0 27v2m0 27v2m0 6v3m0 27v1m0 8v2m0 13v3m0 1v5m0 29v3m0 3v2m0 3v2m0 3v1m0 50v3m0 9v2M313 67v1m0 58v2m0 50v2m0 97v2m0 151v2m0 22v3m0 75v3M315 197v2m0 8v1m0 3v3m0 62v1m0 1v2m0 71v2m0 173v2M320 403v1M322 366v2M324 133v2M329 67v4m0 5v2m0 11v1m0 52v2m0 3v10m0 191v1m0 124v2m0 37v2M331 62v1m0 14v1m0 12v1m0 20v1m0 33v2m0 30v1m0 1v1m0 12v1m0 21v1m0 15v1m0 52v3m0 59v1m0 6v1m0 26v1m0 12v1m0 14v1m0 55v2m0 5v2m0 9v1m0 25v2m0 11v1m0 6v2M336 153v3m0 14v1m0 14v1m0 84v1m0 73v2m0 18v1m0 5v2m0 16v1m0 16v2m0 24v2m0 65v2m0 5v2m0 10v2m0 11v1M338 80v3m0 111v2M343 159v1m0 43v1m0 18v2m0 55v1m0 46v1m0 194v1M348 69v1m0 30v2m0 7v1m0 143v1m0 55v1M353 119v1m0 22v1m0 18v2m0 11v1m0 22v1m0 75v2m0 13v2m0 8v2m0 29v1m0 27v1m0 49v2m0 18v2m0 88v2M355 89v1m0 218v1m0 83v1m0 4v2m0 73v2M363 74v1m0 68v2m0 66v1m0 113v2m0 156v1M368 65v1m0 9v1m0 10v1m0 21v2m0 7v2m0 83v2m0 32v1m0 2v1m0 57v2m0 4v1m0 4v2m0 67v1m0 11v2m0 42v2m0 35v1m0 29v1M373 101v2m0 29v1m0 67v2m0 24v1m0 65v1m0 51v2m0 11v1m0 55v2m0 14v1m0 100v1M381 68v1m0 188v1m0 60v1m0 48v1M389 61v1m0 70v1m0 49v2m0 86v1m0 25v1m0 11v1m0 71v2m0 8v1m0 63v2m0 37v1m0 29v2M400 192v1m0 93v3m0 18v3m0 2v2m0 59v1m0 21v1m0 65v1m0 36v1"/>
<path stroke="#3a0052" stroke-width="3" d="M304.5 87v1m0 63v1m0 32v2m0 37v4m0 23v3m0 190v1M317.5 82v1m0 3v2m0 25v3m0 4v1m0 1v1m0 5v2m0 15v3m0 4v4m0 1v1m0 1v1m0 11v1m0 9v2m0 65v1m0 48v1m0 1v1m0 1v4m0 8v4m0 34v1m0 1v1m0 8v2m0 2v4m0 17v1m0 4v1m0 6v2m0 3v5m0 6v2m0 23v2m0 27v3m0 16v2m0 11v1m0 11v1m0 15v1M326.5 64v4m0 24v2m0 31v1m0 54v2m0 17v1m0 122v3m0 70v2m0 57v4m0 7v1m0 4v2m0 2v2M333.5 63v1m0 11v3m0 33v1m0 7v2m0 20v1m0 7v1m0 33v1m0 122v1m0 55v1m0 25v3m0 35v2m0 49v2m0 52v1M340.5 79v1m0 159v1m0 95v1m0 116v1m0 63v2M345.5 80v1m0 28v3m0 18v1m0 160v2m0 62v2m0 5v1m0 43v2m0 7v1m0 49v1m0 62v1M350.5 112v2m0 5v2m0 100v2m0 3v1m0 24v2m0 28v1m0 25v1m0 85v2m0 34v2m0 57v1M357.5 129v1m0 58v3m0 66v3m0 9v1m0 22v2m0 26v1m0 54v1m0 21v2m0 79v3m0 9v2M360.5 68v1m0 21v2m0 63v1m0 20v1m0 4v1m0 70v1m0 18v2m0 91v1m0 4v1m0 33v2m0 1v1m0 1v2m0 50v1m0 14v1M365.5 90v2m0 12v2m0 15v1m0 17v1m0 46v2m0 58v2m0 45v3m0 16v3m0 124v1m0 11v2m0 61v1M370.5 98v1m0 7v1m0 43v1m0 136v1m0 56v2m0 59v1m0 17v1m0 79v1m0 8v3m0 18v1M375.5 72v2m0 16v1m0 11v1m0 24v3m0 3v2m0 14v2m0 39v2m0 123v3m0 64v2m0 83v1m0 36v1m0 29v1M378.5 71v1m0 19v1m0 7v1m0 52v1m0 10v1m0 3v1m0 2v1m0 12v2m0 5v1m0 60v3m0 55v1m0 16v1m0 17v2m0 54v1m0 21v1m0 56v2M383.5 64v2m0 8v2m0 8v2m0 28v2m0 31v3m0 19v1m0 8v1m0 8v3m0 64v1m0 46v3m0 11v3m0 57v1m0 14v1m0 140v1M386.5 163v1m0 302v2m0 39v1M391.5 62v1m0 95v1M394.5 144v2m0 8v2m0 5v2m0 34v2m0 49v2m0 5v1m0 63v1m0 36v1m0 25v2m0 104v2M397.5 132v1m0 3v1m0 22v3m0 160v4M402.5 107v1m0 17v1m0 157v2m0 98v4m0 19v1m0 80v2m0 24v3M405.5 176v1m0 41v1m0 72v1m0 10v2m0 42v1m0 16v1m0 66v1m0 26v1m0 56v2M408.5 72v2m0 17v2m0 57v2m0 5v3m0 18v2m0 2v1m0 48v1m0 28v1m0 20v1m0 7v1m0 29v3m0 27v2m0 12v2m0 11v1m0 11v1m0 36v2m0 40v1M411.5 190v1m0 94v1m0 125v1m0 50v1M414.5 77v1m0 71v3m0 20v1m0 25v2m0 12v1m0 6v1m0 25v1m0 18v1m0 5v2m0 3v1m0 36v1m0 24v1m0 40v2m0 24v2m0 54v1m0 41v3m0 6v1m0 21v3M417.5 62v1m0 7v2m0 38v1m0 174v1m0 76v1m0 65v1m0 87v5M420.5 109v3m0 100v1m0 80v1m0 57v1m0 13v1m0 10v2m0 8v3m0 3v1m0 34v1m0 48v3m0 50v1M423.5 90v1m0 59v1m0 150v3m0 129v1m0 28v1m0 11v1m0 5v1m0 2v2M426.5 173v1m0 114v1m0 2v1m0 10v3m0 47v3m0 3v1m0 6v1m0 11v1m0 10v1m0 44v2m0 5v1m0 15v1m0 25v3m0 31v1m0 5v1M429.5 98v2m0 184v2m0 7v1m0 1v3m0 5v2m0 63v1m0 89v1m0 2v2m0 16v1M432.5 128v3m0 109v3m0 5v3m0 55v3m0 38v2m0 17v1m0 126v1M435.5 82v1m0 80v1m0 65v3m0 106v2M438.5 131v2m0 150v1m0 15v1m0 6v2m0 104v3m0 21v1M441.5 214v1m0 31v1m0 6v1m0 48v2m0 21v1m0 27v1m0 14v1M444.5 119v2m0 27v1m0 16v1m0 12v2m0 14v1m0 11v1m0 21v1m0 48v1m0 8v1m0 97v1m0 8v2m0 33v1m0 46v1m0 48v2m0 9v1M447.5 79v2m0 27v1m0 25v2m0 7v1m0 16v1m0 8v1m0 36v1m0 1v1m0 32v2m0 44v1m0 3v3m0 103v3m0 14v1m0 4v2m0 5v1m0 23v2m0 23v2m0 15v2m0 17v1m0 14v1m0 2v2M450.5 95v1m0 28v2m0 7v3m0 4v1m0 41v1m0 33v1m0 9v1m0 15v1m0 55v1m0 37v1m0 11v2m0 15v1m0 11v2m0 15v1m0 8v1m0 7v2m0 22v1m0 24v4m0 62v2M453.5 68v2m0 72v1m0 24v1m0 36v3m0 30v2m0 57v2m0 70v1m0 46v1m0 50v2m0 3v1m0 18v1m0 28v1m0 1v1M456.5 65v1m0 14v1m0 33v1m0 3v1m0 7v1m0 44v3m0 65v2m0 51v2m0 5v3m0 42v2m0 25v1m0 89v1m0 17v1M463.5 62v1m0 60v1m0 18v1m0 6v2m0 46v1m0 31v3m0 2v1m0 52v2m0 12v1m0 87v2m0 8v2m0 19v3m0 1v1m0 11v1M466.5 277v3m0 55v2m0 137v1m0 37v1M469.5 59v3m0 76v1m0 14v2m0 46v2m0 35v1m0 47v1m0 6v3m0 64v2m0 111v1m0 1v3m0 1v1m0 6v1m0 29v1M476.5 83v1m0 141v2m0 5v2m0 55v3m0 39v2m0 5v1m0 7v2m0 7v2m0 8v1m0 21v1m0 60v1M479.5 137v2m0 1v2m0 53v1m0 8v1m0 33v3m0 33v1m0 13v2m0 8v1m0 19v1m0 16v1m0 13v2m0 19v4m0 47v1m0 48v3m0 13v3m0 44v2M486.5 74v2m0 188v2m0 4v2m0 5v2m0 14v2m0 7v3m0 186v1M489.5 66v1m0 27v1m0 53v3m0 36v1m0 8v1m0 13v3m0 21v1m0 64v1m0 2v2m0 27v1m0 16v3m0 19v1m0 32v3m0 7v1m0 32v2m0 8v2m0 17v1m0 38v1m0 1v1m0 16v2M496.5 66v1m0 7v1m0 17v2m0 3v2m0 42v2m0 18v1m0 8v1m0 1v1m0 3v1m0 25v2m0 60v1m0 30v2m0 2v1m0 47v3m0 74v1m0 56v3m0 35v1M503.5 59v2m0 6v1m0 1v3m0 4v3m0 24v1m0 2v2m0 1v3m0 2v1m0 7v1m0 5v5m0 6v2m0 4v1m0 6v1m0 2v2m0 3v3m0 8v2m0 11v2m0 7v3m0 7v1m0 1v1m0 10v1m0 5v7m0 4v2m0 3v5m0 5v1m0 7v2m0 17v4m0 3v3m0 3v2m0 47v1m0 21v2m0 10v1m0 17v1m0 5v3m0 1v1m0 3v4m0 19v1m0 1v1m0 7v1m0 13v2m0 5v1m0 1v1m0 3v1m0 1v2m0 9v4m0 1v1m0 5v6m0 13v1m0 1v3m0 4v2m0 1v1m0 6v8M510.5 161v1m0 136v1m0 112v1m0 117v2m0 1v3M521.5 88v1m0 38v2m0 84v1m0 10v2m0 149v2M532.5 112v3m0 29v1m0 6v2m0 97v2m0 49v1m0 42v1m0 5v1m0 171v1M547.5 71v1m0 199v4m0 7v2m0 16v3m0 24v2m0 131v1m0 10v1m0 8v1"/>
<path stroke="#3a0052" stroke-width="4" d="M460 66v2m0 21v1m0 3v1m0 3v1m0 3v2m0 12v1m0 34v2m0 6v1m0 11v2m0 27v2m0 58v2m0 24v2m0 62v1m0 15v1m0 9v2m0 5v2m0 8v1m0 8v2m0 51v2m0 43v1M473 62v1m0 28v1m0 43v2m0 3v1m0 10v1m0 27v2m0 63v2m0 44v3m0 112v1m0 12v2m0 65v1M483 59v2m0 15v3m0 14v2m0 157v1m0 26v1m0 60v1m0 19v1m0 27v1m0 7v1m0 35v1m0 17v1m0 3v1m0 5v1m0 1v1m0 12v1m0 48v1M493 63v1m0 64v1m0 9v4m0 28v3m0 5v1m0 14v1m0 70v2m0 1v2m0 12v1m0 7v2m0 60v1m0 20v1m0 34v1m0 20v1M500 95v1m0 42v2m0 10v1m0 73v3m0 4v2m0 63v3m0 4v3m0 35v1m0 9v2m0 25v3m0 19v1m0 56v2m0 33v2M507 62v2m0 9v2m0 35v2m0 9v2m0 8v1m0 4v2m0 5v1m0 20v4m0 4v1m0 1v2m0 25v1m0 39v1m0 5v1m0 4v1m0 7v2m0 3v1m0 2v1m0 12v3m0 50v1m0 5v1m0 10v2m0 4v1m0 2v1m0 3v4m0 4v3m0 11v1m0 6v2m0 2v1m0 2v1m0 6v2m0 1v1m0 2v2m0 4v2m0 1v4m0 10v1m0 16v1m0 5v2m0 9v2m0 2v1m0 5v3m0 7v5m0 5v2m0 2v3m0 4v1m0 1v2m0 13v5M514 169v1m0 96v1m0 100v1m0 98v2m0 2v1M518 124v1m0 11v2m0 150v1m0 190v1m0 39v1M525 78v2m0 62v2m0 29v2m0 9v1m0 4v1m0 1v2m0 17v2m0 38v1m0 4v1m0 17v1m0 2v1m0 13v1m0 42v1m0 43v6m0 44v2m0 58v1m0 41v1M529 59v1m0 16v1m0 5v2m0 48v3m0 6v2m0 38v1m0 6v1m0 30v2m0 78v1m0 69v2m0 3v1m0 17v2m0 77v1m0 33v1m0 26v2M536 167v1m0 20v1m0 85v2m0 97v1m0 7v1m0 38v2m0 40v1m0 8v1m0 35v1m0 9v2M540 65v1m0 70v1m0 47v1m0 33v1m0 42v1m0 22v1m0 56v3m0 80v3m0 42v1m0 48v1M544 80v1m0 24v2m0 7v1m0 13v4m0 81v1m0 1v1m0 5v1m0 2v1m0 63v1m0 1v2m0 86v1m0 83v3m0 40v2M551 76v1m0 2v1m0 2v3m0 10v2m0 59v2m0 1v2m0 5v1m0 18v1m0 5v2m0 5v2m0 9v2m0 4v1m0 6v2m0 3v5m0 1v1m0 10v1m0 6v1m0 14v3m0 1v2m0 1v2m0 3v2m0 14v1m0 1v1m0 8v2m0 23v1m0 2v5m0 2v1m0 2v4m0 8v1m0 10v1m0 1v6m0 17v1m0 1v2m0 1v1m0 1v6m0 4v7m0 14v2m0 29v4m0 5v3m0 5v1m0 8v2m0 3v3m0 3v1m0 9v3m0 1v2m0 2v1m0 10v3m0 1v5M555 73v2m0 39v2m0 22v1m0 92v1m0 36v1m0 15v5m0 1v2m0 48v2m0 1v2m0 44v1m0 57v2m0 12v1m0 29v1m0 23v3M559 134v1m0 86v2m0 9v2m0 11v2m0 17v2m0 1v4m0 34v1m0 12v1m0 63v1m0 2v2m0 5v3m0 21v1m0 49v2m0 16v2m0 6v1M563 110v2m0 47v1m0 15v1m0 32v2m0 73v3m0 69v1m0 37v1m0 71v2M567 73v1m0 3v1m0 16v1m0 24v2m0 40v2m0 13v1m0 36v3m0 3v1m0 23v3m0 38v1m0 69v1m0 112v3M571 64v1m0 54v1m0 31v5m0 10v1m0 10v1m0 43v2m0 15v2m0 9v1m0 33v1m0 104v1m0 66v2m0 4v2m0 36v1M575 118v1m0 38v2m0 16v1m0 180v2M579 128v1m0 33v2m0 17v1m0 104v3m0 50v1m0 41v1m0 30v1m0 111v1M583 64v3m0 108v1m0 31v1m0 18v1m0 45v2m0 55v1m0 51v3m0 3v1m0 6v2m0 4v3m0 20v2m0 22v2m0 50v1m0 33v2M587 345v4m0 75v1m0 85v2M591 59v2m0 1v2m0 32v1m0 37v1m0 57v1m0 44v1m0 230v1m0 46v2M595 73v1m0 28v1m0 59v1m0 12v2m0 60v2m0 26v3m0 105v1m0 15v1m0 3v1m0 65v1m0 2v1m0 7v1M599 147v1m0 62v1m0 4v1m0 49v1m0 9v1m0 51v1m0 40v1m0 128v2M608 101v1m0 147v1m0 11v1m0 29v2m0 78v1m0 161v1M612 82v1m0 5v1m0 93v1m0 87v2m0 64v2m0 45v2m0 53v1m0 9v1m0 4v3m0 4v1M616 141v1m0 7v2m0 107v1m0 5v1m0 36v1m0 33v2m0 32v1m0 23v2m0 13v2m0 7v3m0 39v2m0 16v2M625 338v1m0 178v3M629 70v1m0 170v2m0 3v2m0 5v3m0 1v1m0 5v1m0 3v3m0 20v1m0 30v1m0 3v1m0 2v1m0 138v1M638 203v2m0 46v2m0 63v2m0 30v1M647 104v1m0 4v2m0 55v3m0 10v1m0 2v1m0 6v2m0 2v1m0 36v2m0 1v1m0 10v1m0 17v2m0 14v1m0 1v1m0 49v1m0 23v1m0 89v3m0 17v1M656 59v1m0 17v1m0 15v1m0 5v1m0 4v1m0 6v9m0 2v3m0 12v5m0 3v3m0 7v1m0 3v5m0 14v2m0 9v6m0 2v3m0 2v1m0 36v2m0 1v3m0 5v1m0 41v1m0 16v2m0 11v3m0 3v3m0 1v4m0 4v6m0 4v1m0 6v2m0 6v2m0 4v1m0 2v2m0 10v3m0 5v1m0 1v3m0 7v2m0 4v2m0 4v3m0 15v1m0 6v1m0 5v1m0 5v2m0 1v2m0 7v1m0 17v1m0 2v4m0 10v4m0 1v2m0 4v1m0 6v1m0 7v6M665 138v1m0 126v1m0 42v2m0 111v1m0 85v3m0 25v1M679 63v1m0 16v1m0 130v1m0 224v1M703 109v3m0 52v1m0 202v1m0 52v1"/>
<path stroke="#3a0052" stroke-width="5" d="M603.5 134v1m0 20v1m0 54v1m0 56v1m0 6v2m0 44v2m0 4v1m0 2v2m0 35v1m0 26v2m0 47v1m0 5v2m0 28v2M620.5 321v3m0 126v2M633.5 181v1m0 10v3m0 147v1m0 166v3M642.5 129v1m0 2v2m0 3v2m0 25v1m0 15v1m0 1v1m0 18v1m0 9v1m0 6v2m0 3v2m0 9v1m0 14v1m0 22v2m0 12v1m0 99v1m0 53v1m0 37v2m0 23v2m0 12v2m0 15v1M651.5 66v3m0 4v2m0 3v9m0 3v2m0 10v1m0 19v3m0 7v1m0 2v1m0 7v1m0 15v1m0 1v4m0 6v4m0 4v3m0 11v1m0 2v5m0 3v2m0 5v1m0 1v7m0 2v4m0 1v1m0 4v1m0 8v5m0 3v1m0 1v1m0 2v1m0 6v2m0 6v2m0 3v2m0 6v2m0 28v4m0 9v3m0 1v3m0 1v4m0 8v1m0 25v1m0 13v3m0 3v3m0 1v2m0 2v2m0 1v2m0 2v5m0 1v1m0 3v1m0 3v7m0 8v3m0 2v1m0 2v1m0 1v2m0 6v1m0 1v4m0 7v3m0 2v1m0 2v5m0 1v3m0 11v2m0 9v3m0 1v3m0 1v3m0 3v4m0 3v1m0 3v3M660.5 70v3m0 1v3m0 32v1m0 13v3m0 15v2m0 3v1m0 5v2m0 7v1m0 37v1m0 8v1m0 1v3m0 6v1m0 138v1m0 29v2m0 60v1m0 33v3m0 29v1M669.5 90v2m0 29v3m0 28v1m0 2v1m0 33v2m0 43v3m0 26v1m0 5v2m0 11v1m0 42v1m0 26v2m0 26v1m0 81v2m0 19v1m0 5v2m0 23v1m0 14v1m0 5v1M674.5 71v2m0 63v2m0 204v2m0 129v1m0 12v1m0 39v1M683.5 66v1m0 10v4m0 6v3m0 2v1m0 1v2m0 2v1m0 5v1m0 14v3m0 3v2m0 4v5m0 2v3m0 3v2m0 1v1m0 2v2m0 19v1m0 9v2m0 19v5m0 11v1m0 7v1m0 1v1m0 2v2m0 11v1m0 5v2m0 3v1m0 18v1m0 37v1m0 3v1m0 7v3m0 4v6m0 4v2m0 9v2m0 1v7m0 5v3m0 3v1m0 10v1m0 1v1m0 12v2m0 3v1m0 1v2m0 10v1m0 2v2m0 21v3m0 10v1m0 1v1m0 8v2m0 2v8m0 4v1m0 2v3m0 7v1m0 3v1m0 14v1m0 12v1m0 5v1M688.5 74v3m0 27v1m0 75v1m0 155v2M693.5 271v1m0 34v2m0 111v1M698.5 75v2m0 45v1m0 12v1m0 56v2m0 1v1m0 23v1m0 1v2m0 4v3m0 26v1m0 10v1m0 120v2m0 10v2m0 10v1m0 27v1m0 16v1m0 42v1m0 15v1M707.5 107v1m0 71v2m0 150v2m0 23v2m0 145v2m0 21v1M712.5 74v2m0 25v3m0 159v1m0 44v1m0 61v1m0 82v3M717.5 118v2m0 22v2m0 8v2m0 15v2m0 63v2m0 32v1m0 53v1m0 83v2m0 77v1m0 44v2M722.5 61v1m0 208v1m0 48v1m0 20v2m0 41v1m0 21v1m0 27v1m0 16v2M727.5 109v3m0 29v2m0 72v2m0 10v1m0 37v1m0 38v2m0 8v1m0 28v2m0 59v1m0 4v3m0 3v1m0 12v1m0 35v1m0 16v2m0 34v1M732.5 143v1m0 54v1m0 11v1m0 6v1m0 39v1m0 108v1m0 13v1m0 132v1M743.5 91v1m0 16v1m0 97v1m0 36v3m0 42v2m0 4v1m0 19v1m0 21v1m0 124v2m0 7v1m0 23v3m0 8v2m0 15v2m0 11v1M748.5 89v3m0 71v1m0 22v1m0 13v2m0 8v1m0 42v1m0 8v3m0 65v2m0 12v1m0 48v1m0 44v1m0 23v1m0 1v2m0 5v3M753.5 180v1m0 215v2m0 30v1M758.5 121v1m0 34v1m0 77v1m0 10v2m0 246v1M769.5 106v1m0 9v1m0 110v2m0 51v1m0 91v1m0 87v1m0 62v2M774.5 63v1m0 23v2m0 17v1m0 1v3m0 22v1m0 3v1m0 6v1m0 2v2m0 44v3m0 13v4m0 7v1m0 5v2m0 3v3m0 10v3m0 3v1m0 5v1m0 1v1m0 22v2m0 3v1m0 7v1m0 34v1m0 7v4m0 6v1m0 8v1m0 13v1m0 1v2m0 2v2m0 1v2m0 9v2m0 1v1m0 3v2m0 2v3m0 16v3m0 10v1m0 5v3m0 4v2m0 1v2m0 9v1m0 9v3m0 2v2m0 4v2m0 5v4m0 3v2m0 2v3m0 13v4m0 9v1m0 1v1M785.5 87v2m0 13v3m0 31v1m0 44v1m0 44v1m0 8v1m0 65v1m0 24v2m0 3v1m0 134v3m0 30v2m0 3v2M796.5 148v1m0 47v3m0 71v3m0 66v2m0 106v1m0 17v2"/>
<path stroke="#3a0052" stroke-width="6" d="M738 130v2m0 27v1m0 33v1m0 42v1m0 13v1m0 4v1m0 2v1m0 51v1m0 52v1m0 2v1m0 17v2M764 165v1m0 16v1m0 3v2M780 247v4m0 3v1m0 24v3m0 11v1m0 48v1m0 27v1m0 62v1m0 1v1m0 53v2M791 61v2m0 24v1m0 251v2m0 194v1"/>
<path stroke="#43006d" stroke-width="1" d="M78.5 89v2m0 47v3m0 21v1m0 118v1m0 38v2m0 173v2M79.5 433v3m0 66v1M80.5 469v1M83.5 171v2M84.5 248v4m0 7v1m0 35v1m0 31v2m0 34v1m0 92v2m0 6v1m0 49v1M85.5 236v1m0 68v2m0 87v1m0 30v3M86.5 467v2M87.5 228v2m0 46v1M89.5 360v2M90.5 238v4M91.5 439v1M92.5 184v1m0 286v2m0 44v4M93.5 123v2m0 4v4m0 47v1m0 14v1m0 59v1m0 78v1m0 170v2M94.5 270v2m0 69v1m0 115v4M97.5 214v2m0 209v3m0 104v3M98.5 88v3M99.5 72v1m0 363v3M100.5 324v4M101.5 254v1m0 83v2M102.5 118v1m0 6v3m0 26v1m0 70v3m0 13v1m0 35v2m0 24v1m0 44v1m0 38v2m0 24v2m0 23v2m0 14v2m0 21v1m0 18v5M103.5 156v1m0 103v1m0 56v2m0 91v1M104.5 277v2m0 44v3m0 46v3m0 62v2M105.5 68v2m0 64v2m0 60v1m0 77v1m0 150v2M106.5 181v1m0 46v2m0 188v1M107.5 79v2m0 354v1M108.5 78v1m0 246v1M109.5 271v3M110.5 99v3m0 10v1m0 61v4m0 353v3M112.5 332v3m0 155v1M113.5 109v1m0 65v2m0 97v2m0 44v1M115.5 421v1M116.5 110v5m0 8v1m0 7v3m0 4v1m0 134v3m0 9v3m0 42v1m0 12v2m0 35v1m0 89v3m0 2v2M117.5 160v1m0 12v4m0 53v1m0 134v3m0 13v1m0 56v1m0 45v2M118.5 89v1m0 39v2m0 13v3m0 15v2m0 3v1m0 107v1m0 2v1m0 76v3m0 6v1m0 21v4m0 11v4m0 22v3M120.5 294v2M121.5 204v1m0 3v4m0 82v3m0 22v2M122.5 182v3m0 181v1m0 29v1M123.5 362v1m0 81v2M124.5 286v2m0 81v1m0 7v1m0 47v2m0 34v3m0 10v3M125.5 149v3m0 165v3m0 56v1m0 43v1M126.5 108v2m0 21v1m0 76v1m0 64v2m0 62v4m0 23v2m0 5v1m0 74v4M127.5 122v1m0 253v1m0 3v1m0 11v1M128.5 314v4m0 26v2m0 24v2m0 12v1m0 4v2m0 79v3M129.5 388v1m0 9v1m0 1v1M130.5 307v1m0 89v1M131.5 407v1M132.5 354v3m0 137v2M133.5 123v2m0 74v3m0 75v1m0 34v3m0 16v1m0 24v2m0 50v1M134.5 89v3m0 2v1M135.5 355v2M137.5 66v2M139.5 73v1m0 76v3m0 4v1m0 24v4m0 43v2m0 82v1m0 52v7M140.5 95v2M141.5 313v3m0 15v3m0 15v4m0 53v1M142.5 71v1M143.5 175v1m0 55v2m0 95v1M144.5 454v4m0 38v1M145.5 187v1m0 105v1m0 37v1m0 35v1M147.5 81v3m0 82v3m0 2v3m0 100v3m0 4v4m0 130v4m0 28v2M148.5 73v1m0 286v4m0 7v1M149.5 67v2m0 182v1M152.5 67v2m0 95v1m0 7v1m0 88v2m0 77v4m0 14v4m0 10v4m0 70v2m0 48v2m0 23v3M153.5 82v2m0 8v1m0 3v1m0 2v1m0 49v1m0 25v3m0 32v1m0 11v4m0 4v1m0 25v3m0 1v2m0 64v1m0 2v3m0 2v4m0 125v6M154.5 90v1M155.5 77v2m0 59v3m0 3v2m0 21v1m0 14v1m0 99v2m0 42v2m0 57v3m0 50v1m0 30v4m0 52v2M158.5 65v3m0 15v3m0 2v1m0 21v1m0 5v1m0 6v1m0 11v1m0 22v1m0 13v1m0 5v1m0 3v1m0 5v4m0 16v2m0 20v9m0 12v4m0 7v2m0 8v1m0 2v2m0 7v3m0 13v4m0 18v2m0 6v2m0 13v5m0 6v2m0 10v3m0 12v3m0 1v3m0 6v2m0 20v2m0 8v1m0 2v1m0 6v8m0 3v2m0 34v2m0 41v8M159.5 63v3m0 15v3m0 1v4m0 17v2m0 5v5m0 23v2m0 7v2m0 2v2m0 3v2m0 25v3m0 51v4m0 1v6m0 8v3m0 4v2m0 10v2m0 4v1m0 14v3m0 34v2m0 28v1m0 24v6m0 12v2m0 3v3m0 38v2m0 11v4m0 12v3m0 4v5m0 3v1M162.5 166v1m0 12v1m0 51v1m0 56v1M163.5 192v1m0 79v1M164.5 137v2M165.5 307v2m0 6v2m0 197v3M169.5 127v2M170.5 68v1m0 1v3m0 118v3m0 273v1M171.5 108v1m0 183v2m0 137v2M174.5 76v2m0 37v3m0 59v3m0 114v2m0 33v6m0 185v2M175.5 171v1m0 60v1m0 66v3m0 194v2M176.5 398v1m0 49v1m0 26v3M179.5 220v1m0 82v1m0 5v3m0 33v1m0 6v2m0 6v2m0 23v2m0 1v4m0 46v3M180.5 158v1m0 26v4m0 59v4m0 6v2m0 44v5m0 5v2m0 11v2m0 24v1m0 24v6m0 11v5m0 14v1m0 8v1m0 7v2m0 4v2M181.5 125v1m0 13v2m0 75v1m0 60v2m0 22v2m0 40v2m0 10v3m0 139v1M184.5 83v1m0 5v2m0 1v3m0 17v3m0 78v1m0 22v3m0 7v2m0 5v3m0 1v1m0 19v3m0 18v4m0 24v2m0 48v1m0 13v1m0 16v2m0 43v1m0 15v1m0 3v2M188.5 60v2m0 37v1m0 218v1M189.5 79v3m0 24v2m0 28v2m0 3v1m0 10v2m0 8v1m0 8v2m0 47v2m0 11v1m0 1v1m0 6v2m0 25v1m0 40v1m0 22v2m0 3v1m0 23v3m0 56v11m0 6v2m0 37v4m0 42v1m0 3v2m0 2v3M192.5 201v2m0 37v3m0 30v3m0 141v3m0 22v2M195.5 450v2M196.5 85v1m0 18v2m0 15v2m0 15v3m0 13v3m0 41v4m0 4v2m0 150v2m0 40v2m0 16v4M199.5 114v2m0 138v2m0 160v2m0 29v1m0 87v1M202.5 249v4m0 173v3m0 55v2M203.5 180v3M206.5 461v4m0 39v1M212.5 253v3m0 60v4m0 142v1m0 24v1m0 36v3M215.5 62v1m0 67v1m0 103v2m0 21v5m0 78v3m0 18v1m0 70v2m0 41v2M218.5 103v3m0 4v2m0 84v2m0 21v2m0 94v1m0 45v1m0 112v2m0 7v1M223.5 87v3m0 250v1m0 16v1m0 2v1m0 119v1m0 46v1M226.5 88v2m0 183v3m0 31v2m0 49v1m0 3v1M231.5 119v2M234.5 348v1m0 11v2m0 19v3m0 46v4m0 47v1M241.5 112v2m0 192v2m0 14v4m0 65v1m0 88v1m0 31v2m0 7v4M246.5 81v2m0 67v2m0 128v1m0 43v2m0 28v1M253.5 71v1m0 3v3m0 13v2m0 9v2m0 1v2m0 10v2m0 6v1m0 12v5m0 5v1m0 7v2m0 22v1m0 5v2m0 6v1m0 29v6m0 3v4m0 9v10m0 3v2m0 4v5m0 7v3m0 9v6m0 7v4m0 12v1m0 27v3m0 20v4m0 3v2m0 4v2m0 2v1m0 7v1m0 5v4m0 31v3m0 4v3m0 17v4m0 22v1m0 13v1m0 14v1m0 2v2M799.5 237v1"/>
<path stroke="#43006d" stroke-width="2" d="M151 326v4M161 112v3m0 104v1m0 23v1m0 38v1m0 39v1m0 60v3m0 22v2M167 82v1m0 253v3m0 22v2m0 18v4m0 33v3m0 51v4m0 36v2m0 8v3m0 6v5M173 70v2m0 135v2m0 8v2m0 22v10m0 9v4m0 14v1m0 30v1m0 11v1m0 8v3m0 6v1m0 7v2m0 25v4m0 79v1M178 226v2m0 9v3m0 12v4m0 2v3m0 13v3m0 6v1m0 7v2m0 21v3m0 9v1m0 25v1m0 9v2m0 6v3m0 5v3m0 3v4m0 3v1m0 37v2M183 80v1m0 46v1m0 163v2m0 1v1m0 204v3M187 508v1M191 82v1m0 49v2m0 18v3m0 18v1m0 3v4m0 28v3m0 15v4m0 34v1m0 10v3m0 3v2m0 55v2m0 1v4m0 28v4m0 49v2m0 11v3m0 10v2m0 33v3m0 8v2m0 26v1m0 1v1m0 4v1M194 62v2m0 11v2m0 1v1m0 22v5m0 14v2m0 21v1m0 23v5m0 8v10m0 18v4m0 21v2m0 1v3m0 7v5m0 5v1m0 9v2m0 3v2m0 8v4m0 23v1m0 22v1m0 21v4m0 32v1m0 6v4m0 9v3m0 25v3m0 12v1m0 29v3m0 16v1m0 22v1m0 3v7M198 72v1m0 140v2m0 25v4m0 124v2m0 101v1M201 86v4m0 104v2m0 54v2m0 2v3m0 6v2m0 4v1m0 4v5m0 2v4m0 16v3m0 6v2m0 45v1m0 22v1m0 7v2m0 26v2m0 4v2m0 28v1m0 22v2M205 87v2m0 18v2m0 162v3m0 54v4m0 55v3M208 188v4M211 533v3M214 135v2m0 103v4m0 30v1m0 63v2m0 21v2m0 168v2M217 68v1m0 3v3m0 2v3m0 3v3m0 4v3m0 7v2m0 12v3m0 2v1m0 6v3m0 21v3m0 3v1m0 5v1m0 22v2m0 3v4m0 16v1m0 11v2m0 14v2m0 17v1m0 38v2m0 9v5m0 32v2m0 17v1m0 11v2m0 19v1m0 4v2m0 6v2m0 7v1m0 47v2m0 6v7m0 18v1m0 5v1m0 15v2M220 361v2M222 359v1M225 72v1m0 6v2m0 47v3m0 17v2m0 54v1m0 57v1m0 30v2m0 2v3m0 5v1m0 2v4m0 11v1m0 21v3m0 3v2m0 4v1m0 3v1m0 59v3m0 8v1m0 2v2m0 4v2m0 6v1m0 15v4m0 30v1m0 15v1M228 358v1m0 2v1M230 59v3m0 39v2m0 3v1m0 14v2m0 26v2m0 16v3m0 42v1m0 9v1m0 12v1m0 58v1m0 62v1m0 20v3M236 138v2m0 353v1m0 18v2m0 3v1M238 59v1m0 150v1m0 70v2m0 45v3m0 24v1m0 3v1m0 86v4m0 32v3M240 131v1m0 32v4m0 49v2m0 60v1m0 87v1m0 14v2m0 7v2m0 101v1m0 24v1M243 147v1m0 129v2m0 43v1m0 32v1m0 31v2M245 104v2m0 25v2m0 133v4m0 5v1m0 13v2m0 56v1m0 70v1m0 95v5M248 157v2m0 114v3m0 4v3m0 38v3m0 12v2m0 19v1m0 35v3m0 13v1m0 17v2M250 419v1M252 114v1m0 72v1m0 152v3m0 23v1M255 71v3m0 12v3m0 18v4m0 9v1m0 5v1m0 1v5m0 11v1m0 11v4m0 11v2m0 6v1m0 7v3m0 5v1m0 11v2m0 7v2m0 28v5m0 6v3m0 2v6m0 6v3m0 20v1m0 14v4m0 4v1m0 2v3m0 8v5m0 54v1m0 1v4m0 2v7m0 16v1m0 5v3m0 2v2m0 56v7m0 8v1m0 2v3m0 2v5M259 72v3m0 182v4m0 9v1m0 89v2m0 80v4M261 90v3m0 20v4m0 22v4m0 29v2m0 157v4m0 16v1m0 3v1m0 74v2M263 82v1m0 16v2m0 4v1m0 84v1m0 58v2m0 92v4m0 65v2m0 46v2M266 250v4m0 97v1m0 2v1m0 17v1M268 143v1m0 206v1m0 174v3M270 247v2m0 52v2m0 46v1m0 3v1M272 258v4m0 92v1m0 39v3M274 195v1m0 66v2m0 22v2M276 89v4m0 19v1m0 270v2m0 51v1M278 92v2m0 7v1m0 62v3m0 90v1M280 78v3m0 59v2m0 134v1m0 39v1m0 27v1m0 161v4M282 74v3m0 55v1m0 344v3m0 47v1M286 79v1m0 30v3m0 25v3m0 44v3m0 256v4m0 83v2M288 84v1m0 34v1m0 6v1m0 216v2m0 68v3M290 211v4m0 112v2m0 5v1m0 195v4M292 187v2m0 26v1m0 272v1M296 136v3m0 204v1m0 180v3M298 204v2M300 75v3m0 3v5m0 7v1m0 58v1m0 1v5m0 12v3m0 1v4m0 26v2m0 10v1m0 4v3m0 3v1m0 5v3m0 1v1m0 1v3m0 1v3m0 33v3m0 19v3m0 2v2m0 19v2m0 21v2m0 10v1m0 13v1m0 1v5m0 9v1m0 2v1m0 4v1m0 1v1m0 4v1m0 12v11m0 10v1m0 11v2m0 5v2m0 6v3m0 9v5m0 4v3m0 2v1m0 20v3m0 11v2M302 66v1m0 10v6m0 1v3m0 9v2m0 7v1m0 5v6m0 1v4m0 76v1m0 5v3m0 12v3m0 1v5m0 9v2m0 2v2m0 2v2m0 6v2m0 2v2m0 4v4m0 5v2m0 23v2m0 9v2m0 9v2m0 1v1m0 5v3m0 48v4m0 10v3m0 5v2m0 6v2m0 14v2m0 5v3m0 6v2m0 3v1m0 17v4m0 23v1m0 11v2m0 10v1m0 1v4m0 6v4M307 473v1M309 124v1m0 77v2m0 36v3m0 61v1m0 4v1m0 217v2M311 73v4m0 2v2m0 21v7m0 15v2m0 8v6m0 40v4m0 53v3m0 26v2m0 6v2m0 12v1m0 30v2m0 3v1m0 2v1m0 13v2m0 6v5m0 22v1m0 12v3m0 3v4m0 9v4m0 7v1m0 21v3m0 27v4m0 5v3m0 2v3m0 3v2m0 3v1m0 4v1m0 14v2m0 8v1m0 3v2M313 92v4m0 205v1M315 122v2m0 20v2m0 34v3m0 37v2m0 103v2m0 13v2M320 108v2m0 198v3m0 45v3M322 340v1m0 3v1M324 236v3M329 105v3m0 355v2m0 21v2M331 103v1m0 15v1m0 3v1m0 38v2m0 30v1m0 106v2m0 14v1m0 6v1m0 84v2m0 75v1M336 62v1m0 42v2m0 135v1m0 182v2m0 44v1m0 49v3M338 95v1m0 230v3M343 158v1m0 125v1m0 115v2m0 120v2M348 145v1m0 269v2M353 164v1m0 163v1m0 85v1m0 25v2m0 89v1M355 72v3m0 169v1M363 122v1m0 92v1m0 51v1m0 9v1M368 112v1m0 13v1m0 6v1m0 144v1m0 44v3m0 92v1m0 32v2m0 5v1m0 12v1m0 8v1M373 386v3m0 128v2M381 233v2m0 34v1m0 23v1m0 3v1m0 1v1m0 160v1M389 75v3m0 12v2m0 6v2m0 2v1m0 8v2m0 5v1m0 1v1m0 3v1m0 16v2m0 2v3m0 45v1m0 90v1m0 45v1m0 142v2m0 5v2m0 17v1m0 1v2m0 13v2m0 8v1M400 107v2m0 34v1m0 1v1m0 29v1m0 17v1m0 71v2m0 8v3m0 6v2m0 31v2m0 1v2m0 86v1m0 77v1m0 23v2m0 4v2"/>
<path stroke="#43006d" stroke-width="3" d="M304.5 79v4m0 39v3m0 10v2m0 31v3m0 22v3m0 58v2m0 40v2m0 34v3m0 9v1m0 4v1m0 75v1m0 69v1M317.5 83v3m0 3v4m0 6v3m0 1v2m0 4v2m0 10v1m0 1v5m0 20v4m0 4v1m0 9v5m0 1v4m0 27v3m0 2v1m0 30v5m0 7v3m0 6v1m0 8v1m0 7v2m0 15v3m0 1v1m0 11v2m0 52v2m0 4v3m0 15v2m0 8v1m0 2v3m0 8v3m0 3v3m0 37v2m0 2v4m0 6v1m0 11v2m0 37v1M326.5 111v4m0 6v1m0 55v3m0 6v4m0 16v1m0 50v2m0 106v1m0 38v2m0 125v3M333.5 92v1m0 39v1m0 10v1m0 154v2m0 14v1m0 48v1m0 93v3m0 35v1M340.5 395v1M345.5 84v2m0 81v1m0 33v2m0 93v1m0 13v1m0 110v2m0 15v1M350.5 140v2m0 1v1m0 14v2m0 34v1m0 107v1m0 28v1m0 139v1M357.5 113v1m0 87v1m0 170v1m0 5v1M360.5 62v1m0 128v2m0 12v1m0 128v2M365.5 125v1m0 9v1m0 278v2m0 76v1m0 25v1m0 10v2M370.5 125v1m0 44v3m0 10v2m0 16v1m0 39v5m0 36v1m0 115v2m0 42v1M375.5 95v2m0 23v1m0 3v1m0 80v2m0 212v2m0 41v2m0 32v1M378.5 87v1m0 16v1m0 17v1m0 3v1m0 3v1m0 187v1m0 100v1m0 36v2m0 13v3M383.5 272v1m0 23v2m0 35v1m0 163v2m0 9v3M386.5 121v1m0 3v1M391.5 251v1m0 81v1M394.5 119v1m0 301v2M397.5 319v2m0 8v2m0 20v1m0 8v1M402.5 154v2m0 46v1m0 10v1m0 50v1m0 34v2m0 7v1m0 3v5m0 141v1m0 24v2M405.5 169v1m0 27v2m0 22v1m0 83v1m0 76v1m0 14v2m0 10v3m0 22v2m0 18v2m0 36v1M408.5 126v3m0 67v2m0 129v3m0 123v1M411.5 230v2m0 46v3m0 28v3M414.5 110v1m0 63v1m0 18v1m0 11v1m0 12v1m0 123v1m0 27v1m0 24v1m0 10v1m0 8v1m0 43v1m0 19v2m0 7v1m0 33v1M417.5 138v1m0 93v1m0 65v1m0 53v2M420.5 63v3m0 76v1m0 93v2m0 198v3m0 57v1m0 18v2M423.5 62v1m0 245v1m0 214v1M426.5 133v1m0 47v1m0 18v2m0 10v1m0 33v2m0 16v1m0 17v3m0 5v1M429.5 134v1m0 1v1m0 173v5m0 24v1m0 99v1M432.5 230v1m0 62v1m0 15v3m0 116v1M435.5 77v1m0 137v2m0 162v1M438.5 95v1m0 207v3m0 2v1m0 154v2m0 41v2M441.5 314v1m0 161v1M444.5 95v2m0 62v2m0 65v2m0 72v2m0 198v1m0 9v2M447.5 76v1m0 26v1m0 96v1m0 93v1m0 90v1m0 35v1m0 92v2M450.5 100v2m0 184v2m0 22v1m0 94v3m0 75v3M453.5 71v1m0 27v1m0 50v1m0 91v3m0 29v1m0 163v1m0 63v1M456.5 286v2m0 21v1m0 78v2m0 1v1M463.5 104v1m0 3v1m0 90v1m0 95v1m0 8v3m0 56v2m0 1v1m0 126v2M466.5 422v1m0 31v1m0 23v2M469.5 64v1m0 3v1m0 16v2m0 55v1m0 23v2m0 89v2m0 38v2m0 35v2m0 26v3m0 87v2m0 41v3m0 33v1M476.5 142v2m0 31v3m0 75v1m0 13v2m0 157v2m0 6v2m0 73v1M479.5 152v2m0 4v1m0 8v1m0 64v1m0 36v1m0 88v2m0 35v1m0 1v2m0 29v1m0 34v3m0 13v2M486.5 159v1m0 140v1m0 4v3m0 2v2m0 2v3m0 84v1m0 35v1M489.5 59v3m0 8v1m0 15v1m0 2v2m0 34v1m0 33v1m0 140v2m0 3v2m0 40v1m0 44v1m0 55v1M496.5 127v2m0 59v2m0 36v1m0 74v2m0 159v2M503.5 64v1m0 1v1m0 12v1m0 35v3m0 6v4m0 19v5m0 13v2m0 7v1m0 22v4m0 6v2m0 20v1m0 2v1m0 27v3m0 5v1m0 3v2m0 5v1m0 32v1m0 21v2m0 6v3m0 12v1m0 3v2m0 44v2m0 3v1m0 3v2m0 3v1m0 30v1m0 7v3m0 6v3m0 27v2m0 21v1m0 1v1M510.5 100v2m0 47v1m0 106v1m0 61v1m0 150v1M521.5 385v1m0 61v1M532.5 146v1m0 32v1m0 37v2m0 10v1m0 51v2m0 4v1m0 239v1m0 1v2M547.5 100v2m0 29v2m0 39v1m0 248v3"/>
<path stroke="#43006d" stroke-width="4" d="M460 73v2m0 2v1m0 47v1m0 18v1m0 135v1m0 7v1m0 3v2m0 83v1m0 2v2m0 56v1m0 93v1M473 279v1m0 74v1m0 14v2m0 154v2M483 100v1m0 11v3m0 5v1m0 216v1m0 47v2m0 42v1m0 73v3m0 12v1M493 81v2m0 43v1m0 82v1m0 13v2m0 20v3m0 38v3m0 3v1m0 92v1m0 2v1m0 7v2m0 15v1m0 80v2m0 20v3m0 12v1M500 96v1m0 55v1m0 67v2m0 152v2m0 79v1M507 59v3m0 3v2m0 2v1m0 22v1m0 16v1m0 10v1m0 2v1m0 9v2m0 3v2m0 22v2m0 4v1m0 2v1m0 18v2m0 6v3m0 6v1m0 14v3m0 8v1m0 8v3m0 8v1m0 2v2m0 18v5m0 4v5m0 11v1m0 36v1m0 14v1m0 14v1m0 1v2m0 10v1m0 2v1m0 2v3m0 10v4m0 4v1m0 5v4m0 10v4m0 1v2m0 27v2m0 8v1m0 13v3m0 7v1m0 1v1m0 2v2m0 5v2m0 8v3M514 85v2m0 54v1m0 6v2m0 52v1m0 199v2M518 80v1m0 214v1m0 3v2m0 3v2M525 72v1m0 7v2m0 47v3m0 73v1m0 33v1m0 7v2m0 92v1m0 8v2m0 71v1m0 88v1M529 64v3m0 81v2m0 3v2m0 10v1m0 74v2m0 22v3m0 12v1m0 46v2m0 19v2m0 6v1m0 27v3m0 21v3m0 15v1m0 26v2m0 27v1m0 12v1m0 24v2M536 131v2m0 49v1m0 17v3m0 93v2m0 132v1M540 83v1m0 209v1m0 106v1m0 10v1m0 56v1M544 69v2m0 28v1m0 49v1m0 111v1m0 32v2m0 8v1m0 28v1m0 14v1m0 50v3m0 22v1M551 78v1m0 6v2m0 13v2m0 18v2m0 21v1m0 5v4m0 8v2m0 19v3m0 10v3m0 14v3m0 11v1m0 27v2m0 7v1m0 11v2m0 5v3m0 4v1m0 3v1m0 1v1m0 3v3m0 24v2m0 10v1m0 3v1m0 4v1m0 27v4m0 3v5m0 28v1m0 3v2m0 54v1m0 8v1m0 13v1m0 1v2m0 14v5m0 8v1M555 144v1m0 373v1M559 131v3m0 8v1m0 18v2m0 115v1m0 13v1m0 220v1M563 287v2m0 216v1M567 115v1m0 18v1m0 1v1m0 88v3m0 41v1m0 255v2M571 125v1m0 168v1m0 224v2M575 93v1m0 79v1m0 35v1m0 251v1M579 107v1m0 122v1m0 43v1m0 14v1m0 8v1m0 133v1m0 28v1m0 70v2M583 276v1m0 15v3m0 64v1m0 36v2m0 61v3m0 30v1m0 22v1m0 2v2M587 270v1m0 26v2M591 64v1m0 65v2m0 52v1m0 76v2m0 27v1m0 51v2m0 67v1m0 100v1m0 7v3M595 91v1m0 32v2m0 2v1m0 116v2m0 37v2m0 1v2m0 50v1m0 91v2m0 27v1M599 63v2m0 5v2m0 25v3m0 66v2m0 17v1m0 97v2m0 5v2m0 75v1m0 19v2m0 3v2M608 134v2m0 38v3m0 58v1m0 62v2m0 75v1m0 70v2m0 80v2M612 89v2m0 169v2m0 32v3m0 63v1m0 90v1m0 29v2m0 3v1M616 90v1m0 34v1m0 12v1m0 78v3m0 63v4m0 69v2m0 14v1m0 38v2m0 34v1M625 225v1m0 97v3m0 93v1m0 63v2m0 23v2M629 97v1m0 154v1m0 5v5m0 8v1m0 47v2m0 1v1m0 6v1M638 152v1m0 53v1M647 140v1m0 33v1m0 94v1m0 3v5m0 53v2m0 75v1m0 101v1M656 110v1m0 69v1m0 6v1m0 64v1m0 114v1m0 53v2M665 177v1m0 7v1m0 104v1m0 66v2m0 81v1m0 91v1M679 172v1m0 6v1M703 89v1m0 81v1m0 6v2m0 84v1m0 1v2m0 84v2m0 53v1m0 8v1m0 44v2"/>
<path stroke="#43006d" stroke-width="5" d="M603.5 94v2m0 23v3m0 51v3m0 56v3m0 37v2m0 18v1m0 58v1m0 78v1m0 51v2m0 15v1m0 18v1M620.5 369v1m0 162v1M633.5 221v1M642.5 65v2m0 41v1m0 81v1m0 4v1m0 8v1m0 54v1m0 266v2M651.5 106v1m0 53v1m0 21v1m0 7v1m0 80v3m0 3v5m0 37v1m0 33v3m0 13v1m0 153v2M660.5 118v2m0 59v1m0 6v1m0 2v1m0 116v1m0 47v1m0 13v1m0 17v2m0 71v1m0 21v2M669.5 119v2m0 91v1m0 2v1m0 22v1m0 1v2m0 33v3m0 16v1m0 44v1m0 37v1m0 5v1m0 9v1m0 93v2m0 2v1M674.5 181v1m0 87v3m0 116v1M683.5 148v1m0 294v1M688.5 272v1m0 253v1M693.5 169v1m0 94v3m0 8v2M698.5 68v1m0 2v1m0 36v3m0 12v3m0 21v2m0 16v1m0 6v1m0 12v3m0 65v3m0 6v1m0 169v2m0 7v2m0 26v1M707.5 91v1m0 6v1m0 62v1m0 5v1m0 8v1m0 4v1m0 14v3m0 53v3m0 17v2m0 200v1m0 23v2M712.5 265v3m0 55v3M717.5 326v2m0 35v1M722.5 111v3m0 84v1m0 15v1m0 34v1m0 22v3m0 3v1m0 59v2m0 23v1m0 4v1m0 1v2M727.5 64v2m0 17v2m0 99v1m0 249v1m0 69v2M732.5 87v1m0 14v2m0 147v1m0 109v1m0 53v1m0 15v3M743.5 231v1m0 79v1m0 79v1m0 42v1m0 78v2M748.5 131v1m0 241v1M753.5 192v1m0 111v1M769.5 241v3m0 48v1m0 30v3m0 37v1m0 111v1M774.5 85v2m0 8v1m0 17v2m0 9v1m0 2v2m0 56v1m0 168v1m0 73v1m0 13v2m0 40v2M785.5 73v1m0 63v2m0 32v2m0 23v2m0 49v1m0 72v2m0 44v2M796.5 398v2m0 79v2"/>
<path stroke="#43006d" stroke-width="6" d="M738 257v1m0 38v1m0 183v2M764 64v2m0 5v2m0 86v1m0 3v1m0 89v1M780 70v2m0 447v1m0 10v1M791 144v1m0 54v1m0 37v1m0 1v1m0 35v2m0 154v2m0 53v2m0 34v1"/>
<path stroke="#4c0089" stroke-width="1" d="M78.5 230v1m0 297v1M79.5 327v3M80.5 134v3M81.5 221v3M84.5 74v2m0 40v1m0 59v2m0 46v2m0 9v3m0 98v3m0 73v3m0 110v1M85.5 61v1m0 131v1M89.5 426v3M91.5 120v1M92.5 233v3m0 13v2M93.5 109v1m0 88v3m0 67v2m0 133v3M94.5 216v3M97.5 363v3M100.5 516v2M102.5 69v1m0 111v1m0 41v1m0 182v1M103.5 364v1M104.5 75v1m0 33v2m0 193v4m0 113v2M105.5 299v2M107.5 91v1m0 161v1M108.5 245v4M109.5 80v1M111.5 512v2M113.5 293v1M114.5 288v2M115.5 98v3m0 36v3m0 225v2m0 34v3M116.5 173v2m0 80v1m0 202v1M117.5 127v1M118.5 81v1m0 125v3m0 62v1m0 33v4m0 58v3M119.5 217v2m0 121v3M120.5 194v3M121.5 423v2m0 21v2m0 17v2m0 19v3M122.5 360v2m0 5v1M123.5 366v1m0 67v4M124.5 198v2m0 164v1m0 78v2m0 21v4M125.5 373v1M126.5 372v1m0 2v2m0 1v1m0 1v1m0 3v1M127.5 382v1m0 88v2M128.5 67v4m0 314v1m0 9v1M129.5 218v2m0 13v2m0 158v1M130.5 403v1m0 2v1M131.5 403v1m0 1v1m0 2v1M133.5 177v2m0 233v4m0 67v1m0 7v3M140.5 295v2M141.5 163v2m0 12v3m0 175v2m0 174v4M142.5 130v1m0 5v2m0 251v2m0 19v4M143.5 132v2m0 356v2M144.5 138v1m0 237v1M145.5 114v3m0 330v2m0 25v1M147.5 88v3m0 218v3m0 213v1M149.5 393v2M152.5 436v2M153.5 124v3m0 40v2m0 121v3m0 34v1m0 14v3m0 10v1m0 56v1m0 61v1M154.5 179v1m0 199v1M155.5 291v1m0 44v2m0 42v2m0 2v1m0 49v1m0 52v1M158.5 68v1m0 107v2m0 6v4m0 12v4m0 18v3m0 20v6m0 8v1m0 1v1m0 2v2m0 2v3m0 8v3m0 5v3m0 1v2m0 11v2m0 26v1m0 26v4m0 2v3m0 9v1m0 1v3m0 10v2m0 7v1m0 2v3m0 13v1m0 2v5m0 1v2m0 15v1m0 29v2m0 9v7M159.5 66v3m0 10v2m0 3v1m0 12v2m0 9v1m0 26v2m0 16v1m0 16v2m0 3v3m0 45v2m0 7v2m0 17v3m0 3v2m0 11v1m0 24v4m0 28v2m0 28v4m0 12v2m0 4v2m0 3v3m0 24v3m0 9v3m0 7v2m0 10v5m0 14v4m0 14v2m0 36v2M162.5 130v1m0 105v2m0 261v1M164.5 356v3M165.5 284v1m0 108v1M169.5 398v1m0 85v3M174.5 73v1m0 39v2m0 236v3m0 137v1M175.5 263v1M176.5 439v2M179.5 223v1m0 5v2m0 3v6m0 3v1m0 11v3m0 11v3m0 14v1m0 3v3m0 11v1m0 14v4m0 3v2m0 2v2m0 7v3m0 2v1m0 5v1m0 5v4m0 23v2m0 7v2m0 21v1m0 17v2M180.5 228v2m0 3v2m0 2v1m0 7v1m0 6v5m0 21v4m0 2v6m0 4v2m0 5v3m0 12v3m0 14v4m0 2v2m0 13v5m0 4v1m0 20v1m0 1v3m0 21v2m0 3v1m0 4v3m0 3v3m0 10v4M181.5 64v2M184.5 104v2m0 50v2m0 13v2m0 25v3m0 7v4m0 56v1m0 8v1m0 85v2m0 142v3M189.5 78v1m0 75v5m0 11v1m0 9v2m0 1v3m0 9v1m0 1v1m0 7v2m0 15v2m0 6v3m0 5v2m0 19v6m0 11v3m0 9v4m0 3v3m0 28v4m0 2v1m0 7v3m0 10v3m0 13v3m0 78v2m0 17v5m0 9v4m0 34v2M192.5 227v1m0 2v2m0 24v2m0 80v1m0 179v1M196.5 130v1m0 2v2m0 25v4m0 68v2m0 11v1m0 86v2m0 33v2m0 74v3M199.5 284v2M202.5 267v1M203.5 399v1M212.5 447v2m0 50v2M215.5 162v1m0 199v1m0 20v2m0 110v2M218.5 131v1m0 23v2m0 21v2m0 56v8m0 28v2m0 42v4m0 39v1m0 5v2M223.5 99v1m0 22v2m0 282v2M226.5 157v2M231.5 340v2m0 16v2M234.5 157v3m0 67v2m0 68v3m0 56v1m0 2v1m0 19v2m0 3v1m0 7v1M241.5 357v2m0 41v4M246.5 92v2m0 35v2m0 37v2m0 324v1m0 1v3M253.5 59v2m0 24v2m0 6v2m0 9v1m0 4v3m0 1v1m0 20v2m0 7v2m0 9v2m0 11v2m0 22v2m0 15v3m0 3v3m0 14v2m0 7v6m0 38v1m0 2v2m0 31v4m0 5v6m0 15v2m0 2v1m0 2v2m0 6v3m0 6v2m0 2v4m0 23v2m0 7v3m0 2v1m0 21v1m0 16v2m0 10v2M799.5 65v2"/>
<path stroke="#4c0089" stroke-width="2" d="M161 82v3m0 256v3m0 58v4M167 69v2m0 337v2M173 200v3m0 29v2m0 19v3m0 11v1m0 1v4m0 6v3m0 17v4m0 37v7m0 16v2m0 8v1m0 9v2M178 236v1m0 34v1m0 18v1m0 12v3m0 25v3m0 15v1m0 8v4m0 28v1m0 5v1m0 13v4m0 20v2M183 69v1m0 47v4m0 57v3m0 55v1m0 53v1m0 134v2M187 100v1m0 85v3m0 23v2m0 218v3m0 34v3M191 59v3m0 15v2m0 7v2m0 1v6m0 25v2m0 21v4m0 36v3m0 9v4m0 2v2m0 4v2m0 3v2m0 1v1m0 7v3m0 5v3m0 2v2m0 55v1m0 8v3m0 6v1m0 6v4m0 1v2m0 10v3m0 12v4m0 42v2m0 21v2m0 3v3m0 2v2m0 2v3m0 58v5m0 34v1M194 59v3m0 3v3m0 2v2m0 12v1m0 6v2m0 2v6m0 5v3m0 4v4m0 1v2m0 2v1m0 5v1m0 2v7m0 6v7m0 7v1m0 104v3m0 2v3m0 4v2m0 3v1m0 6v3m0 3v1m0 1v1m0 28v2m0 1v4m0 16v1m0 30v2m0 4v3m0 40v2m0 3v2m0 29v3m0 21v1m0 14v4m0 12v2m0 15v1M198 97v1m0 6v2m0 19v5m0 47v3m0 31v2m0 81v1m0 7v3m0 34v3m0 44v3m0 13v2M201 104v1m0 142v3m0 8v2m0 5v2m0 1v1m0 1v3m0 7v1m0 10v2m0 16v1m0 15v3m0 1v2m0 32v2m0 10v2m0 100v2M205 60v1M208 84v2M214 78v3M217 80v3m0 12v1m0 1v3m0 7v7m0 3v2m0 6v1m0 49v4m0 4v2m0 9v3m0 1v5m0 2v2m0 4v1m0 6v4m0 38v2m0 1v1m0 48v3m0 2v2m0 39v2m0 9v3m0 5v2m0 2v1m0 32v2m0 18v2m0 3v1m0 9v1m0 11v4m0 54v2M225 131v1m0 26v2m0 32v1m0 176v2m0 4v1m0 50v1m0 44v2m0 55v3M230 72v1m0 56v3m0 57v2m0 97v2m0 52v4m0 37v2m0 2v3m0 62v1M236 156v3M238 149v3m0 131v3m0 138v2M240 83v2m0 54v2m0 14v1m0 1v2m0 38v2m0 60v1m0 9v2m0 47v2m0 23v6m0 7v1m0 2v1m0 65v2m0 3v1m0 85v3M245 468v1M248 306v2m0 45v1M250 353v1m0 3v1M255 59v1m0 5v3m0 22v2m0 32v2m0 1v1m0 5v2m0 6v2m0 22v3m0 16v3m0 9v3m0 52v3m0 18v2m0 12v2m0 15v3m0 3v3m0 4v1m0 4v2m0 3v8m0 5v1m0 1v4m0 44v2m0 3v1m0 14v1m0 2v6m0 19v2m0 36v3m0 13v2m0 7v4m0 22v4M259 61v2m0 377v1M261 311v4m0 204v1M263 309v4m0 159v1M272 350v1m0 111v2M276 348v3m0 3v1M278 110v4m0 20v2m0 130v1m0 82v1m0 3v3m0 49v2m0 55v2m0 23v1M280 93v3m0 147v2m0 12v4m0 258v1M282 243v1m0 123v2m0 45v1M284 359v3M286 119v1m0 39v1m0 132v2m0 3v1M288 78v1m0 199v1M290 209v2m0 244v1M294 346v1M298 348v1M300 65v4m0 19v3m0 8v2m0 3v4m0 16v3m0 8v1m0 4v3m0 47v1m0 62v2m0 28v11m0 6v2m0 20v2m0 54v1m0 34v3m0 29v2m0 25v3m0 25v3m0 5v1m0 4v3m0 4v10M302 102v3m0 1v1m0 10v1m0 18v2m0 61v2m0 1v2m0 4v4m0 10v1m0 11v3m0 6v2m0 2v3m0 29v1m0 43v2m0 40v1m0 24v2m0 7v2m0 4v4m0 9v1m0 11v2m0 3v2m0 6v3m0 11v5m0 30v2m0 2v2m0 7v4m0 16v2m0 4v5M307 72v4m0 44v1M309 78v1m0 14v3m0 162v1m0 59v4M311 72v1m0 14v3m0 3v2m0 4v3m0 14v4m0 8v2m0 18v3m0 77v4m0 8v1m0 1v2m0 38v2m0 20v8m0 5v2m0 3v2m0 10v1m0 1v5m0 7v1m0 50v1m0 3v1m0 1v3m0 4v2m0 50v1m0 3v2m0 9v1m0 17v4m0 1v3m0 13v3m0 4v1m0 1v2M313 147v1m0 314v2M320 521v1M329 232v1m0 4v1m0 91v4m0 142v3M331 274v1m0 48v1m0 15v1m0 3v1m0 16v1m0 12v2m0 121v1M336 83v1m0 16v1m0 26v1m0 103v1m0 107v1m0 3v1m0 18v2m0 58v1M338 231v1m0 4v1M343 93v1m0 85v1m0 162v1M348 392v3m0 118v1M353 341v1M355 175v1M363 126v1m0 57v1m0 316v3M368 122v1m0 181v2m0 173v1m0 22v1M373 242v3m0 262v3M381 121v1m0 3v1M389 186v2m0 20v2m0 131v1m0 153v1m0 9v1m0 16v1M400 92v1m0 25v1m0 3v1m0 37v1m0 15v2m0 111v1m0 29v1m0 38v1m0 6v1m0 6v1m0 112v1m0 26v2"/>
<path stroke="#4c0089" stroke-width="3" d="M304.5 106v2m0 131v2m0 182v1m0 22v1m0 20v2m0 21v3M317.5 107v1m0 32v5m0 13v1m0 1v1m0 2v1m0 57v1m0 41v2m0 3v1m0 1v1m0 12v1m0 48v1m0 8v1m0 3v1m0 2v3m0 1v1m0 7v2m0 15v5m0 14v2m0 24v1m0 57v4m0 10v1m0 19v1m0 10v2m0 8v1M326.5 122v3m0 107v1m0 107v1m0 3v1m0 121v4M333.5 71v1m0 166v2m0 143v2m0 1v1M340.5 270v1m0 67v1m0 3v1m0 178v1M345.5 142v1m0 38v1m0 201v2m0 115v3M350.5 273v1M357.5 252v1M360.5 70v2m0 50v2m0 174v1m0 181v2m0 48v2M365.5 114v2m0 103v1m0 56v2M370.5 121v1m0 18v1m0 394v1M375.5 207v1m0 127v1m0 5v2M378.5 161v2M383.5 121v1m0 3v1m0 114v1m0 161v1m0 62v2M391.5 120v1m0 3v1m0 112v2m0 91v1M394.5 123v1M397.5 321v1m0 4v1m0 4v2M402.5 117v1m0 3v1m0 66v1m0 72v1M405.5 85v2m0 34v1m0 158v2M408.5 218v3m0 89v2m0 3v4m0 3v1m0 204v3M414.5 78v1m0 13v1m0 91v1m0 10v1m0 42v2m0 13v2m0 17v1m0 20v1m0 19v3m0 75v1m0 70v1m0 49v3M417.5 245v1m0 54v1m0 12v4m0 61v2M420.5 172v3m0 193v1M423.5 315v2M426.5 59v2m0 70v1m0 129v2m0 65v2m0 7v1m0 164v4M429.5 290v3m0 22v3M432.5 302v1m0 10v2M435.5 301v2m0 1v1M438.5 110v1m0 206v1m0 3v1M441.5 251v2m0 43v3M444.5 107v1m0 121v2m0 56v1m0 27v1m0 2v3m0 102v2m0 4v1M447.5 136v1m0 60v1m0 106v1m0 6v1m0 50v1m0 60v1M450.5 96v1m0 109v2m0 84v3m0 12v2m0 3v1m0 105v1M453.5 305v2m0 210v2M456.5 107v1m0 3v1m0 204v3m0 77v1m0 2v1m0 62v2M463.5 300v1M466.5 289v1m0 147v1M469.5 92v1m0 116v1m0 65v2m0 6v2m0 14v2m0 78v1m0 12v2m0 53v1m0 70v2M476.5 256v2m0 12v2m0 26v2m0 86v1M479.5 157v1m0 25v2m0 91v1m0 16v1m0 42v1m0 8v1m0 55v1m0 58v1M486.5 296v2m0 3v1m0 20v1m0 80v2m0 26v1M489.5 63v1m0 7v1m0 43v3m0 67v2m0 117v1m0 8v3m0 3v1m0 67v1m0 65v2M496.5 115v2m0 34v3m0 19v3m0 97v1m0 29v2m0 5v1M503.5 86v1m0 198v1m0 15v2m0 121v1m0 20v1m0 22v1m0 26v1M510.5 125v1m0 58v1M521.5 458v1M532.5 121v1m0 164v1m0 147v1M547.5 190v3m0 174v1"/>
<path stroke="#4c0089" stroke-width="4" d="M460 63v2m0 144v1m0 97v2m0 8v1m0 103v1m0 107v1M473 349v1M483 118v1m0 169v2m0 42v1M493 120v2m0 311v1m0 42v3M500 107v2m0 37v1m0 330v3M507 294v1m0 12v2M514 198v1m0 130v1m0 53v3m0 33v2M518 293v2m0 12v1m0 5v2M525 96v1m0 304v2m0 50v1m0 55v2M529 69v1m0 48v1m0 125v1m0 39v1m0 52v1m0 30v1m0 50v2m0 63v2M536 135v1m0 154v2M544 63v1m0 125v2m0 124v1m0 2v1m0 71v1m0 4v2m0 15v1M551 109v2m0 137v1m0 48v1m0 9v2M555 272v2m0 39v3m0 178v1M559 61v2m0 35v1m0 22v1m0 101v1m0 61v3m0 5v1M563 278v1m0 12v1m0 90v1M567 155v2m0 14v1m0 45v2m0 1v2m0 54v1m0 2v1m0 16v3m0 34v1m0 14v1m0 33v2m0 8v1m0 1v1m0 15v1m0 1v2m0 13v2m0 36v2m0 26v2m0 13v2m0 24v1M571 180v2m0 123v1m0 83v1M575 251v2m0 32v2m0 106v1M579 362v3m0 36v1m0 79v1m0 18v2m0 13v1M583 277v3m0 2v1m0 21v3m0 146v1M587 148v2m0 128v1m0 14v3m0 9v3m0 15v3M591 71v1m0 150v1m0 59v3m0 4v1m0 2v2m0 64v3m0 34v2m0 117v1m0 4v1M595 87v1m0 83v2m0 36v2m0 60v1m0 14v1m0 5v1m0 15v3m0 1v2m0 21v1m0 17v1m0 25v1m0 140v1M599 221v1m0 65v3m0 10v2m0 44v2m0 154v1m0 18v1m0 7v1M608 71v1m0 3v1m0 105v1m0 7v1m0 79v1m0 38v2M612 274v1m0 30v1m0 155v1M616 73v1m0 43v1m0 19v1m0 1v1m0 88v1m0 37v3m0 10v2m0 8v2m0 132v1m0 14v1M625 293v1M629 190v1m0 49v1m0 9v2m0 18v1m0 2v4m0 10v3m0 1v1m0 31v2m0 181v3M647 105v1m0 81v1m0 29v1m0 63v2m0 3v2m0 99v1M656 150v3M665 345v1M679 272v1m0 5v2M703 168v1m0 178v2m0 13v2"/>
<path stroke="#4c0089" stroke-width="5" d="M603.5 282v3m0 1v1m0 14v3m0 34v1M620.5 104v1M642.5 136v1m0 152v4m0 80v2m0 97v3M651.5 100v2m0 137v1m0 36v1m0 46v2M660.5 102v1m0 24v1m0 150v1m0 95v2M669.5 83v1m0 62v1m0 29v1m0 103v2m0 164v2m0 2v2M674.5 174v1M683.5 172v1m0 5v1m0 232v3M688.5 170v1m0 6v1m0 89v2M693.5 176v1m0 103v1M698.5 196v1m0 69v1m0 11v1m0 56v1m0 4v1m0 18v3M707.5 119v1m0 68v1m0 294v2M712.5 272v1m0 235v1M717.5 105v1m0 163v1m0 1v1M722.5 279v3M727.5 171v2m0 12v2m0 80v3m0 168v2M732.5 440v1M743.5 80v1m0 29v1m0 17v1m0 61v1m0 124v1m0 37v1m0 129v2m0 32v1M753.5 505v2M769.5 229v1m0 30v3m0 94v1m0 18v2M774.5 255v1m0 1v1m0 120v1m0 40v1M785.5 164v1m0 85v2m0 97v1M796.5 86v1m0 154v3"/>
<path stroke="#4c0089" stroke-width="6" d="M738 263v3m0 35v2m0 206v1M764 255v3m0 11v1M780 123v1m0 60v1m0 66v1m0 4v1m0 105v2M791 75v1m0 54v2m0 106v1m0 10v1m0 2v3"/>
<path stroke="#5500a3" stroke-width="1" d="M78.5 378v3M84.5 184v3m0 301v2M85.5 482v2M92.5 353v2M93.5 508v5M94.5 74v1m0 435v1M97.5 127v1M101.5 205v2M102.5 404v2m0 10v2m0 15v1m0 27v2M104.5 259v4M109.5 453v1M110.5 178v3m0 145v4M116.5 61v1m0 182v2m0 83v1M117.5 423v2M118.5 383v1M123.5 361v1m0 2v1m0 2v1M124.5 365v1m0 2v1m0 4v1m0 2v1M125.5 368v1m0 3v1m0 1v1M126.5 377v1m0 5v1m0 2v1M127.5 378v1m0 2v1m0 1v1m0 5v1M128.5 387v1m0 86v1M129.5 85v2m0 302v1m0 9v1M130.5 192v4m0 203v1m0 1v1m0 117v3M131.5 322v1m0 79v1m0 3v1M133.5 212v2m0 108v4m0 110v1M139.5 388v2m0 51v1m0 7v2M145.5 416v4M147.5 529v1M148.5 279v2M149.5 60v2m0 352v2M152.5 197v4M153.5 200v1m0 82v2m0 229v2M155.5 72v2m0 219v1m0 24v2m0 48v1m0 34v3m0 40v3m0 16v2M158.5 339v3M159.5 104v2m0 168v4m0 109v2M162.5 123v2m0 109v2m0 101v3M163.5 488v3M171.5 60v3m0 145v2m0 23v1m0 70v3m0 120v2M174.5 217v1m0 49v2M176.5 243v1M179.5 222v1m0 19v1m0 1v1m0 1v5m0 2v2m0 9v2m0 7v2m0 4v3m0 5v3m0 3v8m0 4v2m0 7v3m0 6v3m0 2v2m0 5v4m0 3v1m0 8v1m0 10v1m0 7v2m0 3v1m0 2v4m0 5v1m0 6v2m0 2v1m0 9v4m0 5v4m0 4v4M180.5 221v3m0 1v3m0 14v3m0 1v2m0 27v1m0 16v2m0 15v4m0 10v3m0 12v1m0 2v4m0 3v5m0 36v2m0 2v2m0 5v4m0 12v4m0 10v1M181.5 88v1M184.5 305v1m0 7v1m0 125v2m0 63v2M188.5 534v2M189.5 59v2m0 9v6m0 9v1m0 22v4m0 7v1m0 22v10m0 23v3m0 23v4m0 2v3m0 5v2m0 7v1m0 2v3m0 4v1m0 16v5m0 12v1m0 3v4m0 6v6m0 32v6m0 4v2m0 5v1m0 1v1m0 3v4m0 3v3m0 3v6m0 3v4m0 3v2m0 28v4m0 68v3m0 13v1m0 35v1m0 7v2M192.5 76v3m0 15v2m0 303v2m0 26v3M196.5 241v1M202.5 314v3m0 122v3M215.5 94v3m0 139v1m0 71v1m0 38v3m0 130v3M218.5 61v1m0 32v2m0 172v1m0 91v1M226.5 329v2m0 30v1M234.5 76v3m0 99v1m0 96v2m0 5v1m0 67v2m0 12v2m0 97v2M241.5 83v1m0 215v3M246.5 355v3M253.5 119v1m0 3v1m0 82v2m0 5v1m0 141v2m0 30v3m0 8v2M799.5 246v1"/>
<path stroke="#5500a3" stroke-width="2" d="M161 199v2m0 110v2M167 222v1M173 231v1m0 32v3m0 6v1m0 12v2m0 6v5m0 4v3m0 16v3m0 26v3m0 11v2m0 4v1m0 16v1m0 13v2m0 6v4M178 223v1m0 5v2m0 34v3m0 20v2m0 48v2m0 7v2m0 5v2M183 244v2M187 430v2M191 70v5m0 4v2m0 18v2m0 11v2m0 11v2m0 3v2m0 37v4m0 20v2m0 4v2m0 13v1m0 1v5m0 58v1m0 4v5m0 5v3m0 4v1m0 28v5m0 3v1m0 2v1m0 12v3m0 60v2m0 17v4m0 8v2m0 27v1m0 5v4m0 36v2m0 5v3M194 79v5m0 75v2m0 97v3m0 16v1m0 16v1m0 82v1m0 22v1m0 48v2m0 28v3m0 6v2M198 248v3m0 55v2m0 106v3m0 22v2M201 347v1m0 165v3M214 292v2M217 102v2m0 16v1m0 76v1m0 5v2m0 72v4m0 80v2m0 23v2m0 52v1m0 4v1M222 360v2M225 65v2m0 131v1m0 75v2m0 36v3m0 204v3m0 9v1M230 141v4m0 38v1m0 93v3m0 78v3M238 139v3m0 116v1m0 97v1M240 81v2m0 118v4m0 226v3M243 356v3M245 354v1m0 3v1M248 128v4m0 173v1m0 23v5m0 115v3M250 490v2M252 196v1M255 117v3m0 2v2m0 56v4m0 18v3m0 65v2m0 30v1m0 50v1m0 3v1m0 50v1m0 17v3M261 88v2m0 31v1m0 84v4m0 131v1m0 135v2M263 384v2M270 242v3M276 243v1M278 318v3m0 96v1m0 101v1M280 352v1m0 76v3M282 294v1m0 57v1m0 38v2M286 348v1M288 149v3m0 78v1m0 119v1M290 152v3m0 41v3m0 167v3M292 350v1M294 350v1M298 344v1M307 364v2M309 454v3m0 43v1M311 84v3m0 3v3m0 2v4m0 21v2m0 4v2m0 96v4m0 52v1m0 11v4m0 2v6m0 9v4m0 11v6m0 1v1m0 50v3m0 15v1m0 48v1m0 3v3m0 2v2m0 3v1m0 43v2m0 22v1M313 330v2m0 9v1m0 3v1M324 378v1M329 110v1M331 155v1m0 59v1m0 8v1m0 6v1m0 4v1m0 12v1M336 236v1m0 69v2m0 129v2m0 34v2M338 342v1M343 230v1m0 5v1m0 101v1M348 229v1m0 5v1M353 336v1M355 360v1M363 468v1M368 198v2M381 114v3m0 218v1m0 3v1M389 121v1m0 1v1M400 151v1"/>
<path stroke="#5500a3" stroke-width="3" d="M304.5 186v2m0 163v1m0 134v3M326.5 486v2M333.5 214v1m0 123v1m0 4v1m0 118v1M340.5 124v2m0 104v1M345.5 149v1m0 60v2m0 18v1m0 5v1m0 161v3M350.5 211v3m0 13v1m0 1v1m0 4v1m0 10v1m0 90v1m0 4v1m0 158v2M357.5 229v1m0 5v1m0 100v1M360.5 234v1m0 46v3m0 52v1m0 45v1M365.5 122v2m0 110v1m0 101v1m0 4v1m0 98v1M370.5 66v1m0 316v1m0 71v2M375.5 122v1m0 32v1m0 266v2m0 27v1M378.5 123v3m0 121v1m0 233v2m0 9v2M383.5 327v1m0 124v2M386.5 122v1M391.5 467v3M394.5 327v6M397.5 122v1M402.5 133v3m0 193v3m0 12v1m0 86v3M405.5 87v1m0 232v1m0 4v1M408.5 148v1m0 57v3m0 29v1m0 85v3m0 50v1M411.5 116v1m0 3v1m0 18v1m0 164v5m0 8v5m0 7v2M414.5 120v1m0 197v2M417.5 211v1M420.5 115v1m0 3v1m0 191v2m0 3v1m0 86v1M426.5 142v2m0 173v5m0 110v1m0 42v1M429.5 323v3M432.5 312v1m0 2v4m0 6v1m0 2v2M435.5 299v2m0 15v3m0 193v1M438.5 114v1m0 180v1m0 26v2M444.5 93v1m0 69v2m0 47v1m0 98v2m0 170v1M447.5 113v2m0 68v2m0 45v2m0 65v3m0 223v1M450.5 295v1m0 19v3m0 3v1M453.5 312v1m0 85v1m0 47v2M456.5 103v1m0 90v1m0 57v2m0 59v3m0 7v2M463.5 432v1M469.5 105v1m0 27v2m0 81v1m0 79v1m0 15v2m0 200v1M476.5 103v1m0 4v1m0 134v1m0 32v1m0 17v1m0 27v2M479.5 307v2m0 48v1m0 28v1m0 98v1M486.5 102v1m0 3v1m0 211v2M489.5 95v2m0 14v3m0 202v3m0 21v1m0 191v1M496.5 261v2M503.5 480v1M510.5 359v1M521.5 432v2M532.5 453v1m0 53v2M547.5 294v1"/>
<path stroke="#5500a3" stroke-width="4" d="M460 106v1m0 4v1m0 198v5M473 104v1m0 4v1m0 195v3M483 129v2m0 174v3M493 104v1m0 62v1m0 6v1m0 159v3M507 215v1m0 300v2M514 73v1m0 296v1M518 315v1m0 2v3M525 92v1m0 30v2m0 180v3m0 196v1m0 8v1M529 160v2m0 22v2m0 26v1m0 45v1m0 12v2m0 21v1m0 8v2m0 46v1m0 163v1m0 11v3M536 162v3m0 25v2m0 13v1m0 99v3m0 19v1M540 316v2m0 95v2M544 296v3m0 9v2m0 7v1M551 92v1m0 192v1m0 32v1M555 302v2m0 4v1m0 2v2M559 299v4m0 157v2M567 135v1m0 17v2m0 43v1m0 127v1m0 15v2m0 11v2m0 6v1m0 7v3m0 40v1m0 14v6m0 10v1m0 2v3m0 2v1m0 18v1m0 11v3m0 37v1M571 182v1m0 128v1M575 84v1m0 216v2M579 285v1m0 180v1M583 283v3M587 282v3m0 23v1M591 176v2m0 109v2m0 21v3M595 201v2m0 94v1m0 4v3m0 59v1M599 199v1m0 105v1m0 121v1M608 81v2m0 34v2m0 77v1m0 116v1M612 75v1m0 209v1m0 23v2M616 69v1m0 124v1m0 92v1m0 7v3m0 64v1m0 171v1M625 451v1M629 183v1m0 59v3m0 2v1m0 7v1m0 7v3m0 12v2m0 1v2m0 42v1M647 183v4m0 1v1m0 39v1m0 25v1m0 43v3M656 149v1m0 151v1m0 6v1M665 213v1M679 174v5m0 43v1m0 39v1m0 18v2M703 165v3m0 1v2m0 84v1m0 35v1"/>
<path stroke="#5500a3" stroke-width="5" d="M603.5 73v1m0 166v3m0 28v1M642.5 150v1m0 32v1m0 3v2m0 120v1m0 177v3M651.5 139v1m0 45v5m0 94v1M660.5 180v1m0 3v1m0 94v1M669.5 183v1m0 105v4m0 12v1m0 162v2m0 48v2M674.5 304v1m0 148v2M683.5 272v2m0 9v1m0 11v1m0 157v2M688.5 273v2m0 26v1M693.5 110v1m0 156v2m0 12v1m0 3v2M698.5 456v1M707.5 165v2m0 100v2m0 243v2M722.5 90v2m0 175v1m0 59v2M732.5 290v1M743.5 304v1M748.5 273v1M769.5 247v1M774.5 177v2m0 72v3m0 130v1M785.5 264v1M796.5 249v3"/>
<path stroke="#5500a3" stroke-width="6" d="M738 281v1m0 59v1m0 53v2M780 216v1m0 40v2m0 8v1m0 8v1m0 216v1M791 255v2m0 14v1"/>
<path stroke="#5c01ba" stroke-width="1" d="M78.5 192v2M82.5 530v3M84.5 333v3M85.5 308v2M94.5 244v1m0 263v2m0 1v2M95.5 508v1m0 3v1M104.5 501v2M105.5 532v2M107.5 233v2M109.5 379v1M110.5 449v2M112.5 201v3M114.5 376v1M116.5 431v1M118.5 140v3M122.5 204v3m0 152v1m0 4v1m0 159v4M123.5 363v1m0 4v1M124.5 374v2M125.5 367v1m0 1v1m0 7v5M126.5 373v1m0 5v1m0 2v1M127.5 377v1m0 7v1m0 2v1M128.5 386v1m0 9v1M129.5 390v1m0 3v4M130.5 400v1m0 1v1m0 2v1M131.5 409v1M133.5 110v1m0 151v3m0 68v3M139.5 275v1M145.5 341v1M147.5 133v2M148.5 522v4M152.5 526v2M153.5 247v1m0 119v1M154.5 409v1M155.5 125v2m0 170v2m0 94v2M159.5 254v3M162.5 180v1M170.5 75v2M174.5 467v1M179.5 221v1m0 2v2m0 25v2m0 19v1m0 28v2m0 4v2m0 8v2m0 13v3m0 8v1m0 2v4m0 4v2m0 20v2m0 26v4m0 16v1m0 10v2M181.5 259v1m0 81v2m0 38v1M184.5 222v2m0 39v1m0 5v1m0 201v2M189.5 165v3m0 5v2m0 117v2m0 25v1m0 27v3m0 131v2m0 4v3M192.5 164v1m0 57v1m0 268v1M202.5 528v3M212.5 238v2M215.5 262v3M223.5 358v2M226.5 180v3m0 176v2M241.5 478v2M264.5 351v1M799.5 257v1m0 9v1"/>
<path stroke="#5c01ba" stroke-width="2" d="M167 92v1M173 216v1m0 3v3m0 11v1m0 16v2m0 29v1m0 77v3m0 9v1m0 24v3M178 224v2m0 80v1m0 3v3m0 4v3m0 15v3m0 15v1m0 51v4m0 11v5m0 11v3M191 69v1m0 13v3m0 2v1m0 22v1m0 2v3m0 5v3m0 2v1m0 10v5m0 45v3m0 12v4m0 35v6m0 32v1m0 8v4m0 4v4m0 11v6m0 4v1m0 2v2m0 19v4m0 8v2m0 1v3m0 6v1m0 40v2m0 18v2m0 10v3m0 23v1m0 17v1m0 22v1m0 2v4m0 8v2m0 1v1m0 6v1M198 222v1M201 288v3m0 90v1m0 68v1M225 358v3m0 13v1m0 18v1M228 359v1M230 339v3m0 92v1m0 75v2M238 357v2m0 24v3M240 266v3m0 196v2M243 501v3M248 236v1m0 117v3M261 352v3M268 351v1m0 2v1M270 350v3M272 353v1M274 353v1M276 167v2M278 253v2m0 47v3m0 123v1m0 93v4M280 349v1M282 348v1m0 112v4M286 196v2m0 154v1m0 15v1m0 43v1m0 102v2M288 347v1M290 346v1m0 87v4M292 346v1M302 421v1M307 343v1m0 53v2M311 343v1m0 3v1M313 294v2M315 273v2M322 341v3M329 133v1m0 26v4M331 228v1m0 204v3M338 172v1m0 165v1M348 337v1m0 3v1m0 75v2M353 229v1m0 5v1M355 234v1M363 123v1M368 340v1M373 227v1m0 4v1M381 226v1m0 5v1M389 68v1m0 53v1m0 71v2M400 222v1m0 102v2m0 19v1"/>
<path stroke="#5c01ba" stroke-width="3" d="M304.5 327v4m0 14v1m0 2v1M326.5 228v3M333.5 230v1m0 4v1m0 96v1m0 9v1M340.5 235v1M345.5 337v1m0 4v1M350.5 171v1M357.5 340v1M360.5 228v1m0 111v1M365.5 124v1m0 103v1M370.5 122v1m0 111v1m0 107v1M375.5 121v1m0 1v1m0 212v1m0 3v1M378.5 232v1m0 103v1m0 3v1m0 12v2M383.5 335v1m0 196v1M386.5 123v2m0 100v1M391.5 224v1m0 213v3M397.5 118v1m0 105v1M402.5 118v1m0 198v3m0 4v1M405.5 117v1m0 380v2M408.5 116v1m0 3v1m0 186v3M411.5 314v1M414.5 116v1m0 193v1m0 9v2M417.5 326v2M420.5 297v1M423.5 319v3M426.5 112v1m0 55v1M429.5 116v1m0 183v3m0 24v1M432.5 227v1m0 91v1m0 99v1M435.5 115v1m0 198v2m0 9v2m0 162v2M438.5 324v2M441.5 304v3m0 19v2M444.5 110v1m0 202v2m0 9v2m0 66v1M447.5 217v1m0 6v1m0 64v2m0 25v3m0 110v2M450.5 311v1M453.5 108v1m0 142v2m0 45v2M456.5 321v2m0 2v1m0 46v2M463.5 307v3M466.5 110v1m0 112v1M469.5 110v1m0 112v1M476.5 315v1M479.5 83v6m0 206v2M489.5 180v2m0 68v2M496.5 90v2m0 119v1m0 105v1M503.5 209v1m0 111v2m0 24v1M521.5 187v2M532.5 91v1M547.5 291v3m0 11v1m0 2v2"/>
<path stroke="#5c01ba" stroke-width="4" d="M460 297v1m0 17v2m0 5v1m0 104v1M483 303v1m0 6v1m0 23v1m0 65v1m0 62v1M493 70v2m0 27v1m0 45v3m0 165v4m0 155v2m0 58v2M500 120v3m0 91v2M507 119v1m0 88v1m0 57v2m0 50v2M514 453v2M518 296v3m0 3v2m0 2v1M525 148v2M529 155v1m0 49v1m0 5v1m0 134v1M536 212v1m0 81v2m0 14v1M540 285v1m0 15v2m0 2v2M544 172v2m0 145v1M551 88v1m0 406v2M555 158v2m0 49v1m0 106v2M559 284v1m0 32v1M563 301v3M567 88v1m0 29v1m0 77v1m0 10v1m0 49v2m0 4v1m0 8v3m0 10v2m0 17v1m0 9v1m0 46v2m0 16v1m0 1v1m0 3v2m0 21v2m0 37v1m0 4v1m0 4v3m0 13v1m0 5v1m0 10v1m0 8v2m0 16v1m0 3v2m0 9v2m0 1v1M571 86v1m0 112v1m0 92v2m0 18v3M575 80v1m0 198v2m0 8v2M579 204v1m0 90v3M583 300v2M587 277v1m0 21v1m0 14v1M591 74v1m0 197v2m0 27v2M595 293v2m0 5v2m0 3v3m0 38v2M599 192v1m0 92v2m0 25v2M608 274v1m0 21v2m0 8v2m0 2v2M612 71v1m0 87v1m0 35v1M616 222v2M629 272v1m0 87v1M647 76v1m0 195v1m0 22v3m0 84v1M656 287v1M665 178v3m0 1v3M679 173v1m0 113v1M703 211v2m0 64v2m0 8v2m0 9v1"/>
<path stroke="#5c01ba" stroke-width="5" d="M603.5 77v1m0 113v1m0 5v1M642.5 184v3m0 2v1m0 105v2M651.5 183v2m0 107v1m0 15v1M660.5 181v3m0 1v1m0 119v1M669.5 272v2m0 25v1M674.5 287v1m0 10v1M683.5 183v2m0 117v1M688.5 181v1m0 112v1M693.5 171v3m0 105v1M698.5 167v5m0 91v3m0 32v1M707.5 162v3m0 39v1m0 75v1m0 106v1M712.5 268v4M717.5 287v1m0 6v1M722.5 285v1m0 78v1M727.5 270v3m0 11v1m0 160v2M732.5 265v1M743.5 264v2m0 3v1m0 27v1M748.5 133v1m0 118v1m0 6v3m0 3v1m0 144v1M769.5 214v1m0 48v3m0 4v1M774.5 259v1m0 9v1m0 8v1M785.5 273v1M796.5 252v2"/>
<path stroke="#5c01ba" stroke-width="6" d="M738 275v1m0 13v1m0 209v1M764 266v1m0 13v1M780 259v2"/>
<path stroke="#6301ce" stroke-width="1" d="M95.5 509v3M96.5 508v2m0 1v2M97.5 509v1M99.5 512v1M100.5 512v1M102.5 508v1M105.5 512v1M111.5 105v2m0 351v2M115.5 389v1M116.5 306v1M118.5 155v2M121.5 234v1M139.5 213v1m0 74v2m0 59v2M147.5 110v3m0 298v3M153.5 97v2m0 18v4m0 230v3m0 15v3m0 144v3m0 2v2M162.5 468v2M179.5 245v1m0 21v2m0 6v4m0 33v2m0 49v3m0 3v1m0 2v3m0 7v1m0 13v2m0 14v3m0 6v3m0 5v4M181.5 528v2M184.5 91v1m0 251v2m0 150v2M189.5 161v1M192.5 480v3M196.5 360v2M215.5 392v2M218.5 392v1M234.5 241v1m0 115v2M264.5 354v1"/>
<path stroke="#6301ce" stroke-width="2" d="M173 209v2m0 12v6m0 6v1m0 32v1m0 14v3m0 24v10m0 5v5m0 25v2m0 10v4m0 14v3m0 1v4m0 7v2M178 232v2m0 10v3m0 1v2m0 20v1m0 13v4m0 9v2m0 14v1m0 9v3m0 2v3m0 33v6m0 6v2m0 14v4m0 3v3m0 7v1m0 4v3m0 8v4m0 10v3M191 81v1m0 52v4m0 10v4m0 86v1m0 69v3m0 103v3m0 74v3m0 9v2m0 15v3M194 291v1m0 24v1M198 256v1m0 116v1m0 15v4m0 31v2m0 42v3M205 528v1M225 247v2M228 360v1M230 107v1m0 46v2m0 17v7m0 4v2m0 16v3m0 194v1m0 104v2M238 120v1M240 110v1m0 94v3m0 69v1m0 74v2m0 4v1M245 398v1M248 140v4m0 190v2M259 170v2M266 352v2M268 78v2m0 5v1M272 351v2M274 350v1M276 351v3M278 119v2m0 239v3M286 96v2m0 174v1M290 350v1M307 237v1m0 44v2m0 63v1M309 342v1m0 3v1M315 342v1M320 340v1M324 340v1M331 341v1M336 342v1M355 228v1m0 107v1M363 124v2m0 103v1m0 4v1m0 101v1m0 3v1M368 125v1m0 106v1m0 103v1M381 123v2M389 231v1m0 96v2M400 89v1m0 139v1m0 99v3m0 62v1"/>
<path stroke="#6301ce" stroke-width="3" d="M304.5 322v2m0 22v2M326.5 130v2m0 374v1M345.5 467v1M360.5 510v1M370.5 123v2m0 103v1m0 106v1M375.5 247v1M378.5 226v1M383.5 70v2m0 153v1M386.5 231v1M394.5 120v3m0 107v1m0 93v3m0 11v1M397.5 230v1M402.5 119v2m0 48v2m0 52v1m0 99v1M405.5 120v1m0 102v1m0 5v1m0 92v3m0 158v2M408.5 229v1m0 73v1m0 26v1M411.5 315v2M414.5 327v4M417.5 115v1m0 3v1m0 27v1m0 153v3m0 24v1M423.5 112v1m0 114v1M426.5 116v1m0 190v2m0 30v1M432.5 116v1M438.5 219v1m0 93v3m0 12v1M441.5 318v1M444.5 225v1m0 95v3M447.5 262v2m0 31v1m0 7v1m0 1v2M450.5 225v1m0 71v1m0 1v3m0 20v2M453.5 112v1m0 104v1m0 6v1m0 95v1m0 81v2m0 90v3M456.5 217v1m0 6v1m0 80v1M463.5 303v1m0 11v2M466.5 105v1m0 110v1M469.5 318v2m0 5v1M476.5 215v1m0 6v1M479.5 103v1m0 4v3m0 82v2m0 26v1m0 3v2m0 37v1m0 160v1M486.5 220v1m0 96v1M489.5 225v2m0 98v1M496.5 104v1m0 40v1m0 72v1m0 103v2m0 5v1M503.5 298v2m0 8v1m0 19v1M532.5 95v1m0 206v3m0 143v2"/>
<path stroke="#6301ce" stroke-width="4" d="M460 216v1m0 6v1m0 96v2M473 216v1m0 94v5M483 101v1m0 3v1m0 208v3M493 186v2m0 46v1m0 215v2M500 417v3M507 100v1m0 215v2M518 291v2m0 17v2m0 15v1M529 97v1m0 7v1m0 185v3m0 4v1m0 17v2m0 53v3m0 30v1M536 90v1m0 222v2M540 95v1m0 108v1m0 6v1M544 90v1m0 225v1m0 208v2M551 202v1m0 5v1m0 106v3m0 6v1M555 86v1m0 3v1m0 111v1m0 96v1m0 7v1M559 201v1m0 6v1m0 172v1M563 84v1m0 4v1m0 111v1m0 5v1m0 96v2m0 7v2M567 76v1m0 7v1m0 17v1m0 10v2m0 10v2m0 50v3m0 5v1m0 6v3m0 5v1m0 67v1m0 37v1m0 3v1m0 19v1m0 21v1m0 7v1m0 26v2m0 10v3m0 58v4m0 14v1m0 1v2m0 1v1m0 17v2m0 8v1m0 2v3m0 10v2M571 109v2m0 95v1m0 77v2m0 29v2M575 198v1m0 6v1m0 77v2m0 12v3m0 10v1m0 10v1m0 18v2M579 291v1m0 18v5M583 81v1m0 220v2m0 3v3m0 3v3M591 201v1m0 105v3M595 75v1M599 73v1m0 208v1M608 314v1M612 105v1m0 82v1m0 117v2M616 311v1M629 292v1m0 20v1M647 157v1m0 143v1m0 6v1M656 181v3m0 2v1M665 181v1m0 112v1m0 4v1m0 5v1M679 280v1m0 21v1M703 270v2"/>
<path stroke="#6301ce" stroke-width="5" d="M603.5 310v1m0 3v1m0 4v1M642.5 293v2m0 2v2M651.5 295v2m0 1v3m0 1v1M669.5 172v3m0 2v1m0 3v2M674.5 176v2M683.5 173v1m0 107v1m0 12v1M688.5 171v1m0 2v1m0 1v1M693.5 170v1m0 3v2m0 117v1m0 6v1M698.5 99v1m0 66v1M707.5 106v1m0 206v1M712.5 275v3m0 17v1M717.5 270v1m0 9v2M727.5 279v1m0 11v1M732.5 282v1M743.5 81v2m0 196v1m0 7v1m0 7v2M748.5 276v1m0 8v1M769.5 257v1M774.5 293v1m0 183v3M785.5 457v1M796.5 247v2m0 20v1"/>
<path stroke="#6301ce" stroke-width="6" d="M764 185v1m0 75v2M780 245v1"/>
<path stroke="#6901df" stroke-width="1" d="M85.5 405v3M96.5 510v1M97.5 446v1m0 61v1m0 2v2M98.5 508v5M99.5 508v2M100.5 508v1M103.5 508v1m0 3v1M104.5 508v1M106.5 507v1M107.5 512v1M109.5 507v1M111.5 511v1M112.5 512v1M115.5 507v1M116.5 231v2m0 278v1M117.5 507v1M118.5 160v2M119.5 506v1M122.5 511v1M123.5 506v1m0 4v1M124.5 181v1m0 61v2M130.5 505v1M131.5 505v1M132.5 510v1M133.5 120v3m0 382v1m0 4v1M136.5 505v1M139.5 260v1m0 244v1M152.5 350v2M153.5 332v2m0 6v2m0 40v1M155.5 215v3M159.5 291v4M162.5 148v3M163.5 269v3M184.5 155v1M192.5 330v1M215.5 354v4M218.5 429v2M799.5 253v3"/>
<path stroke="#6901df" stroke-width="2" d="M161 165v2M167 444v2M173 229v2m0 183v2M178 342v2M183 357v3M194 418v2M198 87v3m0 170v4M201 214v1M217 420v1M220 89v2M225 107v2m0 41v4m0 258v3M230 99v2m0 61v2m0 331v2M240 151v4m0 202v1m0 89v3M245 355v1m0 1v1M255 354v1M276 467v1M278 350v3M280 195v3M286 455v1M298 347v1M309 386v1M315 346v1M320 344v1M324 345v1M329 234v1M331 232v1m0 1v1m0 105v1m0 1v1M336 340v2m0 54v2M338 233v3M343 341v1M348 230v1m0 2v2M353 337v2m0 161v3M355 341v1M368 123v2m0 102v1M373 336v1M381 122v1M389 289v1m0 143v1m0 54v1M400 337v1"/>
<path stroke="#6901df" stroke-width="3" d="M317.5 342v3M326.5 341v3m0 29v2M340.5 339v3M350.5 160v1M357.5 379v3M370.5 340v1M378.5 211v2M383.5 122v3m0 106v1m0 107v1M386.5 335v1m0 3v1M394.5 224v1M397.5 456v1M402.5 230v1m0 111v1M405.5 312v2m0 3v2m0 2v1m0 9v1M408.5 222v1M411.5 221v1m0 6v1M414.5 220v1m0 6v1M420.5 221v1M423.5 116v1m0 103v1m0 85v2m0 4v1M426.5 313v1m0 1v2M429.5 111v1M432.5 112v1m0 107v1M435.5 111v1m0 107v1m0 6v1M438.5 226v1m0 85v1M441.5 109v1m0 109v1m0 87v2m0 4v1m0 14v1M444.5 472v1m0 60v2M447.5 204v1m0 122v2M450.5 109v1m0 108v1M453.5 479v3M456.5 108v1m0 217v2M463.5 216v1m0 6v1M466.5 315v1m0 2v2M476.5 320v2M479.5 306v1m0 125v1M486.5 213v1m0 84v2M496.5 99v1m0 215v2m0 3v2M503.5 97v1m0 4v1m0 112v1m0 74v3m0 16v1m0 5v2M521.5 270v3m0 108v3M532.5 205v1m0 5v1m0 269v2M547.5 88v1m0 114v1m0 120v1"/>
<path stroke="#6901df" stroke-width="4" d="M460 325v1M473 222v1M483 214v1m0 5v1m0 74v1M493 212v1m0 6v1m0 73v3m0 118v2m0 13v2M507 303v1m0 16v2m0 6v1m0 17v2M518 316v2m0 4v1M525 245v1M529 287v1m0 31v1m0 149v1M536 303v1m0 4v1m0 8v2M540 324v1M544 94v1m0 108v1m0 6v1m0 30v3M555 300v1m0 8v1M559 90v1m0 223v1M567 101v1m0 84v1m0 80v1m0 7v1m0 14v3m0 34v1m0 4v1m0 5v1m0 10v1m0 19v2m0 9v1m0 12v1m0 1v1m0 1v2m0 6v2m0 12v3m0 65v3m0 5v1m0 7v1m0 14v1M571 82v1m0 205v1m0 7v2m0 9v1M575 306v2M579 197v1m0 102v2M583 76v1M587 202v1m0 93v1m0 12v1m0 5v1m0 4v1M591 79v1m0 114v1m0 108v2m0 15v1M595 62v2m0 15v1m0 113v1m0 6v1m0 97v2m0 14v1m0 131v2M599 78v1m0 235v1M608 72v1m0 119v1m0 1v1m0 108v3m0 6v1M612 302v1m0 9v2m0 4v1M616 70v3m0 113v2m0 130v1M625 378v2M629 184v3m0 2v1m0 91v1m0 15v3M647 288v1M656 184v2M679 264v1M703 530v1"/>
<path stroke="#6901df" stroke-width="5" d="M603.5 311v1M651.5 287v3M660.5 280v1M669.5 178v3m0 102v1m0 2v2m0 169v1M674.5 175v1m0 2v3m0 115v1M683.5 174v4M688.5 172v2m0 1v1M698.5 274v2m0 9v4M707.5 296v1m0 232v1M712.5 282v3m0 244v2M722.5 275v3m0 14v1M727.5 429v1m0 32v1M748.5 405v2M769.5 258v2m0 19v1M774.5 101v1m0 152v1m0 11v1"/>
<path stroke="#6901df" stroke-width="6" d="M738 279v2M764 263v1M780 252v1m0 11v2M791 227v3"/>
<path stroke="#6f02ed" stroke-width="1" d="M97.5 510v1M99.5 510v2M101.5 508v1m0 3v1M102.5 512v1M104.5 512v1M105.5 507v1M106.5 512v1M108.5 512v1M109.5 512v1M110.5 512v1M112.5 507v1M114.5 511v1M119.5 511v1M120.5 506v1M121.5 511v1M124.5 506v1m0 4v1m0 8v3M127.5 506v1m0 4v1M128.5 506v1M132.5 505v1M135.5 149v2m0 354v1m0 4v1M137.5 505v1M138.5 505v1M139.5 160v1M140.5 504v1M142.5 510v1M143.5 427v4M146.5 509v1M148.5 503v1M153.5 207v3m0 30v1m0 247v3m0 17v1M155.5 455v1M156.5 457v1M157.5 503v1M159.5 461v1m0 41v1M162.5 459v1M165.5 464v1m0 42v1M168.5 506v1M171.5 355v3M181.5 373v3m0 79v1M184.5 455v1m0 6v1M185.5 462v1M188.5 462v1M189.5 455v1M192.5 217v3m0 155v1m0 86v1M199.5 455v1M212.5 460v1M218.5 498v2M231.5 356v1M234.5 452v1m0 5v1M246.5 452v1M253.5 457v1"/>
<path stroke="#6f02ed" stroke-width="2" d="M151 508v1M161 458v1M167 368v2M198 83v4m0 224v1m0 142v1M201 454v1M205 460v1M211 459v1M217 453v1m0 5v1M225 75v2m0 120v1m0 27v1m0 227v1M230 257v2m0 28v1m0 165v1m0 27v3M245 356v1M250 354v3m0 100v1M252 451v1M280 350v1m0 104v1M282 349v3m0 97v1M286 350v2M294 348v1M298 346v1m0 106v1M309 453v1M311 452v1M313 342v3M320 446v1M329 233v1m0 1v2M331 233v1m0 1v1M336 232v1M338 232v1M343 99v2m0 238v2M348 231v2M353 339v2M373 340v1M389 225v1m0 107v3m0 107v1M400 119v3"/>
<path stroke="#6f02ed" stroke-width="3" d="M317.5 446v1m0 5v1M345.5 451v1M350.5 232v1m0 105v2M360.5 445v1M383.5 449v1M391.5 121v2m0 107v1m0 103v1m0 108v1M397.5 337v1M402.5 441v1M405.5 259v3M408.5 122v3m0 316v1M411.5 117v1m0 1v1m0 211v1M417.5 221v1m0 6v1m0 107v1m0 110v1M420.5 228v1m0 88v3m0 16v1M423.5 323v2M426.5 220v1m0 101v1m0 94v3M429.5 318v2m0 9v1M432.5 322v1m0 11v1M435.5 323v2m0 115v1M438.5 111v3M441.5 315v1m0 123v1M444.5 59v1m0 10v1m0 40v2m0 106v1M450.5 113v1m0 190v1M453.5 315v3m0 127v1M456.5 109v2M463.5 325v2M466.5 320v2M469.5 315v1M476.5 106v1m0 196v5m0 136v1M479.5 215v1m0 74v2m0 31v2M486.5 103v3m0 181v2m0 155v1M489.5 100v1m0 3v1m0 115v1m0 108v1M503.5 300v1M532.5 315v1M547.5 93v1m0 115v1"/>
<path stroke="#6f02ed" stroke-width="4" d="M460 301v1m0 24v2M493 329v1m0 89v1M500 443v1M507 96v1m0 225v1M525 94v2m0 246v1M529 93v1m0 211v3m0 4v1m0 130v1M536 95v1m0 219v2M540 91v1m0 206v3m0 9v1M544 314v1M551 90v1M559 303v2m0 14v1M563 311v1M567 110v3m0 71v1m0 50v2m0 33v2m0 9v1m0 17v1m0 3v1m0 1v1m0 7v1m0 1v2m0 6v3m0 3v1m0 1v1m0 12v4m0 11v1m0 6v3m0 5v2m0 1v2m0 12v1m0 10v2m0 7v1m0 3v1m0 6v3m0 21v1m0 4v1m0 3v2m0 7v1m0 5v2m0 2v1m0 21v3m0 13v2m0 5v2m0 2v1M579 320v1M583 298v2m0 16v1m0 4v1M587 195v1m0 115v3M591 75v1m0 223v2m0 4v1M595 296v1m0 22v1M599 302v1M608 73v2m0 115v2m0 1v1m0 1v1m0 123v1M612 304v1M616 239v2m0 57v3M629 187v2m0 95v3M656 280v1M665 284v3M703 279v2m0 8v2"/>
<path stroke="#6f02ed" stroke-width="5" d="M603.5 193v1m0 104v3m0 23v2M642.5 288v1m0 14v1M674.5 289v3M683.5 290v1M688.5 286v2M693.5 282v3M698.5 276v2M707.5 282v3m0 4v1M717.5 93v1m0 189v1M732.5 268v1M748.5 272v1M769.5 267v3M774.5 265v1M785.5 252v3"/>
<path stroke="#6f02ed" stroke-width="6" d="M764 258v1"/>
<path stroke="#7502f7" stroke-width="1" d="M100.5 509v3M101.5 509v1m0 1v1M103.5 510v1M104.5 509v1M107.5 507v1M108.5 507v1M109.5 511v1M110.5 507v1M111.5 507v1M113.5 507v1m0 3v1M114.5 507v1M115.5 511v1M116.5 507v1M117.5 511v1M118.5 300v4m0 203v1m0 3v1M120.5 511v1M121.5 506v1M122.5 506v1M124.5 320v4M125.5 506v1m0 4v1M126.5 506v1M128.5 511v1M129.5 506v1m0 4v1M131.5 510v1M134.5 505v1M137.5 510v1M139.5 510v1M140.5 510v1M141.5 505v1M142.5 504v1M143.5 509v1M144.5 504v1m0 4v1M145.5 504v1M152.5 292v1M153.5 161v2M154.5 503v1m0 4v1M155.5 453v1m0 54v1M156.5 502v1M157.5 458v1M158.5 508v1M159.5 457v1m0 50v1M162.5 502v1M164.5 460v1M169.5 461v1m0 44v1M171.5 465v1M176.5 461v1M179.5 455v1M180.5 455v1m0 9v1M184.5 522v3M185.5 455v1M195.5 461v1M196.5 455v1M202.5 454v1M203.5 460v1M206.5 454v1M209.5 454v1m0 5v1M223.5 459v1M226.5 459v1M231.5 452v1M234.5 491v2M246.5 458v1M264.5 456v1M799.5 402v1"/>
<path stroke="#7502f7" stroke-width="2" d="M161 502v1m0 5v1M167 464v1M178 465v1M183 463v1m0 22v2M187 463v1M191 462v1M194 285v2M205 350v3m0 101v1M211 453v1M225 376v2m0 85v2M230 459v1M238 464v3M240 298v4m0 150v1m0 5v1M245 452v1M248 452v1M255 355v2M263 451v1M268 455v1M272 449v1M274 450v1M280 351v1M284 454v1M286 349v1M290 348v1m0 99v1M292 454v1M294 347v1m0 1v1M296 447v1M298 345v1M300 447v1M309 447v1M311 344v1m0 101v1M313 452v1M315 452v1M322 446v1m0 5v1M324 446v1M336 234v1m0 210v1M343 233v2M348 445v1M353 230v1m0 1v1M355 451v1M368 444v1m0 5v1M373 443v1m0 5v1M381 229v1m0 107v2M389 301v1m0 38v1M400 442v1m0 5v1"/>
<path stroke="#7502f7" stroke-width="3" d="M304.5 447v1M326.5 452v1M333.5 95v1m0 135v3m0 105v2m0 104v1M340.5 232v2m0 211v1M345.5 232v1m0 1v2M350.5 231v1m0 1v1m0 103v1m0 2v1M357.5 230v5m0 104v1M360.5 229v2m0 1v1m0 106v1M365.5 229v1m0 1v1m0 1v1m0 104v2m0 104v1M370.5 450v1M375.5 450v1M378.5 227v1m0 2v1m0 213v1M383.5 443v1M391.5 123v1M394.5 442v1M397.5 119v2m0 212v1M402.5 320v3m0 9v1M408.5 332v1m0 114v1M411.5 118v1m0 205v1M414.5 118v2M417.5 441v1M420.5 305v3m0 16v3m0 1v2M423.5 441v1M429.5 228v1m0 212v1M435.5 327v3M438.5 440v1M441.5 114v1m0 194v3m0 22v1M444.5 113v2m0 201v2m0 8v2M447.5 319v3m0 7v1m0 109v1m0 5v1M450.5 324v1m0 120v1M453.5 439v1M456.5 329v1m0 115v1M463.5 445v1M466.5 109v1m0 328v1m0 5v1M469.5 218v1m0 2v1m0 92v1M476.5 104v2m0 211v3M479.5 292v1M486.5 312v2m0 16v1M489.5 213v1M496.5 314v1m0 9v1m0 113v1M503.5 296v2M532.5 312v3m0 5v1m0 4v1M547.5 317v2m0 117v1m0 5v1"/>
<path stroke="#7502f7" stroke-width="4" d="M460 107v2m0 330v1M473 106v3m0 214v2M483 444v1M493 100v3M507 323v1M518 443v1M525 93v1M529 189v3m0 117v1m0 10v1m0 4v1m0 80v1m0 30v1m0 60v1M536 206v3M540 311v2M544 320v1m0 115v1m0 12v1M551 89v1m0 1v1M555 323v1M559 85v1m0 237v1m0 111v1M563 239v1M567 282v2m0 5v1m0 3v3m0 16v1m0 21v2m0 1v1m0 12v2m0 12v2m0 30v1m0 7v1m0 2v1m0 8v2m0 24v3m0 9v1m0 20v3m0 27v1m0 4v1M571 440v1M575 296v1M579 78v1m0 4v1m0 350v1m0 5v1M583 197v1m0 6v1M587 300v3M591 315v1m0 117v1M599 315v1m0 116v1M608 432v1m0 5v1M612 189v2m0 1v1m0 1v1M616 188v2m0 1v3M625 430v1m0 5v1M629 429v1M656 285v2m0 140v1M665 287v1m0 9v2M679 424v1m0 6v1M703 293v1m0 127v1"/>
<path stroke="#7502f7" stroke-width="5" d="M603.5 192v1m0 2v1m0 242v1M633.5 429v1M642.5 301v1m0 12v1M651.5 285v2M660.5 297v2m0 128v1M669.5 284v2m0 10v1m0 5v1m0 129v1M688.5 293v1m0 2v4m0 123v1M693.5 423v1M698.5 295v1M707.5 287v2M712.5 285v2m0 133v1m0 6v1M717.5 266v2m0 158v1M722.5 282v2m0 134v1M727.5 425v1M732.5 275v3M753.5 411v1M758.5 410v1M774.5 272v1m0 135v1m0 7v1M785.5 265v2m0 1v1m0 136v1m0 7v1"/>
<path stroke="#7502f7" stroke-width="6" d="M738 285v2m0 1v1m0 126v1m0 6v1M764 270v2M780 268v1m0 3v2m0 1v1m0 11v3M791 262v1m0 2v1m0 1v4"/>
<path stroke="#7a03fd" stroke-width="1" d="M92.5 228v1M101.5 510v1M102.5 509v3M103.5 511v1M104.5 510v2M105.5 511v1M107.5 508v1m0 2v1M108.5 509v1M109.5 508v1m0 1v1M111.5 508v1M113.5 508v2M116.5 308v3M117.5 291v3M126.5 511v1M130.5 510v1M134.5 510v1M136.5 510v1M138.5 510v1M139.5 138v4M141.5 510v1M143.5 502v3M145.5 509v1M147.5 509v1M148.5 509v1M149.5 509v1M152.5 508v1M153.5 469v1M155.5 454v1m0 42v2m0 4v1M156.5 454v3m0 51v1M157.5 455v1m0 52v1M158.5 457v3M162.5 462v2m0 43v1M163.5 464v1m0 42v1M164.5 462v1m0 1v1m0 42v1M165.5 460v2m0 1v1m0 37v1M168.5 461v1M169.5 465v1M170.5 461v1m0 44v1M171.5 461v1M174.5 90v3m0 368v1m0 3v1M175.5 461v1m0 3v1M181.5 463v1M188.5 455v1M192.5 455v1M195.5 455v1M196.5 461v1M202.5 460v1M203.5 454v1M206.5 460v1M212.5 454v1M215.5 460v1M218.5 84v2m0 367v1M241.5 452v1M264.5 353v1M799.5 244v2m0 15v1m0 2v1"/>
<path stroke="#7a03fd" stroke-width="2" d="M161 460v3M167 460v1m0 45v1M173 461v1M178 461v1M187 455v1M194 455v1M198 421v1m0 43v3M208 454v1M214 454v1m0 5v1M220 459v1M222 459v1M228 459v1M230 422v3M236 458v1M238 458v1M240 208v4M245 343v2m0 113v1M255 451v1m0 5v1M257 451v1m0 5v1M259 457v1M261 451v1M263 457v1M266 456v1M268 353v1M272 455v1M282 455v1M284 448v1M286 448v1m0 5v1M288 348v1m0 105v1M290 454v1M292 348v2M294 454v1M298 447v1M302 447v1m0 5v1M307 344v1m0 1v1m0 100v1m0 5v1M311 345v1M320 452v1M329 446v1m0 5v1M336 233v1m0 1v1m0 95v1M338 340v2m0 103v1M343 232v1M348 338v2M353 231v1m0 1v2m0 216v1M355 229v2m0 1v2M363 80v2m0 256v1m0 105v1m0 5v1M373 228v4M381 227v2m0 1v2m0 104v1M400 226v1m0 1v1"/>
<path stroke="#7a03fd" stroke-width="3" d="M326.5 446v1M333.5 234v1m0 106v1M340.5 231v1m0 2v1m0 216v1M345.5 231v1m0 1v1m0 105v1m0 1v1M350.5 230v1m0 214v1m0 5v1M357.5 337v2m0 111v1M360.5 231v1m0 1v1m0 103v1M365.5 232v1m0 104v1m0 2v1m0 109v1M370.5 230v1m0 213v1M375.5 337v1m0 1v1m0 104v1M378.5 228v2m0 1v1m0 105v3M386.5 227v1m0 1v1m0 219v1M397.5 121v1m0 273v1m0 46v1M402.5 327v2M405.5 226v1m0 1v1m0 97v2m0 8v1m0 111v1M408.5 117v1m0 345v1M411.5 441v1M414.5 117v1m0 323v1m0 5v1M417.5 319v2M420.5 116v3m0 201v1m0 9v1m0 110v1M423.5 317v2M426.5 227v1m0 86v1m0 126v1M429.5 221v1m0 100v1m0 5v1m0 118v1M432.5 323v2m0 1v2M435.5 309v1m0 3v1M438.5 318v3M441.5 226v1m0 102v1m0 115v1M444.5 446v1M447.5 334v1M450.5 318v3m0 118v1M456.5 439v1M463.5 311v1M466.5 107v2m0 110v1m0 2v1M469.5 106v1m0 1v2m0 107v1m0 1v2m0 1v1m0 67v3m0 23v2m0 8v1m0 117v1M476.5 107v1m0 113v1M479.5 444v1M486.5 438v1M489.5 384v1m0 59v1M496.5 212v4M503.5 303v3m0 131v1m0 5v1M521.5 437v1m0 5v1M547.5 295v4m0 5v1"/>
<path stroke="#7a03fd" stroke-width="4" d="M460 98v1m0 10v2m0 334v1M473 105v1m0 219v1M493 103v1M500 437v1M507 153v1m0 55v1m0 1v4m0 97v3M514 437v1M518 437v1M525 437v1M529 206v1m0 2v2m0 77v2M536 209v3m0 112v1m0 117v1M540 318v2m0 122v1M544 236v1m0 73v3m0 12v1m0 116v1M555 293v2m0 140v1m0 5v1M559 308v1m0 132v1M567 89v2m0 209v2m0 15v1m0 21v1m0 49v2M571 286v2m0 146v1M575 81v3m0 224v1m0 6v2m0 123v1M587 439v1M591 294v3M595 439v1M599 193v1m0 1v2m0 123v1M608 293v3M612 72v3m0 116v1m0 124v1M616 190v1m0 121v1m0 124v1M629 295v2m0 8v1m0 129v1M638 429v1m0 5v1M647 434v1M656 302v2m0 1v2M665 426v1M679 300v1M703 292v1m0 1v4m0 130v1"/>
<path stroke="#7a03fd" stroke-width="5" d="M603.5 75v1m0 118v1m0 1v1M620.5 430v1M633.5 436v1M642.5 305v1m0 1v1m0 120v1m0 5v1M651.5 427v1m0 6v1M660.5 300v2m0 2v1m0 128v1M669.5 297v2m0 2v1m0 1v1M674.5 299v1m0 1v2m0 122v1M683.5 296v1m0 1v3m0 123v1m0 6v1M688.5 295v1m0 4v1M693.5 296v2M698.5 292v3m0 1v2m0 124v1m0 6v1M707.5 281v1m0 146v1m0 95v2M717.5 262v1m0 9v3m0 15v2M727.5 287v2M732.5 284v3m0 2v1m0 134v1M743.5 422v1M748.5 284v1m0 128v1M753.5 419v1M774.5 260v5m0 5v2m0 1v5M785.5 267v1m0 1v4"/>
<path stroke="#7a03fd" stroke-width="6" d="M738 282v3m0 2v1M764 272v1m0 136v1m0 8v1M780 269v3m0 2v1M791 259v1m0 3v2m0 1v1m0 89v1m0 55v1m0 108v1"/>
<path stroke="#8004ff" stroke-width="1" d="M103.5 509v1M105.5 508v3M106.5 508v4M107.5 509v2M108.5 510v2M109.5 509v1M110.5 509v1M111.5 509v2M112.5 511v1M113.5 510v1M114.5 508v2M117.5 508v3M118.5 508v1M124.5 314v2M154.5 504v2M155.5 238v1M158.5 456v1m0 3v1m0 42v1M159.5 458v3M162.5 460v2M163.5 460v3M164.5 461v1m0 1v1M165.5 462v1M168.5 465v1M170.5 465v1M176.5 465v1M179.5 458v1m0 1v1m0 3v1M181.5 288v1M184.5 59v1M189.5 462v1M199.5 461v1M215.5 454v1M218.5 459v1M223.5 453v1M226.5 453v1M231.5 458v1M241.5 458v1M253.5 451v1M264.5 352v1m0 97v1M799.5 259v2m0 1v2m0 1v2"/>
<path stroke="#8004ff" stroke-width="2" d="M161 459v1M173 465v1M183 455v1M191 455v1M194 462v1M198 461v1M201 460v1M208 460v1M220 453v1M222 453v1M225 207v2m0 250v1M228 453v1M230 282v2M233 452v1m0 5v1M236 452v1M238 452v1M240 72v2M243 261v2m0 189v1m0 5v1M248 172v4m0 282v1M250 451v1M252 457v1M259 451v1M261 457v1M266 450v1M268 352v1m0 96v1M270 450v1m0 5v1M274 351v2m0 103v1M276 449v1m0 5v1M278 449v1m0 5v1M280 449v1M288 349v1m0 98v1M290 347v1m0 1v1M292 347v1m0 100v1M294 448v1M296 453v1M300 453v1M307 204v1m0 140v1M311 346v1M313 446v1M315 446v1M324 452v1M331 446v1m0 5v1M336 451v1M338 339v1m0 111v1M343 231v1m0 3v1m0 209v1m0 5v1M348 340v1m0 110v1M353 445v1M355 231v1m0 105v1m0 107v1m0 35v1M363 230v3m0 104v1m0 1v1M381 443v1m0 5v1M389 449v1M400 223v3m0 98v1m0 7v2"/>
<path stroke="#8004ff" stroke-width="3" d="M304.5 453v1M333.5 344v1m0 106v1M345.5 340v1m0 104v1M357.5 444v1M360.5 338v1m0 112v1M365.5 230v1M370.5 229v1m0 2v2M378.5 450v1M383.5 230v1m0 105v1M386.5 226v1m0 1v1m0 1v1M391.5 331v2m0 116v1M394.5 333v1m0 114v1M397.5 225v2m0 1v2m0 218v1M402.5 333v1m0 113v1M405.5 119v1m0 104v1m0 2v1m0 100v3m0 111v1M408.5 118v1m0 212v1M411.5 322v2m0 3v2m0 118v1M414.5 316v2m0 6v3m0 4v1m0 4v1M417.5 116v3m0 198v2m0 10v3M420.5 313v3m0 5v1m0 1v1m0 3v1m0 3v1m0 115v1M423.5 223v1m0 85v3m0 135v1M426.5 113v3m0 207v5m0 2v1m0 4v1m0 111v1M429.5 326v1m0 3v1M432.5 330v1m0 110v1m0 5v1M435.5 310v1m0 1v1m0 8v2m0 123v1M438.5 327v1m0 118v1M444.5 328v1m0 111v1M447.5 218v1m0 3v2m0 88v2m0 8v5M450.5 325v4M453.5 109v2m0 107v2m0 1v3m0 68v1m0 15v2m0 3v2m0 3v2m0 1v7M456.5 333v1M463.5 310v1m0 7v2m0 1v4m0 114v1M466.5 106v1m0 110v2m0 1v1m0 71v3m0 7v2m0 3v3m0 2v3m0 1v2m0 4v6m0 4v1M469.5 107v1m0 195v3m0 3v2m0 9v2m0 1v2m0 6v1m0 106v1M476.5 216v5m0 79v3m0 9v3m0 10v1m0 4v1m0 107v1M479.5 299v2m0 4v1m0 5v2m0 3v2m0 1v4m0 2v2m0 4v1m0 106v1M486.5 320v2m0 1v3M489.5 257v1m0 62v5m0 113v1M496.5 102v1m0 113v2m0 101v1m0 124v1M503.5 313v2m0 2v2m0 1v1m0 2v1M510.5 437v1m0 5v1M521.5 273v2M532.5 93v2m0 200v2m0 2v2m0 16v2m0 117v1m0 5v1M547.5 306v2m0 2v7m0 2v1"/>
<path stroke="#8004ff" stroke-width="4" d="M460 217v3m0 1v2m0 95v2m0 3v2M473 293v1m0 14v3m0 7v5m0 115v1M483 304v1m0 3v2m0 1v2m0 4v8m0 113v1M493 213v1m0 103v8m0 119v1M507 210v1m0 87v3m0 14v1m0 121v1m0 5v1M514 443v1M518 312v1m0 8v1M525 443v1M529 207v2m0 86v3m0 20v1M536 311v1m0 7v1M540 205v1m0 1v1m0 1v2m0 96v3m0 126v1M544 305v3m0 5v1M551 290v3m0 9v3m0 4v6m0 4v1m0 115v1M555 203v2m0 2v1m0 84v1m0 25v1M559 202v1m0 3v2m0 88v2m0 11v5m0 1v2M563 86v1m0 1v1m0 114v4m0 91v3m0 5v5m0 1v1m0 2v3M567 85v3m0 214v1m0 4v3m0 125v1m0 5v1M571 203v1m0 1v1m0 103v2M575 293v3m0 9v1m0 3v1m0 1v4M579 199v1m0 3v1m0 111v1M583 312v1m0 120v1m0 5v1M587 310v1m0 122v1M591 313v2m0 124v1M595 311v1M599 197v1m0 108v6m0 126v1M612 193v1m0 103v2m0 9v1m0 2v1m0 2v1m0 2v1m0 113v1m0 5v1M616 118v1m0 169v1m0 3v3m0 11v2m0 2v1M629 300v5m0 1v3m0 3v1M647 289v3m0 10v1m0 4v1m0 120v1M656 284v1m0 10v2m0 1v3m0 3v1m0 2v1M665 288v1m0 12v4M679 285v2m0 1v3m0 3v4M703 283v4"/>
<path stroke="#8004ff" stroke-width="5" d="M603.5 74v1m0 1v1m0 218v3m0 14v2m0 118v1M642.5 300v1m0 1v1m0 1v1m0 1v1m0 1v1M651.5 290v2m0 1v2m0 2v1m0 3v1M660.5 294v3m0 2v1m0 2v2M669.5 300v1m0 3v1m0 120v1M674.5 272v1m0 10v2m0 3v1m0 3v4m0 1v1m0 2v1m0 2v1m0 128v1M683.5 268v3m0 18v1m0 1v3m0 3v1m0 3v1M688.5 284v2m0 3v4M693.5 277v2m0 8v2m0 2v2m0 1v1m0 3v2M698.5 280v2m0 7v3M707.5 278v2m0 6v1m0 4v3M712.5 278v1m0 8v1m0 1v1m0 4v1M717.5 275v2m0 5v1m0 1v3m0 1v2m0 2v2m0 125v1M722.5 284v1m0 141v1M727.5 266v1m0 10v2m0 4v1m0 1v2m0 2v2m0 126v1M732.5 269v3m0 8v2m0 5v2M743.5 259v1m0 2v2m0 6v9m0 3v1m0 1v1M748.5 270v1m0 3v2m0 1v4m0 2v1M758.5 418v1M769.5 266v1m0 9v3M774.5 267v2M785.5 255v3m0 3v3M796.5 254v9m0 1v1m0 1v1m0 1v1m0 142v1"/>
<path stroke="#8004ff" stroke-width="6" d="M738 269v2m0 3v1m0 1v3M764 265v1m0 1v1m0 5v2m0 1v4M780 263v1m0 2v1m0 148v1M791 260v2"/>
<path stroke="#8505fd" stroke-width="1" d="M102.5 244v3M108.5 508v1M110.5 510v1M112.5 426v2m0 80v3M114.5 510v1M115.5 509v2M116.5 509v1M120.5 507v1m0 2v1M146.5 504v1M147.5 504v1M149.5 503v1M152.5 498v6M153.5 495v9M154.5 506v2M155.5 504v1M157.5 456v2M163.5 502v2M164.5 502v1M168.5 498v4M169.5 497v5M170.5 494v7M179.5 456v2m0 1v1M181.5 459v1M253.5 80v2M799.5 258v1m0 152v1"/>
<path stroke="#8505fd" stroke-width="2" d="M151 501v3M161 503v1m0 2v1M167 461v2m0 37v2M173 462v1m0 1v1M230 220v2M315 343v3M324 342v3M355 338v2M363 233v1M368 231v1m0 105v2M389 229v2M400 227v1"/>
<path stroke="#8505fd" stroke-width="3" d="M345.5 338v1M370.5 231v1m0 106v1M375.5 338v1M383.5 227v1m0 1v1m0 108v1M386.5 443v1M394.5 335v1M402.5 229v1m0 108v1M405.5 118v1m0 106v1m0 106v1M408.5 119v1m0 216v1M414.5 104v2m0 119v1M420.5 224v1M423.5 113v1m0 1v1M429.5 112v1m0 1v2M435.5 114v1M447.5 219v3M450.5 224v1m0 104v1m0 3v1M453.5 111v1m0 108v1m0 112v1M456.5 223v1M466.5 221v1M469.5 327v1M486.5 215v1M496.5 101v1m0 1v1m0 222v2M503.5 214v1M532.5 92v1"/>
<path stroke="#8505fd" stroke-width="4" d="M460 220v1m0 112v1M473 326v1m0 4v1m0 112v1M483 325v1m0 4v1M493 106v1m0 108v2m0 221v1M518 325v2M536 436v1M540 206v1m0 1v1M544 93v1M551 204v4m0 233v1M555 88v1m0 116v2M559 203v3M563 85v1m0 236v1m0 111v1m0 5v1M567 202v1m0 2v2m0 115v1M571 84v2m0 114v3m0 1v1M575 434v1M579 200v3M583 77v4M595 76v1m0 356v1M599 74v2m0 118v1m0 3v1M612 315v1M616 317v1m0 113v1M629 309v3M647 303v4M656 434v1M665 300v1m0 132v1M679 298v2m0 1v1"/>
<path stroke="#8505fd" stroke-width="5" d="M603.5 315v1M620.5 436v1M651.5 305v3M688.5 430v1M693.5 295v1m0 133v1M707.5 421v1M712.5 290v1M722.5 286v1m0 1v4M732.5 283v1m0 132v1M743.5 281v1m0 1v1m0 1v2m0 127v1M748.5 281v2m0 138v1M769.5 271v1m0 3v1m0 132v1m0 8v1M796.5 265v1m0 1v1m0 134v1"/>
<path stroke="#8505fd" stroke-width="6" d="M764 275v1M780 407v1M791 404v1"/>
<path stroke="#8906f7" stroke-width="1" d="M110.5 508v1m0 2v1M115.5 508v1M116.5 166v3m0 341v1M118.5 509v2M119.5 508v1m0 1v1M120.5 508v2M121.5 509v1M122.5 509v1M123.5 508v2M124.5 389v1M126.5 510v1M139.5 387v1M152.5 238v4m0 34v2M153.5 108v1m0 133v2m0 260v2M155.5 426v1m0 78v1m0 17v2M156.5 503v1M157.5 505v1M158.5 507v1M159.5 504v1m0 1v2M163.5 463v1m0 40v1M165.5 506v1M168.5 462v3M169.5 464v1M170.5 463v2M171.5 463v2M174.5 462v1M181.5 267v2m0 181v2m0 5v2m0 3v1M185.5 456v2m0 3v1M196.5 244v1M246.5 384v2"/>
<path stroke="#8906f7" stroke-width="2" d="M167 463v1M173 463v1M194 345v2M198 520v1M225 239v4M230 299v3m0 144v2M240 111v2M278 459v2M282 282v3M309 343v1m0 1v1m0 8v2M320 341v2M324 341v1M336 369v1M355 340v1M368 228v3m0 108v1M373 337v3M389 227v2M400 390v2"/>
<path stroke="#8906f7" stroke-width="3" d="M326.5 406v1M370.5 336v2m0 1v1M383.5 226v1m0 1v1m0 108v1M391.5 226v4M394.5 334v1m0 2v1M397.5 227v1M402.5 224v2M408.5 224v1M414.5 221v1m0 4v1M417.5 223v2m0 1v2M420.5 223v1m0 3v1M423.5 114v1m0 106v2m0 1v3m0 109v1M426.5 420v1M429.5 113v1m0 221v1M432.5 113v3m0 105v1M435.5 112v2M438.5 220v3m0 1v1m0 104v1m0 4v1M444.5 221v1m0 2v1m0 109v1M450.5 222v1M456.5 218v2m0 1v2M479.5 104v4m0 34v1M486.5 214v1m0 3v2M496.5 100v1m0 224v1m0 2v1M503.5 98v1m0 111v4M532.5 208v2"/>
<path stroke="#8906f7" stroke-width="4" d="M473 219v1M483 102v3m0 112v1M493 214v1m0 2v2M507 97v1M518 323v2M529 95v2m0 402v1M544 91v1m0 275v3M551 203v1M555 89v1m0 118v1M563 87v1m0 114v1M567 201v1m0 1v2M571 83v1m0 234v1m0 3v1M575 204v1m0 113v1M579 198v1M587 199v1M591 195v1m0 1v2m0 1v1M595 78v1m0 117v1m0 119v2M599 77v1M608 315v3M616 313v1"/>
<path stroke="#8906f7" stroke-width="5" d="M603.5 318v1M651.5 303v2M674.5 503v1M707.5 290v1m0 3v2M712.5 288v1m0 2v3M722.5 287v1M743.5 280v1M769.5 272v3M774.5 291v1M796.5 263v1"/>
<path stroke="#8906f7" stroke-width="6" d="M791 59v2"/>
<path stroke="#8e08ed" stroke-width="1" d="M116.5 508v1M119.5 509v1M121.5 507v2m0 1v1M122.5 510v1M123.5 507v1m0 2v1M124.5 507v2m0 1v1M125.5 507v2M126.5 508v1M127.5 508v1M128.5 509v1M153.5 506v2M155.5 506v2M156.5 504v3M157.5 504v1m0 1v2M158.5 504v2M162.5 506v1M163.5 505v2M164.5 503v1m0 1v1M169.5 462v1M170.5 462v1M171.5 462v1M174.5 463v2M175.5 463v1M180.5 457v1m0 1v1m0 1v1M181.5 456v1m0 3v2M184.5 459v1M185.5 458v2"/>
<path stroke="#8e08ed" stroke-width="2" d="M161 504v2m0 1v1M167 502v1m0 1v1M183 456v2m0 1v1m0 2v1M309 344v1M320 343v1M389 226v1"/>
<path stroke="#8e08ed" stroke-width="3" d="M326.5 129v1M386.5 336v1M391.5 225v1M394.5 225v1m0 2v2m0 106v1M397.5 335v1M402.5 226v3M408.5 225v1m0 1v2M411.5 225v1m0 1v1M414.5 222v3M417.5 222v1M420.5 222v1m0 2v2M432.5 222v5M435.5 330v1M438.5 223v1m0 1v1M444.5 220v1m0 2v1m0 105v1M450.5 110v1m0 1v1m0 106v3m0 1v1M453.5 328v1M456.5 220v1M463.5 218v1m0 2v2M479.5 216v1M486.5 216v2M489.5 101v2m0 113v1m0 109v1M503.5 99v2m0 225v1M532.5 206v2M547.5 204v1m0 1v1m0 114v1"/>
<path stroke="#8e08ed" stroke-width="4" d="M460 328v1M473 221v1M507 98v2M536 92v2M544 92v1m0 114v1M551 322v1M555 87v1M575 199v3m0 115v1m0 1v2M579 82v1M587 196v1m0 1v1m0 1v1m0 116v1M591 78v1m0 117v1m0 2v1M595 77v1m0 117v1m0 1v2m0 116v1M599 76v1M608 318v1M616 314v3"/>
<path stroke="#9209df" stroke-width="1" d="M119.5 507v1M122.5 507v2M125.5 509v2M126.5 507v1m0 1v1M127.5 509v1M128.5 507v2M131.5 507v1M132.5 507v1m0 1v1M156.5 507v1M158.5 506v1M159.5 505v1M162.5 503v1M164.5 504v1m0 1v1M165.5 502v1m0 2v1M169.5 463v1M170.5 501v1m0 1v1M175.5 462v1m0 1v1M180.5 456v1m0 1v1m0 1v1m0 1v1M184.5 457v2m0 2v1M185.5 460v1M188.5 456v1m0 3v1M192.5 461v1"/>
<path stroke="#9209df" stroke-width="2" d="M167 503v1m0 1v1M183 460v2M187 460v1M194 457v1m0 3v1M389 337v1"/>
<path stroke="#9209df" stroke-width="3" d="M386.5 337v1M394.5 226v1M397.5 334v1m0 1v1M408.5 223v1M411.5 223v1M417.5 225v1M432.5 333v1M435.5 220v3m0 1v1m0 110v1M441.5 110v1m0 1v2M444.5 222v1M450.5 111v1M463.5 220v1M479.5 219v2M489.5 103v1m0 110v2m0 1v1m0 109v2M503.5 101v1m0 222v1m0 2v1M532.5 210v1M547.5 205v1m0 2v1m0 111v1"/>
<path stroke="#9209df" stroke-width="4" d="M473 217v2m0 1v1M483 216v1m0 1v2M529 94v1M536 91v1m0 2v1M540 92v1m0 1v1m0 227v1M544 204v2m0 3v1M551 321v1M559 86v1m0 1v1M575 202v2M579 79v1M583 200v4M587 197v1m0 3v1m0 117v1M591 76v2m0 240v1M595 194v1m0 4v1m0 118v1"/>
<path stroke="#9209df" stroke-width="5" d="M603.5 316v2"/>
<path stroke="#970bce" stroke-width="1" d="M124.5 509v1M127.5 507v1m0 2v1M128.5 510v1M129.5 507v1M130.5 508v2M132.5 506v1M134.5 506v1m0 1v1M136.5 506v1M140.5 507v1M141.5 506v1m0 2v1M142.5 508v1M152.5 504v2m0 1v1M153.5 374v2M162.5 504v2M165.5 503v2M170.5 502v1M176.5 464v1M180.5 464v1M184.5 456v1m0 3v1M188.5 457v2m0 2v1M192.5 459v2"/>
<path stroke="#970bce" stroke-width="2" d="M178 463v2M183 458v1M187 459v1m0 2v1M194 456v1m0 1v1m0 1v1M389 336v1m0 1v2M400 334v3"/>
<path stroke="#970bce" stroke-width="3" d="M386.5 338v1M394.5 227v1M408.5 226v1M411.5 222v1m0 1v1m0 1v1M420.5 332v2M423.5 331v1M426.5 221v1m0 1v2m0 1v1M429.5 224v1m0 1v2m0 103v1M432.5 331v1M435.5 223v1M441.5 111v1m0 109v1m0 1v1M463.5 217v1m0 1v1m0 107v1M479.5 217v2M486.5 328v1M489.5 218v2M503.5 325v1M547.5 89v1m0 1v1m0 115v1m0 114v2"/>
<path stroke="#970bce" stroke-width="4" d="M483 215v1M529 321v1m0 1v2M540 93v1M544 206v1m0 1v1m0 115v1M551 320v1m0 2v1M559 87v1m0 1v1M579 317v1M583 198v2M587 316v1m0 1v1M591 319v1"/>
<path stroke="#9d0eaf" stroke-width="1" d="M129.5 508v3M130.5 506v2M131.5 506v1m0 1v2M132.5 508v1M133.5 506v1m0 1v2M134.5 507v1m0 1v1M135.5 507v2M136.5 507v3M137.5 506v4M139.5 506v2m0 1v1M140.5 506v1m0 1v2M141.5 507v2M142.5 505v3m0 1v1M143.5 507v1M144.5 505v1M145.5 506v2M147.5 507v1M152.5 506v1M153.5 159v2M168.5 502v4M169.5 502v2M170.5 504v2M176.5 462v2M179.5 461v3M180.5 463v1M188.5 459v1M189.5 456v6M192.5 456v3M195.5 459v1"/>
<path stroke="#9d0eaf" stroke-width="2" d="M151 505v2M178 462v1M187 456v3m0 2v1M191 456v6M194 459v1M198 457v3M205 457v2"/>
<path stroke="#9d0eaf" stroke-width="3" d="M405.5 333v1M417.5 333v1M420.5 334v2M426.5 222v1m0 2v1M429.5 222v2m0 1v1M432.5 332v1M435.5 225v1M441.5 220v1m0 1v1m0 1v2m0 104v3M447.5 333v1M456.5 330v1m0 1v1M463.5 332v1M469.5 328v1M486.5 326v1m0 2v1M532.5 324v1M547.5 90v1m0 1v1"/>
<path stroke="#9d0eaf" stroke-width="4" d="M483 326v2M493 326v1m0 1v1M507 324v4M529 322v1M540 320v2m0 1v1M544 323v1M555 321v2M559 321v1M579 80v2m0 234v1m0 1v2M583 319v2M591 316v2M599 316v4"/>
<path stroke="#a5137b" stroke-width="1" d="M133.5 507v1M135.5 506v1m0 2v1M138.5 506v1m0 2v1M139.5 508v1M140.5 505v1M143.5 505v2m0 1v1M144.5 506v3M145.5 505v1m0 2v1M146.5 505v1m0 1v1M147.5 505v2m0 1v1M148.5 504v1m0 2v1M149.5 504v2m0 1v2M169.5 504v2M195.5 456v3m0 1v1M196.5 458v1M203.5 455v1m0 2v2M206.5 456v1M218.5 455v1M231.5 453v3m0 1v1M234.5 453v2M246.5 454v2m0 1v1M253.5 455v1"/>
<path stroke="#a5137b" stroke-width="2" d="M151 504v1m0 2v1M198 455v2m0 3v1M201 455v1m0 1v1m0 1v1M205 455v2m0 2v1M208 455v1m0 1v3M214 455v4M217 455v1m0 2v1M222 456v1M225 455v1m0 2v1M230 454v2m0 2v1"/>
<path stroke="#a5137b" stroke-width="3" d="M402.5 334v2M405.5 334v1M408.5 333v1m0 1v1M417.5 332v1m0 1v1M426.5 331v1m0 2v1M441.5 333v1M447.5 330v2M456.5 331v1M469.5 329v1M476.5 326v3M479.5 328v1M486.5 327v1M532.5 321v3"/>
<path stroke="#a5137b" stroke-width="4" d="M483 328v2M493 325v1m0 1v1M536 320v2M544 321v2M555 319v2M559 320v1m0 1v1M567 318v2M571 321v1M583 317v2"/>
<path stroke="#ad193f" stroke-width="1" d="M138.5 507v2M146.5 506v1m0 1v1M148.5 505v1M149.5 506v1M196.5 456v2m0 1v2M199.5 456v2m0 1v2M206.5 457v1m0 1v1M209.5 455v1m0 1v1M212.5 457v3M218.5 454v1m0 1v3M231.5 456v1M234.5 456v1M241.5 455v1M246.5 453v1m0 2v1M253.5 452v3"/>
<path stroke="#ad193f" stroke-width="2" d="M201 456v1m0 1v1M208 456v1M211 454v3M214 459v1M217 454v1m0 1v2M220 455v1m0 1v1M222 454v2m0 1v2M225 454v1m0 1v2M230 456v2M245 456v1M259 454v2M261 452v1m0 2v2M286 449v5M288 450v1m0 1v1"/>
<path stroke="#ad193f" stroke-width="3" d="M402.5 336v2M405.5 335v1M408.5 334v1M414.5 332v1m0 2v1M417.5 335v1M438.5 330v2M447.5 332v1M466.5 328v4M469.5 330v1M476.5 329v1M479.5 327v1m0 2v1"/>
<path stroke="#ad193f" stroke-width="4" d="M536 322v2M563 319v1m0 1v1M567 320v2M571 319v2"/>
<path stroke="#b42000" stroke-width="1" d="M148.5 506v1m0 1v1M199.5 458v1M202.5 455v4M203.5 456v2M206.5 455v1m0 2v1M209.5 456v1m0 1v2M212.5 455v2M215.5 456v4M223.5 454v2m0 2v1M226.5 456v3M234.5 455v1m0 1v1M241.5 453v1M253.5 456v1"/>
<path stroke="#b42000" stroke-width="2" d="M211 457v2M220 454v1m0 1v1m0 1v1M228 455v2m0 1v1M233 454v1m0 1v1M236 453v1m0 1v1M238 453v1m0 1v3M240 457v1M243 456v2M245 454v1m0 2v1M250 456v1M257 452v1M259 452v2m0 2v1M272 450v2m0 1v1M280 452v1M294 451v3M298 449v1M300 448v2m0 1v2M307 449v1M311 447v5M329 447v1"/>
<path stroke="#b42000" stroke-width="3" d="M326.5 449v1M345.5 447v1M414.5 333v2M426.5 332v2M429.5 332v1m0 1v1M435.5 331v4M438.5 332v1M444.5 331v1M479.5 329v1"/>
<path stroke="#b42000" stroke-width="4" d="M473 328v3M563 318v1m0 1v1"/>
<path stroke="#b42000" stroke-width="5" d="M769.5 412v1m0 1v2"/>
<path stroke="#bb2800" stroke-width="1" d="M202.5 459v1M215.5 455v1M223.5 456v2M226.5 454v2M241.5 454v1m0 1v2"/>
<path stroke="#bb2800" stroke-width="2" d="M228 454v1m0 2v1M233 455v1m0 1v1M236 454v1m0 1v2M238 454v1M240 455v1M243 454v1M245 453v1m0 1v1M248 453v4M250 452v4M252 454v1M255 452v1m0 1v1m0 1v1M257 455v1M261 453v2M263 452v1m0 2v1M266 454v1M270 452v4M272 452v1m0 1v1M274 453v1M278 451v2m0 1v1M280 450v2m0 1v2M282 453v1M288 449v1m0 1v1m0 1v1M292 449v1m0 1v1M294 449v1M296 449v2m0 1v1M298 448v1m0 1v3M300 450v1M307 450v3M329 450v1M338 446v1m0 2v2M353 449v1"/>
<path stroke="#bb2800" stroke-width="3" d="M317.5 448v1m0 2v1M326.5 447v2m0 1v1M345.5 446v1m0 1v1m0 1v1M365.5 447v1M423.5 335v1M429.5 333v1M438.5 333v1M444.5 332v2M450.5 330v1M453.5 332v1M463.5 328v1"/>
<path stroke="#bb2800" stroke-width="4" d="M460 330v1M473 327v1"/>
<path stroke="#bb2800" stroke-width="5" d="M722.5 425v1M758.5 412v1m0 3v2M769.5 410v2m0 1v1m0 2v1M785.5 408v2m0 1v2"/>
<path stroke="#bb2800" stroke-width="6" d="M738 420v2M791 408v1m0 1v2"/>
<path stroke="#c23200" stroke-width="1" d="M264.5 451v1"/>
<path stroke="#c23200" stroke-width="2" d="M233 453v1M240 453v2m0 1v1M243 453v1m0 1v1M248 457v1M252 452v1m0 2v2M255 453v1m0 1v1M257 453v2m0 1v1M266 451v1m0 1v1m0 1v1M268 451v1m0 1v1M270 451v1M274 454v2M276 451v2M282 450v1m0 1v1m0 1v1M284 449v1M290 450v1M292 450v1m0 1v2M294 450v1M296 448v1M302 448v1m0 3v1M307 448v1M309 449v1M320 447v2m0 1v1M322 449v1M329 448v2m0 1v1M331 448v1m0 2v1M338 447v2M343 449v2M353 446v3"/>
<path stroke="#c23200" stroke-width="3" d="M304.5 452v1M317.5 447v1m0 2v1M326.5 451v1M333.5 450v1M340.5 448v1M345.5 449v1M357.5 446v1M365.5 446v1m0 1v2M423.5 333v2M444.5 330v1M450.5 331v2M453.5 329v3M463.5 329v1m0 1v1"/>
<path stroke="#c23200" stroke-width="4" d="M460 329v1m0 2v1M616 432v1m0 1v1M638 430v3m0 1v1"/>
<path stroke="#c23200" stroke-width="5" d="M603.5 437v1M642.5 429v1m0 3v1M683.5 427v1m0 2v1M722.5 419v5M753.5 413v1m0 2v1M769.5 409v1M774.5 415v1M785.5 406v1m0 3v1"/>
<path stroke="#c23200" stroke-width="6" d="M738 416v1m0 1v1M780 408v1m0 4v1M791 406v2"/>
<path stroke="#c93d00" stroke-width="1" d="M264.5 453v1m0 1v1M799.5 404v1"/>
<path stroke="#c93d00" stroke-width="2" d="M252 453v1M263 453v2m0 1v1M266 452v1M268 450v1m0 1v1M274 451v2M276 450v1m0 3v1M278 450v1m0 2v1M282 451v1M284 450v4M290 449v1m0 1v2M296 451v1M302 449v3M309 448v1m0 3v1M313 447v1m0 1v1M315 449v1m0 1v1M320 451v1M322 447v2m0 1v2M324 448v3M331 447v1m0 1v2M336 446v1m0 1v2M343 447v2M353 450v1M355 446v3m0 1v1M381 444v2m0 1v1"/>
<path stroke="#c93d00" stroke-width="3" d="M304.5 449v1M317.5 449v1M340.5 447v1m0 1v1M357.5 445v1m0 1v1m0 1v1M370.5 448v1M375.5 449v1M383.5 444v1m0 1v2M423.5 332v1M463.5 330v1"/>
<path stroke="#c93d00" stroke-width="4" d="M460 331v1M579 435v1m0 1v1M591 434v1m0 2v1M608 433v4M625 432v1m0 1v1M629 433v1M638 433v1M647 430v1M656 428v1M679 427v1M703 425v1"/>
<path stroke="#c93d00" stroke-width="5" d="M603.5 434v2M620.5 431v5M642.5 432v1M669.5 430v1M674.5 427v1m0 2v2M683.5 426v1M693.5 426v1M722.5 424v1M732.5 419v1m0 1v1M743.5 416v1m0 1v1M748.5 417v1M753.5 412v1m0 2v1m0 2v1M758.5 411v1m0 1v3M774.5 410v2M785.5 407v1"/>
<path stroke="#c93d00" stroke-width="6" d="M738 417v1m0 1v1M764 411v1m0 4v1M780 409v1m0 2v1M791 405v1m0 3v1"/>
<path stroke="#cf4900" stroke-width="1" d="M264.5 452v1m0 1v1M799.5 403v1m0 3v2"/>
<path stroke="#cf4900" stroke-width="2" d="M268 454v1M276 453v1M290 453v1M309 450v2M313 448v1m0 1v1M315 447v1m0 2v1M320 449v1M324 447v1M336 447v1M343 446v1M348 447v1M355 449v1M363 447v1M368 447v1M381 446v1m0 1v1"/>
<path stroke="#cf4900" stroke-width="3" d="M304.5 448v1m0 2v1M333.5 446v3M340.5 446v1m0 3v1M350.5 446v1m0 1v2M357.5 448v1M360.5 450v1M365.5 445v1M370.5 445v2m0 2v1M375.5 445v2M378.5 445v2M383.5 445v1M405.5 446v1M463.5 442v1"/>
<path stroke="#cf4900" stroke-width="4" d="M483 440v1M493 439v1m0 1v1M555 436v2M567 436v1m0 1v1m0 1v1M579 438v1M583 434v2m0 1v1M591 435v2M608 437v1M616 433v1m0 1v2M625 435v1M629 430v3m0 1v1M647 429v1m0 2v2M656 429v2m0 1v2M665 429v1m0 1v1M679 425v2M703 422v1m0 1v1m0 1v1"/>
<path stroke="#cf4900" stroke-width="5" d="M603.5 433v1m0 2v1M642.5 430v2M651.5 429v1m0 1v1M669.5 428v2M674.5 426v1m0 2v1M683.5 425v1m0 2v2M693.5 424v1m0 2v2M698.5 423v1m0 2v1m0 1v1M707.5 425v3M717.5 424v1M727.5 420v1m0 1v1M732.5 417v1m0 2v1m0 2v1M748.5 415v2M753.5 414v1m0 2v1M774.5 409v1m0 2v3M796.5 403v4m0 3v1"/>
<path stroke="#cf4900" stroke-width="6" d="M764 417v1M780 411v1m0 2v1"/>
<path stroke="#d55700" stroke-width="1" d="M799.5 405v1m0 3v2"/>
<path stroke="#d55700" stroke-width="2" d="M313 451v1M315 448v1M324 451v1M336 450v1M348 448v1M373 444v1m0 2v1"/>
<path stroke="#d55700" stroke-width="3" d="M304.5 450v1M333.5 449v1M360.5 448v1M370.5 447v1M375.5 447v1M378.5 447v3M383.5 448v1M397.5 443v1m0 2v1M405.5 445v1M408.5 442v4M417.5 442v2M432.5 442v5M444.5 442v1m0 2v1M447.5 441v3M450.5 440v1m0 1v1M463.5 440v1m0 2v2M521.5 438v1"/>
<path stroke="#d55700" stroke-width="4" d="M460 440v1m0 1v1m0 1v1M483 442v1M493 440v1m0 1v1M514 438v1m0 2v1M536 438v1M571 436v1M579 436v1m0 2v1M583 438v1M591 438v1M595 434v1m0 1v2M612 434v1M625 431v1m0 1v1M647 431v1M656 431v1M665 432v1M679 428v3M703 427v1"/>
<path stroke="#d55700" stroke-width="5" d="M633.5 434v1M651.5 433v1M660.5 428v1M669.5 427v1m0 3v1M674.5 428v1M688.5 424v1m0 1v1m0 2v1M698.5 424v1m0 2v1M707.5 422v3M712.5 425v2M717.5 423v1M727.5 418v1m0 2v1M732.5 418v1m0 3v1M743.5 415v1m0 1v1m0 1v3M748.5 414v1m0 3v3M796.5 407v3"/>
<path stroke="#d55700" stroke-width="6" d="M764 410v1m0 1v1m0 1v1M780 410v1"/>
<path stroke="#db6700" stroke-width="1" d="M799.5 406v1"/>
<path stroke="#db6700" stroke-width="2" d="M348 446v1m0 2v2M363 445v1m0 2v2M368 445v2m0 1v2M373 445v2"/>
<path stroke="#db6700" stroke-width="3" d="M350.5 447v1m0 2v1M360.5 446v2M375.5 448v1M386.5 445v2M391.5 447v2M394.5 443v1m0 1v2M397.5 444v1m0 2v1M402.5 446v1M405.5 443v2m0 2v1M408.5 446v1M417.5 444v3M420.5 444v1M426.5 444v1m0 1v1M444.5 441v1m0 2v1M447.5 444v1M450.5 443v1M453.5 441v1M463.5 441v1M479.5 442v1M486.5 440v1m0 1v1M503.5 440v1M521.5 439v4"/>
<path stroke="#db6700" stroke-width="4" d="M460 441v1M483 439v1m0 1v1M493 443v1M500 438v1m0 1v1M514 442v1M536 437v1m0 1v3M540 438v2M551 436v1m0 1v1M555 438v3M559 440v1M563 437v2M567 437v1m0 1v1M571 437v2M583 436v1M587 434v1m0 2v1M599 434v1m0 1v1M612 432v2m0 1v1M665 427v2m0 1v1M703 423v1"/>
<path stroke="#db6700" stroke-width="5" d="M633.5 431v3M651.5 428v1m0 1v1m0 1v1M660.5 432v1M669.5 426v1M688.5 427v2M693.5 425v1M698.5 425v1M712.5 423v2M717.5 420v2M727.5 419v1m0 3v2"/>
<path stroke="#db6700" stroke-width="6" d="M764 413v1m0 1v1"/>
<path stroke="#e17900" stroke-width="2" d="M363 446v1M373 448v1M389 446v2M400 444v1"/>
<path stroke="#e17900" stroke-width="3" d="M360.5 449v1M386.5 444v1m0 2v1M391.5 446v1M394.5 444v1M397.5 445v1M402.5 442v1m0 1v1M414.5 446v1M423.5 442v1m0 1v1M426.5 442v1M441.5 442v3M444.5 443v1M450.5 441v1m0 2v1M453.5 444v1M456.5 440v1m0 2v2M466.5 441v3M476.5 440v4M479.5 443v1M486.5 439v1m0 1v1m0 1v1M489.5 442v1M503.5 442v1M532.5 439v1m0 1v1M547.5 438v1m0 2v1"/>
<path stroke="#e17900" stroke-width="4" d="M460 443v1M473 440v1m0 1v1M483 443v1M500 441v1M507 440v1M514 439v2M540 437v1m0 2v1M544 437v1m0 2v1M551 439v2M559 437v1m0 1v1M563 436v1m0 2v1M571 435v1m0 3v1M575 435v2M587 436v1m0 1v1M595 435v1m0 2v1M599 433v1m0 1v1M612 436v1"/>
<path stroke="#e17900" stroke-width="5" d="M633.5 430v1m0 4v1M660.5 429v3M688.5 425v1M712.5 422v1M717.5 422v1m0 2v1"/>
<path stroke="#e78d00" stroke-width="2" d="M389 448v1M400 443v1"/>
<path stroke="#e78d00" stroke-width="3" d="M386.5 448v1M391.5 445v1M394.5 447v1M402.5 445v1M411.5 442v1m0 3v1M414.5 442v1M420.5 442v1m0 3v1M423.5 443v1m0 1v1M426.5 445v1M429.5 446v1M441.5 440v2M447.5 440v1M453.5 440v1m0 1v2M456.5 441v1M466.5 439v1M469.5 441v2M476.5 439v1M479.5 439v1m0 1v1M489.5 439v1m0 1v1M496.5 443v1M503.5 439v1m0 1v1M510.5 441v2M532.5 438v1M547.5 440v1"/>
<path stroke="#e78d00" stroke-width="4" d="M473 441v1M500 439v1m0 2v1M507 438v2M518 438v2m0 1v1M525 440v1M529 438v1M540 441v1M544 438v1M551 437v1M559 436v1M563 435v1M575 438v2M587 435v1M599 437v1"/>
<path stroke="#e78d00" stroke-width="5" d="M712.5 421v1"/>
<path stroke="#eca200" stroke-width="2" d="M389 444v2M400 445v1"/>
<path stroke="#eca200" stroke-width="3" d="M391.5 444v1M402.5 443v1M411.5 443v3M414.5 443v1m0 1v1M420.5 443v1m0 1v1M423.5 446v1M426.5 443v1M435.5 441v2M456.5 442v1M466.5 440v1M469.5 439v2m0 2v1M479.5 440v1M489.5 440v1m0 2v1M496.5 441v1M503.5 438v1M510.5 438v2M532.5 437v1m0 2v1M547.5 437v1m0 1v1"/>
<path stroke="#eca200" stroke-width="4" d="M507 441v2M518 440v1M525 438v1m0 2v2M529 439v1m0 2v1M544 441v1M559 438v1M575 437v1"/>
<path stroke="#f2ba00" stroke-width="2" d="M400 446v2"/>
<path stroke="#f2ba00" stroke-width="3" d="M414.5 444v1M429.5 442v3M435.5 443v2M438.5 442v1m0 1v2M496.5 439v2m0 1v1M510.5 440v1"/>
<path stroke="#f2ba00" stroke-width="4" d="M473 439v1m0 3v1M518 442v1M525 439v1M529 440v2M544 439v1"/>
<path stroke="#f7d400" stroke-width="3" d="M429.5 445v1M435.5 445v1M438.5 441v1m0 1v1"/></g>
<rect x="90" y="515" width="699" height="1" fill="#454545"/>
<rect x="90" y="475" width="699" height="1" fill="#454545"/>
<rect x="90" y="435" width="699" height="1" fill="#454545"/>
<rect x="90" y="395" width="699" height="1" fill="#454545"/>
<rect x="90" y="355" width="699" height="1" fill="#454545"/>
<rect x="90" y="315" width="699" height="1" fill="#454545"/>
<rect x="90" y="277" width="699" height="1" fill="#454545"/>
<rect x="90" y="237" width="699" height="1" fill="#454545"/>
<rect x="90" y="197" width="699" height="1" fill="#454545"/>
<rect x="90" y="157" width="699" height="1" fill="#454545"/>
<rect x="90" y="117" width="699" height="1" fill="#454545"/>
<rect x="90" y="77" width="699" height="1" fill="#454545"/>
<rect x="101" y="38" width="1" height="486" fill="#454545"/>
<rect x="101" y="38" width="1" height="10" fill="#000"/>
<rect x="208" y="38" width="1" height="486" fill="#454545"/>
<rect x="208" y="38" width="1" height="10" fill="#000"/>
<rect x="316" y="38" width="1" height="486" fill="#454545"/>
<rect x="316" y="38" width="1" height="10" fill="#000"/>
<rect x="423" y="38" width="1" height="486" fill="#454545"/>
<rect x="423" y="38" width="1" height="10" fill="#000"/>
<rect x="530" y="38" width="1" height="486" fill="#454545"/>
<rect x="530" y="38" width="1" height="10" fill="#000"/>
<rect x="637" y="38" width="1" height="486" fill="#454545"/>
<rect x="637" y="38" width="1" height="10" fill="#000"/>
<rect x="745" y="38" width="1" height="486" fill="#454545"/>
<rect x="745" y="38" width="1" height="10" fill="#000"/>
<rect x="78" y="38" width="722" height="1" fill="#000"/>
<rect x="78" y="38" width="2" height="498" fill="#000"/>
<rect x="799" y="38" width="1" height="498" fill="#000"/>
<rect x="90" y="38" width="1" height="5" fill="#000"/>
<rect x="112" y="38" width="1" height="5" fill="#000"/>
<rect x="122" y="38" width="1" height="5" fill="#000"/>
<rect x="133" y="38" width="1" height="5" fill="#000"/>
<rect x="144" y="38" width="1" height="5" fill="#000"/>
<rect x="155" y="38" width="1" height="5" fill="#000"/>
<rect x="165" y="38" width="1" height="5" fill="#000"/>
<rect x="176" y="38" width="1" height="5" fill="#000"/>
<rect x="187" y="38" width="1" height="5" fill="#000"/>
<rect x="197" y="38" width="1" height="5" fill="#000"/>
<rect x="219" y="38" width="1" height="5" fill="#000"/>
<rect x="230" y="38" width="1" height="5" fill="#000"/>
<rect x="240" y="38" width="1" height="5" fill="#000"/>
<rect x="251" y="38" width="1" height="5" fill="#000"/>
<rect x="262" y="38" width="1" height="5" fill="#000"/>
<rect x="273" y="38" width="1" height="5" fill="#000"/>
<rect x="284" y="38" width="1" height="5" fill="#000"/>
<rect x="294" y="38" width="1" height="5" fill="#000"/>
<rect x="305" y="38" width="1" height="5" fill="#000"/>
<rect x="327" y="38" width="1" height="5" fill="#000"/>
<rect x="337" y="38" width="1" height="5" fill="#000"/>
<rect x="348" y="38" width="1" height="5" fill="#000"/>
<rect x="359" y="38" width="1" height="5" fill="#000"/>
<rect x="370" y="38" width="1" height="5" fill="#000"/>
<rect x="380" y="38" width="1" height="5" fill="#000"/>
<rect x="391" y="38" width="1" height="5" fill="#000"/>
<rect x="402" y="38" width="1" height="5" fill="#000"/>
<rect x="412" y="38" width="1" height="5" fill="#000"/>
<rect x="434" y="38" width="1" height="5" fill="#000"/>
<rect x="444" y="38" width="1" height="5" fill="#000"/>
<rect x="455" y="38" width="1" height="5" fill="#000"/>
<rect x="466" y="38" width="1" height="5" fill="#000"/>
<rect x="477" y="38" width="1" height="5" fill="#000"/>
<rect x="487" y="38" width="1" height="5" fill="#000"/>
<rect x="498" y="38" width="1" height="5" fill="#000"/>
<rect x="509" y="38" width="1" height="5" fill="#000"/>
<rect x="519" y="38" width="1" height="5" fill="#000"/>
<rect x="541" y="38" width="1" height="5" fill="#000"/>
<rect x="551" y="38" width="1" height="5" fill="#000"/>
<rect x="562" y="38" width="1" height="5" fill="#000"/>
<rect x="573" y="38" width="1" height="5" fill="#000"/>
<rect x="584" y="38" width="1" height="5" fill="#000"/>
<rect x="594" y="38" width="1" height="5" fill="#000"/>
<rect x="605" y="38" width="1" height="5" fill="#000"/>
<rect x="616" y="38" width="1" height="5" fill="#000"/>
<rect x="626" y="38" width="1" height="5" fill="#000"/>
<rect x="648" y="38" width="1" height="5" fill="#000"/>
<rect x="659" y="38" width="1" height="5" fill="#000"/>
<rect x="669" y="38" width="1" height="5" fill="#000"/>
<rect x="680" y="38" width="1" height="5" fill="#000"/>
<rect x="691" y="38" width="1" height="5" fill="#000"/>
<rect x="702" y="38" width="1" height="5" fill="#000"/>
<rect x="713" y="38" width="1" height="5" fill="#000"/>
<rect x="723" y="38" width="1" height="5" fill="#000"/>
<rect x="734" y="38" width="1" height="5" fill="#000"/>
<rect x="756" y="38" width="1" height="5" fill="#000"/>
<rect x="766" y="38" width="1" height="5" fill="#000"/>
<rect x="777" y="38" width="1" height="5" fill="#000"/>
<rect x="788" y="38" width="1" height="5" fill="#000"/>
<rect x="78" y="42" width="7" height="1" fill="#000"/>
<rect x="794" y="42" width="6" height="1" fill="#000"/>
<rect x="78" y="46" width="7" height="1" fill="#000"/>
<rect x="794" y="46" width="6" height="1" fill="#000"/>
<rect x="78" y="49" width="7" height="1" fill="#000"/>
<rect x="794" y="49" width="6" height="1" fill="#000"/>
<rect x="78" y="53" width="7" height="1" fill="#000"/>
<rect x="794" y="53" width="6" height="1" fill="#000"/>
<rect x="78" y="57" width="7" height="1" fill="#000"/>
<rect x="794" y="57" width="6" height="1" fill="#000"/>
<text x="62.5" y="518.7" text-anchor="end" class="t">100</text>
<text x="62.5" y="478.7" text-anchor="end" class="t">200</text>
<text x="62.5" y="438.7" text-anchor="end" class="t">300</text>
<text x="62.5" y="398.7" text-anchor="end" class="t">400</text>
<text x="62.5" y="358.7" text-anchor="end" class="t">500</text>
<text x="62.5" y="318.7" text-anchor="end" class="t">600</text>
<text x="62.5" y="280.7" text-anchor="end" class="t">700</text>
<text x="62.5" y="240.7" text-anchor="end" class="t">800</text>
<text x="62.5" y="200.7" text-anchor="end" class="t">900</text>
<text x="62.5" y="160.7" text-anchor="end" class="t">1000</text>
<text x="62.5" y="120.7" text-anchor="end" class="t">1100</text>
<text x="62.5" y="80.7" text-anchor="end" class="t">1200</text>
<text x="62.5" y="41.7" text-anchor="end" class="t">1300</text>
<text x="99.5" y="563" text-anchor="middle" class="t">2.0</text>
<text x="206.5" y="563" text-anchor="middle" class="t">4.0</text>
<text x="314.5" y="563" text-anchor="middle" class="t">6.0</text>
<text x="421.5" y="563" text-anchor="middle" class="t">8.0</text>
<text x="528.5" y="563" text-anchor="middle" class="t">10.0</text>
<text x="635.5" y="563" text-anchor="middle" class="t">12.0</text>
<text x="743.5" y="563" text-anchor="middle" class="t">14.0</text>
<defs><linearGradient id="cb" x1="0" y1="0" x2="0" y2="1"><stop offset="0.0000" stop-color="#ffff00"/><stop offset="0.0167" stop-color="#fdf200"/><stop offset="0.0333" stop-color="#fbe600"/><stop offset="0.0500" stop-color="#f9db00"/><stop offset="0.0667" stop-color="#f6cf00"/><stop offset="0.0833" stop-color="#f4c400"/><stop offset="0.1000" stop-color="#f2ba00"/><stop offset="0.1167" stop-color="#f0b000"/><stop offset="0.1333" stop-color="#eda600"/><stop offset="0.1500" stop-color="#eb9d00"/><stop offset="0.1667" stop-color="#e99400"/><stop offset="0.1833" stop-color="#e68b00"/><stop offset="0.2000" stop-color="#e48300"/><stop offset="0.2167" stop-color="#e27b00"/><stop offset="0.2333" stop-color="#df7300"/><stop offset="0.2500" stop-color="#dd6c00"/><stop offset="0.2667" stop-color="#da6500"/><stop offset="0.2833" stop-color="#d85e00"/><stop offset="0.3000" stop-color="#d55700"/><stop offset="0.3167" stop-color="#d35100"/><stop offset="0.3333" stop-color="#d04c00"/><stop offset="0.3500" stop-color="#ce4600"/><stop offset="0.3667" stop-color="#cb4100"/><stop offset="0.3833" stop-color="#c83c00"/><stop offset="0.4000" stop-color="#c63700"/><stop offset="0.4167" stop-color="#c33300"/><stop offset="0.4333" stop-color="#c02e00"/><stop offset="0.4500" stop-color="#bd2a00"/><stop offset="0.4667" stop-color="#ba2700"/><stop offset="0.4833" stop-color="#b72300"/><stop offset="0.5000" stop-color="#b42000"/><stop offset="0.5167" stop-color="#b11d1b"/><stop offset="0.5333" stop-color="#ae1a35"/><stop offset="0.5500" stop-color="#ab174f"/><stop offset="0.5667" stop-color="#a81568"/><stop offset="0.5833" stop-color="#a51280"/><stop offset="0.6000" stop-color="#a11096"/><stop offset="0.6167" stop-color="#9e0eab"/><stop offset="0.6333" stop-color="#9a0dbe"/><stop offset="0.6500" stop-color="#970bce"/><stop offset="0.6667" stop-color="#9309dd"/><stop offset="0.6833" stop-color="#8f08e9"/><stop offset="0.7000" stop-color="#8c07f3"/><stop offset="0.7167" stop-color="#8806f9"/><stop offset="0.7333" stop-color="#8405fe"/><stop offset="0.7500" stop-color="#8004ff"/><stop offset="0.7667" stop-color="#7b03fe"/><stop offset="0.7833" stop-color="#7703f9"/><stop offset="0.8000" stop-color="#7202f3"/><stop offset="0.8167" stop-color="#6d02e9"/><stop offset="0.8333" stop-color="#6801dd"/><stop offset="0.8500" stop-color="#6301ce"/><stop offset="0.8667" stop-color="#5d01be"/><stop offset="0.8833" stop-color="#5700ab"/><stop offset="0.9000" stop-color="#510096"/><stop offset="0.9167" stop-color="#4a0080"/><stop offset="0.9333" stop-color="#420068"/><stop offset="0.9500" stop-color="#39004f"/><stop offset="0.9667" stop-color="#2f0035"/><stop offset="0.9833" stop-color="#21001b"/><stop offset="1.0000" stop-color="#000000"/></linearGradient></defs>
<rect x="817" y="38" width="37" height="498" fill="url(#cb)"/>
<rect x="817.5" y="38.5" width="36" height="497" fill="none" stroke="#000" stroke-width="1"/>
<text x="867.5" y="539.4" class="c">0</text>
<rect x="817" y="436" width="7" height="1" fill="#000"/>
<rect x="847" y="436" width="7" height="1" fill="#000"/>
<text x="867.5" y="439.4" class="c">10</text>
<rect x="817" y="337" width="7" height="1" fill="#000"/>
<rect x="847" y="337" width="7" height="1" fill="#000"/>
<text x="867.5" y="340.4" class="c">20</text>
<rect x="817" y="237" width="7" height="1" fill="#000"/>
<rect x="847" y="237" width="7" height="1" fill="#000"/>
<text x="867.5" y="240.4" class="c">30</text>
<rect x="817" y="138" width="7" height="1" fill="#000"/>
<rect x="847" y="138" width="7" height="1" fill="#000"/>
<text x="867.5" y="141.4" class="c">40</text>
<text x="867.5" y="41.4" class="c">50</text>
<text x="240" y="14" class="b">Tucuman 2025 061 21:33:05 UTC</text>
<text x="552.5" y="14" class="b">02Mar25</text>
<text x="798" y="20.5" class="b">SNR [dB]</text>
<text x="370.5" y="589.5" class="b" style="font-size:18px">Frequency [MHz]</text>
<text transform="translate(14.5,332) rotate(-90)" class="b">Range [km]</text>
<text x="40" y="588.7" class="s" style="font-size:13px">RxMask 11111111</text>
<text x="592" y="588.9" class="s" style="font-size:13.35px">VIPIR  TMJ20_2025061213305.RIQ</text>
</svg>
</body></html>
